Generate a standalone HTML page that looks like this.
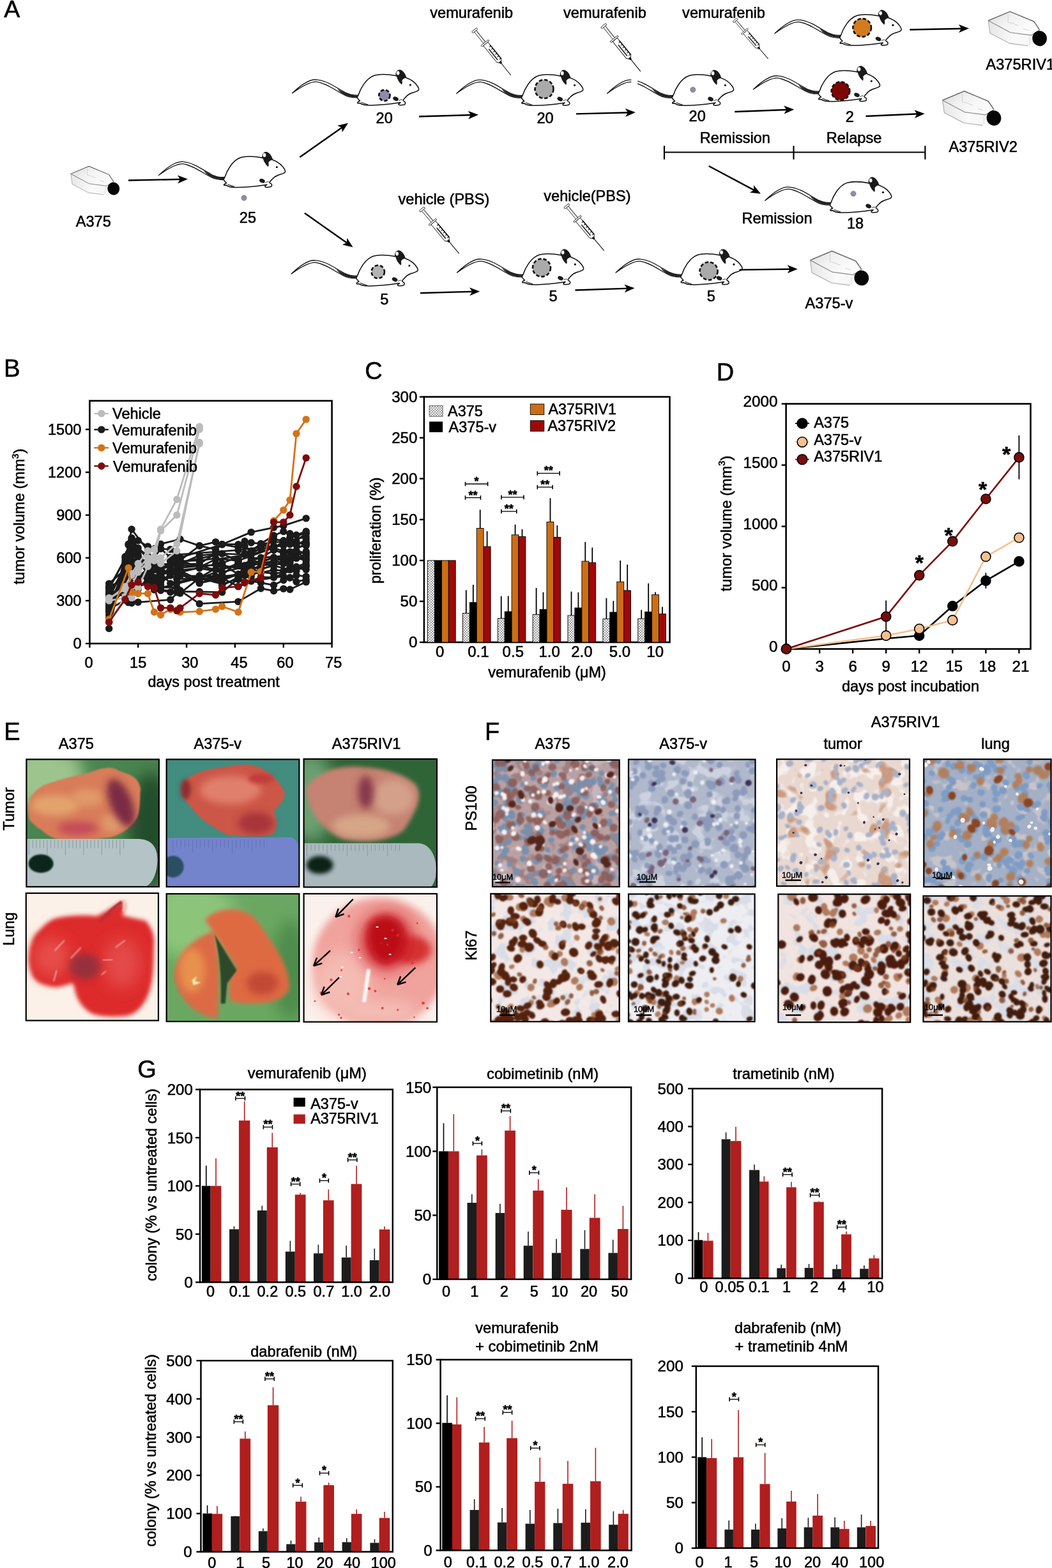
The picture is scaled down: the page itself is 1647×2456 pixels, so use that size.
<!DOCTYPE html>
<html><head><meta charset="utf-8"><title>Figure</title>
<style>html,body{margin:0;padding:0;background:#fff;}svg{display:block;}text{font-family:'Liberation Sans', Arial, sans-serif;stroke:#000;stroke-width:0.55px;}</style></head>
<body><svg width="1647" height="2456" viewBox="0 0 1647 2456" font-family="'Liberation Sans', Arial, sans-serif">
<rect width="1647" height="2456" fill="#fff"/>
<defs><linearGradient id="flasktop" x1="0" y1="0" x2="1" y2="0.6"><stop offset="0" stop-color="#d9d9d9"/><stop offset="0.45" stop-color="#f2f2f2"/><stop offset="1" stop-color="#fdfdfd"/></linearGradient><linearGradient id="flaskside" x1="0" y1="0" x2="1" y2="0"><stop offset="0" stop-color="#e6e6e6"/><stop offset="0.5" stop-color="#fafafa"/><stop offset="1" stop-color="#f4f4f4"/></linearGradient></defs>
<text x="6.3" y="26.6" font-size="37.5" text-anchor="start" fill="#000" >A</text>
<g transform="translate(177.8,295.5) scale(0.06378) translate(-1215,-720)"><path d="M165,355 L610,170 L1100,375 L1215,545 L1215,700 L980,870 L600,820 L200,610 Z" fill="url(#flaskside)"/><path d="M165,355 L620,600 L1040,655 L1215,545 L1100,375 L610,170 Z" fill="url(#flasktop)"/><path d="M165,355 L200,610 L600,820 L980,870" fill="none" stroke="#a8a8a8" stroke-width="14" stroke-linejoin="round"/><path d="M620,600 L1040,655 L1215,545 M165,355 L620,600" fill="none" stroke="#8a8a8a" stroke-width="16" stroke-linejoin="round"/><path d="M165,355 L610,170 L1100,375 L1215,545" fill="none" stroke="#6e6e6e" stroke-width="20" stroke-linejoin="round"/><path d="M570,230 L570,390 L640,400 L780,460 M880,520 L1000,560" fill="none" stroke="#bdbdbd" stroke-width="9"/><path d="M1010,690 L1010,860" fill="none" stroke="#d0d0d0" stroke-width="9"/><ellipse cx="1215" cy="720" rx="148" ry="156" fill="#060606" transform="rotate(-12 1215 720)"/></g>
<g transform="translate(1627.6,60.2) scale(0.07653) translate(-1215,-720)"><path d="M165,355 L610,170 L1100,375 L1215,545 L1215,700 L980,870 L600,820 L200,610 Z" fill="url(#flaskside)"/><path d="M165,355 L620,600 L1040,655 L1215,545 L1100,375 L610,170 Z" fill="url(#flasktop)"/><path d="M165,355 L200,610 L600,820 L980,870" fill="none" stroke="#a8a8a8" stroke-width="14" stroke-linejoin="round"/><path d="M620,600 L1040,655 L1215,545 M165,355 L620,600" fill="none" stroke="#8a8a8a" stroke-width="16" stroke-linejoin="round"/><path d="M165,355 L610,170 L1100,375 L1215,545" fill="none" stroke="#6e6e6e" stroke-width="20" stroke-linejoin="round"/><path d="M570,230 L570,390 L640,400 L780,460 M880,520 L1000,560" fill="none" stroke="#bdbdbd" stroke-width="9"/><path d="M1010,690 L1010,860" fill="none" stroke="#d0d0d0" stroke-width="9"/><ellipse cx="1215" cy="720" rx="148" ry="156" fill="#060606" transform="rotate(-12 1215 720)"/></g>
<g transform="translate(1556,184.9) scale(0.07653) translate(-1215,-720)"><path d="M165,355 L610,170 L1100,375 L1215,545 L1215,700 L980,870 L600,820 L200,610 Z" fill="url(#flaskside)"/><path d="M165,355 L620,600 L1040,655 L1215,545 L1100,375 L610,170 Z" fill="url(#flasktop)"/><path d="M165,355 L200,610 L600,820 L980,870" fill="none" stroke="#a8a8a8" stroke-width="14" stroke-linejoin="round"/><path d="M620,600 L1040,655 L1215,545 M165,355 L620,600" fill="none" stroke="#8a8a8a" stroke-width="16" stroke-linejoin="round"/><path d="M165,355 L610,170 L1100,375 L1215,545" fill="none" stroke="#6e6e6e" stroke-width="20" stroke-linejoin="round"/><path d="M570,230 L570,390 L640,400 L780,460 M880,520 L1000,560" fill="none" stroke="#bdbdbd" stroke-width="9"/><path d="M1010,690 L1010,860" fill="none" stroke="#d0d0d0" stroke-width="9"/><ellipse cx="1215" cy="720" rx="148" ry="156" fill="#060606" transform="rotate(-12 1215 720)"/></g>
<g transform="translate(1348.8,435.4) scale(0.07653) translate(-1215,-720)"><path d="M165,355 L610,170 L1100,375 L1215,545 L1215,700 L980,870 L600,820 L200,610 Z" fill="url(#flaskside)"/><path d="M165,355 L620,600 L1040,655 L1215,545 L1100,375 L610,170 Z" fill="url(#flasktop)"/><path d="M165,355 L200,610 L600,820 L980,870" fill="none" stroke="#a8a8a8" stroke-width="14" stroke-linejoin="round"/><path d="M620,600 L1040,655 L1215,545 M165,355 L620,600" fill="none" stroke="#8a8a8a" stroke-width="16" stroke-linejoin="round"/><path d="M165,355 L610,170 L1100,375 L1215,545" fill="none" stroke="#6e6e6e" stroke-width="20" stroke-linejoin="round"/><path d="M570,230 L570,390 L640,400 L780,460 M880,520 L1000,560" fill="none" stroke="#bdbdbd" stroke-width="9"/><path d="M1010,690 L1010,860" fill="none" stroke="#d0d0d0" stroke-width="9"/><ellipse cx="1215" cy="720" rx="148" ry="156" fill="#060606" transform="rotate(-12 1215 720)"/></g>
<g transform="translate(742.3,46.6) rotate(51.09) scale(1.000)" stroke="#111" fill="#fff"><rect x="0" y="-5" width="3" height="10" rx="1.5" stroke-width="0.8"/><rect x="3" y="-2" width="25" height="4" stroke-width="0.8"/><line x1="5" y1="-1" x2="26" y2="-1" stroke-width="0.6" stroke="#555"/><rect x="26" y="-7.5" width="2.5" height="15" rx="1.2" stroke-width="0.8"/><path d="M28.5,-4.5 L62,-4.5 L66,-1 L66,1 L62,4.5 L28.5,4.5 Z" stroke-width="0.9"/><line x1="34" y1="-4.5" x2="62" y2="-4.5" stroke-width="1.6"/><line x1="36" y1="-4.5" x2="36" y2="-1.5" stroke-width="1.1"/><line x1="41" y1="-4.5" x2="41" y2="-1.5" stroke-width="1.1"/><line x1="46" y1="-4.5" x2="46" y2="-1.5" stroke-width="1.1"/><line x1="51" y1="-4.5" x2="51" y2="-1.5" stroke-width="1.1"/><line x1="56" y1="-4.5" x2="56" y2="-1.5" stroke-width="1.1"/><line x1="61" y1="-4.5" x2="61" y2="-1.5" stroke-width="1.1"/><line x1="38" y1="1" x2="60" y2="1" stroke-width="1.6" stroke="#222"/><rect x="64" y="-1.6" width="4" height="3.2" fill="#111" stroke="none"/><line x1="68" y1="0" x2="91.4" y2="0" stroke-width="1.1"/></g>
<g transform="translate(944.4,39.6) rotate(51.06) scale(1.018)" stroke="#111" fill="#fff"><rect x="0" y="-5" width="3" height="10" rx="1.5" stroke-width="0.8"/><rect x="3" y="-2" width="25" height="4" stroke-width="0.8"/><line x1="5" y1="-1" x2="26" y2="-1" stroke-width="0.6" stroke="#555"/><rect x="26" y="-7.5" width="2.5" height="15" rx="1.2" stroke-width="0.8"/><path d="M28.5,-4.5 L62,-4.5 L66,-1 L66,1 L62,4.5 L28.5,4.5 Z" stroke-width="0.9"/><line x1="34" y1="-4.5" x2="62" y2="-4.5" stroke-width="1.6"/><line x1="36" y1="-4.5" x2="36" y2="-1.5" stroke-width="1.1"/><line x1="41" y1="-4.5" x2="41" y2="-1.5" stroke-width="1.1"/><line x1="46" y1="-4.5" x2="46" y2="-1.5" stroke-width="1.1"/><line x1="51" y1="-4.5" x2="51" y2="-1.5" stroke-width="1.1"/><line x1="56" y1="-4.5" x2="56" y2="-1.5" stroke-width="1.1"/><line x1="61" y1="-4.5" x2="61" y2="-1.5" stroke-width="1.1"/><line x1="38" y1="1" x2="60" y2="1" stroke-width="1.6" stroke="#222"/><rect x="64" y="-1.6" width="4" height="3.2" fill="#111" stroke="none"/><line x1="68" y1="0" x2="91.4" y2="0" stroke-width="1.1"/></g>
<g transform="translate(1150.3,31) rotate(49.44) scale(0.880)" stroke="#111" fill="#fff"><rect x="0" y="-5" width="3" height="10" rx="1.5" stroke-width="0.8"/><rect x="3" y="-2" width="25" height="4" stroke-width="0.8"/><line x1="5" y1="-1" x2="26" y2="-1" stroke-width="0.6" stroke="#555"/><rect x="26" y="-7.5" width="2.5" height="15" rx="1.2" stroke-width="0.8"/><path d="M28.5,-4.5 L62,-4.5 L66,-1 L66,1 L62,4.5 L28.5,4.5 Z" stroke-width="0.9"/><line x1="34" y1="-4.5" x2="62" y2="-4.5" stroke-width="1.6"/><line x1="36" y1="-4.5" x2="36" y2="-1.5" stroke-width="1.1"/><line x1="41" y1="-4.5" x2="41" y2="-1.5" stroke-width="1.1"/><line x1="46" y1="-4.5" x2="46" y2="-1.5" stroke-width="1.1"/><line x1="51" y1="-4.5" x2="51" y2="-1.5" stroke-width="1.1"/><line x1="56" y1="-4.5" x2="56" y2="-1.5" stroke-width="1.1"/><line x1="61" y1="-4.5" x2="61" y2="-1.5" stroke-width="1.1"/><line x1="38" y1="1" x2="60" y2="1" stroke-width="1.6" stroke="#222"/><rect x="64" y="-1.6" width="4" height="3.2" fill="#111" stroke="none"/><line x1="68" y1="0" x2="91.4" y2="0" stroke-width="1.1"/></g>
<g transform="translate(660,327) rotate(50.02) scale(1.000)" stroke="#111" fill="#fff"><rect x="0" y="-5" width="3" height="10" rx="1.5" stroke-width="0.8"/><rect x="3" y="-2" width="25" height="4" stroke-width="0.8"/><line x1="5" y1="-1" x2="26" y2="-1" stroke-width="0.6" stroke="#555"/><rect x="26" y="-7.5" width="2.5" height="15" rx="1.2" stroke-width="0.8"/><path d="M28.5,-4.5 L62,-4.5 L66,-1 L66,1 L62,4.5 L28.5,4.5 Z" stroke-width="0.9"/><line x1="34" y1="-4.5" x2="62" y2="-4.5" stroke-width="1.6"/><line x1="36" y1="-4.5" x2="36" y2="-1.5" stroke-width="1.1"/><line x1="41" y1="-4.5" x2="41" y2="-1.5" stroke-width="1.1"/><line x1="46" y1="-4.5" x2="46" y2="-1.5" stroke-width="1.1"/><line x1="51" y1="-4.5" x2="51" y2="-1.5" stroke-width="1.1"/><line x1="56" y1="-4.5" x2="56" y2="-1.5" stroke-width="1.1"/><line x1="61" y1="-4.5" x2="61" y2="-1.5" stroke-width="1.1"/><line x1="38" y1="1" x2="60" y2="1" stroke-width="1.6" stroke="#222"/><rect x="64" y="-1.6" width="4" height="3.2" fill="#111" stroke="none"/><line x1="68" y1="0" x2="91.4" y2="0" stroke-width="1.1"/></g>
<g transform="translate(886.4,321.9) rotate(50.01) scale(1.010)" stroke="#111" fill="#fff"><rect x="0" y="-5" width="3" height="10" rx="1.5" stroke-width="0.8"/><rect x="3" y="-2" width="25" height="4" stroke-width="0.8"/><line x1="5" y1="-1" x2="26" y2="-1" stroke-width="0.6" stroke="#555"/><rect x="26" y="-7.5" width="2.5" height="15" rx="1.2" stroke-width="0.8"/><path d="M28.5,-4.5 L62,-4.5 L66,-1 L66,1 L62,4.5 L28.5,4.5 Z" stroke-width="0.9"/><line x1="34" y1="-4.5" x2="62" y2="-4.5" stroke-width="1.6"/><line x1="36" y1="-4.5" x2="36" y2="-1.5" stroke-width="1.1"/><line x1="41" y1="-4.5" x2="41" y2="-1.5" stroke-width="1.1"/><line x1="46" y1="-4.5" x2="46" y2="-1.5" stroke-width="1.1"/><line x1="51" y1="-4.5" x2="51" y2="-1.5" stroke-width="1.1"/><line x1="56" y1="-4.5" x2="56" y2="-1.5" stroke-width="1.1"/><line x1="61" y1="-4.5" x2="61" y2="-1.5" stroke-width="1.1"/><line x1="38" y1="1" x2="60" y2="1" stroke-width="1.6" stroke="#222"/><rect x="64" y="-1.6" width="4" height="3.2" fill="#111" stroke="none"/><line x1="68" y1="0" x2="91.4" y2="0" stroke-width="1.1"/></g>
<g transform="translate(248.4,274.6) scale(0.14031) translate(-60,-318)" stroke-linejoin="round"><path d="M60,318 C150,232 250,160 330,167 C450,175 560,262 650,310 C700,335 740,342 795,340 L800,366 C742,372 690,362 640,337 C550,292 440,205 330,190 C250,186 150,252 60,318 Z" fill="#fff" stroke="#111" stroke-width="9"/><path d="M560,262 C600,290 640,310 700,330 C740,342 770,343 795,342 L798,362 C750,368 700,360 650,336 C610,318 585,300 560,262 Z" fill="#222"/><path d="M795,345 C820,270 880,150 980,118 C1060,95 1150,110 1222,124 C1212,85 1238,55 1266,62 C1300,72 1318,110 1330,145 C1372,160 1420,190 1445,222 C1462,245 1480,265 1470,283 C1455,300 1420,306 1395,315 C1370,325 1345,340 1330,358 C1312,378 1290,395 1302,405 C1322,412 1332,432 1312,446 L1272,452 C1252,452 1240,446 1250,436 L1268,422 C1150,440 1000,456 900,452 C860,450 830,440 815,428 L792,430 C780,422 800,410 816,404 C800,388 772,368 795,345 Z" fill="#fff" stroke="#111" stroke-width="11"/><path d="M1222,124 C1212,85 1238,55 1266,62 C1300,72 1318,110 1330,145 C1310,150 1295,160 1285,175 C1290,195 1288,215 1282,222 C1255,200 1235,170 1222,124 Z" fill="#1a1a1a"/><ellipse cx="1240" cy="92" rx="17" ry="22" fill="#fff"/><circle cx="1378" cy="226" r="11" fill="#000"/><ellipse cx="1215" cy="380" rx="32" ry="22" fill="#1a1a1a" transform="rotate(25 1215 380)"/><path d="M830,420 C860,430 880,440 905,445" fill="none" stroke="#111" stroke-width="8"/><path d="M1250,400 C1265,390 1280,388 1290,392" fill="none" stroke="#111" stroke-width="6"/></g>
<g transform="translate(457.5,146) scale(0.14031) translate(-60,-318)" stroke-linejoin="round"><path d="M60,318 C150,232 250,160 330,167 C450,175 560,262 650,310 C700,335 740,342 795,340 L800,366 C742,372 690,362 640,337 C550,292 440,205 330,190 C250,186 150,252 60,318 Z" fill="#fff" stroke="#111" stroke-width="9"/><path d="M560,262 C600,290 640,310 700,330 C740,342 770,343 795,342 L798,362 C750,368 700,360 650,336 C610,318 585,300 560,262 Z" fill="#222"/><path d="M795,345 C820,270 880,150 980,118 C1060,95 1150,110 1222,124 C1212,85 1238,55 1266,62 C1300,72 1318,110 1330,145 C1372,160 1420,190 1445,222 C1462,245 1480,265 1470,283 C1455,300 1420,306 1395,315 C1370,325 1345,340 1330,358 C1312,378 1290,395 1302,405 C1322,412 1332,432 1312,446 L1272,452 C1252,452 1240,446 1250,436 L1268,422 C1150,440 1000,456 900,452 C860,450 830,440 815,428 L792,430 C780,422 800,410 816,404 C800,388 772,368 795,345 Z" fill="#fff" stroke="#111" stroke-width="11"/><path d="M1222,124 C1212,85 1238,55 1266,62 C1300,72 1318,110 1330,145 C1310,150 1295,160 1285,175 C1290,195 1288,215 1282,222 C1255,200 1235,170 1222,124 Z" fill="#1a1a1a"/><ellipse cx="1240" cy="92" rx="17" ry="22" fill="#fff"/><circle cx="1378" cy="226" r="11" fill="#000"/><ellipse cx="1215" cy="380" rx="32" ry="22" fill="#1a1a1a" transform="rotate(25 1215 380)"/><path d="M830,420 C860,430 880,440 905,445" fill="none" stroke="#111" stroke-width="8"/><path d="M1250,400 C1265,390 1280,388 1290,392" fill="none" stroke="#111" stroke-width="6"/></g>
<g transform="translate(714.7,146.4) scale(0.14031) translate(-60,-318)" stroke-linejoin="round"><path d="M60,318 C150,232 250,160 330,167 C450,175 560,262 650,310 C700,335 740,342 795,340 L800,366 C742,372 690,362 640,337 C550,292 440,205 330,190 C250,186 150,252 60,318 Z" fill="#fff" stroke="#111" stroke-width="9"/><path d="M560,262 C600,290 640,310 700,330 C740,342 770,343 795,342 L798,362 C750,368 700,360 650,336 C610,318 585,300 560,262 Z" fill="#222"/><path d="M795,345 C820,270 880,150 980,118 C1060,95 1150,110 1222,124 C1212,85 1238,55 1266,62 C1300,72 1318,110 1330,145 C1372,160 1420,190 1445,222 C1462,245 1480,265 1470,283 C1455,300 1420,306 1395,315 C1370,325 1345,340 1330,358 C1312,378 1290,395 1302,405 C1322,412 1332,432 1312,446 L1272,452 C1252,452 1240,446 1250,436 L1268,422 C1150,440 1000,456 900,452 C860,450 830,440 815,428 L792,430 C780,422 800,410 816,404 C800,388 772,368 795,345 Z" fill="#fff" stroke="#111" stroke-width="11"/><path d="M1222,124 C1212,85 1238,55 1266,62 C1300,72 1318,110 1330,145 C1310,150 1295,160 1285,175 C1290,195 1288,215 1282,222 C1255,200 1235,170 1222,124 Z" fill="#1a1a1a"/><ellipse cx="1240" cy="92" rx="17" ry="22" fill="#fff"/><circle cx="1378" cy="226" r="11" fill="#000"/><ellipse cx="1215" cy="380" rx="32" ry="22" fill="#1a1a1a" transform="rotate(25 1215 380)"/><path d="M830,420 C860,430 880,440 905,445" fill="none" stroke="#111" stroke-width="8"/><path d="M1250,400 C1265,390 1280,388 1290,392" fill="none" stroke="#111" stroke-width="6"/></g>
<g transform="translate(950.5,146.4) scale(0.14031) translate(-60,-318)" stroke-linejoin="round"><path d="M60,318 C150,232 250,160 330,167 C450,175 560,262 650,310 C700,335 740,342 795,340 L800,366 C742,372 690,362 640,337 C550,292 440,205 330,190 C250,186 150,252 60,318 Z" fill="#fff" stroke="#111" stroke-width="9"/><path d="M560,262 C600,290 640,310 700,330 C740,342 770,343 795,342 L798,362 C750,368 700,360 650,336 C610,318 585,300 560,262 Z" fill="#222"/><rect x="330" y="140" width="70" height="80" fill="#fff"/><path d="M795,345 C820,270 880,150 980,118 C1060,95 1150,110 1222,124 C1212,85 1238,55 1266,62 C1300,72 1318,110 1330,145 C1372,160 1420,190 1445,222 C1462,245 1480,265 1470,283 C1455,300 1420,306 1395,315 C1370,325 1345,340 1330,358 C1312,378 1290,395 1302,405 C1322,412 1332,432 1312,446 L1272,452 C1252,452 1240,446 1250,436 L1268,422 C1150,440 1000,456 900,452 C860,450 830,440 815,428 L792,430 C780,422 800,410 816,404 C800,388 772,368 795,345 Z" fill="#fff" stroke="#111" stroke-width="11"/><path d="M1222,124 C1212,85 1238,55 1266,62 C1300,72 1318,110 1330,145 C1310,150 1295,160 1285,175 C1290,195 1288,215 1282,222 C1255,200 1235,170 1222,124 Z" fill="#1a1a1a"/><ellipse cx="1240" cy="92" rx="17" ry="22" fill="#fff"/><circle cx="1378" cy="226" r="11" fill="#000"/><ellipse cx="1215" cy="380" rx="32" ry="22" fill="#1a1a1a" transform="rotate(25 1215 380)"/><path d="M830,420 C860,430 880,440 905,445" fill="none" stroke="#111" stroke-width="8"/><path d="M1250,400 C1265,390 1280,388 1290,392" fill="none" stroke="#111" stroke-width="6"/></g>
<g transform="translate(1213,52.3) scale(0.14031) translate(-60,-318)" stroke-linejoin="round"><path d="M60,318 C150,232 250,160 330,167 C450,175 560,262 650,310 C700,335 740,342 795,340 L800,366 C742,372 690,362 640,337 C550,292 440,205 330,190 C250,186 150,252 60,318 Z" fill="#fff" stroke="#111" stroke-width="9"/><path d="M560,262 C600,290 640,310 700,330 C740,342 770,343 795,342 L798,362 C750,368 700,360 650,336 C610,318 585,300 560,262 Z" fill="#222"/><path d="M795,345 C820,270 880,150 980,118 C1060,95 1150,110 1222,124 C1212,85 1238,55 1266,62 C1300,72 1318,110 1330,145 C1372,160 1420,190 1445,222 C1462,245 1480,265 1470,283 C1455,300 1420,306 1395,315 C1370,325 1345,340 1330,358 C1312,378 1290,395 1302,405 C1322,412 1332,432 1312,446 L1272,452 C1252,452 1240,446 1250,436 L1268,422 C1150,440 1000,456 900,452 C860,450 830,440 815,428 L792,430 C780,422 800,410 816,404 C800,388 772,368 795,345 Z" fill="#fff" stroke="#111" stroke-width="11"/><path d="M1222,124 C1212,85 1238,55 1266,62 C1300,72 1318,110 1330,145 C1310,150 1295,160 1285,175 C1290,195 1288,215 1282,222 C1255,200 1235,170 1222,124 Z" fill="#1a1a1a"/><ellipse cx="1240" cy="92" rx="17" ry="22" fill="#fff"/><circle cx="1378" cy="226" r="11" fill="#000"/><ellipse cx="1215" cy="380" rx="32" ry="22" fill="#1a1a1a" transform="rotate(25 1215 380)"/><path d="M830,420 C860,430 880,440 905,445" fill="none" stroke="#111" stroke-width="8"/><path d="M1250,400 C1265,390 1280,388 1290,392" fill="none" stroke="#111" stroke-width="6"/></g>
<g transform="translate(1179.4,140) scale(0.14031) translate(-60,-318)" stroke-linejoin="round"><path d="M60,318 C150,232 250,160 330,167 C450,175 560,262 650,310 C700,335 740,342 795,340 L800,366 C742,372 690,362 640,337 C550,292 440,205 330,190 C250,186 150,252 60,318 Z" fill="#fff" stroke="#111" stroke-width="9"/><path d="M560,262 C600,290 640,310 700,330 C740,342 770,343 795,342 L798,362 C750,368 700,360 650,336 C610,318 585,300 560,262 Z" fill="#222"/><path d="M795,345 C820,270 880,150 980,118 C1060,95 1150,110 1222,124 C1212,85 1238,55 1266,62 C1300,72 1318,110 1330,145 C1372,160 1420,190 1445,222 C1462,245 1480,265 1470,283 C1455,300 1420,306 1395,315 C1370,325 1345,340 1330,358 C1312,378 1290,395 1302,405 C1322,412 1332,432 1312,446 L1272,452 C1252,452 1240,446 1250,436 L1268,422 C1150,440 1000,456 900,452 C860,450 830,440 815,428 L792,430 C780,422 800,410 816,404 C800,388 772,368 795,345 Z" fill="#fff" stroke="#111" stroke-width="11"/><path d="M1222,124 C1212,85 1238,55 1266,62 C1300,72 1318,110 1330,145 C1310,150 1295,160 1285,175 C1290,195 1288,215 1282,222 C1255,200 1235,170 1222,124 Z" fill="#1a1a1a"/><ellipse cx="1240" cy="92" rx="17" ry="22" fill="#fff"/><circle cx="1378" cy="226" r="11" fill="#000"/><ellipse cx="1215" cy="380" rx="32" ry="22" fill="#1a1a1a" transform="rotate(25 1215 380)"/><path d="M830,420 C860,430 880,440 905,445" fill="none" stroke="#111" stroke-width="8"/><path d="M1250,400 C1265,390 1280,388 1290,392" fill="none" stroke="#111" stroke-width="6"/></g>
<g transform="translate(456,429) scale(0.14031) translate(-60,-318)" stroke-linejoin="round"><path d="M60,318 C150,232 250,160 330,167 C450,175 560,262 650,310 C700,335 740,342 795,340 L800,366 C742,372 690,362 640,337 C550,292 440,205 330,190 C250,186 150,252 60,318 Z" fill="#fff" stroke="#111" stroke-width="9"/><path d="M560,262 C600,290 640,310 700,330 C740,342 770,343 795,342 L798,362 C750,368 700,360 650,336 C610,318 585,300 560,262 Z" fill="#222"/><path d="M795,345 C820,270 880,150 980,118 C1060,95 1150,110 1222,124 C1212,85 1238,55 1266,62 C1300,72 1318,110 1330,145 C1372,160 1420,190 1445,222 C1462,245 1480,265 1470,283 C1455,300 1420,306 1395,315 C1370,325 1345,340 1330,358 C1312,378 1290,395 1302,405 C1322,412 1332,432 1312,446 L1272,452 C1252,452 1240,446 1250,436 L1268,422 C1150,440 1000,456 900,452 C860,450 830,440 815,428 L792,430 C780,422 800,410 816,404 C800,388 772,368 795,345 Z" fill="#fff" stroke="#111" stroke-width="11"/><path d="M1222,124 C1212,85 1238,55 1266,62 C1300,72 1318,110 1330,145 C1310,150 1295,160 1285,175 C1290,195 1288,215 1282,222 C1255,200 1235,170 1222,124 Z" fill="#1a1a1a"/><ellipse cx="1240" cy="92" rx="17" ry="22" fill="#fff"/><circle cx="1378" cy="226" r="11" fill="#000"/><ellipse cx="1215" cy="380" rx="32" ry="22" fill="#1a1a1a" transform="rotate(25 1215 380)"/><path d="M830,420 C860,430 880,440 905,445" fill="none" stroke="#111" stroke-width="8"/><path d="M1250,400 C1265,390 1280,388 1290,392" fill="none" stroke="#111" stroke-width="6"/></g>
<g transform="translate(715.5,427) scale(0.14031) translate(-60,-318)" stroke-linejoin="round"><path d="M60,318 C150,232 250,160 330,167 C450,175 560,262 650,310 C700,335 740,342 795,340 L800,366 C742,372 690,362 640,337 C550,292 440,205 330,190 C250,186 150,252 60,318 Z" fill="#fff" stroke="#111" stroke-width="9"/><path d="M560,262 C600,290 640,310 700,330 C740,342 770,343 795,342 L798,362 C750,368 700,360 650,336 C610,318 585,300 560,262 Z" fill="#222"/><path d="M795,345 C820,270 880,150 980,118 C1060,95 1150,110 1222,124 C1212,85 1238,55 1266,62 C1300,72 1318,110 1330,145 C1372,160 1420,190 1445,222 C1462,245 1480,265 1470,283 C1455,300 1420,306 1395,315 C1370,325 1345,340 1330,358 C1312,378 1290,395 1302,405 C1322,412 1332,432 1312,446 L1272,452 C1252,452 1240,446 1250,436 L1268,422 C1150,440 1000,456 900,452 C860,450 830,440 815,428 L792,430 C780,422 800,410 816,404 C800,388 772,368 795,345 Z" fill="#fff" stroke="#111" stroke-width="11"/><path d="M1222,124 C1212,85 1238,55 1266,62 C1300,72 1318,110 1330,145 C1310,150 1295,160 1285,175 C1290,195 1288,215 1282,222 C1255,200 1235,170 1222,124 Z" fill="#1a1a1a"/><ellipse cx="1240" cy="92" rx="17" ry="22" fill="#fff"/><circle cx="1378" cy="226" r="11" fill="#000"/><ellipse cx="1215" cy="380" rx="32" ry="22" fill="#1a1a1a" transform="rotate(25 1215 380)"/><path d="M830,420 C860,430 880,440 905,445" fill="none" stroke="#111" stroke-width="8"/><path d="M1250,400 C1265,390 1280,388 1290,392" fill="none" stroke="#111" stroke-width="6"/></g>
<g transform="translate(964,427) scale(0.14031) translate(-60,-318)" stroke-linejoin="round"><path d="M60,318 C150,232 250,160 330,167 C450,175 560,262 650,310 C700,335 740,342 795,340 L800,366 C742,372 690,362 640,337 C550,292 440,205 330,190 C250,186 150,252 60,318 Z" fill="#fff" stroke="#111" stroke-width="9"/><path d="M560,262 C600,290 640,310 700,330 C740,342 770,343 795,342 L798,362 C750,368 700,360 650,336 C610,318 585,300 560,262 Z" fill="#222"/><path d="M795,345 C820,270 880,150 980,118 C1060,95 1150,110 1222,124 C1212,85 1238,55 1266,62 C1300,72 1318,110 1330,145 C1372,160 1420,190 1445,222 C1462,245 1480,265 1470,283 C1455,300 1420,306 1395,315 C1370,325 1345,340 1330,358 C1312,378 1290,395 1302,405 C1322,412 1332,432 1312,446 L1272,452 C1252,452 1240,446 1250,436 L1268,422 C1150,440 1000,456 900,452 C860,450 830,440 815,428 L792,430 C780,422 800,410 816,404 C800,388 772,368 795,345 Z" fill="#fff" stroke="#111" stroke-width="11"/><path d="M1222,124 C1212,85 1238,55 1266,62 C1300,72 1318,110 1330,145 C1310,150 1295,160 1285,175 C1290,195 1288,215 1282,222 C1255,200 1235,170 1222,124 Z" fill="#1a1a1a"/><ellipse cx="1240" cy="92" rx="17" ry="22" fill="#fff"/><circle cx="1378" cy="226" r="11" fill="#000"/><ellipse cx="1215" cy="380" rx="32" ry="22" fill="#1a1a1a" transform="rotate(25 1215 380)"/><path d="M830,420 C860,430 880,440 905,445" fill="none" stroke="#111" stroke-width="8"/><path d="M1250,400 C1265,390 1280,388 1290,392" fill="none" stroke="#111" stroke-width="6"/></g>
<g transform="translate(1197.6,314.2) scale(0.14031) translate(-60,-318)" stroke-linejoin="round"><path d="M60,318 C150,232 250,160 330,167 C450,175 560,262 650,310 C700,335 740,342 795,340 L800,366 C742,372 690,362 640,337 C550,292 440,205 330,190 C250,186 150,252 60,318 Z" fill="#fff" stroke="#111" stroke-width="9"/><path d="M560,262 C600,290 640,310 700,330 C740,342 770,343 795,342 L798,362 C750,368 700,360 650,336 C610,318 585,300 560,262 Z" fill="#222"/><path d="M795,345 C820,270 880,150 980,118 C1060,95 1150,110 1222,124 C1212,85 1238,55 1266,62 C1300,72 1318,110 1330,145 C1372,160 1420,190 1445,222 C1462,245 1480,265 1470,283 C1455,300 1420,306 1395,315 C1370,325 1345,340 1330,358 C1312,378 1290,395 1302,405 C1322,412 1332,432 1312,446 L1272,452 C1252,452 1240,446 1250,436 L1268,422 C1150,440 1000,456 900,452 C860,450 830,440 815,428 L792,430 C780,422 800,410 816,404 C800,388 772,368 795,345 Z" fill="#fff" stroke="#111" stroke-width="11"/><path d="M1222,124 C1212,85 1238,55 1266,62 C1300,72 1318,110 1330,145 C1310,150 1295,160 1285,175 C1290,195 1288,215 1282,222 C1255,200 1235,170 1222,124 Z" fill="#1a1a1a"/><ellipse cx="1240" cy="92" rx="17" ry="22" fill="#fff"/><circle cx="1378" cy="226" r="11" fill="#000"/><ellipse cx="1215" cy="380" rx="32" ry="22" fill="#1a1a1a" transform="rotate(25 1215 380)"/><path d="M830,420 C860,430 880,440 905,445" fill="none" stroke="#111" stroke-width="8"/><path d="M1250,400 C1265,390 1280,388 1290,392" fill="none" stroke="#111" stroke-width="6"/></g>
<circle cx="382" cy="310" r="4.2" fill="#8f8cab" stroke="#777" stroke-width="0.6"/>
<circle cx="601.9" cy="149.4" r="8.6" fill="#8d8bab" stroke="#111" stroke-width="2.6" stroke-dasharray="5.5 3"/>
<circle cx="852" cy="139.5" r="14.5" fill="#aaaaaa" stroke="#111" stroke-width="2.6" stroke-dasharray="5.5 3"/>
<circle cx="1084.8" cy="140.5" r="4.2" fill="#8f8cab" stroke="#777" stroke-width="0.6"/>
<circle cx="1349.7" cy="43.4" r="14.3" fill="#d27c1e" stroke="#111" stroke-width="2.6" stroke-dasharray="5.5 3"/>
<circle cx="1316" cy="142.5" r="14.3" fill="#7c0606" stroke="#111" stroke-width="2.6" stroke-dasharray="5.5 3"/>
<circle cx="591.8" cy="425.8" r="10.2" fill="#b3b3b3" stroke="#111" stroke-width="2.6" stroke-dasharray="5.5 3"/>
<circle cx="848" cy="419.4" r="14" fill="#aaaaaa" stroke="#111" stroke-width="2.6" stroke-dasharray="5.5 3"/>
<circle cx="1109.6" cy="424.5" r="14" fill="#aaaaaa" stroke="#111" stroke-width="2.6" stroke-dasharray="5.5 3"/>
<circle cx="1336" cy="303.4" r="4.2" fill="#8f8cab" stroke="#777" stroke-width="0.6"/>
<line x1="201" y1="282.5" x2="286" y2="280.8" stroke="#000" stroke-width="2.4" />
<polygon points="294,280.6 278.1,287.4 282,280.8 277.9,274.4" fill="#000"/>
<line x1="469.3" y1="246.2" x2="538.5" y2="197.4" stroke="#000" stroke-width="2.4" />
<polygon points="545,192.8 535.7,207.3 535.2,199.7 528.2,196.7" fill="#000"/>
<line x1="476.9" y1="333.8" x2="546.1" y2="382.6" stroke="#000" stroke-width="2.4" />
<polygon points="552.6,387.2 535.8,383.3 542.8,380.3 543.3,372.7" fill="#000"/>
<line x1="656" y1="182.5" x2="741" y2="180" stroke="#000" stroke-width="2.4" />
<polygon points="749,179.8 733.2,186.8 737,180.1 732.8,173.8" fill="#000"/>
<line x1="902" y1="178.4" x2="987" y2="176.2" stroke="#000" stroke-width="2.4" />
<polygon points="995,176 979.2,182.9 983,176.3 978.8,169.9" fill="#000"/>
<line x1="1150.3" y1="175" x2="1235.3" y2="171.8" stroke="#000" stroke-width="2.4" />
<polygon points="1243.3,171.5 1227.6,178.6 1231.3,172 1227.1,165.6" fill="#000"/>
<line x1="1355.5" y1="182" x2="1439.7" y2="178.3" stroke="#000" stroke-width="2.4" />
<polygon points="1447.7,178 1432,185.2 1435.7,178.5 1431.4,172.2" fill="#000"/>
<line x1="1424.4" y1="46.5" x2="1509" y2="44.7" stroke="#000" stroke-width="2.4" />
<polygon points="1517,44.5 1501.1,51.3 1505,44.8 1500.9,38.3" fill="#000"/>
<line x1="1109.6" y1="260" x2="1183.9" y2="299.6" stroke="#000" stroke-width="2.4" />
<polygon points="1191,303.4 1173.8,301.6 1180.4,297.8 1179.9,290.1" fill="#000"/>
<line x1="658" y1="459" x2="743.2" y2="456.6" stroke="#000" stroke-width="2.4" />
<polygon points="751.2,456.4 735.4,463.3 739.2,456.7 735,450.3" fill="#000"/>
<line x1="900.5" y1="454.5" x2="985.6" y2="451.6" stroke="#000" stroke-width="2.4" />
<polygon points="993.6,451.3 977.8,458.3 981.6,451.7 977.4,445.4" fill="#000"/>
<line x1="1157.5" y1="422.6" x2="1240.7" y2="421.5" stroke="#000" stroke-width="2.4" />
<polygon points="1248.7,421.4 1232.8,428.1 1236.7,421.6 1232.6,415.1" fill="#000"/>
<line x1="1040" y1="238.5" x2="1448.4" y2="238.5" stroke="#000" stroke-width="2.2" />
<line x1="1040" y1="228.4" x2="1040" y2="249.7" stroke="#000" stroke-width="2.2" />
<line x1="1242.5" y1="228.4" x2="1242.5" y2="249.7" stroke="#000" stroke-width="2.2" />
<line x1="1448.4" y1="228.4" x2="1448.4" y2="249.7" stroke="#000" stroke-width="2.2" />
<text x="146.3" y="355.2" font-size="23.6" text-anchor="middle" fill="#000" >A375</text>
<text x="387.9" y="349.3" font-size="23.6" text-anchor="middle" fill="#000" >25</text>
<text x="738.2" y="27.8" font-size="23.6" text-anchor="middle" fill="#000" >vemurafenib</text>
<text x="946.9" y="27.8" font-size="23.6" text-anchor="middle" fill="#000" >vemurafenib</text>
<text x="1133" y="27.8" font-size="23.6" text-anchor="middle" fill="#000" >vemurafenib</text>
<text x="601.7" y="193" font-size="23.6" text-anchor="middle" fill="#000" >20</text>
<text x="853.5" y="192.6" font-size="23.6" text-anchor="middle" fill="#000" >20</text>
<text x="1091.7" y="189.5" font-size="23.6" text-anchor="middle" fill="#000" >20</text>
<text x="1330.4" y="191" font-size="23.6" text-anchor="middle" fill="#000" >2</text>
<text x="1150.9" y="223.5" font-size="23.6" text-anchor="middle" fill="#000" >Remission</text>
<text x="1337.1" y="223.5" font-size="23.6" text-anchor="middle" fill="#000" >Relapse</text>
<text x="1543.5" y="109.3" font-size="23.6" text-anchor="start" fill="#000" >A375RIV1</text>
<text x="1539.2" y="237.9" font-size="23.6" text-anchor="middle" fill="#000" >A375RIV2</text>
<text x="695" y="320.3" font-size="23.6" text-anchor="middle" fill="#000" >vehicle (PBS)</text>
<text x="919.5" y="315.3" font-size="23.6" text-anchor="middle" fill="#000" >vehicle(PBS)</text>
<text x="1216.5" y="349.5" font-size="23.6" text-anchor="middle" fill="#000" >Remission</text>
<text x="1339" y="358.2" font-size="23.6" text-anchor="middle" fill="#000" >18</text>
<text x="601.8" y="476.6" font-size="23.6" text-anchor="middle" fill="#000" >5</text>
<text x="866" y="472.3" font-size="23.6" text-anchor="middle" fill="#000" >5</text>
<text x="1113.4" y="472.3" font-size="23.6" text-anchor="middle" fill="#000" >5</text>
<text x="1298" y="483" font-size="23.6" text-anchor="middle" fill="#000" >A375-v</text>
<text x="5.9" y="590" font-size="38.3" text-anchor="start" fill="#000" >B</text>
<polyline points="170.7,984.5 196,881.2 201.1,853.7 206.1,829 231.4,862.4 251.6,852.1 282,844.5 312.3,854.9 337.6,860.7 347.7,852.7 393.2,833.6 428.6,826.3 443.8,823.4 479.2,811.9" fill="none" stroke="#1b1b1b" stroke-width="2.8" stroke-linejoin="round"/>
<circle cx="170.7" cy="984.5" r="5.7" fill="#1b1b1b" />
<circle cx="196" cy="881.2" r="5.7" fill="#1b1b1b" />
<circle cx="201.1" cy="853.7" r="5.7" fill="#1b1b1b" />
<circle cx="206.1" cy="829" r="5.7" fill="#1b1b1b" />
<circle cx="231.4" cy="862.4" r="5.7" fill="#1b1b1b" />
<circle cx="251.6" cy="852.1" r="5.7" fill="#1b1b1b" />
<circle cx="282" cy="844.5" r="5.7" fill="#1b1b1b" />
<circle cx="312.3" cy="854.9" r="5.7" fill="#1b1b1b" />
<circle cx="337.6" cy="860.7" r="5.7" fill="#1b1b1b" />
<circle cx="347.7" cy="852.7" r="5.7" fill="#1b1b1b" />
<circle cx="393.2" cy="833.6" r="5.7" fill="#1b1b1b" />
<circle cx="428.6" cy="826.3" r="5.7" fill="#1b1b1b" />
<circle cx="443.8" cy="823.4" r="5.7" fill="#1b1b1b" />
<circle cx="479.2" cy="811.9" r="5.7" fill="#1b1b1b" />
<polyline points="170.7,974.5 196,877.9 201.1,852.3 206.1,842.6 216.2,846.7 231.4,855.9 241.5,859.5 266.8,860.4 282,877.9 312.3,854.8 337.6,848.9 347.7,852.5 373,852.7 383.1,847.7 393.2,850 408.4,851.7 428.6,838.7 443.8,832.5 453.9,835.7 464,838 479.2,832.2" fill="none" stroke="#1b1b1b" stroke-width="2.8" stroke-linejoin="round"/>
<circle cx="170.7" cy="974.5" r="5.7" fill="#1b1b1b" />
<circle cx="196" cy="877.9" r="5.7" fill="#1b1b1b" />
<circle cx="201.1" cy="852.3" r="5.7" fill="#1b1b1b" />
<circle cx="206.1" cy="842.6" r="5.7" fill="#1b1b1b" />
<circle cx="216.2" cy="846.7" r="5.7" fill="#1b1b1b" />
<circle cx="231.4" cy="855.9" r="5.7" fill="#1b1b1b" />
<circle cx="241.5" cy="859.5" r="5.7" fill="#1b1b1b" />
<circle cx="266.8" cy="860.4" r="5.7" fill="#1b1b1b" />
<circle cx="282" cy="877.9" r="5.7" fill="#1b1b1b" />
<circle cx="312.3" cy="854.8" r="5.7" fill="#1b1b1b" />
<circle cx="337.6" cy="848.9" r="5.7" fill="#1b1b1b" />
<circle cx="347.7" cy="852.5" r="5.7" fill="#1b1b1b" />
<circle cx="373" cy="852.7" r="5.7" fill="#1b1b1b" />
<circle cx="383.1" cy="847.7" r="5.7" fill="#1b1b1b" />
<circle cx="393.2" cy="850" r="5.7" fill="#1b1b1b" />
<circle cx="408.4" cy="851.7" r="5.7" fill="#1b1b1b" />
<circle cx="428.6" cy="838.7" r="5.7" fill="#1b1b1b" />
<circle cx="443.8" cy="832.5" r="5.7" fill="#1b1b1b" />
<circle cx="453.9" cy="835.7" r="5.7" fill="#1b1b1b" />
<circle cx="464" cy="838" r="5.7" fill="#1b1b1b" />
<circle cx="479.2" cy="832.2" r="5.7" fill="#1b1b1b" />
<polyline points="170.7,963.3 196,890.1 206.1,844.8 231.4,876 241.5,880.2 251.6,891.5 266.8,886.7 276.9,868.8 373,861.7 408.4,857.4 428.6,844.7 443.8,847 453.9,842.4 479.2,835" fill="none" stroke="#1b1b1b" stroke-width="2.8" stroke-linejoin="round"/>
<circle cx="170.7" cy="963.3" r="5.7" fill="#1b1b1b" />
<circle cx="196" cy="890.1" r="5.7" fill="#1b1b1b" />
<circle cx="206.1" cy="844.8" r="5.7" fill="#1b1b1b" />
<circle cx="231.4" cy="876" r="5.7" fill="#1b1b1b" />
<circle cx="241.5" cy="880.2" r="5.7" fill="#1b1b1b" />
<circle cx="251.6" cy="891.5" r="5.7" fill="#1b1b1b" />
<circle cx="266.8" cy="886.7" r="5.7" fill="#1b1b1b" />
<circle cx="276.9" cy="868.8" r="5.7" fill="#1b1b1b" />
<circle cx="373" cy="861.7" r="5.7" fill="#1b1b1b" />
<circle cx="408.4" cy="857.4" r="5.7" fill="#1b1b1b" />
<circle cx="428.6" cy="844.7" r="5.7" fill="#1b1b1b" />
<circle cx="443.8" cy="847" r="5.7" fill="#1b1b1b" />
<circle cx="453.9" cy="842.4" r="5.7" fill="#1b1b1b" />
<circle cx="479.2" cy="835" r="5.7" fill="#1b1b1b" />
<polyline points="170.7,956.6 196,899.3 206.1,881.7 251.6,883.6 312.3,883.2 337.6,866.9 383.1,868.7 408.4,854.5 428.6,856.6 464,851.4 479.2,849.3" fill="none" stroke="#1b1b1b" stroke-width="2.8" stroke-linejoin="round"/>
<circle cx="170.7" cy="956.6" r="5.7" fill="#1b1b1b" />
<circle cx="196" cy="899.3" r="5.7" fill="#1b1b1b" />
<circle cx="206.1" cy="881.7" r="5.7" fill="#1b1b1b" />
<circle cx="251.6" cy="883.6" r="5.7" fill="#1b1b1b" />
<circle cx="312.3" cy="883.2" r="5.7" fill="#1b1b1b" />
<circle cx="337.6" cy="866.9" r="5.7" fill="#1b1b1b" />
<circle cx="383.1" cy="868.7" r="5.7" fill="#1b1b1b" />
<circle cx="408.4" cy="854.5" r="5.7" fill="#1b1b1b" />
<circle cx="428.6" cy="856.6" r="5.7" fill="#1b1b1b" />
<circle cx="464" cy="851.4" r="5.7" fill="#1b1b1b" />
<circle cx="479.2" cy="849.3" r="5.7" fill="#1b1b1b" />
<polyline points="170.7,949.9 196,889.1 201.1,877.8 206.1,847.4 216.2,864 241.5,907 251.6,896.7 266.8,899.3 282,878.8 312.3,877.8 337.6,874.7 373,878.3 443.8,852.5 453.9,850.6 464,848.1 479.2,854.6" fill="none" stroke="#1b1b1b" stroke-width="2.8" stroke-linejoin="round"/>
<circle cx="170.7" cy="949.9" r="5.7" fill="#1b1b1b" />
<circle cx="196" cy="889.1" r="5.7" fill="#1b1b1b" />
<circle cx="201.1" cy="877.8" r="5.7" fill="#1b1b1b" />
<circle cx="206.1" cy="847.4" r="5.7" fill="#1b1b1b" />
<circle cx="216.2" cy="864" r="5.7" fill="#1b1b1b" />
<circle cx="241.5" cy="907" r="5.7" fill="#1b1b1b" />
<circle cx="251.6" cy="896.7" r="5.7" fill="#1b1b1b" />
<circle cx="266.8" cy="899.3" r="5.7" fill="#1b1b1b" />
<circle cx="282" cy="878.8" r="5.7" fill="#1b1b1b" />
<circle cx="312.3" cy="877.8" r="5.7" fill="#1b1b1b" />
<circle cx="337.6" cy="874.7" r="5.7" fill="#1b1b1b" />
<circle cx="373" cy="878.3" r="5.7" fill="#1b1b1b" />
<circle cx="443.8" cy="852.5" r="5.7" fill="#1b1b1b" />
<circle cx="453.9" cy="850.6" r="5.7" fill="#1b1b1b" />
<circle cx="464" cy="848.1" r="5.7" fill="#1b1b1b" />
<circle cx="479.2" cy="854.6" r="5.7" fill="#1b1b1b" />
<polyline points="170.7,945.4 201.1,886.5 206.1,885.4 216.2,881.6 241.5,887.2 251.6,888.2 266.8,901.2 276.9,895.6 282,877.7 312.3,888.5 337.6,876.1 393.2,868.3 428.6,858.3 443.8,863.4 453.9,864.2 479.2,851.7" fill="none" stroke="#1b1b1b" stroke-width="2.8" stroke-linejoin="round"/>
<circle cx="170.7" cy="945.4" r="5.7" fill="#1b1b1b" />
<circle cx="201.1" cy="886.5" r="5.7" fill="#1b1b1b" />
<circle cx="206.1" cy="885.4" r="5.7" fill="#1b1b1b" />
<circle cx="216.2" cy="881.6" r="5.7" fill="#1b1b1b" />
<circle cx="241.5" cy="887.2" r="5.7" fill="#1b1b1b" />
<circle cx="251.6" cy="888.2" r="5.7" fill="#1b1b1b" />
<circle cx="266.8" cy="901.2" r="5.7" fill="#1b1b1b" />
<circle cx="276.9" cy="895.6" r="5.7" fill="#1b1b1b" />
<circle cx="282" cy="877.7" r="5.7" fill="#1b1b1b" />
<circle cx="312.3" cy="888.5" r="5.7" fill="#1b1b1b" />
<circle cx="337.6" cy="876.1" r="5.7" fill="#1b1b1b" />
<circle cx="393.2" cy="868.3" r="5.7" fill="#1b1b1b" />
<circle cx="428.6" cy="858.3" r="5.7" fill="#1b1b1b" />
<circle cx="443.8" cy="863.4" r="5.7" fill="#1b1b1b" />
<circle cx="453.9" cy="864.2" r="5.7" fill="#1b1b1b" />
<circle cx="479.2" cy="851.7" r="5.7" fill="#1b1b1b" />
<polyline points="170.7,940.9 196,902.3 201.1,907.8 206.1,899.9 231.4,901.8 241.5,904.8 251.6,899.6 266.8,892.2 276.9,895.7 282,893.1 312.3,890 347.7,896.2 383.1,887.9 393.2,878.5 408.4,880.7 428.6,873.5 443.8,876.5 453.9,872.5 479.2,863.9" fill="none" stroke="#1b1b1b" stroke-width="2.8" stroke-linejoin="round"/>
<circle cx="170.7" cy="940.9" r="5.7" fill="#1b1b1b" />
<circle cx="196" cy="902.3" r="5.7" fill="#1b1b1b" />
<circle cx="201.1" cy="907.8" r="5.7" fill="#1b1b1b" />
<circle cx="206.1" cy="899.9" r="5.7" fill="#1b1b1b" />
<circle cx="231.4" cy="901.8" r="5.7" fill="#1b1b1b" />
<circle cx="241.5" cy="904.8" r="5.7" fill="#1b1b1b" />
<circle cx="251.6" cy="899.6" r="5.7" fill="#1b1b1b" />
<circle cx="266.8" cy="892.2" r="5.7" fill="#1b1b1b" />
<circle cx="276.9" cy="895.7" r="5.7" fill="#1b1b1b" />
<circle cx="282" cy="893.1" r="5.7" fill="#1b1b1b" />
<circle cx="312.3" cy="890" r="5.7" fill="#1b1b1b" />
<circle cx="347.7" cy="896.2" r="5.7" fill="#1b1b1b" />
<circle cx="383.1" cy="887.9" r="5.7" fill="#1b1b1b" />
<circle cx="393.2" cy="878.5" r="5.7" fill="#1b1b1b" />
<circle cx="408.4" cy="880.7" r="5.7" fill="#1b1b1b" />
<circle cx="428.6" cy="873.5" r="5.7" fill="#1b1b1b" />
<circle cx="443.8" cy="876.5" r="5.7" fill="#1b1b1b" />
<circle cx="453.9" cy="872.5" r="5.7" fill="#1b1b1b" />
<circle cx="479.2" cy="863.9" r="5.7" fill="#1b1b1b" />
<polyline points="170.7,936.4 196,915.1 201.1,909.5 206.1,901.7 216.2,902.9 231.4,891.5 241.5,891.5 251.6,905.6 266.8,886.1 276.9,907 312.3,906.1 373,882.5 383.1,892.8 393.2,884.1 428.6,873 453.9,875.7 464,865.8 479.2,873.9" fill="none" stroke="#1b1b1b" stroke-width="2.8" stroke-linejoin="round"/>
<circle cx="170.7" cy="936.4" r="5.7" fill="#1b1b1b" />
<circle cx="196" cy="915.1" r="5.7" fill="#1b1b1b" />
<circle cx="201.1" cy="909.5" r="5.7" fill="#1b1b1b" />
<circle cx="206.1" cy="901.7" r="5.7" fill="#1b1b1b" />
<circle cx="216.2" cy="902.9" r="5.7" fill="#1b1b1b" />
<circle cx="231.4" cy="891.5" r="5.7" fill="#1b1b1b" />
<circle cx="241.5" cy="891.5" r="5.7" fill="#1b1b1b" />
<circle cx="251.6" cy="905.6" r="5.7" fill="#1b1b1b" />
<circle cx="266.8" cy="886.1" r="5.7" fill="#1b1b1b" />
<circle cx="276.9" cy="907" r="5.7" fill="#1b1b1b" />
<circle cx="312.3" cy="906.1" r="5.7" fill="#1b1b1b" />
<circle cx="373" cy="882.5" r="5.7" fill="#1b1b1b" />
<circle cx="383.1" cy="892.8" r="5.7" fill="#1b1b1b" />
<circle cx="393.2" cy="884.1" r="5.7" fill="#1b1b1b" />
<circle cx="428.6" cy="873" r="5.7" fill="#1b1b1b" />
<circle cx="453.9" cy="875.7" r="5.7" fill="#1b1b1b" />
<circle cx="464" cy="865.8" r="5.7" fill="#1b1b1b" />
<circle cx="479.2" cy="873.9" r="5.7" fill="#1b1b1b" />
<polyline points="170.7,932 196,924.6 201.1,912.7 206.1,913.1 216.2,922.5 231.4,905.5 241.5,915.7 251.6,897.2 266.8,914 312.3,905 347.7,884.3 373,899.3 393.2,888 408.4,891.6 443.8,880.3 464,873.6 479.2,878.1" fill="none" stroke="#1b1b1b" stroke-width="2.8" stroke-linejoin="round"/>
<circle cx="170.7" cy="932" r="5.7" fill="#1b1b1b" />
<circle cx="196" cy="924.6" r="5.7" fill="#1b1b1b" />
<circle cx="201.1" cy="912.7" r="5.7" fill="#1b1b1b" />
<circle cx="206.1" cy="913.1" r="5.7" fill="#1b1b1b" />
<circle cx="216.2" cy="922.5" r="5.7" fill="#1b1b1b" />
<circle cx="231.4" cy="905.5" r="5.7" fill="#1b1b1b" />
<circle cx="241.5" cy="915.7" r="5.7" fill="#1b1b1b" />
<circle cx="251.6" cy="897.2" r="5.7" fill="#1b1b1b" />
<circle cx="266.8" cy="914" r="5.7" fill="#1b1b1b" />
<circle cx="312.3" cy="905" r="5.7" fill="#1b1b1b" />
<circle cx="347.7" cy="884.3" r="5.7" fill="#1b1b1b" />
<circle cx="373" cy="899.3" r="5.7" fill="#1b1b1b" />
<circle cx="393.2" cy="888" r="5.7" fill="#1b1b1b" />
<circle cx="408.4" cy="891.6" r="5.7" fill="#1b1b1b" />
<circle cx="443.8" cy="880.3" r="5.7" fill="#1b1b1b" />
<circle cx="464" cy="873.6" r="5.7" fill="#1b1b1b" />
<circle cx="479.2" cy="878.1" r="5.7" fill="#1b1b1b" />
<polyline points="170.7,927.5 196,925.1 201.1,922.7 206.1,927.2 231.4,910.6 282,902.1 312.3,902.2 337.6,904.9 347.7,909.1 393.2,891.4 428.6,879.7 453.9,881.7 464,874.4 479.2,876" fill="none" stroke="#1b1b1b" stroke-width="2.8" stroke-linejoin="round"/>
<circle cx="170.7" cy="927.5" r="5.7" fill="#1b1b1b" />
<circle cx="196" cy="925.1" r="5.7" fill="#1b1b1b" />
<circle cx="201.1" cy="922.7" r="5.7" fill="#1b1b1b" />
<circle cx="206.1" cy="927.2" r="5.7" fill="#1b1b1b" />
<circle cx="231.4" cy="910.6" r="5.7" fill="#1b1b1b" />
<circle cx="282" cy="902.1" r="5.7" fill="#1b1b1b" />
<circle cx="312.3" cy="902.2" r="5.7" fill="#1b1b1b" />
<circle cx="337.6" cy="904.9" r="5.7" fill="#1b1b1b" />
<circle cx="347.7" cy="909.1" r="5.7" fill="#1b1b1b" />
<circle cx="393.2" cy="891.4" r="5.7" fill="#1b1b1b" />
<circle cx="428.6" cy="879.7" r="5.7" fill="#1b1b1b" />
<circle cx="453.9" cy="881.7" r="5.7" fill="#1b1b1b" />
<circle cx="464" cy="874.4" r="5.7" fill="#1b1b1b" />
<circle cx="479.2" cy="876" r="5.7" fill="#1b1b1b" />
<polyline points="170.7,923 196,874 201.1,868.9 206.1,865.4 251.6,911.9 282,894.1 312.3,908.6 347.7,902.2 383.1,901.4 393.2,890.1 408.4,897.1 428.6,892.6 443.8,894 453.9,885.9 464,887.7 479.2,887.6" fill="none" stroke="#1b1b1b" stroke-width="2.8" stroke-linejoin="round"/>
<circle cx="170.7" cy="923" r="5.7" fill="#1b1b1b" />
<circle cx="196" cy="874" r="5.7" fill="#1b1b1b" />
<circle cx="201.1" cy="868.9" r="5.7" fill="#1b1b1b" />
<circle cx="206.1" cy="865.4" r="5.7" fill="#1b1b1b" />
<circle cx="251.6" cy="911.9" r="5.7" fill="#1b1b1b" />
<circle cx="282" cy="894.1" r="5.7" fill="#1b1b1b" />
<circle cx="312.3" cy="908.6" r="5.7" fill="#1b1b1b" />
<circle cx="347.7" cy="902.2" r="5.7" fill="#1b1b1b" />
<circle cx="383.1" cy="901.4" r="5.7" fill="#1b1b1b" />
<circle cx="393.2" cy="890.1" r="5.7" fill="#1b1b1b" />
<circle cx="408.4" cy="897.1" r="5.7" fill="#1b1b1b" />
<circle cx="428.6" cy="892.6" r="5.7" fill="#1b1b1b" />
<circle cx="443.8" cy="894" r="5.7" fill="#1b1b1b" />
<circle cx="453.9" cy="885.9" r="5.7" fill="#1b1b1b" />
<circle cx="464" cy="887.7" r="5.7" fill="#1b1b1b" />
<circle cx="479.2" cy="887.6" r="5.7" fill="#1b1b1b" />
<polyline points="170.7,918.6 196,907.6 206.1,896.5 216.2,899.5 231.4,909.3 241.5,912.8 251.6,924.7 266.8,927.5 276.9,912.9 312.3,901.7 337.6,902.7 347.7,917.3 373,904.3 383.1,898.6 393.2,899.8 408.4,895.9 428.6,898.5 464,894 479.2,885.4" fill="none" stroke="#1b1b1b" stroke-width="2.8" stroke-linejoin="round"/>
<circle cx="170.7" cy="918.6" r="5.7" fill="#1b1b1b" />
<circle cx="196" cy="907.6" r="5.7" fill="#1b1b1b" />
<circle cx="206.1" cy="896.5" r="5.7" fill="#1b1b1b" />
<circle cx="216.2" cy="899.5" r="5.7" fill="#1b1b1b" />
<circle cx="231.4" cy="909.3" r="5.7" fill="#1b1b1b" />
<circle cx="241.5" cy="912.8" r="5.7" fill="#1b1b1b" />
<circle cx="251.6" cy="924.7" r="5.7" fill="#1b1b1b" />
<circle cx="266.8" cy="927.5" r="5.7" fill="#1b1b1b" />
<circle cx="276.9" cy="912.9" r="5.7" fill="#1b1b1b" />
<circle cx="312.3" cy="901.7" r="5.7" fill="#1b1b1b" />
<circle cx="337.6" cy="902.7" r="5.7" fill="#1b1b1b" />
<circle cx="347.7" cy="917.3" r="5.7" fill="#1b1b1b" />
<circle cx="373" cy="904.3" r="5.7" fill="#1b1b1b" />
<circle cx="383.1" cy="898.6" r="5.7" fill="#1b1b1b" />
<circle cx="393.2" cy="899.8" r="5.7" fill="#1b1b1b" />
<circle cx="408.4" cy="895.9" r="5.7" fill="#1b1b1b" />
<circle cx="428.6" cy="898.5" r="5.7" fill="#1b1b1b" />
<circle cx="464" cy="894" r="5.7" fill="#1b1b1b" />
<circle cx="479.2" cy="885.4" r="5.7" fill="#1b1b1b" />
<polyline points="170.7,914.1 196,891.9 206.1,878.3 216.2,891 231.4,915 241.5,919.8 276.9,920.3 282,899.3 312.3,913.6 337.6,904.2 347.7,905.5 373,918.6 408.4,904 428.6,904.5 464,889.5 479.2,892.3" fill="none" stroke="#1b1b1b" stroke-width="2.8" stroke-linejoin="round"/>
<circle cx="170.7" cy="914.1" r="5.7" fill="#1b1b1b" />
<circle cx="196" cy="891.9" r="5.7" fill="#1b1b1b" />
<circle cx="206.1" cy="878.3" r="5.7" fill="#1b1b1b" />
<circle cx="216.2" cy="891" r="5.7" fill="#1b1b1b" />
<circle cx="231.4" cy="915" r="5.7" fill="#1b1b1b" />
<circle cx="241.5" cy="919.8" r="5.7" fill="#1b1b1b" />
<circle cx="276.9" cy="920.3" r="5.7" fill="#1b1b1b" />
<circle cx="282" cy="899.3" r="5.7" fill="#1b1b1b" />
<circle cx="312.3" cy="913.6" r="5.7" fill="#1b1b1b" />
<circle cx="337.6" cy="904.2" r="5.7" fill="#1b1b1b" />
<circle cx="347.7" cy="905.5" r="5.7" fill="#1b1b1b" />
<circle cx="373" cy="918.6" r="5.7" fill="#1b1b1b" />
<circle cx="408.4" cy="904" r="5.7" fill="#1b1b1b" />
<circle cx="428.6" cy="904.5" r="5.7" fill="#1b1b1b" />
<circle cx="464" cy="889.5" r="5.7" fill="#1b1b1b" />
<circle cx="479.2" cy="892.3" r="5.7" fill="#1b1b1b" />
<polyline points="170.7,952.1 196,922.2 201.1,913.4 206.1,892.9 231.4,909.2 241.5,923.7 276.9,927.8 282,929.2 312.3,905.3 347.7,914.6 373,907.5 393.2,910 443.8,902.5 453.9,905 464,901.1 479.2,902.9" fill="none" stroke="#1b1b1b" stroke-width="2.8" stroke-linejoin="round"/>
<circle cx="170.7" cy="952.1" r="5.7" fill="#1b1b1b" />
<circle cx="196" cy="922.2" r="5.7" fill="#1b1b1b" />
<circle cx="201.1" cy="913.4" r="5.7" fill="#1b1b1b" />
<circle cx="206.1" cy="892.9" r="5.7" fill="#1b1b1b" />
<circle cx="231.4" cy="909.2" r="5.7" fill="#1b1b1b" />
<circle cx="241.5" cy="923.7" r="5.7" fill="#1b1b1b" />
<circle cx="276.9" cy="927.8" r="5.7" fill="#1b1b1b" />
<circle cx="282" cy="929.2" r="5.7" fill="#1b1b1b" />
<circle cx="312.3" cy="905.3" r="5.7" fill="#1b1b1b" />
<circle cx="347.7" cy="914.6" r="5.7" fill="#1b1b1b" />
<circle cx="373" cy="907.5" r="5.7" fill="#1b1b1b" />
<circle cx="393.2" cy="910" r="5.7" fill="#1b1b1b" />
<circle cx="443.8" cy="902.5" r="5.7" fill="#1b1b1b" />
<circle cx="453.9" cy="905" r="5.7" fill="#1b1b1b" />
<circle cx="464" cy="901.1" r="5.7" fill="#1b1b1b" />
<circle cx="479.2" cy="902.9" r="5.7" fill="#1b1b1b" />
<polyline points="170.7,940.9 201.1,910.3 206.1,913.4 216.2,915.5 231.4,916.2 241.5,923.3 282,926.5 312.3,926.8 347.7,927.6 373,906.4 383.1,913 393.2,910.1 408.4,912.8 428.6,916.5 443.8,908.8 453.9,904.7 464,911.2 479.2,907.9" fill="none" stroke="#1b1b1b" stroke-width="2.8" stroke-linejoin="round"/>
<circle cx="170.7" cy="940.9" r="5.7" fill="#1b1b1b" />
<circle cx="201.1" cy="910.3" r="5.7" fill="#1b1b1b" />
<circle cx="206.1" cy="913.4" r="5.7" fill="#1b1b1b" />
<circle cx="216.2" cy="915.5" r="5.7" fill="#1b1b1b" />
<circle cx="231.4" cy="916.2" r="5.7" fill="#1b1b1b" />
<circle cx="241.5" cy="923.3" r="5.7" fill="#1b1b1b" />
<circle cx="282" cy="926.5" r="5.7" fill="#1b1b1b" />
<circle cx="312.3" cy="926.8" r="5.7" fill="#1b1b1b" />
<circle cx="347.7" cy="927.6" r="5.7" fill="#1b1b1b" />
<circle cx="373" cy="906.4" r="5.7" fill="#1b1b1b" />
<circle cx="383.1" cy="913" r="5.7" fill="#1b1b1b" />
<circle cx="393.2" cy="910.1" r="5.7" fill="#1b1b1b" />
<circle cx="408.4" cy="912.8" r="5.7" fill="#1b1b1b" />
<circle cx="428.6" cy="916.5" r="5.7" fill="#1b1b1b" />
<circle cx="443.8" cy="908.8" r="5.7" fill="#1b1b1b" />
<circle cx="453.9" cy="904.7" r="5.7" fill="#1b1b1b" />
<circle cx="464" cy="911.2" r="5.7" fill="#1b1b1b" />
<circle cx="479.2" cy="907.9" r="5.7" fill="#1b1b1b" />
<polyline points="170.7,929.7 196,933.4 201.1,943.6 206.1,944.5 216.2,943.3 266.8,939.3 282,924.8 312.3,945.6 373,942.4 408.4,921.7 428.6,925.5 443.8,922.1 453.9,923.3 479.2,911.6" fill="none" stroke="#1b1b1b" stroke-width="2.8" stroke-linejoin="round"/>
<circle cx="170.7" cy="929.7" r="5.7" fill="#1b1b1b" />
<circle cx="196" cy="933.4" r="5.7" fill="#1b1b1b" />
<circle cx="201.1" cy="943.6" r="5.7" fill="#1b1b1b" />
<circle cx="206.1" cy="944.5" r="5.7" fill="#1b1b1b" />
<circle cx="216.2" cy="943.3" r="5.7" fill="#1b1b1b" />
<circle cx="266.8" cy="939.3" r="5.7" fill="#1b1b1b" />
<circle cx="282" cy="924.8" r="5.7" fill="#1b1b1b" />
<circle cx="312.3" cy="945.6" r="5.7" fill="#1b1b1b" />
<circle cx="373" cy="942.4" r="5.7" fill="#1b1b1b" />
<circle cx="408.4" cy="921.7" r="5.7" fill="#1b1b1b" />
<circle cx="428.6" cy="925.5" r="5.7" fill="#1b1b1b" />
<circle cx="443.8" cy="922.1" r="5.7" fill="#1b1b1b" />
<circle cx="453.9" cy="923.3" r="5.7" fill="#1b1b1b" />
<circle cx="479.2" cy="911.6" r="5.7" fill="#1b1b1b" />
<polyline points="170.7,967.8 196,871.8 206.1,847 216.2,858.4 231.4,871.3 241.5,904.4 266.8,878.8 276.9,885.3 312.3,870.1 337.6,867.7 347.7,882.2 393.2,864.1 408.4,860.1 428.6,855 443.8,854.4 464,854 479.2,845.1" fill="none" stroke="#1b1b1b" stroke-width="2.8" stroke-linejoin="round"/>
<circle cx="170.7" cy="967.8" r="5.7" fill="#1b1b1b" />
<circle cx="196" cy="871.8" r="5.7" fill="#1b1b1b" />
<circle cx="206.1" cy="847" r="5.7" fill="#1b1b1b" />
<circle cx="216.2" cy="858.4" r="5.7" fill="#1b1b1b" />
<circle cx="231.4" cy="871.3" r="5.7" fill="#1b1b1b" />
<circle cx="241.5" cy="904.4" r="5.7" fill="#1b1b1b" />
<circle cx="266.8" cy="878.8" r="5.7" fill="#1b1b1b" />
<circle cx="276.9" cy="885.3" r="5.7" fill="#1b1b1b" />
<circle cx="312.3" cy="870.1" r="5.7" fill="#1b1b1b" />
<circle cx="337.6" cy="867.7" r="5.7" fill="#1b1b1b" />
<circle cx="347.7" cy="882.2" r="5.7" fill="#1b1b1b" />
<circle cx="393.2" cy="864.1" r="5.7" fill="#1b1b1b" />
<circle cx="408.4" cy="860.1" r="5.7" fill="#1b1b1b" />
<circle cx="428.6" cy="855" r="5.7" fill="#1b1b1b" />
<circle cx="443.8" cy="854.4" r="5.7" fill="#1b1b1b" />
<circle cx="464" cy="854" r="5.7" fill="#1b1b1b" />
<circle cx="479.2" cy="845.1" r="5.7" fill="#1b1b1b" />
<polyline points="170.7,934.2 201.1,877 206.1,879.3 216.2,878.3 231.4,899.1 241.5,912.4 251.6,901.2 266.8,894.3 276.9,897.5 337.6,883.5 347.7,900.6 373,879.8 383.1,885.6 393.2,874.6 443.8,871 453.9,871.9 464,862.6 479.2,866.6" fill="none" stroke="#1b1b1b" stroke-width="2.8" stroke-linejoin="round"/>
<circle cx="170.7" cy="934.2" r="5.7" fill="#1b1b1b" />
<circle cx="201.1" cy="877" r="5.7" fill="#1b1b1b" />
<circle cx="206.1" cy="879.3" r="5.7" fill="#1b1b1b" />
<circle cx="216.2" cy="878.3" r="5.7" fill="#1b1b1b" />
<circle cx="231.4" cy="899.1" r="5.7" fill="#1b1b1b" />
<circle cx="241.5" cy="912.4" r="5.7" fill="#1b1b1b" />
<circle cx="251.6" cy="901.2" r="5.7" fill="#1b1b1b" />
<circle cx="266.8" cy="894.3" r="5.7" fill="#1b1b1b" />
<circle cx="276.9" cy="897.5" r="5.7" fill="#1b1b1b" />
<circle cx="337.6" cy="883.5" r="5.7" fill="#1b1b1b" />
<circle cx="347.7" cy="900.6" r="5.7" fill="#1b1b1b" />
<circle cx="373" cy="879.8" r="5.7" fill="#1b1b1b" />
<circle cx="383.1" cy="885.6" r="5.7" fill="#1b1b1b" />
<circle cx="393.2" cy="874.6" r="5.7" fill="#1b1b1b" />
<circle cx="443.8" cy="871" r="5.7" fill="#1b1b1b" />
<circle cx="453.9" cy="871.9" r="5.7" fill="#1b1b1b" />
<circle cx="464" cy="862.6" r="5.7" fill="#1b1b1b" />
<circle cx="479.2" cy="866.6" r="5.7" fill="#1b1b1b" />
<polyline points="170.7,954.3 196,940 206.1,931.2 216.2,909.4 251.6,859.5 266.8,873.3 276.9,871.5 282,873.4 347.7,852.9 373,857.3 383.1,855.3 393.2,862.9 408.4,851.8 443.8,848.2 453.9,846.4 479.2,841" fill="none" stroke="#1b1b1b" stroke-width="2.8" stroke-linejoin="round"/>
<circle cx="170.7" cy="954.3" r="5.7" fill="#1b1b1b" />
<circle cx="196" cy="940" r="5.7" fill="#1b1b1b" />
<circle cx="206.1" cy="931.2" r="5.7" fill="#1b1b1b" />
<circle cx="216.2" cy="909.4" r="5.7" fill="#1b1b1b" />
<circle cx="251.6" cy="859.5" r="5.7" fill="#1b1b1b" />
<circle cx="266.8" cy="873.3" r="5.7" fill="#1b1b1b" />
<circle cx="276.9" cy="871.5" r="5.7" fill="#1b1b1b" />
<circle cx="282" cy="873.4" r="5.7" fill="#1b1b1b" />
<circle cx="347.7" cy="852.9" r="5.7" fill="#1b1b1b" />
<circle cx="373" cy="857.3" r="5.7" fill="#1b1b1b" />
<circle cx="383.1" cy="855.3" r="5.7" fill="#1b1b1b" />
<circle cx="393.2" cy="862.9" r="5.7" fill="#1b1b1b" />
<circle cx="408.4" cy="851.8" r="5.7" fill="#1b1b1b" />
<circle cx="443.8" cy="848.2" r="5.7" fill="#1b1b1b" />
<circle cx="453.9" cy="846.4" r="5.7" fill="#1b1b1b" />
<circle cx="479.2" cy="841" r="5.7" fill="#1b1b1b" />
<polyline points="170.7,920.8 201.1,866.6 206.1,845.7 216.2,869.5 241.5,912 251.6,916.2 266.8,895.6 282,896.1 312.3,913.3 373,900.5 383.1,886.7 393.2,893.2 408.4,885.7 443.8,883 479.2,868.3" fill="none" stroke="#1b1b1b" stroke-width="2.8" stroke-linejoin="round"/>
<circle cx="170.7" cy="920.8" r="5.7" fill="#1b1b1b" />
<circle cx="201.1" cy="866.6" r="5.7" fill="#1b1b1b" />
<circle cx="206.1" cy="845.7" r="5.7" fill="#1b1b1b" />
<circle cx="216.2" cy="869.5" r="5.7" fill="#1b1b1b" />
<circle cx="241.5" cy="912" r="5.7" fill="#1b1b1b" />
<circle cx="251.6" cy="916.2" r="5.7" fill="#1b1b1b" />
<circle cx="266.8" cy="895.6" r="5.7" fill="#1b1b1b" />
<circle cx="282" cy="896.1" r="5.7" fill="#1b1b1b" />
<circle cx="312.3" cy="913.3" r="5.7" fill="#1b1b1b" />
<circle cx="373" cy="900.5" r="5.7" fill="#1b1b1b" />
<circle cx="383.1" cy="886.7" r="5.7" fill="#1b1b1b" />
<circle cx="393.2" cy="893.2" r="5.7" fill="#1b1b1b" />
<circle cx="408.4" cy="885.7" r="5.7" fill="#1b1b1b" />
<circle cx="443.8" cy="883" r="5.7" fill="#1b1b1b" />
<circle cx="479.2" cy="868.3" r="5.7" fill="#1b1b1b" />
<polyline points="170.7,938.7 206.1,861.2 216.2,877 241.5,887.4 251.6,895.1 266.8,879.2 276.9,877.6 282,889.3 312.3,886.4 337.6,892.3 373,885.5 408.4,873.5 428.6,861.7 443.8,866.7 479.2,853.1" fill="none" stroke="#1b1b1b" stroke-width="2.8" stroke-linejoin="round"/>
<circle cx="170.7" cy="938.7" r="5.7" fill="#1b1b1b" />
<circle cx="206.1" cy="861.2" r="5.7" fill="#1b1b1b" />
<circle cx="216.2" cy="877" r="5.7" fill="#1b1b1b" />
<circle cx="241.5" cy="887.4" r="5.7" fill="#1b1b1b" />
<circle cx="251.6" cy="895.1" r="5.7" fill="#1b1b1b" />
<circle cx="266.8" cy="879.2" r="5.7" fill="#1b1b1b" />
<circle cx="276.9" cy="877.6" r="5.7" fill="#1b1b1b" />
<circle cx="282" cy="889.3" r="5.7" fill="#1b1b1b" />
<circle cx="312.3" cy="886.4" r="5.7" fill="#1b1b1b" />
<circle cx="337.6" cy="892.3" r="5.7" fill="#1b1b1b" />
<circle cx="373" cy="885.5" r="5.7" fill="#1b1b1b" />
<circle cx="408.4" cy="873.5" r="5.7" fill="#1b1b1b" />
<circle cx="428.6" cy="861.7" r="5.7" fill="#1b1b1b" />
<circle cx="443.8" cy="866.7" r="5.7" fill="#1b1b1b" />
<circle cx="479.2" cy="853.1" r="5.7" fill="#1b1b1b" />
<polyline points="170.7,947.6 196,902.4 201.1,891.4 206.1,884.3 231.4,910.8 241.5,916.6 251.6,920.9 312.3,905.1 337.6,907.6 347.7,903.7 383.1,897.7 393.2,903.3 408.4,891 428.6,886.2 453.9,892.4 479.2,881.7" fill="none" stroke="#1b1b1b" stroke-width="2.8" stroke-linejoin="round"/>
<circle cx="170.7" cy="947.6" r="5.7" fill="#1b1b1b" />
<circle cx="196" cy="902.4" r="5.7" fill="#1b1b1b" />
<circle cx="201.1" cy="891.4" r="5.7" fill="#1b1b1b" />
<circle cx="206.1" cy="884.3" r="5.7" fill="#1b1b1b" />
<circle cx="231.4" cy="910.8" r="5.7" fill="#1b1b1b" />
<circle cx="241.5" cy="916.6" r="5.7" fill="#1b1b1b" />
<circle cx="251.6" cy="920.9" r="5.7" fill="#1b1b1b" />
<circle cx="312.3" cy="905.1" r="5.7" fill="#1b1b1b" />
<circle cx="337.6" cy="907.6" r="5.7" fill="#1b1b1b" />
<circle cx="347.7" cy="903.7" r="5.7" fill="#1b1b1b" />
<circle cx="383.1" cy="897.7" r="5.7" fill="#1b1b1b" />
<circle cx="393.2" cy="903.3" r="5.7" fill="#1b1b1b" />
<circle cx="408.4" cy="891" r="5.7" fill="#1b1b1b" />
<circle cx="428.6" cy="886.2" r="5.7" fill="#1b1b1b" />
<circle cx="453.9" cy="892.4" r="5.7" fill="#1b1b1b" />
<circle cx="479.2" cy="881.7" r="5.7" fill="#1b1b1b" />
<polyline points="170.7,927.5 196,893.3 206.1,870.3 231.4,884 251.6,899.7 282,886 347.7,885.4 383.1,892.2 393.2,885.6 443.8,875.6 453.9,879.8 479.2,870.6" fill="none" stroke="#1b1b1b" stroke-width="2.8" stroke-linejoin="round"/>
<circle cx="170.7" cy="927.5" r="5.7" fill="#1b1b1b" />
<circle cx="196" cy="893.3" r="5.7" fill="#1b1b1b" />
<circle cx="206.1" cy="870.3" r="5.7" fill="#1b1b1b" />
<circle cx="231.4" cy="884" r="5.7" fill="#1b1b1b" />
<circle cx="251.6" cy="899.7" r="5.7" fill="#1b1b1b" />
<circle cx="282" cy="886" r="5.7" fill="#1b1b1b" />
<circle cx="347.7" cy="885.4" r="5.7" fill="#1b1b1b" />
<circle cx="383.1" cy="892.2" r="5.7" fill="#1b1b1b" />
<circle cx="393.2" cy="885.6" r="5.7" fill="#1b1b1b" />
<circle cx="443.8" cy="875.6" r="5.7" fill="#1b1b1b" />
<circle cx="453.9" cy="879.8" r="5.7" fill="#1b1b1b" />
<circle cx="479.2" cy="870.6" r="5.7" fill="#1b1b1b" />
<polyline points="170.7,958.8 196,891.9 201.1,877 206.1,853.9 216.2,870.8 241.5,892.5 266.8,884.4 276.9,883.4 282,881.3 347.7,867.2 373,878.4 383.1,866.7 393.2,867.4 408.4,858.8 428.6,859.6 443.8,846.7 453.9,852.5 479.2,836.2" fill="none" stroke="#1b1b1b" stroke-width="2.8" stroke-linejoin="round"/>
<circle cx="170.7" cy="958.8" r="5.7" fill="#1b1b1b" />
<circle cx="196" cy="891.9" r="5.7" fill="#1b1b1b" />
<circle cx="201.1" cy="877" r="5.7" fill="#1b1b1b" />
<circle cx="206.1" cy="853.9" r="5.7" fill="#1b1b1b" />
<circle cx="216.2" cy="870.8" r="5.7" fill="#1b1b1b" />
<circle cx="241.5" cy="892.5" r="5.7" fill="#1b1b1b" />
<circle cx="266.8" cy="884.4" r="5.7" fill="#1b1b1b" />
<circle cx="276.9" cy="883.4" r="5.7" fill="#1b1b1b" />
<circle cx="282" cy="881.3" r="5.7" fill="#1b1b1b" />
<circle cx="347.7" cy="867.2" r="5.7" fill="#1b1b1b" />
<circle cx="373" cy="878.4" r="5.7" fill="#1b1b1b" />
<circle cx="383.1" cy="866.7" r="5.7" fill="#1b1b1b" />
<circle cx="393.2" cy="867.4" r="5.7" fill="#1b1b1b" />
<circle cx="408.4" cy="858.8" r="5.7" fill="#1b1b1b" />
<circle cx="428.6" cy="859.6" r="5.7" fill="#1b1b1b" />
<circle cx="443.8" cy="846.7" r="5.7" fill="#1b1b1b" />
<circle cx="453.9" cy="852.5" r="5.7" fill="#1b1b1b" />
<circle cx="479.2" cy="836.2" r="5.7" fill="#1b1b1b" />
<polyline points="170.7,938.7 196,918.6 206.1,898.4 216.2,882.8 231.4,862.7 241.5,860.4 251.6,829.1 276.9,782.2 312.3,668.1" fill="none" stroke="#bcbcbc" stroke-width="2.8" stroke-linejoin="round"/>
<circle cx="170.7" cy="938.7" r="5.7" fill="#bcbcbc" />
<circle cx="196" cy="918.6" r="5.7" fill="#bcbcbc" />
<circle cx="206.1" cy="898.4" r="5.7" fill="#bcbcbc" />
<circle cx="216.2" cy="882.8" r="5.7" fill="#bcbcbc" />
<circle cx="231.4" cy="862.7" r="5.7" fill="#bcbcbc" />
<circle cx="241.5" cy="860.4" r="5.7" fill="#bcbcbc" />
<circle cx="251.6" cy="829.1" r="5.7" fill="#bcbcbc" />
<circle cx="276.9" cy="782.2" r="5.7" fill="#bcbcbc" />
<circle cx="312.3" cy="668.1" r="5.7" fill="#bcbcbc" />
<polyline points="170.7,936.4 196,923 206.1,918.6 216.2,896.2 231.4,880.5 241.5,873.8 251.6,831.4 276.9,806.8 312.3,672.6" fill="none" stroke="#bcbcbc" stroke-width="2.8" stroke-linejoin="round"/>
<circle cx="170.7" cy="936.4" r="5.7" fill="#bcbcbc" />
<circle cx="196" cy="923" r="5.7" fill="#bcbcbc" />
<circle cx="206.1" cy="918.6" r="5.7" fill="#bcbcbc" />
<circle cx="216.2" cy="896.2" r="5.7" fill="#bcbcbc" />
<circle cx="231.4" cy="880.5" r="5.7" fill="#bcbcbc" />
<circle cx="241.5" cy="873.8" r="5.7" fill="#bcbcbc" />
<circle cx="251.6" cy="831.4" r="5.7" fill="#bcbcbc" />
<circle cx="276.9" cy="806.8" r="5.7" fill="#bcbcbc" />
<circle cx="312.3" cy="672.6" r="5.7" fill="#bcbcbc" />
<polyline points="170.7,940.9 196,936.4 206.1,936.4 216.2,920.8 231.4,887.3 241.5,871.6 251.6,873.8 276.9,851.5 312.3,695" fill="none" stroke="#bcbcbc" stroke-width="2.8" stroke-linejoin="round"/>
<circle cx="170.7" cy="940.9" r="5.7" fill="#bcbcbc" />
<circle cx="196" cy="936.4" r="5.7" fill="#bcbcbc" />
<circle cx="206.1" cy="936.4" r="5.7" fill="#bcbcbc" />
<circle cx="216.2" cy="920.8" r="5.7" fill="#bcbcbc" />
<circle cx="231.4" cy="887.3" r="5.7" fill="#bcbcbc" />
<circle cx="241.5" cy="871.6" r="5.7" fill="#bcbcbc" />
<circle cx="251.6" cy="873.8" r="5.7" fill="#bcbcbc" />
<circle cx="276.9" cy="851.5" r="5.7" fill="#bcbcbc" />
<circle cx="312.3" cy="695" r="5.7" fill="#bcbcbc" />
<polyline points="170.7,974.5 196,934.2 206.1,900.7 216.2,891.7 231.4,873.8 241.5,878.3 251.6,882.8 276.9,862.7 312.3,692.7" fill="none" stroke="#bcbcbc" stroke-width="2.8" stroke-linejoin="round"/>
<circle cx="170.7" cy="974.5" r="5.7" fill="#bcbcbc" />
<circle cx="196" cy="934.2" r="5.7" fill="#bcbcbc" />
<circle cx="206.1" cy="900.7" r="5.7" fill="#bcbcbc" />
<circle cx="216.2" cy="891.7" r="5.7" fill="#bcbcbc" />
<circle cx="231.4" cy="873.8" r="5.7" fill="#bcbcbc" />
<circle cx="241.5" cy="878.3" r="5.7" fill="#bcbcbc" />
<circle cx="251.6" cy="882.8" r="5.7" fill="#bcbcbc" />
<circle cx="276.9" cy="862.7" r="5.7" fill="#bcbcbc" />
<circle cx="312.3" cy="692.7" r="5.7" fill="#bcbcbc" />
<polyline points="170.7,970 201.1,889.5 206.1,927.5 216.2,929.7 231.4,929.7 241.5,958.8 251.6,963.3 266.8,954.3 276.9,955.5 282,958.8 312.3,957.7 337.6,954.3 347.7,949.9 373,958.8 393.2,896.2 408.4,895.1 428.6,815.7 443.8,798.9 453.9,783.3 464,679.3 479.2,656.9" fill="none" stroke="#d2731a" stroke-width="2.8" stroke-linejoin="round"/>
<circle cx="170.7" cy="970" r="5.7" fill="#d2731a" />
<circle cx="201.1" cy="889.5" r="5.7" fill="#d2731a" />
<circle cx="206.1" cy="927.5" r="5.7" fill="#d2731a" />
<circle cx="216.2" cy="929.7" r="5.7" fill="#d2731a" />
<circle cx="231.4" cy="929.7" r="5.7" fill="#d2731a" />
<circle cx="241.5" cy="958.8" r="5.7" fill="#d2731a" />
<circle cx="251.6" cy="963.3" r="5.7" fill="#d2731a" />
<circle cx="266.8" cy="954.3" r="5.7" fill="#d2731a" />
<circle cx="276.9" cy="955.5" r="5.7" fill="#d2731a" />
<circle cx="282" cy="958.8" r="5.7" fill="#d2731a" />
<circle cx="312.3" cy="957.7" r="5.7" fill="#d2731a" />
<circle cx="337.6" cy="954.3" r="5.7" fill="#d2731a" />
<circle cx="347.7" cy="949.9" r="5.7" fill="#d2731a" />
<circle cx="373" cy="958.8" r="5.7" fill="#d2731a" />
<circle cx="393.2" cy="896.2" r="5.7" fill="#d2731a" />
<circle cx="408.4" cy="895.1" r="5.7" fill="#d2731a" />
<circle cx="428.6" cy="815.7" r="5.7" fill="#d2731a" />
<circle cx="443.8" cy="798.9" r="5.7" fill="#d2731a" />
<circle cx="453.9" cy="783.3" r="5.7" fill="#d2731a" />
<circle cx="464" cy="679.3" r="5.7" fill="#d2731a" />
<circle cx="479.2" cy="656.9" r="5.7" fill="#d2731a" />
<polyline points="170.7,974.5 196,938.7 206.1,916.3 216.2,911.9 231.4,918.6 241.5,920.8 251.6,952.1 266.8,952.1 276.9,956.6 282,952.1 312.3,929.7 337.6,932 347.7,920.8 373,918.6 383.1,911.9 408.4,905.1 428.6,817.9 443.8,817.9 453.9,806.8 464,762 479.2,717.3" fill="none" stroke="#7e0b0b" stroke-width="2.8" stroke-linejoin="round"/>
<circle cx="170.7" cy="974.5" r="5.7" fill="#7e0b0b" />
<circle cx="196" cy="938.7" r="5.7" fill="#7e0b0b" />
<circle cx="206.1" cy="916.3" r="5.7" fill="#7e0b0b" />
<circle cx="216.2" cy="911.9" r="5.7" fill="#7e0b0b" />
<circle cx="231.4" cy="918.6" r="5.7" fill="#7e0b0b" />
<circle cx="241.5" cy="920.8" r="5.7" fill="#7e0b0b" />
<circle cx="251.6" cy="952.1" r="5.7" fill="#7e0b0b" />
<circle cx="266.8" cy="952.1" r="5.7" fill="#7e0b0b" />
<circle cx="276.9" cy="956.6" r="5.7" fill="#7e0b0b" />
<circle cx="282" cy="952.1" r="5.7" fill="#7e0b0b" />
<circle cx="312.3" cy="929.7" r="5.7" fill="#7e0b0b" />
<circle cx="337.6" cy="932" r="5.7" fill="#7e0b0b" />
<circle cx="347.7" cy="920.8" r="5.7" fill="#7e0b0b" />
<circle cx="373" cy="918.6" r="5.7" fill="#7e0b0b" />
<circle cx="383.1" cy="911.9" r="5.7" fill="#7e0b0b" />
<circle cx="408.4" cy="905.1" r="5.7" fill="#7e0b0b" />
<circle cx="428.6" cy="817.9" r="5.7" fill="#7e0b0b" />
<circle cx="443.8" cy="817.9" r="5.7" fill="#7e0b0b" />
<circle cx="453.9" cy="806.8" r="5.7" fill="#7e0b0b" />
<circle cx="464" cy="762" r="5.7" fill="#7e0b0b" />
<circle cx="479.2" cy="717.3" r="5.7" fill="#7e0b0b" />
<rect x="140.4" y="627.8" width="379.2" height="380.2" fill="none" stroke="#000" stroke-width="2.6"/>
<line x1="133.9" y1="1008" x2="140.4" y2="1008" stroke="#000" stroke-width="2.4" />
<text x="127.5" y="1016.3" font-size="23.6" text-anchor="end" fill="#000" >0</text>
<line x1="133.9" y1="940.9" x2="140.4" y2="940.9" stroke="#000" stroke-width="2.4" />
<text x="127.5" y="949.2" font-size="23.6" text-anchor="end" fill="#000" >300</text>
<line x1="133.9" y1="873.8" x2="140.4" y2="873.8" stroke="#000" stroke-width="2.4" />
<text x="127.5" y="882.1" font-size="23.6" text-anchor="end" fill="#000" >600</text>
<line x1="133.9" y1="806.8" x2="140.4" y2="806.8" stroke="#000" stroke-width="2.4" />
<text x="127.5" y="815.1" font-size="23.6" text-anchor="end" fill="#000" >900</text>
<line x1="133.9" y1="739.7" x2="140.4" y2="739.7" stroke="#000" stroke-width="2.4" />
<text x="127.5" y="748" font-size="23.6" text-anchor="end" fill="#000" >1200</text>
<line x1="133.9" y1="672.6" x2="140.4" y2="672.6" stroke="#000" stroke-width="2.4" />
<text x="127.5" y="680.9" font-size="23.6" text-anchor="end" fill="#000" >1500</text>
<line x1="140.4" y1="1008" x2="140.4" y2="1014.5" stroke="#000" stroke-width="2.4" />
<text x="139.1" y="1045.6" font-size="23.6" text-anchor="middle" fill="#000" >0</text>
<line x1="216.2" y1="1008" x2="216.2" y2="1014.5" stroke="#000" stroke-width="2.4" />
<text x="216.2" y="1045.6" font-size="23.6" text-anchor="middle" fill="#000" >15</text>
<line x1="292.1" y1="1008" x2="292.1" y2="1014.5" stroke="#000" stroke-width="2.4" />
<text x="297.3" y="1045.6" font-size="23.6" text-anchor="middle" fill="#000" >30</text>
<line x1="367.9" y1="1008" x2="367.9" y2="1014.5" stroke="#000" stroke-width="2.4" />
<text x="374.4" y="1045.6" font-size="23.6" text-anchor="middle" fill="#000" >45</text>
<line x1="443.8" y1="1008" x2="443.8" y2="1014.5" stroke="#000" stroke-width="2.4" />
<text x="446.4" y="1045.6" font-size="23.6" text-anchor="middle" fill="#000" >60</text>
<line x1="519.6" y1="1008" x2="519.6" y2="1014.5" stroke="#000" stroke-width="2.4" />
<text x="522.2" y="1045.6" font-size="23.6" text-anchor="middle" fill="#000" >75</text>
<text x="334.6" y="1076.3" font-size="23.5" text-anchor="middle" fill="#000" >days post treatment</text>
<text x="0" y="0" font-size="23.6" text-anchor="middle" transform="translate(38,809) rotate(-90)" >tumor volume (mm<tspan font-size="14.5" dy="-9.5">3</tspan><tspan dy="9.5">)</tspan></text>
<line x1="147.3" y1="647.8" x2="169.8" y2="647.8" stroke="#bcbcbc" stroke-width="2.4" />
<circle cx="158.8" cy="647.8" r="5.7" fill="#bcbcbc" />
<text x="176" y="656.4" font-size="23.5" text-anchor="start" fill="#000" >Vehicle</text>
<line x1="147.3" y1="672.9" x2="169.8" y2="672.9" stroke="#1b1b1b" stroke-width="2.4" />
<circle cx="158.8" cy="672.9" r="5.7" fill="#1b1b1b" />
<text x="176" y="681.5" font-size="23.5" text-anchor="start" fill="#000" >Vemurafenib</text>
<line x1="147.3" y1="701.4" x2="169.8" y2="701.4" stroke="#d2731a" stroke-width="2.4" />
<circle cx="158.8" cy="701.4" r="5.7" fill="#d2731a" />
<text x="176" y="710" font-size="23.5" text-anchor="start" fill="#000" >Vemurafenib</text>
<line x1="147.3" y1="730" x2="169.8" y2="730" stroke="#7e0b0b" stroke-width="2.4" />
<circle cx="158.8" cy="730" r="5.7" fill="#7e0b0b" />
<text x="177" y="738.6" font-size="23.5" text-anchor="start" fill="#000" >Vemurafenib</text>
<text x="571.3" y="594.4" font-size="38" text-anchor="start" fill="#000" >C</text>
<rect x="663.9" y="621.6" width="384.6" height="384.4" fill="none" stroke="#000" stroke-width="2.6"/>
<defs><pattern id="dots" width="4" height="4" patternUnits="userSpaceOnUse"><rect width="4" height="4" fill="#fafafa"/><circle cx="1" cy="1" r="0.8" fill="#222"/><circle cx="3" cy="3" r="0.8" fill="#222"/></pattern></defs>
<line x1="675" y1="877.9" x2="675" y2="877.9" stroke="#000" stroke-width="1.8" />
<rect x="669.5" y="877.9" width="10.9" height="128.1" fill="url(#dots)" stroke="#000" stroke-width="0.9"/>
<line x1="685.9" y1="877.9" x2="685.9" y2="877.9" stroke="#000" stroke-width="1.8" />
<rect x="680.4" y="877.9" width="10.9" height="128.1" fill="#000" stroke="#000" stroke-width="0.9"/>
<line x1="696.8" y1="877.9" x2="696.8" y2="877.9" stroke="#000" stroke-width="1.8" />
<rect x="691.4" y="877.9" width="10.9" height="128.1" fill="#cc6e14" stroke="#000" stroke-width="0.9"/>
<line x1="707.8" y1="877.9" x2="707.8" y2="877.9" stroke="#000" stroke-width="1.8" />
<rect x="702.3" y="877.9" width="10.9" height="128.1" fill="#a00808" stroke="#000" stroke-width="0.9"/>
<line x1="729.8" y1="924.3" x2="729.8" y2="960.6" stroke="#000" stroke-width="1.8" />
<rect x="724.4" y="960.6" width="10.9" height="45.4" fill="url(#dots)" stroke="#000" stroke-width="0.9"/>
<line x1="740.8" y1="915.9" x2="740.8" y2="943.7" stroke="#000" stroke-width="1.8" />
<rect x="735.3" y="943.7" width="10.9" height="62.3" fill="#000" stroke="#000" stroke-width="0.9"/>
<line x1="751.7" y1="798.4" x2="751.7" y2="827.5" stroke="#000" stroke-width="1.8" />
<rect x="746.2" y="827.5" width="10.9" height="178.5" fill="#cc6e14" stroke="#000" stroke-width="0.9"/>
<line x1="762.6" y1="832.1" x2="762.6" y2="856.1" stroke="#000" stroke-width="1.8" />
<rect x="757.2" y="856.1" width="10.9" height="149.9" fill="#a00808" stroke="#000" stroke-width="0.9"/>
<line x1="784.7" y1="933.9" x2="784.7" y2="968.6" stroke="#000" stroke-width="1.8" />
<rect x="779.3" y="968.6" width="10.9" height="37.4" fill="url(#dots)" stroke="#000" stroke-width="0.9"/>
<line x1="795.7" y1="933.5" x2="795.7" y2="958" stroke="#000" stroke-width="1.8" />
<rect x="790.2" y="958" width="10.9" height="48" fill="#000" stroke="#000" stroke-width="0.9"/>
<line x1="806.6" y1="821.6" x2="806.6" y2="837.8" stroke="#000" stroke-width="1.8" />
<rect x="801.1" y="837.8" width="10.9" height="168.2" fill="#cc6e14" stroke="#000" stroke-width="0.9"/>
<line x1="817.5" y1="828.9" x2="817.5" y2="840.5" stroke="#000" stroke-width="1.8" />
<rect x="812" y="840.5" width="10.9" height="165.5" fill="#a00808" stroke="#000" stroke-width="0.9"/>
<line x1="839.6" y1="920.9" x2="839.6" y2="962.6" stroke="#000" stroke-width="1.8" />
<rect x="834.1" y="962.6" width="10.9" height="43.4" fill="url(#dots)" stroke="#000" stroke-width="0.9"/>
<line x1="850.5" y1="927.6" x2="850.5" y2="954.7" stroke="#000" stroke-width="1.8" />
<rect x="845.1" y="954.7" width="10.9" height="51.3" fill="#000" stroke="#000" stroke-width="0.9"/>
<line x1="861.5" y1="780.2" x2="861.5" y2="817.6" stroke="#000" stroke-width="1.8" />
<rect x="856" y="817.6" width="10.9" height="188.4" fill="#cc6e14" stroke="#000" stroke-width="0.9"/>
<line x1="872.4" y1="822.9" x2="872.4" y2="841.5" stroke="#000" stroke-width="1.8" />
<rect x="866.9" y="841.5" width="10.9" height="164.5" fill="#a00808" stroke="#000" stroke-width="0.9"/>
<line x1="894.5" y1="926.6" x2="894.5" y2="964" stroke="#000" stroke-width="1.8" />
<rect x="889" y="964" width="10.9" height="42" fill="url(#dots)" stroke="#000" stroke-width="0.9"/>
<line x1="905.4" y1="927.8" x2="905.4" y2="952.1" stroke="#000" stroke-width="1.8" />
<rect x="899.9" y="952.1" width="10.9" height="53.9" fill="#000" stroke="#000" stroke-width="0.9"/>
<line x1="916.3" y1="848.8" x2="916.3" y2="879.1" stroke="#000" stroke-width="1.8" />
<rect x="910.9" y="879.1" width="10.9" height="126.9" fill="#cc6e14" stroke="#000" stroke-width="0.9"/>
<line x1="927.3" y1="857.6" x2="927.3" y2="881.2" stroke="#000" stroke-width="1.8" />
<rect x="921.8" y="881.2" width="10.9" height="124.8" fill="#a00808" stroke="#000" stroke-width="0.9"/>
<line x1="949.4" y1="936.8" x2="949.4" y2="969.2" stroke="#000" stroke-width="1.8" />
<rect x="943.9" y="969.2" width="10.9" height="36.8" fill="url(#dots)" stroke="#000" stroke-width="0.9"/>
<line x1="960.3" y1="941.2" x2="960.3" y2="959" stroke="#000" stroke-width="1.8" />
<rect x="954.8" y="959" width="10.9" height="47" fill="#000" stroke="#000" stroke-width="0.9"/>
<line x1="971.2" y1="877.9" x2="971.2" y2="911.3" stroke="#000" stroke-width="1.8" />
<rect x="965.8" y="911.3" width="10.9" height="94.7" fill="#cc6e14" stroke="#000" stroke-width="0.9"/>
<line x1="982.2" y1="884.3" x2="982.2" y2="924.9" stroke="#000" stroke-width="1.8" />
<rect x="976.7" y="924.9" width="10.9" height="81.1" fill="#a00808" stroke="#000" stroke-width="0.9"/>
<line x1="1004.2" y1="955.4" x2="1004.2" y2="969" stroke="#000" stroke-width="1.8" />
<rect x="998.8" y="969" width="10.9" height="37" fill="url(#dots)" stroke="#000" stroke-width="0.9"/>
<line x1="1015.2" y1="913.7" x2="1015.2" y2="958.3" stroke="#000" stroke-width="1.8" />
<rect x="1009.7" y="958.3" width="10.9" height="47.7" fill="#000" stroke="#000" stroke-width="0.9"/>
<line x1="1026.1" y1="927.6" x2="1026.1" y2="931.6" stroke="#000" stroke-width="1.8" />
<rect x="1020.6" y="931.6" width="10.9" height="74.4" fill="#cc6e14" stroke="#000" stroke-width="0.9"/>
<line x1="1037" y1="950.4" x2="1037" y2="961.7" stroke="#000" stroke-width="1.8" />
<rect x="1031.6" y="961.7" width="10.9" height="44.3" fill="#a00808" stroke="#000" stroke-width="0.9"/>
<text x="688.8" y="1029" font-size="24" text-anchor="middle" fill="#000" >0</text>
<text x="748.9" y="1029" font-size="24" text-anchor="middle" fill="#000" >0.1</text>
<text x="803.3" y="1029" font-size="24" text-anchor="middle" fill="#000" >0.5</text>
<text x="860.2" y="1029" font-size="24" text-anchor="middle" fill="#000" >1.0</text>
<text x="910.9" y="1029" font-size="24" text-anchor="middle" fill="#000" >2.0</text>
<text x="970.5" y="1029" font-size="24" text-anchor="middle" fill="#000" >5.0</text>
<text x="1025.7" y="1029" font-size="24" text-anchor="middle" fill="#000" >10</text>
<line x1="656.9" y1="1006" x2="663.9" y2="1006" stroke="#000" stroke-width="2.4" />
<text x="653.5" y="1014.4" font-size="24.2" text-anchor="end" fill="#000" >0</text>
<line x1="656.9" y1="941.9" x2="663.9" y2="941.9" stroke="#000" stroke-width="2.4" />
<text x="653.5" y="950.3" font-size="24.2" text-anchor="end" fill="#000" >50</text>
<line x1="656.9" y1="877.9" x2="663.9" y2="877.9" stroke="#000" stroke-width="2.4" />
<text x="653.5" y="886.3" font-size="24.2" text-anchor="end" fill="#000" >100</text>
<line x1="656.9" y1="813.8" x2="663.9" y2="813.8" stroke="#000" stroke-width="2.4" />
<text x="653.5" y="822.2" font-size="24.2" text-anchor="end" fill="#000" >150</text>
<line x1="656.9" y1="749.7" x2="663.9" y2="749.7" stroke="#000" stroke-width="2.4" />
<text x="653.5" y="758.1" font-size="24.2" text-anchor="end" fill="#000" >200</text>
<line x1="656.9" y1="685.7" x2="663.9" y2="685.7" stroke="#000" stroke-width="2.4" />
<text x="653.5" y="694.1" font-size="24.2" text-anchor="end" fill="#000" >250</text>
<line x1="656.9" y1="621.6" x2="663.9" y2="621.6" stroke="#000" stroke-width="2.4" />
<text x="653.5" y="630" font-size="24.2" text-anchor="end" fill="#000" >300</text>
<text x="856.6" y="1060.8" font-size="23.5" text-anchor="middle" fill="#000" >vemurafenib (μM)</text>
<text x="0" y="0" font-size="23.6" text-anchor="middle" transform="translate(596,831) rotate(-90)" >proliferation (%)</text>
<line x1="728.5" y1="758" x2="763.6" y2="758" stroke="#000" stroke-width="1.3" />
<line x1="728.5" y1="754.7" x2="728.5" y2="761.3" stroke="#000" stroke-width="1.6" />
<line x1="763.6" y1="754.7" x2="763.6" y2="761.3" stroke="#000" stroke-width="1.6" />
<text x="746" y="760" font-size="18" text-anchor="middle" fill="#000" font-weight="bold">*</text>
<line x1="728.5" y1="779.5" x2="752.4" y2="779.5" stroke="#000" stroke-width="1.3" />
<line x1="728.5" y1="776.2" x2="728.5" y2="782.8" stroke="#000" stroke-width="1.6" />
<line x1="752.4" y1="776.2" x2="752.4" y2="782.8" stroke="#000" stroke-width="1.6" />
<text x="740.5" y="781.5" font-size="18" text-anchor="middle" fill="#000" font-weight="bold">**</text>
<line x1="784.9" y1="778.9" x2="820" y2="778.9" stroke="#000" stroke-width="1.3" />
<line x1="784.9" y1="775.6" x2="784.9" y2="782.2" stroke="#000" stroke-width="1.6" />
<line x1="820" y1="775.6" x2="820" y2="782.2" stroke="#000" stroke-width="1.6" />
<text x="802.5" y="780.9" font-size="18" text-anchor="middle" fill="#000" font-weight="bold">**</text>
<line x1="784.9" y1="801" x2="808.8" y2="801" stroke="#000" stroke-width="1.3" />
<line x1="784.9" y1="797.7" x2="784.9" y2="804.3" stroke="#000" stroke-width="1.6" />
<line x1="808.8" y1="797.7" x2="808.8" y2="804.3" stroke="#000" stroke-width="1.6" />
<text x="796.8" y="803" font-size="18" text-anchor="middle" fill="#000" font-weight="bold">**</text>
<line x1="841.3" y1="741.4" x2="876.1" y2="741.4" stroke="#000" stroke-width="1.3" />
<line x1="841.3" y1="738.1" x2="841.3" y2="744.7" stroke="#000" stroke-width="1.6" />
<line x1="876.1" y1="738.1" x2="876.1" y2="744.7" stroke="#000" stroke-width="1.6" />
<text x="858.7" y="743.4" font-size="18" text-anchor="middle" fill="#000" font-weight="bold">**</text>
<line x1="841.3" y1="763" x2="865.1" y2="763" stroke="#000" stroke-width="1.3" />
<line x1="841.3" y1="759.7" x2="841.3" y2="766.3" stroke="#000" stroke-width="1.6" />
<line x1="865.1" y1="759.7" x2="865.1" y2="766.3" stroke="#000" stroke-width="1.6" />
<text x="853.2" y="765" font-size="18" text-anchor="middle" fill="#000" font-weight="bold">**</text>
<rect x="672.1" y="635.6" width="21" height="16.6" fill="url(#dots)" stroke="#555" stroke-width="0.9"/>
<rect x="672.1" y="660.4" width="21" height="16.6" fill="#000" />
<rect x="830.3" y="632.9" width="21.5" height="16.6" fill="#cc6e14" stroke="#000" stroke-width="0.9"/>
<rect x="830.3" y="658.8" width="21.5" height="16.6" fill="#a00808" stroke="#000" stroke-width="0.9"/>
<text x="701" y="651.8" font-size="23.5" text-anchor="start" fill="#000" >A375</text>
<text x="702.6" y="676.5" font-size="23.5" text-anchor="start" fill="#000" >A375-v</text>
<text x="858.5" y="648.6" font-size="23.4" text-anchor="start" fill="#000" >A375RIV1</text>
<text x="857.5" y="674.6" font-size="23.4" text-anchor="start" fill="#000" >A375RIV2</text>
<text x="1121.7" y="595.8" font-size="38" text-anchor="start" fill="#000" >D</text>
<rect x="1230.6" y="632.5" width="382.9" height="384" fill="none" stroke="#000" stroke-width="2.6"/>
<line x1="1223.6" y1="1016.5" x2="1230.6" y2="1016.5" stroke="#000" stroke-width="2.4" />
<text x="1217.4" y="1021.1" font-size="24.2" text-anchor="end" fill="#000" >0</text>
<line x1="1223.6" y1="920.5" x2="1230.6" y2="920.5" stroke="#000" stroke-width="2.4" />
<text x="1217.4" y="925.1" font-size="24.2" text-anchor="end" fill="#000" >500</text>
<line x1="1223.6" y1="824.5" x2="1230.6" y2="824.5" stroke="#000" stroke-width="2.4" />
<text x="1217.4" y="829.1" font-size="24.2" text-anchor="end" fill="#000" >1000</text>
<line x1="1223.6" y1="728.5" x2="1230.6" y2="728.5" stroke="#000" stroke-width="2.4" />
<text x="1217.4" y="733.1" font-size="24.2" text-anchor="end" fill="#000" >1500</text>
<line x1="1223.6" y1="632.5" x2="1230.6" y2="632.5" stroke="#000" stroke-width="2.4" />
<text x="1217.4" y="637.1" font-size="24.2" text-anchor="end" fill="#000" >2000</text>
<line x1="1231" y1="1016.5" x2="1231" y2="1023.5" stroke="#000" stroke-width="2.4" />
<text x="1231" y="1051.6" font-size="24" text-anchor="middle" fill="#000" >0</text>
<line x1="1283.1" y1="1016.5" x2="1283.1" y2="1023.5" stroke="#000" stroke-width="2.4" />
<text x="1283.1" y="1051.6" font-size="24" text-anchor="middle" fill="#000" >3</text>
<line x1="1335.1" y1="1016.5" x2="1335.1" y2="1023.5" stroke="#000" stroke-width="2.4" />
<text x="1335.1" y="1051.6" font-size="24" text-anchor="middle" fill="#000" >6</text>
<line x1="1387.2" y1="1016.5" x2="1387.2" y2="1023.5" stroke="#000" stroke-width="2.4" />
<text x="1387.2" y="1051.6" font-size="24" text-anchor="middle" fill="#000" >9</text>
<line x1="1439.2" y1="1016.5" x2="1439.2" y2="1023.5" stroke="#000" stroke-width="2.4" />
<text x="1439.2" y="1051.6" font-size="24" text-anchor="middle" fill="#000" >12</text>
<line x1="1491.3" y1="1016.5" x2="1491.3" y2="1023.5" stroke="#000" stroke-width="2.4" />
<text x="1493.8" y="1051.6" font-size="24" text-anchor="middle" fill="#000" >15</text>
<line x1="1543.4" y1="1016.5" x2="1543.4" y2="1023.5" stroke="#000" stroke-width="2.4" />
<text x="1545.9" y="1051.6" font-size="24" text-anchor="middle" fill="#000" >18</text>
<line x1="1595.4" y1="1016.5" x2="1595.4" y2="1023.5" stroke="#000" stroke-width="2.4" />
<text x="1597.9" y="1051.6" font-size="24" text-anchor="middle" fill="#000" >21</text>
<text x="1425.5" y="1082.6" font-size="23.6" text-anchor="middle" fill="#000" >days post incubation</text>
<text x="0" y="0" font-size="23.6" text-anchor="middle" transform="translate(1144.5,820) rotate(-90)" >tumor volume (mm<tspan font-size="14.5" dy="-9.5">3</tspan><tspan dy="9.5">)</tspan></text>
<line x1="1543.4" y1="921.8" x2="1543.4" y2="897.3" stroke="#000" stroke-width="1.8" />
<line x1="1387.2" y1="991.2" x2="1387.2" y2="940.5" stroke="#000" stroke-width="1.8" />
<line x1="1595.4" y1="750.8" x2="1595.4" y2="682" stroke="#000" stroke-width="1.8" />
<polyline points="1231,1016.5 1387.2,1000.2 1439.2,995.6 1491.3,949.3 1543.4,909.6 1595.4,879.4" fill="none" stroke="#000" stroke-width="2.6"/>
<polyline points="1231,1016.5 1387.2,995.6 1439.2,985 1491.3,971.4 1543.4,871.9 1595.4,842.2" fill="none" stroke="#f5c08f" stroke-width="2.6"/>
<polyline points="1231,1016.5 1387.2,965.8 1439.2,901.1 1491.3,847.9 1543.4,781.5 1595.4,716.4" fill="none" stroke="#7a0c0c" stroke-width="2.6"/>
<circle cx="1231" cy="1016.5" r="7.5" fill="#000" stroke="#000" stroke-width="1.6"/>
<circle cx="1439.2" cy="995.6" r="7.5" fill="#000" stroke="#000" stroke-width="1.6"/>
<circle cx="1491.3" cy="949.3" r="7.5" fill="#000" stroke="#000" stroke-width="1.6"/>
<circle cx="1543.4" cy="909.6" r="7.5" fill="#000" stroke="#000" stroke-width="1.6"/>
<circle cx="1595.4" cy="879.4" r="7.5" fill="#000" stroke="#000" stroke-width="1.6"/>
<circle cx="1231" cy="1016.5" r="7.5" fill="#f5c08f" stroke="#000" stroke-width="1.6"/>
<circle cx="1387.2" cy="995.6" r="7.5" fill="#f5c08f" stroke="#000" stroke-width="1.6"/>
<circle cx="1439.2" cy="985" r="7.5" fill="#f5c08f" stroke="#000" stroke-width="1.6"/>
<circle cx="1491.3" cy="971.4" r="7.5" fill="#f5c08f" stroke="#000" stroke-width="1.6"/>
<circle cx="1543.4" cy="871.9" r="7.5" fill="#f5c08f" stroke="#000" stroke-width="1.6"/>
<circle cx="1595.4" cy="842.2" r="7.5" fill="#f5c08f" stroke="#000" stroke-width="1.6"/>
<circle cx="1231" cy="1016.5" r="7.5" fill="#7a0c0c" stroke="#000" stroke-width="1.6"/>
<circle cx="1387.2" cy="965.8" r="7.5" fill="#7a0c0c" stroke="#000" stroke-width="1.6"/>
<circle cx="1439.2" cy="901.1" r="7.5" fill="#7a0c0c" stroke="#000" stroke-width="1.6"/>
<circle cx="1491.3" cy="847.9" r="7.5" fill="#7a0c0c" stroke="#000" stroke-width="1.6"/>
<circle cx="1543.4" cy="781.5" r="7.5" fill="#7a0c0c" stroke="#000" stroke-width="1.6"/>
<circle cx="1595.4" cy="716.4" r="7.5" fill="#7a0c0c" stroke="#000" stroke-width="1.6"/>
<text x="1432.8" y="892.7" font-size="34" text-anchor="start" fill="#000" font-weight="bold">*</text>
<text x="1478.5" y="850" font-size="34" text-anchor="start" fill="#000" font-weight="bold">*</text>
<text x="1532" y="777.7" font-size="34" text-anchor="start" fill="#000" font-weight="bold">*</text>
<text x="1568.9" y="722.7" font-size="34" text-anchor="start" fill="#000" font-weight="bold">*</text>
<line x1="1245" y1="663.2" x2="1267" y2="663.2" stroke="#000" stroke-width="1.8" />
<circle cx="1256" cy="663.2" r="7.8" fill="#000" stroke="#000" stroke-width="1.6"/>
<text x="1274.2" y="670.3" font-size="23.5" text-anchor="start" fill="#000" >A375</text>
<line x1="1245" y1="692.3" x2="1267" y2="692.3" stroke="#f5c08f" stroke-width="1.8" />
<circle cx="1256" cy="692.3" r="7.8" fill="#f5c08f" stroke="#000" stroke-width="1.6"/>
<text x="1274.2" y="696.6" font-size="23.5" text-anchor="start" fill="#000" >A375-v</text>
<line x1="1245" y1="719.6" x2="1267" y2="719.6" stroke="#7a0c0c" stroke-width="1.8" />
<circle cx="1256" cy="719.6" r="7.8" fill="#7a0c0c" stroke="#000" stroke-width="1.6"/>
<text x="1274.2" y="723" font-size="23.5" text-anchor="start" fill="#000" >A375RIV1</text>
<text x="6.2" y="1158.9" font-size="38" text-anchor="start" fill="#000" >E</text>
<text x="119.4" y="1173.4" font-size="23.6" text-anchor="middle" fill="#000" >A375</text>
<text x="340.8" y="1173.4" font-size="23.6" text-anchor="middle" fill="#000" >A375-v</text>
<text x="573.5" y="1173.4" font-size="23.6" text-anchor="middle" fill="#000" >A375RIV1</text>
<text x="0" y="0" font-size="23.6" text-anchor="middle" transform="translate(21.5,1267) rotate(-90)">Tumor</text>
<text x="0" y="0" font-size="23.6" text-anchor="middle" transform="translate(21.5,1455) rotate(-90)">Lung</text>
<defs><filter id="bl3" x="-100%" y="-100%" width="300%" height="300%"><feGaussianBlur stdDeviation="3"/></filter><filter id="bl1" x="-100%" y="-100%" width="300%" height="300%"><feGaussianBlur stdDeviation="1"/></filter><filter id="bl6" x="-100%" y="-100%" width="300%" height="300%"><feGaussianBlur stdDeviation="6"/></filter><filter id="bl12" x="-100%" y="-100%" width="300%" height="300%"><feGaussianBlur stdDeviation="12"/></filter></defs>
<clipPath id="ce1"><rect x="41.4" y="1189.4" width="207.5" height="199.6"/></clipPath>
<g clip-path="url(#ce1)">
<rect x="41.4" y="1189.4" width="207.5" height="199.6" fill="#4a8450" />
<ellipse cx="61.4" cy="1214.4" rx="70" ry="50" fill="#9cc48c" filter="url(#bl12)"/>
<ellipse cx="236.4" cy="1299.4" rx="35" ry="90" fill="#244e2a" filter="url(#bl12)"/>
<path d="M48,1248.3 C56.4,1237.4 63.4,1231.4 73.4,1228.2 C91.4,1221.4 116.4,1215.4 133.7,1212.1 C146.4,1207.4 156.4,1203.4 167.2,1202.7 C176.4,1201.4 181.4,1204.4 187.3,1208.1 C199.4,1211.4 209.4,1215.4 214.1,1221.5 C219.4,1229.4 221.4,1235.4 219.4,1241.6 C219.4,1259.4 218.4,1271.4 214.1,1281.7 C207.4,1291.4 201.4,1297.4 194,1301.8 C186.4,1306.4 181.4,1309.4 173.9,1311.2 C146.4,1315.4 116.4,1316.4 93.6,1315.2 C81.4,1312.4 73.4,1307.4 66.8,1301.8 C56.4,1294.4 47.4,1287.4 45.4,1281.7 C43.4,1269.4 44.4,1257.4 48,1248.3 Z" fill="#d87c5a" filter="url(#bl1)"/>
<ellipse cx="86.4" cy="1261.4" rx="38" ry="16" fill="#e3a46c" filter="url(#bl6)"/>
<ellipse cx="136.4" cy="1249.4" rx="25" ry="14" fill="#e09a68" filter="url(#bl6)"/>
<ellipse cx="176.4" cy="1289.4" rx="18" ry="14" fill="#e09a6a" filter="url(#bl6)"/>
<ellipse cx="189.4" cy="1257.4" rx="17" ry="40" fill="#7c2c44" transform="rotate(-22 189.4 1257.4)" filter="url(#bl6)"/>
<ellipse cx="121.4" cy="1297.4" rx="32" ry="11" fill="#c44c58" filter="url(#bl6)"/>
<path d="M41.4,1313.9 L217.4,1313.9 C246.4,1315.4 248.4,1339.4 245.4,1359.4 C241.4,1381.4 231.4,1389.4 221.4,1390.4 L41.4,1390.4 Z" fill="#b3c3c6"/>
<ellipse cx="64.1" cy="1352.7" rx="19.5" ry="14.5" fill="#10281a" filter="url(#bl1)"/>
<line x1="45.4" y1="1315.4" x2="45.4" y2="1339.4" stroke="#8e9ea2" stroke-width="1.1"/>
<line x1="51.1" y1="1315.4" x2="51.1" y2="1328.4" stroke="#8e9ea2" stroke-width="1.1"/>
<line x1="56.8" y1="1315.4" x2="56.8" y2="1328.4" stroke="#8e9ea2" stroke-width="1.1"/>
<line x1="62.5" y1="1315.4" x2="62.5" y2="1328.4" stroke="#8e9ea2" stroke-width="1.1"/>
<line x1="68.2" y1="1315.4" x2="68.2" y2="1328.4" stroke="#8e9ea2" stroke-width="1.1"/>
<line x1="73.9" y1="1315.4" x2="73.9" y2="1339.4" stroke="#8e9ea2" stroke-width="1.1"/>
<line x1="79.6" y1="1315.4" x2="79.6" y2="1328.4" stroke="#8e9ea2" stroke-width="1.1"/>
<line x1="85.3" y1="1315.4" x2="85.3" y2="1328.4" stroke="#8e9ea2" stroke-width="1.1"/>
<line x1="91" y1="1315.4" x2="91" y2="1328.4" stroke="#8e9ea2" stroke-width="1.1"/>
<line x1="96.7" y1="1315.4" x2="96.7" y2="1328.4" stroke="#8e9ea2" stroke-width="1.1"/>
<line x1="102.4" y1="1315.4" x2="102.4" y2="1339.4" stroke="#8e9ea2" stroke-width="1.1"/>
<line x1="108.1" y1="1315.4" x2="108.1" y2="1328.4" stroke="#8e9ea2" stroke-width="1.1"/>
<line x1="113.8" y1="1315.4" x2="113.8" y2="1328.4" stroke="#8e9ea2" stroke-width="1.1"/>
<line x1="119.5" y1="1315.4" x2="119.5" y2="1328.4" stroke="#8e9ea2" stroke-width="1.1"/>
<line x1="125.2" y1="1315.4" x2="125.2" y2="1328.4" stroke="#8e9ea2" stroke-width="1.1"/>
<line x1="130.9" y1="1315.4" x2="130.9" y2="1339.4" stroke="#8e9ea2" stroke-width="1.1"/>
<line x1="136.6" y1="1315.4" x2="136.6" y2="1328.4" stroke="#8e9ea2" stroke-width="1.1"/>
<line x1="142.3" y1="1315.4" x2="142.3" y2="1328.4" stroke="#8e9ea2" stroke-width="1.1"/>
<line x1="148" y1="1315.4" x2="148" y2="1328.4" stroke="#8e9ea2" stroke-width="1.1"/>
<line x1="153.7" y1="1315.4" x2="153.7" y2="1328.4" stroke="#8e9ea2" stroke-width="1.1"/>
<line x1="159.4" y1="1315.4" x2="159.4" y2="1339.4" stroke="#8e9ea2" stroke-width="1.1"/>
<line x1="165.1" y1="1315.4" x2="165.1" y2="1328.4" stroke="#8e9ea2" stroke-width="1.1"/>
<line x1="170.8" y1="1315.4" x2="170.8" y2="1328.4" stroke="#8e9ea2" stroke-width="1.1"/>
<line x1="176.5" y1="1315.4" x2="176.5" y2="1328.4" stroke="#8e9ea2" stroke-width="1.1"/>
<line x1="182.2" y1="1315.4" x2="182.2" y2="1328.4" stroke="#8e9ea2" stroke-width="1.1"/>
<line x1="187.9" y1="1315.4" x2="187.9" y2="1339.4" stroke="#8e9ea2" stroke-width="1.1"/>
<line x1="193.6" y1="1315.4" x2="193.6" y2="1328.4" stroke="#8e9ea2" stroke-width="1.1"/>
</g>
<rect x="41.4" y="1189.4" width="207.5" height="199.6" fill="none" stroke="#000" stroke-width="2.2"/>
<clipPath id="ce2"><rect x="260.7" y="1189.4" width="207.7" height="199.6"/></clipPath>
<g clip-path="url(#ce2)">
<rect x="260.7" y="1189.4" width="207.7" height="199.6" fill="#428c80" />
<path d="M285.7,1229.4 C290.7,1214.4 320.7,1204.4 350.7,1201.4 C370.7,1197.4 390.7,1194.4 408.7,1203.4 C425.7,1211.4 442.7,1229.4 445.7,1241.4 C446.7,1251.4 435.7,1264.4 428.7,1269.4 C432.7,1281.4 435.7,1297.4 426.7,1306.4 C410.7,1310.4 380.7,1310.4 355.7,1307.4 C340.7,1299.4 322.7,1289.4 310.7,1277.4 C300.7,1267.4 290.7,1254.4 285.7,1244.4 Z" fill="#cc5646" filter="url(#bl1)"/>
<ellipse cx="360.7" cy="1237.4" rx="48" ry="22" fill="#e0806c" filter="url(#bl6)"/>
<ellipse cx="290.7" cy="1236.4" rx="8" ry="16" fill="#8c2e30" filter="url(#bl3)"/>
<ellipse cx="400.7" cy="1289.4" rx="28" ry="17" fill="#a8343a" filter="url(#bl6)"/>
<ellipse cx="408.7" cy="1219.4" rx="20" ry="8" fill="#c23a3a" filter="url(#bl3)"/>
<path d="M260.7,1312.4 L455.7,1311.4 C466.7,1313.4 469.7,1329.4 469.7,1349.4 L469.7,1390.4 L260.7,1390.4 Z" fill="#7384cc"/>
<ellipse cx="270.7" cy="1357.4" rx="17" ry="17" fill="#2a5060" filter="url(#bl1)"/>
<line x1="270.7" y1="1315.4" x2="270.7" y2="1335.4" stroke="#6070b8" stroke-width="1"/>
<line x1="276.9" y1="1315.4" x2="276.9" y2="1327.4" stroke="#6070b8" stroke-width="1"/>
<line x1="283.1" y1="1315.4" x2="283.1" y2="1327.4" stroke="#6070b8" stroke-width="1"/>
<line x1="289.3" y1="1315.4" x2="289.3" y2="1327.4" stroke="#6070b8" stroke-width="1"/>
<line x1="295.5" y1="1315.4" x2="295.5" y2="1327.4" stroke="#6070b8" stroke-width="1"/>
<line x1="301.7" y1="1315.4" x2="301.7" y2="1335.4" stroke="#6070b8" stroke-width="1"/>
<line x1="307.9" y1="1315.4" x2="307.9" y2="1327.4" stroke="#6070b8" stroke-width="1"/>
<line x1="314.1" y1="1315.4" x2="314.1" y2="1327.4" stroke="#6070b8" stroke-width="1"/>
<line x1="320.3" y1="1315.4" x2="320.3" y2="1327.4" stroke="#6070b8" stroke-width="1"/>
<line x1="326.5" y1="1315.4" x2="326.5" y2="1327.4" stroke="#6070b8" stroke-width="1"/>
<line x1="332.7" y1="1315.4" x2="332.7" y2="1335.4" stroke="#6070b8" stroke-width="1"/>
<line x1="338.9" y1="1315.4" x2="338.9" y2="1327.4" stroke="#6070b8" stroke-width="1"/>
<line x1="345.1" y1="1315.4" x2="345.1" y2="1327.4" stroke="#6070b8" stroke-width="1"/>
<line x1="351.3" y1="1315.4" x2="351.3" y2="1327.4" stroke="#6070b8" stroke-width="1"/>
<line x1="357.5" y1="1315.4" x2="357.5" y2="1327.4" stroke="#6070b8" stroke-width="1"/>
<line x1="363.7" y1="1315.4" x2="363.7" y2="1335.4" stroke="#6070b8" stroke-width="1"/>
<line x1="369.9" y1="1315.4" x2="369.9" y2="1327.4" stroke="#6070b8" stroke-width="1"/>
<line x1="376.1" y1="1315.4" x2="376.1" y2="1327.4" stroke="#6070b8" stroke-width="1"/>
<line x1="382.3" y1="1315.4" x2="382.3" y2="1327.4" stroke="#6070b8" stroke-width="1"/>
<line x1="388.5" y1="1315.4" x2="388.5" y2="1327.4" stroke="#6070b8" stroke-width="1"/>
<line x1="394.7" y1="1315.4" x2="394.7" y2="1335.4" stroke="#6070b8" stroke-width="1"/>
<line x1="400.9" y1="1315.4" x2="400.9" y2="1327.4" stroke="#6070b8" stroke-width="1"/>
<line x1="407.1" y1="1315.4" x2="407.1" y2="1327.4" stroke="#6070b8" stroke-width="1"/>
<line x1="413.3" y1="1315.4" x2="413.3" y2="1327.4" stroke="#6070b8" stroke-width="1"/>
</g>
<rect x="260.7" y="1189.4" width="207.7" height="199.6" fill="none" stroke="#000" stroke-width="2.2"/>
<clipPath id="ce3"><rect x="475.6" y="1188.8" width="208.4" height="200.7"/></clipPath>
<g clip-path="url(#ce3)">
<rect x="475.6" y="1188.8" width="208.4" height="200.7" fill="#2f6436" />
<ellipse cx="485.6" cy="1248.8" rx="40" ry="70" fill="#6aa070" filter="url(#bl12)"/>
<path d="M479.6,1233.8 C495.6,1208.8 530.6,1198.8 560.6,1200.8 C590.6,1202.8 625.6,1206.8 650.6,1228.8 C665.6,1248.8 645.6,1278.8 633.6,1298.8 C615.6,1316.8 575.6,1320.8 535.6,1313.8 C505.6,1298.8 480.6,1273.8 479.6,1233.8 Z" fill="#c68272" filter="url(#bl3)"/>
<ellipse cx="615.6" cy="1248.8" rx="32" ry="28" fill="#d4a08a" filter="url(#bl6)"/>
<ellipse cx="565.6" cy="1293.8" rx="45" ry="18" fill="#d6a688" filter="url(#bl6)"/>
<ellipse cx="572.6" cy="1240.8" rx="12" ry="26" fill="#86384a" filter="url(#bl6)"/>
<path d="M475.6,1320.8 L655.6,1320.8 C690.6,1323.8 687.6,1388.8 670.6,1390.8 L475.6,1390.8 Z" fill="#a9b9bd"/>
<ellipse cx="500.6" cy="1354.8" rx="21" ry="14" fill="#0e2418" filter="url(#bl3)"/>
<line x1="480.6" y1="1322.8" x2="480.6" y2="1340.8" stroke="#8a9a9e" stroke-width="1"/>
<line x1="486.9" y1="1322.8" x2="486.9" y2="1332.8" stroke="#8a9a9e" stroke-width="1"/>
<line x1="493.2" y1="1322.8" x2="493.2" y2="1332.8" stroke="#8a9a9e" stroke-width="1"/>
<line x1="499.5" y1="1322.8" x2="499.5" y2="1332.8" stroke="#8a9a9e" stroke-width="1"/>
<line x1="505.8" y1="1322.8" x2="505.8" y2="1332.8" stroke="#8a9a9e" stroke-width="1"/>
<line x1="512.1" y1="1322.8" x2="512.1" y2="1340.8" stroke="#8a9a9e" stroke-width="1"/>
<line x1="518.4" y1="1322.8" x2="518.4" y2="1332.8" stroke="#8a9a9e" stroke-width="1"/>
<line x1="524.7" y1="1322.8" x2="524.7" y2="1332.8" stroke="#8a9a9e" stroke-width="1"/>
<line x1="531" y1="1322.8" x2="531" y2="1332.8" stroke="#8a9a9e" stroke-width="1"/>
<line x1="537.3" y1="1322.8" x2="537.3" y2="1332.8" stroke="#8a9a9e" stroke-width="1"/>
<line x1="543.6" y1="1322.8" x2="543.6" y2="1340.8" stroke="#8a9a9e" stroke-width="1"/>
<line x1="549.9" y1="1322.8" x2="549.9" y2="1332.8" stroke="#8a9a9e" stroke-width="1"/>
<line x1="556.2" y1="1322.8" x2="556.2" y2="1332.8" stroke="#8a9a9e" stroke-width="1"/>
<line x1="562.5" y1="1322.8" x2="562.5" y2="1332.8" stroke="#8a9a9e" stroke-width="1"/>
<line x1="568.8" y1="1322.8" x2="568.8" y2="1332.8" stroke="#8a9a9e" stroke-width="1"/>
<line x1="575.1" y1="1322.8" x2="575.1" y2="1340.8" stroke="#8a9a9e" stroke-width="1"/>
<line x1="581.4" y1="1322.8" x2="581.4" y2="1332.8" stroke="#8a9a9e" stroke-width="1"/>
<line x1="587.7" y1="1322.8" x2="587.7" y2="1332.8" stroke="#8a9a9e" stroke-width="1"/>
<line x1="594" y1="1322.8" x2="594" y2="1332.8" stroke="#8a9a9e" stroke-width="1"/>
<line x1="600.3" y1="1322.8" x2="600.3" y2="1332.8" stroke="#8a9a9e" stroke-width="1"/>
<line x1="606.6" y1="1322.8" x2="606.6" y2="1340.8" stroke="#8a9a9e" stroke-width="1"/>
<line x1="612.9" y1="1322.8" x2="612.9" y2="1332.8" stroke="#8a9a9e" stroke-width="1"/>
<line x1="619.2" y1="1322.8" x2="619.2" y2="1332.8" stroke="#8a9a9e" stroke-width="1"/>
<line x1="625.5" y1="1322.8" x2="625.5" y2="1332.8" stroke="#8a9a9e" stroke-width="1"/>
</g>
<rect x="475.6" y="1188.8" width="208.4" height="200.7" fill="none" stroke="#000" stroke-width="2.2"/>
<clipPath id="ce4"><rect x="40.8" y="1399" width="207.2" height="199.5"/></clipPath>
<g clip-path="url(#ce4)">
<rect x="40.8" y="1399" width="207.2" height="199.5" fill="#fbf1e8" />
<path d="M45.8,1492 C48.8,1474 52.8,1464 60.8,1458 C70.8,1447 78.8,1441 87.8,1438 C110.8,1433 135.8,1433 150.8,1435 C165.8,1429 180.8,1417 193.8,1411 C196.8,1417 195.8,1427 190.8,1433 C200.8,1437 215.8,1439 227.8,1442 C238.8,1454 242.8,1467 240.8,1484 C240.8,1519 238.8,1544 230.8,1561 C222.8,1579 210.8,1589 198.8,1591 C175.8,1594 155.8,1592 144.8,1588 C130.8,1581 122.8,1569 118.8,1557 C116.8,1549 115.8,1544 113.8,1540 C102.8,1543 92.8,1547 84.8,1546 C70.8,1545 55.8,1539 50.8,1529 C45.8,1517 43.8,1504 45.8,1492 Z" fill="#dd2a2a" filter="url(#bl3)"/>
<ellipse cx="80.8" cy="1499" rx="28" ry="30" fill="#e6504c" filter="url(#bl12)"/>
<ellipse cx="190.8" cy="1509" rx="30" ry="40" fill="#e44848" filter="url(#bl12)"/>
<ellipse cx="132.8" cy="1514" rx="24" ry="20" fill="#8a3040" opacity="0.85" filter="url(#bl6)"/>
<path d="M156.8,1444 C165.8,1434 180.8,1419 190.8,1413" fill="none" stroke="#b8303a" stroke-width="5" filter="url(#bl1)"/>
<path d="M192.8,1411 l4,2 l-1,14 l-4,1 z" fill="#f0d0c0" filter="url(#bl1)"/>
<path d="M85.8,1489 L100.8,1473" stroke="#fff4f0" stroke-width="1.5" fill="none" opacity="0.75" filter="url(#bl1)"/>
<path d="M110.8,1501 L126.8,1484" stroke="#fff4f0" stroke-width="1.5" fill="none" opacity="0.75" filter="url(#bl1)"/>
<path d="M83.8,1537 L88.8,1520" stroke="#fff4f0" stroke-width="1.5" fill="none" opacity="0.75" filter="url(#bl1)"/>
<path d="M160.8,1504 L175.8,1503" stroke="#fff4f0" stroke-width="1.5" fill="none" opacity="0.75" filter="url(#bl1)"/>
<path d="M180.8,1484 L195.8,1473" stroke="#fff4f0" stroke-width="1.5" fill="none" opacity="0.75" filter="url(#bl1)"/>
<path d="M158.8,1527 L165.8,1521" stroke="#fff4f0" stroke-width="1.5" fill="none" opacity="0.75" filter="url(#bl1)"/>
</g>
<rect x="40.8" y="1399" width="207.2" height="199.5" fill="none" stroke="#000" stroke-width="2.2"/>
<clipPath id="ce5"><rect x="260.7" y="1400" width="207.7" height="200"/></clipPath>
<g clip-path="url(#ce5)">
<rect x="260.7" y="1400" width="207.7" height="200" fill="#6aa862" />
<ellipse cx="300.7" cy="1440" rx="70" ry="60" fill="#8cc47a" filter="url(#bl12)"/>
<ellipse cx="455.7" cy="1520" rx="30" ry="80" fill="#4e8c4c" filter="url(#bl12)"/>
<path d="M272.7,1530 C275.7,1495 300.7,1470 335.7,1458 C345.7,1500 342.7,1550 340.7,1595 C310.7,1592 280.7,1570 272.7,1530 Z" fill="#dc6a44" filter="url(#bl3)"/>
<path d="M320.7,1440 C340.7,1420 380.7,1418 400.7,1440 C420.7,1470 455.7,1510 452.7,1550 C440.7,1575 390.7,1575 360.7,1568 C355.7,1540 360.7,1520 370.7,1515 C355.7,1495 340.7,1470 320.7,1440 Z" fill="#de6a42" filter="url(#bl3)"/>
<ellipse cx="300.7" cy="1520" rx="20" ry="35" fill="#e8904e" filter="url(#bl6)"/>
<ellipse cx="410.7" cy="1540" rx="25" ry="18" fill="#c24a36" filter="url(#bl6)"/>
<path d="M335.7,1463 L370.7,1520 L355.7,1540 L352.7,1572 L345.7,1572 C346.7,1530 344.7,1500 335.7,1463 Z" fill="#2e4a2a" filter="url(#bl1)"/>
<path d="M300.7,1535 l8,-6 l-4,8 l10,2 l-12,4 z" fill="#f4f0c0" filter="url(#bl1)"/>
</g>
<rect x="260.7" y="1400" width="207.7" height="200" fill="none" stroke="#000" stroke-width="2.2"/>
<clipPath id="ce6"><rect x="475.6" y="1399.9" width="208.4" height="200.7"/></clipPath>
<g clip-path="url(#ce6)">
<rect x="475.6" y="1399.9" width="208.4" height="200.7" fill="#fbf1ec" />
<ellipse cx="593.6" cy="1507.9" rx="104" ry="102" fill="#f0a29c" filter="url(#bl6)"/>
<ellipse cx="535.6" cy="1539.9" rx="45" ry="50" fill="#f4bcb4" filter="url(#bl12)"/>
<ellipse cx="595.6" cy="1584.9" rx="60" ry="18" fill="#f4c0b8" filter="url(#bl12)"/>
<ellipse cx="643.6" cy="1487.9" rx="32" ry="22" fill="#d63434" filter="url(#bl6)"/>
<ellipse cx="605.6" cy="1473.9" rx="40" ry="44" fill="#cc1c26" filter="url(#bl12)"/>
<path d="M580.6,1444.9 C595.6,1429.9 625.6,1434.9 630.6,1459.9 C635.6,1484.9 615.6,1509.9 600.6,1507.9 C580.6,1499.9 570.6,1464.9 580.6,1444.9 Z" fill="#bc0818" filter="url(#bl6)"/>
<rect x="570.6" y="1517.9" width="6" height="52" fill="#fff8f8" transform="rotate(8 573.6 1543.9)" filter="url(#bl1)"/>
<ellipse cx="590.6" cy="1451.9" rx="2.2" ry="1.2" fill="#fff" opacity="0.85"/>
<ellipse cx="603.6" cy="1469.9" rx="2.2" ry="1.2" fill="#fff" opacity="0.85"/>
<ellipse cx="563.6" cy="1499.9" rx="2.2" ry="1.2" fill="#fff" opacity="0.85"/>
<ellipse cx="550.6" cy="1491.9" rx="2.2" ry="1.2" fill="#fff" opacity="0.85"/>
<ellipse cx="610.6" cy="1494.9" rx="2.2" ry="1.2" fill="#fff" opacity="0.85"/>
<ellipse cx="535.6" cy="1514.9" rx="2.2" ry="1.2" fill="#fff" opacity="0.85"/>
<ellipse cx="533.6" cy="1529.9" rx="2.2" ry="1.2" fill="#fff" opacity="0.85"/>
<circle cx="534.6" cy="1519.7" r="1.6" fill="#d83030" opacity="0.8"/>
<circle cx="602.3" cy="1533.1" r="1.3" fill="#d83030" opacity="0.8"/>
<circle cx="493" cy="1568.1" r="1.5" fill="#d83030" opacity="0.8"/>
<circle cx="534" cy="1594.2" r="1.8" fill="#d83030" opacity="0.8"/>
<circle cx="645.3" cy="1508.5" r="2" fill="#d83030" opacity="0.8"/>
<circle cx="518.5" cy="1534.7" r="2.2" fill="#d83030" opacity="0.8"/>
<circle cx="587.4" cy="1552.2" r="2" fill="#d83030" opacity="0.8"/>
<circle cx="502.4" cy="1555" r="1.9" fill="#d83030" opacity="0.8"/>
<circle cx="546.3" cy="1435" r="2.2" fill="#d83030" opacity="0.8"/>
<circle cx="578.1" cy="1548.5" r="2.3" fill="#d83030" opacity="0.8"/>
<circle cx="622.7" cy="1581.9" r="1.7" fill="#d83030" opacity="0.8"/>
<circle cx="638.8" cy="1503.3" r="2.3" fill="#d83030" opacity="0.8"/>
<circle cx="653.2" cy="1446" r="1.4" fill="#d83030" opacity="0.8"/>
<circle cx="530.7" cy="1589.2" r="1.7" fill="#d83030" opacity="0.8"/>
<circle cx="606.5" cy="1479.6" r="1.8" fill="#d83030" opacity="0.8"/>
<circle cx="562" cy="1487.8" r="1.9" fill="#d83030" opacity="0.8"/>
<circle cx="598.7" cy="1579.1" r="2" fill="#d83030" opacity="0.8"/>
<circle cx="662.5" cy="1571.2" r="2.4" fill="#d83030" opacity="0.8"/>
<circle cx="614.8" cy="1456.8" r="2.2" fill="#d83030" opacity="0.8"/>
<circle cx="669.1" cy="1579.2" r="1.9" fill="#d83030" opacity="0.8"/>
<circle cx="622.7" cy="1464.7" r="2.2" fill="#d83030" opacity="0.8"/>
<circle cx="596.7" cy="1476.9" r="1.3" fill="#d83030" opacity="0.8"/>
<circle cx="648.6" cy="1593.2" r="1.3" fill="#d83030" opacity="0.8"/>
<circle cx="638.7" cy="1497.6" r="1.4" fill="#d83030" opacity="0.8"/>
<circle cx="545" cy="1556.8" r="2.2" fill="#d83030" opacity="0.8"/>
</g>
<rect x="475.6" y="1399.9" width="208.4" height="200.7" fill="none" stroke="#000" stroke-width="2.2"/>
<line x1="552.8" y1="1408.3" x2="525.4" y2="1436.4" stroke="#000" stroke-width="2.4" />
<line x1="525.4" y1="1436.4" x2="538.6" y2="1431.6" stroke="#000" stroke-width="2.4" />
<line x1="525.4" y1="1436.4" x2="529.8" y2="1423.1" stroke="#000" stroke-width="2.4" />
<line x1="517" y1="1489" x2="491" y2="1512.9" stroke="#000" stroke-width="2.4" />
<line x1="491" y1="1512.9" x2="504.4" y2="1508.9" stroke="#000" stroke-width="2.4" />
<line x1="491" y1="1512.9" x2="496.2" y2="1499.9" stroke="#000" stroke-width="2.4" />
<line x1="531" y1="1531" x2="503" y2="1558.5" stroke="#000" stroke-width="2.4" />
<line x1="503" y1="1558.5" x2="516.3" y2="1554" stroke="#000" stroke-width="2.4" />
<line x1="503" y1="1558.5" x2="507.7" y2="1545.3" stroke="#000" stroke-width="2.4" />
<line x1="650.3" y1="1515.7" x2="622.2" y2="1542.3" stroke="#000" stroke-width="2.4" />
<line x1="622.2" y1="1542.3" x2="635.5" y2="1538.1" stroke="#000" stroke-width="2.4" />
<line x1="622.2" y1="1542.3" x2="627.2" y2="1529.2" stroke="#000" stroke-width="2.4" />
<text x="759" y="1158.9" font-size="38" text-anchor="start" fill="#000" >F</text>
<text x="865" y="1172.5" font-size="23.6" text-anchor="middle" fill="#000" >A375</text>
<text x="1069.6" y="1172.5" font-size="23.6" text-anchor="middle" fill="#000" >A375-v</text>
<text x="1417.5" y="1138.6" font-size="23.6" text-anchor="middle" fill="#000" >A375RIV1</text>
<text x="1319.6" y="1172.5" font-size="23.6" text-anchor="middle" fill="#000" >tumor</text>
<text x="1558.5" y="1172.5" font-size="23.6" text-anchor="middle" fill="#000" >lung</text>
<text x="0" y="0" font-size="23.6" text-anchor="middle" transform="translate(746,1266) rotate(-90)">PS100</text>
<text x="0" y="0" font-size="23.6" text-anchor="middle" transform="translate(746,1481) rotate(-90)">Ki67</text>
<clipPath id="cf1"><rect x="771" y="1190.4" width="198.7" height="198.5"/></clipPath>
<g clip-path="url(#cf1)">
<rect x="771" y="1190.4" width="198.7" height="198.5" fill="#b9a0a2" />
<filter id="nz1" x="771" y="1190.4" width="198.7" height="198.5" filterUnits="userSpaceOnUse" color-interpolation-filters="sRGB"><feTurbulence type="fractalNoise" baseFrequency="0.05" numOctaves="2" seed="31" result="n"/><feColorMatrix in="n" type="matrix" values="0 0 0 0 0 0 0 0 0 0 0 0 0 0 0 1 0 0 0 0" result="a"/><feComponentTransfer in="a" result="m"><feFuncA type="linear" slope="8" intercept="-4.160"/></feComponentTransfer><feFlood flood-color="#9a7a7c" flood-opacity="0.85"/><feComposite in2="m" operator="in"/></filter>
<rect x="771" y="1190.4" width="198.7" height="198.5" fill="#000" filter="url(#nz1)"/>
<filter id="nz2" x="771" y="1190.4" width="198.7" height="198.5" filterUnits="userSpaceOnUse" color-interpolation-filters="sRGB"><feTurbulence type="fractalNoise" baseFrequency="0.04" numOctaves="2" seed="41" result="n"/><feColorMatrix in="n" type="matrix" values="0 0 0 0 0 0 0 0 0 0 0 0 0 0 0 0 1 0 0 0" result="a"/><feComponentTransfer in="a" result="m"><feFuncA type="linear" slope="8" intercept="-4.800"/></feComponentTransfer><feFlood flood-color="#c8b8c0" flood-opacity="0.9"/><feComposite in2="m" operator="in"/></filter>
<rect x="771" y="1190.4" width="198.7" height="198.5" fill="#000" filter="url(#nz2)"/>
<filter id="bb1" x="-5%" y="-5%" width="110%" height="110%"><feGaussianBlur stdDeviation="0.9"/></filter>
<path d="M886.5,1220.5a6.1,6.0 84 1 0 1.3,12.2a6.1,6.0 84 1 0 -1.3,-12.2zM906.8,1226.9a4.6,3.7 125 1 0 -5.3,7.6a4.6,3.7 125 1 0 5.3,-7.6zM806.7,1385.7a4.3,3.3 16 1 0 8.3,2.4a4.3,3.3 16 1 0 -8.3,-2.4zM928.3,1257.4a5.1,4.1 115 1 0 -4.3,9.3a5.1,4.1 115 1 0 4.3,-9.3zM845.7,1227.7a5.1,4.0 20 1 0 9.5,3.5a5.1,4.0 20 1 0 -9.5,-3.5zM935.4,1321.6a5.5,5.3 71 1 0 3.6,10.5a5.5,5.3 71 1 0 -3.6,-10.5zM840.4,1273.6a5.0,4.5 1 1 0 10.0,0.2a5.0,4.5 1 1 0 -10.0,-0.2zM865.9,1293.0a4.9,3.5 127 1 0 -5.9,7.8a4.9,3.5 127 1 0 5.9,-7.8zM765.2,1300.5a4.5,3.2 33 1 0 7.6,4.8a4.5,3.2 33 1 0 -7.6,-4.8zM778.3,1212.5a5.6,5.1 65 1 0 4.7,10.1a5.6,5.1 65 1 0 -4.7,-10.1zM898.9,1280.2a5.2,5.0 56 1 0 5.8,8.6a5.2,5.0 56 1 0 -5.8,-8.6zM941.5,1327.7a5.6,3.9 15 1 0 10.7,2.9a5.6,3.9 15 1 0 -10.7,-2.9zM778.9,1254.8a6.1,5.9 151 1 0 -10.7,5.9a6.1,5.9 151 1 0 10.7,-5.9zM796.1,1328.6a5.7,5.4 143 1 0 -9.1,7.0a5.7,5.4 143 1 0 9.1,-7.0zM801.5,1221.4a5.8,5.3 161 1 0 -10.9,3.8a5.8,5.3 161 1 0 10.9,-3.8zM863.5,1368.5a4.5,4.4 159 1 0 -8.4,3.2a4.5,4.4 159 1 0 8.4,-3.2zM834.4,1195.6a5.3,4.8 63 1 0 4.8,9.4a5.3,4.8 63 1 0 -4.8,-9.4zM784.6,1242.8a5.8,4.3 169 1 0 -11.5,2.3a5.8,4.3 169 1 0 11.5,-2.3zM822.9,1227.3a4.4,4.4 162 1 0 -8.4,2.7a4.4,4.4 162 1 0 8.4,-2.7zM827.5,1205.9a5.5,5.3 2 1 0 11.0,0.4a5.5,5.3 2 1 0 -11.0,-0.4zM902.0,1360.4a5.1,4.5 145 1 0 -8.4,5.9a5.1,4.5 145 1 0 8.4,-5.9zM816.9,1237.3a5.5,4.8 96 1 0 -1.2,11.0a5.5,4.8 96 1 0 1.2,-11.0zM840.6,1378.3a4.8,4.3 161 1 0 -9.0,3.1a4.8,4.3 161 1 0 9.0,-3.1zM845.7,1195.5a4.6,3.3 27 1 0 8.3,4.2a4.6,3.3 27 1 0 -8.3,-4.2zM794.3,1252.8a4.9,4.1 120 1 0 -4.9,8.6a4.9,4.1 120 1 0 4.9,-8.6zM907.6,1323.4a4.9,4.4 99 1 0 -1.5,9.7a4.9,4.4 99 1 0 1.5,-9.7zM796.6,1295.5a4.8,4.4 132 1 0 -6.5,7.2a4.8,4.4 132 1 0 6.5,-7.2zM811.7,1275.6a5.1,4.0 7 1 0 10.1,1.3a5.1,4.0 7 1 0 -10.1,-1.3zM780.1,1386.5a5.7,4.7 120 1 0 -5.7,9.8a5.7,4.7 120 1 0 5.7,-9.8zM821.9,1327.0a6.1,5.7 84 1 0 1.3,12.1a6.1,5.7 84 1 0 -1.3,-12.1zM969.7,1372.5a4.3,3.6 81 1 0 1.3,8.5a4.3,3.6 81 1 0 -1.3,-8.5zM827.7,1311.8a4.5,4.1 154 1 0 -8.1,3.9a4.5,4.1 154 1 0 8.1,-3.9zM782.4,1325.4a4.7,4.2 124 1 0 -5.3,7.8a4.7,4.2 124 1 0 5.3,-7.8zM964.5,1349.0a4.9,4.5 26 1 0 8.7,4.3a4.9,4.5 26 1 0 -8.7,-4.3zM910.8,1269.6a4.7,3.6 39 1 0 7.4,6.0a4.7,3.6 39 1 0 -7.4,-6.0zM927.5,1204.0a4.7,3.5 28 1 0 8.2,4.4a4.7,3.5 28 1 0 -8.2,-4.4zM917.0,1302.2a5.5,5.4 81 1 0 1.8,10.9a5.5,5.4 81 1 0 -1.8,-10.9zM779.9,1224.2a5.2,4.8 165 1 0 -10.1,2.6a5.2,4.8 165 1 0 10.1,-2.6zM870.0,1228.6a5.4,5.3 60 1 0 5.4,9.3a5.4,5.3 60 1 0 -5.4,-9.3zM954.5,1370.9a5.4,4.5 23 1 0 9.8,4.2a5.4,4.5 23 1 0 -9.8,-4.2zM795.3,1194.7a5.4,5.0 179 1 0 -10.8,0.2a5.4,5.0 179 1 0 10.8,-0.2zM886.6,1390.7a5.0,3.7 11 1 0 9.8,1.9a5.0,3.7 11 1 0 -9.8,-1.9zM822.0,1291.8a6.2,4.9 42 1 0 9.1,8.3a6.2,4.9 42 1 0 -9.1,-8.3zM921.3,1264.2a5.3,4.0 154 1 0 -9.5,4.7a5.3,4.0 154 1 0 9.5,-4.7zM951.0,1341.7a6.1,4.9 6 1 0 12.1,1.2a6.1,4.9 6 1 0 -12.1,-1.2zM825.5,1369.4a5.1,3.9 27 1 0 9.1,4.7a5.1,3.9 27 1 0 -9.1,-4.7zM805.3,1272.9a6.1,5.8 136 1 0 -8.8,8.3a6.1,5.8 136 1 0 8.8,-8.3zM923.8,1220.1a5.8,4.4 95 1 0 -0.9,11.5a5.8,4.4 95 1 0 0.9,-11.5zM776.1,1366.8a4.5,3.9 119 1 0 -4.3,7.8a4.5,3.9 119 1 0 4.3,-7.8zM905.0,1326.3a4.9,4.6 169 1 0 -9.7,1.9a4.9,4.6 169 1 0 9.7,-1.9zM897.6,1383.6a5.9,4.2 121 1 0 -6.1,10.1a5.9,4.2 121 1 0 6.1,-10.1zM781.0,1322.3a4.9,4.7 8 1 0 9.8,1.4a4.9,4.7 8 1 0 -9.8,-1.4zM958.7,1193.7a4.3,3.0 23 1 0 8.0,3.3a4.3,3.0 23 1 0 -8.0,-3.3zM974.2,1353.9a6.0,4.6 124 1 0 -6.7,10.0a6.0,4.6 124 1 0 6.7,-10.0zM934.5,1332.9a4.7,4.7 131 1 0 -6.2,7.1a4.7,4.7 131 1 0 6.2,-7.1zM908.7,1240.2a5.0,4.6 93 1 0 -0.5,10.0a5.0,4.6 93 1 0 0.5,-10.0zM862.9,1375.6a5.0,4.8 8 1 0 10.0,1.5a5.0,4.8 8 1 0 -10.0,-1.5zM874.0,1330.3a4.2,3.8 51 1 0 5.3,6.6a4.2,3.8 51 1 0 -5.3,-6.6zM893.1,1312.0a4.5,4.4 44 1 0 6.5,6.2a4.5,4.4 44 1 0 -6.5,-6.2zM798.4,1274.9a4.3,3.2 137 1 0 -6.3,5.9a4.3,3.2 137 1 0 6.3,-5.9zM792.1,1294.9a6.0,5.0 147 1 0 -10.0,6.6a6.0,5.0 147 1 0 10.0,-6.6zM942.6,1218.6a4.4,4.1 156 1 0 -7.9,3.5a4.4,4.1 156 1 0 7.9,-3.5zM946.9,1330.1a5.2,5.2 133 1 0 -7.1,7.6a5.2,5.2 133 1 0 7.1,-7.6zM925.8,1370.5a4.3,4.0 105 1 0 -2.3,8.3a4.3,4.0 105 1 0 2.3,-8.3zM770.7,1233.6a5.6,4.8 101 1 0 -2.2,11.0a5.6,4.8 101 1 0 2.2,-11.0zM827.4,1297.6a6.0,5.9 99 1 0 -2.0,11.8a6.0,5.9 99 1 0 2.0,-11.8zM922.0,1202.1a4.5,3.9 149 1 0 -7.7,4.6a4.5,3.9 149 1 0 7.7,-4.6zM787.0,1214.6a5.2,4.1 25 1 0 9.4,4.4a5.2,4.1 25 1 0 -9.4,-4.4zM804.5,1270.8a5.8,4.3 145 1 0 -9.5,6.6a5.8,4.3 145 1 0 9.5,-6.6zM779.5,1233.5a5.5,3.9 58 1 0 5.9,9.4a5.5,3.9 58 1 0 -5.9,-9.4zM802.7,1229.4a6.0,4.5 130 1 0 -7.6,9.2a6.0,4.5 130 1 0 7.6,-9.2zM959.6,1233.3a5.9,4.7 139 1 0 -9.0,7.8a5.9,4.7 139 1 0 9.0,-7.8zM883.9,1253.7a6.0,5.4 57 1 0 6.4,10.1a6.0,5.4 57 1 0 -6.4,-10.1zM890.3,1246.8a4.8,4.7 176 1 0 -9.5,0.7a4.8,4.7 176 1 0 9.5,-0.7zM794.3,1373.8a5.6,4.0 19 1 0 10.6,3.8a5.6,4.0 19 1 0 -10.6,-3.8zM856.1,1363.8a5.9,4.6 80 1 0 2.0,11.7a5.9,4.6 80 1 0 -2.0,-11.7zM960.6,1226.0a4.4,3.6 123 1 0 -4.7,7.4a4.4,3.6 123 1 0 4.7,-7.4zM943.5,1365.8a4.2,3.2 23 1 0 7.8,3.3a4.2,3.2 23 1 0 -7.8,-3.3zM892.3,1264.5a6.0,5.3 111 1 0 -4.3,11.3a6.0,5.3 111 1 0 4.3,-11.3zM914.1,1225.5a6.0,5.7 148 1 0 -10.2,6.3a6.0,5.7 148 1 0 10.2,-6.3zM931.5,1218.7a4.3,3.5 129 1 0 -5.4,6.7a4.3,3.5 129 1 0 5.4,-6.7zM808.2,1359.9a5.9,5.4 87 1 0 0.6,11.8a5.9,5.4 87 1 0 -0.6,-11.8zM801.4,1350.4a4.5,3.9 137 1 0 -6.6,6.3a4.5,3.9 137 1 0 6.6,-6.3zM896.9,1229.3a6.0,4.7 76 1 0 3.0,11.5a6.0,4.7 76 1 0 -3.0,-11.5zM857.5,1327.0a4.3,3.8 88 1 0 0.3,8.5a4.3,3.8 88 1 0 -0.3,-8.5zM927.3,1261.0a5.3,5.3 10 1 0 10.5,1.9a5.3,5.3 10 1 0 -10.5,-1.9zM927.0,1280.1a4.8,3.8 39 1 0 7.4,6.1a4.8,3.8 39 1 0 -7.4,-6.1zM937.5,1223.5a6.1,5.2 51 1 0 7.7,9.6a6.1,5.2 51 1 0 -7.7,-9.6zM932.3,1301.5a6.0,4.4 125 1 0 -6.8,9.8a6.0,4.4 125 1 0 6.8,-9.8zM769.6,1220.4a5.0,4.0 51 1 0 6.3,7.8a5.0,4.0 51 1 0 -6.3,-7.8zM888.6,1337.4a5.0,4.3 141 1 0 -7.8,6.4a5.0,4.3 141 1 0 7.8,-6.4zM817.4,1390.2a4.2,3.4 149 1 0 -7.2,4.4a4.2,3.4 149 1 0 7.2,-4.4zM819.8,1253.0a4.5,4.5 158 1 0 -8.4,3.4a4.5,4.5 158 1 0 8.4,-3.4zM780.3,1294.8a4.5,3.2 40 1 0 6.9,5.8a4.5,3.2 40 1 0 -6.9,-5.8zM907.6,1294.3a4.8,4.2 15 1 0 9.2,2.4a4.8,4.2 15 1 0 -9.2,-2.4zM841.4,1202.1a5.8,4.8 129 1 0 -7.3,9.1a5.8,4.8 129 1 0 7.3,-9.1zM837.1,1266.9a5.4,4.2 98 1 0 -1.6,10.6a5.4,4.2 98 1 0 1.6,-10.6zM926.5,1197.1a4.6,3.2 88 1 0 0.3,9.2a4.6,3.2 88 1 0 -0.3,-9.2zM786.9,1290.4a4.5,3.9 51 1 0 5.7,7.0a4.5,3.9 51 1 0 -5.7,-7.0zM927.6,1352.7a6.1,5.1 160 1 0 -11.5,4.2a6.1,5.1 160 1 0 11.5,-4.2zM939.7,1252.8a6.2,6.1 28 1 0 10.8,5.8a6.2,6.1 28 1 0 -10.8,-5.8zM918.9,1324.2a5.4,5.0 50 1 0 7.0,8.3a5.4,5.0 50 1 0 -7.0,-8.3zM942.5,1332.1a4.6,4.5 132 1 0 -6.1,6.8a4.6,4.5 132 1 0 6.1,-6.8zM781.4,1189.6a4.5,4.1 130 1 0 -5.8,6.9a4.5,4.1 130 1 0 5.8,-6.9zM955.0,1367.6a4.6,3.5 15 1 0 8.9,2.4a4.6,3.5 15 1 0 -8.9,-2.4zM849.3,1269.2a5.0,4.7 110 1 0 -3.4,9.3a5.0,4.7 110 1 0 3.4,-9.3zM931.5,1359.0a5.7,4.9 74 1 0 3.2,11.0a5.7,4.9 74 1 0 -3.2,-11.0zM880.7,1276.7a5.5,5.3 122 1 0 -5.8,9.4a5.5,5.3 122 1 0 5.8,-9.4zM814.7,1301.3a5.1,3.8 19 1 0 9.7,3.3a5.1,3.8 19 1 0 -9.7,-3.3zM865.6,1379.2a5.6,4.0 165 1 0 -10.8,2.9a5.6,4.0 165 1 0 10.8,-2.9zM914.7,1307.4a4.2,3.3 60 1 0 4.2,7.3a4.2,3.3 60 1 0 -4.2,-7.3zM869.1,1206.8a5.5,4.8 115 1 0 -4.7,9.9a5.5,4.8 115 1 0 4.7,-9.9zM873.2,1299.7a4.4,4.2 156 1 0 -8.1,3.6a4.4,4.2 156 1 0 8.1,-3.6zM938.3,1344.1a4.7,3.7 9 1 0 9.2,1.5a4.7,3.7 9 1 0 -9.2,-1.5zM934.3,1360.4a6.1,5.3 144 1 0 -9.8,7.2a6.1,5.3 144 1 0 9.8,-7.2zM946.1,1210.9a4.3,4.2 175 1 0 -8.6,0.8a4.3,4.2 175 1 0 8.6,-0.8zM911.9,1310.4a5.0,4.8 51 1 0 6.2,7.8a5.0,4.8 51 1 0 -6.2,-7.8zM780.2,1348.5a4.3,4.0 117 1 0 -3.9,7.7a4.3,4.0 117 1 0 3.9,-7.7zM793.4,1273.5a4.7,4.5 140 1 0 -7.3,6.1a4.7,4.5 140 1 0 7.3,-6.1zM836.6,1213.6a4.9,4.1 109 1 0 -3.2,9.2a4.9,4.1 109 1 0 3.2,-9.2zM961.9,1248.3a4.5,4.0 77 1 0 2.1,8.7a4.5,4.0 77 1 0 -2.1,-8.7zM915.8,1320.1a5.3,5.0 35 1 0 8.6,6.1a5.3,5.0 35 1 0 -8.6,-6.1zM929.5,1219.0a5.2,4.5 98 1 0 -1.4,10.2a5.2,4.5 98 1 0 1.4,-10.2zM789.0,1276.6a4.8,3.7 76 1 0 2.3,9.2a4.8,3.7 76 1 0 -2.3,-9.2zM858.0,1228.1a5.6,5.5 171 1 0 -11.0,1.8a5.6,5.5 171 1 0 11.0,-1.8zM807.1,1230.2a5.0,4.4 125 1 0 -5.7,8.2a5.0,4.4 125 1 0 5.7,-8.2zM893.9,1284.6a6.2,6.1 145 1 0 -10.1,7.2a6.2,6.1 145 1 0 10.1,-7.2zM821.6,1341.4a4.3,4.2 126 1 0 -5.0,6.9a4.3,4.2 126 1 0 5.0,-6.9zM963.7,1272.6a5.6,4.4 167 1 0 -10.9,2.6a5.6,4.4 167 1 0 10.9,-2.6zM804.4,1183.5a4.8,4.3 97 1 0 -1.1,9.5a4.8,4.3 97 1 0 1.1,-9.5zM928.2,1326.4a5.8,5.7 12 1 0 11.3,2.4a5.8,5.7 12 1 0 -11.3,-2.4zM791.7,1242.5a4.5,3.9 130 1 0 -5.7,6.9a4.5,3.9 130 1 0 5.7,-6.9zM801.4,1285.4a4.7,3.3 48 1 0 6.3,6.9a4.7,3.3 48 1 0 -6.3,-6.9zM821.7,1322.3a6.1,4.4 88 1 0 0.4,12.3a6.1,4.4 88 1 0 -0.4,-12.3zM860.1,1312.6a4.5,4.4 50 1 0 5.8,6.8a4.5,4.4 50 1 0 -5.8,-6.8zM888.5,1265.7a5.3,5.1 111 1 0 -3.8,9.9a5.3,5.1 111 1 0 3.8,-9.9zM839.9,1379.2a4.6,4.5 121 1 0 -4.7,7.8a4.6,4.5 121 1 0 4.7,-7.8zM822.5,1386.6a5.9,5.1 146 1 0 -9.8,6.7a5.9,5.1 146 1 0 9.8,-6.7zM784.4,1238.5a5.2,5.1 67 1 0 4.1,9.5a5.2,5.1 67 1 0 -4.1,-9.5zM966.9,1303.9a5.6,5.3 24 1 0 10.3,4.6a5.6,5.3 24 1 0 -10.3,-4.6zM960.5,1306.3a4.4,3.3 144 1 0 -7.2,5.2a4.4,3.3 144 1 0 7.2,-5.2zM881.6,1372.2a5.9,5.1 75 1 0 3.0,11.5a5.9,5.1 75 1 0 -3.0,-11.5zM920.0,1386.6a4.8,4.1 21 1 0 9.0,3.5a4.8,4.1 21 1 0 -9.0,-3.5zM780.6,1197.0a4.9,4.4 155 1 0 -9.0,4.1a4.9,4.4 155 1 0 9.0,-4.1zM919.5,1381.5a4.7,4.5 58 1 0 5.0,8.0a4.7,4.5 58 1 0 -5.0,-8.0zM838.4,1297.5a6.2,5.2 11 1 0 12.2,2.3a6.2,5.2 11 1 0 -12.2,-2.3zM839.2,1299.2a5.6,4.2 51 1 0 7.0,8.7a5.6,4.2 51 1 0 -7.0,-8.7zM801.5,1287.3a5.0,4.0 92 1 0 -0.3,10.0a5.0,4.0 92 1 0 0.3,-10.0zM928.2,1312.3a5.7,4.7 167 1 0 -11.0,2.6a5.7,4.7 167 1 0 11.0,-2.6zM788.8,1197.6a4.4,3.7 58 1 0 4.6,7.5a4.4,3.7 58 1 0 -4.6,-7.5zM810.4,1182.6a5.8,4.1 114 1 0 -4.6,10.6a5.8,4.1 114 1 0 4.6,-10.6zM965.6,1233.2a5.4,5.2 79 1 0 2.1,10.6a5.4,5.2 79 1 0 -2.1,-10.6zM956.9,1188.2a5.3,5.0 89 1 0 0.2,10.7a5.3,5.0 89 1 0 -0.2,-10.7zM941.7,1384.2a5.9,5.0 124 1 0 -6.6,9.7a5.9,5.0 124 1 0 6.6,-9.7zM948.5,1311.1a4.3,3.3 110 1 0 -2.9,8.1a4.3,3.3 110 1 0 2.9,-8.1zM797.0,1219.0a6.1,5.2 178 1 0 -12.3,0.4a6.1,5.2 178 1 0 12.3,-0.4zM935.2,1347.0a5.0,3.9 12 1 0 9.9,2.1a5.0,3.9 12 1 0 -9.9,-2.1zM812.0,1283.7a5.4,4.0 82 1 0 1.5,10.7a5.4,4.0 82 1 0 -1.5,-10.7zM845.3,1363.5a4.8,4.6 116 1 0 -4.2,8.6a4.8,4.6 116 1 0 4.2,-8.6zM957.2,1240.6a4.7,4.0 47 1 0 6.5,6.9a4.7,4.0 47 1 0 -6.5,-6.9zM886.3,1382.3a5.3,4.0 10 1 0 10.4,1.7a5.3,4.0 10 1 0 -10.4,-1.7zM900.6,1276.1a4.2,3.4 144 1 0 -6.8,5.0a4.2,3.4 144 1 0 6.8,-5.0zM890.4,1255.0a6.1,6.1 5 1 0 12.2,1.0a6.1,6.1 5 1 0 -12.2,-1.0zM818.0,1309.6a4.9,3.7 145 1 0 -8.0,5.6a4.9,3.7 145 1 0 8.0,-5.6zM956.1,1282.5a6.1,5.3 113 1 0 -4.8,11.3a6.1,5.3 113 1 0 4.8,-11.3zM873.0,1344.7a6.0,5.1 86 1 0 0.8,12.0a6.0,5.1 86 1 0 -0.8,-12.0zM925.9,1358.0a5.5,4.1 23 1 0 10.1,4.3a5.5,4.1 23 1 0 -10.1,-4.3zM837.8,1193.9a4.9,4.0 22 1 0 9.1,3.7a4.9,4.0 22 1 0 -9.1,-3.7zM800.6,1313.5a6.0,4.6 130 1 0 -7.7,9.2a6.0,4.6 130 1 0 7.7,-9.2zM852.1,1182.5a6.1,4.4 87 1 0 0.7,12.1a6.1,4.4 87 1 0 -0.7,-12.1zM770.9,1240.0a4.9,4.0 94 1 0 -0.7,9.8a4.9,4.0 94 1 0 0.7,-9.8zM966.2,1307.9a5.1,4.8 82 1 0 1.4,10.1a5.1,4.8 82 1 0 -1.4,-10.1zM906.7,1275.6a5.7,4.1 31 1 0 9.8,5.9a5.7,4.1 31 1 0 -9.8,-5.9zM912.9,1334.7a4.9,3.5 110 1 0 -3.4,9.2a4.9,3.5 110 1 0 3.4,-9.2zM793.6,1263.2a5.8,5.5 148 1 0 -9.9,6.2a5.8,5.5 148 1 0 9.9,-6.2zM791.6,1334.5a4.3,4.2 134 1 0 -5.9,6.2a4.3,4.2 134 1 0 5.9,-6.2zM932.5,1362.4a5.8,5.4 168 1 0 -11.4,2.5a5.8,5.4 168 1 0 11.4,-2.5zM785.0,1199.6a5.6,4.1 145 1 0 -9.1,6.5a5.6,4.1 145 1 0 9.1,-6.5zM855.6,1338.6a4.4,3.8 129 1 0 -5.6,6.8a4.4,3.8 129 1 0 5.6,-6.8zM923.3,1220.8a4.7,4.5 142 1 0 -7.4,5.8a4.7,4.5 142 1 0 7.4,-5.8zM874.7,1185.2a5.6,5.2 117 1 0 -5.1,10.1a5.6,5.2 117 1 0 5.1,-10.1zM964.6,1312.6a5.8,4.5 52 1 0 7.2,9.2a5.8,4.5 52 1 0 -7.2,-9.2zM972.0,1389.0a4.4,3.9 123 1 0 -4.9,7.4a4.4,3.9 123 1 0 4.9,-7.4zM888.7,1264.5a4.9,4.8 25 1 0 8.9,4.2a4.9,4.8 25 1 0 -8.9,-4.2zM786.3,1336.6a4.2,3.4 101 1 0 -1.6,8.3a4.2,3.4 101 1 0 1.6,-8.3zM911.9,1236.5a5.5,4.9 148 1 0 -9.2,5.9a5.5,4.9 148 1 0 9.2,-5.9zM862.9,1374.0a5.1,5.0 72 1 0 3.2,9.7a5.1,5.0 72 1 0 -3.2,-9.7zM912.0,1245.6a5.5,5.0 11 1 0 10.7,2.1a5.5,5.0 11 1 0 -10.7,-2.1zM922.8,1199.7a5.8,4.3 43 1 0 8.4,7.9a5.8,4.3 43 1 0 -8.4,-7.9zM836.7,1237.8a5.4,4.4 148 1 0 -9.2,5.7a5.4,4.4 148 1 0 9.2,-5.7zM846.8,1342.4a4.8,4.2 106 1 0 -2.6,9.3a4.8,4.2 106 1 0 2.6,-9.3zM842.3,1344.0a5.5,4.7 119 1 0 -5.3,9.5a5.5,4.7 119 1 0 5.3,-9.5zM813.6,1246.8a6.0,5.4 84 1 0 1.3,11.8a6.0,5.4 84 1 0 -1.3,-11.8zM971.4,1375.9a5.6,4.1 70 1 0 3.8,10.6a5.6,4.1 70 1 0 -3.8,-10.6zM852.9,1300.2a4.8,4.0 159 1 0 -9.0,3.4a4.8,4.0 159 1 0 9.0,-3.4zM787.8,1199.7a5.3,3.7 65 1 0 4.4,9.6a5.3,3.7 65 1 0 -4.4,-9.6zM822.6,1343.8a4.6,3.9 156 1 0 -8.4,3.7a4.6,3.9 156 1 0 8.4,-3.7zM909.9,1264.3a4.6,4.5 138 1 0 -6.8,6.1a4.6,4.5 138 1 0 6.8,-6.1zM913.4,1236.9a4.7,4.5 150 1 0 -8.1,4.7a4.7,4.5 150 1 0 8.1,-4.7zM944.4,1247.4a5.6,5.3 161 1 0 -10.7,3.6a5.6,5.3 161 1 0 10.7,-3.6z" fill="#7890ae" filter="url(#bb1)"/>
<filter id="bb2" x="-5%" y="-5%" width="110%" height="110%"><feGaussianBlur stdDeviation="1.3"/></filter>
<path d="M911.8,1195.3a5.3,5.0 61 1 0 5.2,9.3a5.3,5.0 61 1 0 -5.2,-9.3zM777.3,1277.3a5.7,5.2 91 1 0 -0.1,11.5a5.7,5.2 91 1 0 0.1,-11.5zM872.3,1289.5a7.3,6.2 21 1 0 13.6,5.3a7.3,6.2 21 1 0 -13.6,-5.3zM915.3,1214.3a4.8,4.0 154 1 0 -8.6,4.2a4.8,4.0 154 1 0 8.6,-4.2zM874.4,1342.5a6.7,5.7 132 1 0 -8.9,10.0a6.7,5.7 132 1 0 8.9,-10.0zM844.1,1236.0a6.9,6.4 122 1 0 -7.2,11.7a6.9,6.4 122 1 0 7.2,-11.7zM924.5,1304.3a6.6,5.4 7 1 0 13.1,1.6a6.6,5.4 7 1 0 -13.1,-1.6zM952.1,1367.7a5.8,4.3 168 1 0 -11.3,2.4a5.8,4.3 168 1 0 11.3,-2.4zM788.2,1271.1a7.1,6.4 139 1 0 -10.6,9.3a7.1,6.4 139 1 0 10.6,-9.3zM881.7,1326.6a4.8,3.7 21 1 0 8.9,3.4a4.8,3.7 21 1 0 -8.9,-3.4zM870.0,1198.1a6.3,5.8 149 1 0 -10.8,6.5a6.3,5.8 149 1 0 10.8,-6.5zM777.6,1189.3a6.1,5.5 60 1 0 6.0,10.5a6.1,5.5 60 1 0 -6.0,-10.5zM965.1,1291.8a6.5,6.4 133 1 0 -8.9,9.6a6.5,6.4 133 1 0 8.9,-9.6zM954.0,1220.7a4.6,4.0 131 1 0 -6.0,6.9a4.6,4.0 131 1 0 6.0,-6.9zM813.1,1308.5a6.3,6.2 157 1 0 -11.6,4.9a6.3,6.2 157 1 0 11.6,-4.9zM823.3,1193.0a6.1,4.9 80 1 0 2.1,12.0a6.1,4.9 80 1 0 -2.1,-12.0zM874.5,1369.1a5.7,4.6 100 1 0 -1.9,11.3a5.7,4.6 100 1 0 1.9,-11.3zM806.5,1291.1a6.9,6.0 166 1 0 -13.4,3.4a6.9,6.0 166 1 0 13.4,-3.4zM839.2,1281.0a4.5,4.1 126 1 0 -5.3,7.3a4.5,4.1 126 1 0 5.3,-7.3zM960.1,1194.1a6.8,6.6 26 1 0 12.3,6.0a6.8,6.6 26 1 0 -12.3,-6.0zM786.9,1187.5a6.7,5.4 85 1 0 1.3,13.3a6.7,5.4 85 1 0 -1.3,-13.3zM804.8,1243.1a4.8,4.7 140 1 0 -7.3,6.2a4.8,4.7 140 1 0 7.3,-6.2zM842.0,1336.9a6.4,5.6 76 1 0 3.2,12.4a6.4,5.6 76 1 0 -3.2,-12.4zM957.4,1341.9a6.1,4.8 23 1 0 11.2,4.8a6.1,4.8 23 1 0 -11.2,-4.8zM825.7,1190.1a5.3,4.0 128 1 0 -6.6,8.3a5.3,4.0 128 1 0 6.6,-8.3zM845.5,1240.4a6.9,6.8 122 1 0 -7.3,11.6a6.9,6.8 122 1 0 7.3,-11.6zM841.8,1279.9a5.3,4.3 34 1 0 8.8,5.9a5.3,4.3 34 1 0 -8.8,-5.9zM966.4,1343.7a6.8,6.7 55 1 0 7.9,11.2a6.8,6.7 55 1 0 -7.9,-11.2zM833.3,1239.0a5.9,5.6 70 1 0 3.9,11.0a5.9,5.6 70 1 0 -3.9,-11.0zM926.8,1382.8a5.0,4.9 173 1 0 -10.0,1.2a5.0,4.9 173 1 0 10.0,-1.2zM849.8,1361.1a7.4,7.2 82 1 0 2.1,14.7a7.4,7.2 82 1 0 -2.1,-14.7zM829.0,1234.7a5.3,4.0 0 1 0 10.6,0.0a5.3,4.0 0 1 0 -10.6,-0.0zM835.5,1205.6a5.7,5.7 123 1 0 -6.3,9.6a5.7,5.7 123 1 0 6.3,-9.6zM965.3,1329.0a5.0,4.2 59 1 0 5.2,8.6a5.0,4.2 59 1 0 -5.2,-8.6zM870.8,1257.5a5.0,4.1 50 1 0 6.5,7.7a5.0,4.1 50 1 0 -6.5,-7.7zM891.7,1300.1a6.5,4.6 135 1 0 -9.2,9.2a6.5,4.6 135 1 0 9.2,-9.2zM944.1,1371.8a6.3,4.7 112 1 0 -4.8,11.6a6.3,4.7 112 1 0 4.8,-11.6zM911.8,1363.2a6.2,4.9 17 1 0 11.8,3.7a6.2,4.9 17 1 0 -11.8,-3.7zM849.4,1223.6a5.2,4.2 2 1 0 10.4,0.4a5.2,4.2 2 1 0 -10.4,-0.4zM836.7,1360.0a6.0,5.5 170 1 0 -11.8,2.1a6.0,5.5 170 1 0 11.8,-2.1zM905.8,1191.8a7.1,6.7 142 1 0 -11.1,8.7a7.1,6.7 142 1 0 11.1,-8.7zM914.8,1337.1a4.7,3.6 85 1 0 0.9,9.3a4.7,3.6 85 1 0 -0.9,-9.3zM867.7,1387.2a5.8,5.4 52 1 0 7.1,9.2a5.8,5.4 52 1 0 -7.1,-9.2zM844.3,1217.9a4.9,4.4 81 1 0 1.6,9.7a4.9,4.4 81 1 0 -1.6,-9.7zM812.0,1240.2a5.5,5.4 174 1 0 -10.9,1.1a5.5,5.4 174 1 0 10.9,-1.1zM852.9,1328.2a5.0,4.7 168 1 0 -9.8,2.1a5.0,4.7 168 1 0 9.8,-2.1zM817.1,1244.6a5.0,3.8 88 1 0 0.3,9.9a5.0,3.8 88 1 0 -0.3,-9.9zM861.5,1239.1a5.3,4.4 141 1 0 -8.3,6.7a5.3,4.4 141 1 0 8.3,-6.7zM895.5,1274.2a7.4,7.3 158 1 0 -13.7,5.6a7.4,7.3 158 1 0 13.7,-5.6zM918.7,1272.8a4.9,4.8 32 1 0 8.3,5.1a4.9,4.8 32 1 0 -8.3,-5.1zM786.7,1310.5a6.7,5.3 133 1 0 -9.2,9.9a6.7,5.3 133 1 0 9.2,-9.9zM874.6,1211.5a6.5,4.6 24 1 0 11.9,5.3a6.5,4.6 24 1 0 -11.9,-5.3zM840.0,1304.6a5.7,5.1 44 1 0 8.3,7.9a5.7,5.1 44 1 0 -8.3,-7.9zM824.1,1279.3a5.7,4.1 41 1 0 8.6,7.6a5.7,4.1 41 1 0 -8.6,-7.6zM871.7,1382.6a6.1,4.7 60 1 0 6.0,10.6a6.1,4.7 60 1 0 -6.0,-10.6zM952.1,1384.2a6.4,5.8 131 1 0 -8.4,9.7a6.4,5.8 131 1 0 8.4,-9.7zM819.8,1234.6a5.9,4.6 6 1 0 11.8,1.3a5.9,4.6 6 1 0 -11.8,-1.3zM959.5,1255.2a5.4,5.3 118 1 0 -5.0,9.5a5.4,5.3 118 1 0 5.0,-9.5zM947.4,1228.9a5.8,4.5 116 1 0 -5.1,10.4a5.8,4.5 116 1 0 5.1,-10.4zM781.9,1380.2a6.9,5.8 26 1 0 12.5,6.0a6.9,5.8 26 1 0 -12.5,-6.0zM921.9,1202.3a5.2,4.0 6 1 0 10.3,1.1a5.2,4.0 6 1 0 -10.3,-1.1zM856.6,1352.3a5.8,4.7 65 1 0 5.0,10.4a5.8,4.7 65 1 0 -5.0,-10.4zM872.8,1279.5a6.8,5.5 77 1 0 2.9,13.3a6.8,5.5 77 1 0 -2.9,-13.3zM878.6,1215.9a4.6,4.3 28 1 0 8.1,4.4a4.6,4.3 28 1 0 -8.1,-4.4zM861.7,1210.6a5.2,3.8 133 1 0 -7.1,7.7a5.2,3.8 133 1 0 7.1,-7.7zM852.5,1341.1a6.5,5.2 34 1 0 10.8,7.3a6.5,5.2 34 1 0 -10.8,-7.3zM912.8,1373.8a6.9,5.6 64 1 0 6.0,12.3a6.9,5.6 64 1 0 -6.0,-12.3zM913.2,1319.5a5.1,4.6 91 1 0 -0.1,10.3a5.1,4.6 91 1 0 0.1,-10.3zM791.9,1259.1a4.9,3.4 11 1 0 9.6,1.9a4.9,3.4 11 1 0 -9.6,-1.9zM876.1,1382.0a6.2,4.6 21 1 0 11.6,4.4a6.2,4.6 21 1 0 -11.6,-4.4zM953.4,1341.3a7.4,6.4 132 1 0 -9.8,10.9a7.4,6.4 132 1 0 9.8,-10.9zM854.6,1183.1a5.9,4.2 145 1 0 -9.7,6.7a5.9,4.2 145 1 0 9.7,-6.7zM799.5,1239.0a6.6,6.4 156 1 0 -12.0,5.3a6.6,6.4 156 1 0 12.0,-5.3zM836.5,1257.2a6.9,6.6 77 1 0 3.0,13.5a6.9,6.6 77 1 0 -3.0,-13.5zM934.2,1386.2a6.0,5.4 98 1 0 -1.7,11.8a6.0,5.4 98 1 0 1.7,-11.8zM847.1,1289.0a5.3,3.9 173 1 0 -10.5,1.4a5.3,3.9 173 1 0 10.5,-1.4zM808.5,1222.0a7.4,6.4 149 1 0 -12.6,7.7a7.4,6.4 149 1 0 12.6,-7.7zM918.7,1351.5a4.8,4.3 138 1 0 -7.2,6.4a4.8,4.3 138 1 0 7.2,-6.4zM924.9,1259.0a7.2,6.8 61 1 0 6.9,12.7a7.2,6.8 61 1 0 -6.9,-12.7zM916.2,1197.4a5.4,4.0 107 1 0 -3.2,10.2a5.4,4.0 107 1 0 3.2,-10.2zM871.6,1307.1a7.0,6.3 4 1 0 14.1,1.1a7.0,6.3 4 1 0 -14.1,-1.1zM963.1,1235.6a6.5,5.7 22 1 0 12.1,4.8a6.5,5.7 22 1 0 -12.1,-4.8zM806.2,1264.1a5.0,3.8 3 1 0 10.0,0.6a5.0,3.8 3 1 0 -10.0,-0.6zM837.3,1197.5a5.9,4.5 65 1 0 4.9,10.7a5.9,4.5 65 1 0 -4.9,-10.7zM880.0,1326.8a4.9,4.7 77 1 0 2.2,9.5a4.9,4.7 77 1 0 -2.2,-9.5zM793.0,1250.1a7.1,5.0 38 1 0 11.1,8.8a7.1,5.0 38 1 0 -11.1,-8.8zM881.1,1227.3a4.8,4.7 120 1 0 -4.7,8.3a4.8,4.7 120 1 0 4.7,-8.3zM946.3,1282.0a6.9,5.7 102 1 0 -2.9,13.6a6.9,5.7 102 1 0 2.9,-13.6zM926.7,1211.2a5.5,4.1 156 1 0 -10.0,4.4a5.5,4.1 156 1 0 10.0,-4.4zM906.3,1249.1a6.8,5.4 136 1 0 -9.8,9.4a6.8,5.4 136 1 0 9.8,-9.4zM919.8,1344.4a4.6,3.8 76 1 0 2.2,8.9a4.6,3.8 76 1 0 -2.2,-8.9zM855.1,1381.2a7.2,5.9 75 1 0 3.7,13.9a7.2,5.9 75 1 0 -3.7,-13.9zM822.5,1313.4a6.6,4.7 61 1 0 6.5,11.6a6.6,4.7 61 1 0 -6.5,-11.6zM764.2,1242.3a5.2,3.8 35 1 0 8.4,5.9a5.2,3.8 35 1 0 -8.4,-5.9zM955.4,1194.3a7.0,6.6 25 1 0 12.7,5.9a7.0,6.6 25 1 0 -12.7,-5.9zM956.0,1383.9a7.3,5.8 143 1 0 -11.6,8.9a7.3,5.8 143 1 0 11.6,-8.9zM861.2,1187.0a4.8,4.7 131 1 0 -6.3,7.3a4.8,4.7 131 1 0 6.3,-7.3zM879.0,1360.7a5.3,4.6 139 1 0 -8.1,6.9a5.3,4.6 139 1 0 8.1,-6.9zM776.7,1227.0a5.9,5.7 93 1 0 -0.6,11.7a5.9,5.7 93 1 0 0.6,-11.7zM955.1,1367.9a7.0,6.7 99 1 0 -2.1,13.9a7.0,6.7 99 1 0 2.1,-13.9zM934.3,1308.1a6.7,5.0 26 1 0 12.1,5.9a6.7,5.0 26 1 0 -12.1,-5.9zM921.4,1241.1a6.7,5.3 177 1 0 -13.4,0.7a6.7,5.3 177 1 0 13.4,-0.7zM814.6,1272.3a4.6,3.9 101 1 0 -1.8,9.1a4.6,3.9 101 1 0 1.8,-9.1zM951.1,1371.5a5.2,4.2 42 1 0 7.8,7.0a5.2,4.2 42 1 0 -7.8,-7.0zM781.6,1307.9a4.6,4.5 114 1 0 -3.8,8.4a4.6,4.5 114 1 0 3.8,-8.4zM910.3,1262.2a6.9,5.6 99 1 0 -2.2,13.6a6.9,5.6 99 1 0 2.2,-13.6zM953.8,1308.5a4.6,4.4 127 1 0 -5.5,7.3a4.6,4.4 127 1 0 5.5,-7.3zM859.9,1303.3a4.7,4.2 10 1 0 9.2,1.7a4.7,4.2 10 1 0 -9.2,-1.7zM813.6,1278.2a6.4,6.0 80 1 0 2.1,12.6a6.4,6.0 80 1 0 -2.1,-12.6zM878.9,1302.4a5.2,4.2 153 1 0 -9.2,4.7a5.2,4.2 153 1 0 9.2,-4.7z" fill="#8a5a56" filter="url(#bb2)" opacity="0.85"/>
<filter id="bb3" x="-5%" y="-5%" width="110%" height="110%"><feGaussianBlur stdDeviation="0.8"/></filter>
<path d="M845.3,1295.5a4.3,3.7 165 1 0 -8.2,2.3a4.3,3.7 165 1 0 8.2,-2.3zM866.3,1246.5a3.4,2.8 107 1 0 -1.9,6.5a3.4,2.8 107 1 0 1.9,-6.5zM954.9,1360.7a3.2,2.6 15 1 0 6.3,1.6a3.2,2.6 15 1 0 -6.3,-1.6zM786.2,1355.1a3.3,3.0 177 1 0 -6.7,0.3a3.3,3.0 177 1 0 6.7,-0.3zM886.5,1360.9a3.3,2.5 134 1 0 -4.6,4.7a3.3,2.5 134 1 0 4.6,-4.7zM850.2,1217.4a4.2,4.1 41 1 0 6.3,5.6a4.2,4.1 41 1 0 -6.3,-5.6zM915.3,1334.8a3.1,2.6 163 1 0 -6.0,1.9a3.1,2.6 163 1 0 6.0,-1.9zM780.3,1240.4a3.5,2.7 147 1 0 -5.8,3.8a3.5,2.7 147 1 0 5.8,-3.8zM967.8,1267.3a3.3,3.3 115 1 0 -2.8,6.1a3.3,3.3 115 1 0 2.8,-6.1zM900.9,1273.7a3.7,3.1 137 1 0 -5.4,5.1a3.7,3.1 137 1 0 5.4,-5.1zM790.4,1369.3a3.6,3.6 89 1 0 0.1,7.3a3.6,3.6 89 1 0 -0.1,-7.3zM922.6,1263.6a4.5,3.4 46 1 0 6.3,6.6a4.5,3.4 46 1 0 -6.3,-6.6zM964.3,1215.7a2.5,2.4 153 1 0 -4.5,2.3a2.5,2.4 153 1 0 4.5,-2.3zM915.1,1236.6a2.8,2.5 164 1 0 -5.3,1.6a2.8,2.5 164 1 0 5.3,-1.6zM791.3,1274.5a2.3,2.3 13 1 0 4.4,1.1a2.3,2.3 13 1 0 -4.4,-1.1zM942.3,1324.3a2.7,2.2 141 1 0 -4.1,3.4a2.7,2.2 141 1 0 4.1,-3.4zM853.1,1192.1a4.1,3.3 15 1 0 7.9,2.2a4.1,3.3 15 1 0 -7.9,-2.2zM772.8,1295.6a3.7,2.9 144 1 0 -5.9,4.3a3.7,2.9 144 1 0 5.9,-4.3zM905.8,1313.2a3.0,3.0 156 1 0 -5.5,2.4a3.0,3.0 156 1 0 5.5,-2.4zM867.0,1242.5a4.1,3.7 32 1 0 6.9,4.2a4.1,3.7 32 1 0 -6.9,-4.2zM936.7,1204.1a3.6,3.0 158 1 0 -6.7,2.7a3.6,3.0 158 1 0 6.7,-2.7zM909.7,1359.5a4.1,3.4 105 1 0 -2.1,7.9a4.1,3.4 105 1 0 2.1,-7.9zM800.3,1295.7a2.8,2.5 21 1 0 5.1,2.0a2.8,2.5 21 1 0 -5.1,-2.0zM782.9,1362.3a2.9,2.1 14 1 0 5.6,1.4a2.9,2.1 14 1 0 -5.6,-1.4zM921.7,1379.2a3.1,2.8 163 1 0 -6.0,1.8a3.1,2.8 163 1 0 6.0,-1.8zM786.3,1300.6a4.3,4.1 43 1 0 6.3,5.9a4.3,4.1 43 1 0 -6.3,-5.9zM855.0,1239.3a3.7,2.9 167 1 0 -7.1,1.7a3.7,2.9 167 1 0 7.1,-1.7zM921.5,1188.9a3.6,3.2 127 1 0 -4.3,5.8a3.6,3.2 127 1 0 4.3,-5.8zM856.7,1365.1a3.2,2.6 3 1 0 6.4,0.4a3.2,2.6 3 1 0 -6.4,-0.4zM772.7,1289.7a3.7,3.2 160 1 0 -6.9,2.5a3.7,3.2 160 1 0 6.9,-2.5zM788.6,1262.4a3.1,3.0 100 1 0 -1.1,6.1a3.1,3.0 100 1 0 1.1,-6.1zM788.6,1327.2a2.7,2.0 176 1 0 -5.5,0.3a2.7,2.0 176 1 0 5.5,-0.3zM817.9,1207.8a4.2,3.4 86 1 0 0.5,8.4a4.2,3.4 86 1 0 -0.5,-8.4zM932.9,1337.7a4.4,4.4 157 1 0 -8.2,3.5a4.4,4.4 157 1 0 8.2,-3.5zM813.5,1328.0a2.4,1.8 68 1 0 1.8,4.4a2.4,1.8 68 1 0 -1.8,-4.4zM922.4,1189.3a2.6,2.5 7 1 0 5.3,0.7a2.6,2.5 7 1 0 -5.3,-0.7zM915.0,1216.1a4.3,3.7 144 1 0 -7.0,5.1a4.3,3.7 144 1 0 7.0,-5.1zM807.2,1302.5a4.4,3.5 135 1 0 -6.2,6.2a4.4,3.5 135 1 0 6.2,-6.2zM947.4,1211.9a4.5,4.0 35 1 0 7.4,5.2a4.5,4.0 35 1 0 -7.4,-5.2zM941.4,1253.3a4.6,3.9 53 1 0 5.6,7.3a4.6,3.9 53 1 0 -5.6,-7.3zM833.9,1272.8a3.8,3.8 65 1 0 3.3,7.0a3.8,3.8 65 1 0 -3.3,-7.0zM817.7,1248.0a4.2,3.2 78 1 0 1.7,8.2a4.2,3.2 78 1 0 -1.7,-8.2zM774.8,1326.5a3.8,3.4 29 1 0 6.6,3.7a3.8,3.4 29 1 0 -6.6,-3.7zM857.1,1219.0a4.5,4.0 150 1 0 -7.8,4.4a4.5,4.0 150 1 0 7.8,-4.4zM949.0,1189.6a4.1,3.3 8 1 0 8.2,1.2a4.1,3.3 8 1 0 -8.2,-1.2zM922.4,1379.1a2.5,2.4 161 1 0 -4.6,1.6a2.5,2.4 161 1 0 4.6,-1.6zM787.4,1247.5a3.5,3.1 42 1 0 5.2,4.6a3.5,3.1 42 1 0 -5.2,-4.6zM832.3,1183.7a3.9,3.1 56 1 0 4.4,6.5a3.9,3.1 56 1 0 -4.4,-6.5zM927.4,1264.3a2.4,1.8 70 1 0 1.7,4.6a2.4,1.8 70 1 0 -1.7,-4.6zM848.9,1318.9a3.3,2.3 64 1 0 2.9,5.9a3.3,2.3 64 1 0 -2.9,-5.9zM925.8,1363.7a3.4,3.3 9 1 0 6.8,1.0a3.4,3.3 9 1 0 -6.8,-1.0zM807.6,1327.8a4.1,3.2 20 1 0 7.7,2.8a4.1,3.2 20 1 0 -7.7,-2.8zM819.5,1190.1a2.9,2.5 37 1 0 4.6,3.5a2.9,2.5 37 1 0 -4.6,-3.5zM850.3,1285.7a3.6,2.6 42 1 0 5.4,4.8a3.6,2.6 42 1 0 -5.4,-4.8zM906.1,1321.0a3.7,2.8 31 1 0 6.3,3.8a3.7,2.8 31 1 0 -6.3,-3.8zM784.7,1241.3a4.5,3.2 48 1 0 6.0,6.8a4.5,3.2 48 1 0 -6.0,-6.8zM916.7,1261.7a2.7,2.1 67 1 0 2.1,5.1a2.7,2.1 67 1 0 -2.1,-5.1zM932.0,1316.8a4.4,4.2 159 1 0 -8.3,3.1a4.4,4.2 159 1 0 8.3,-3.1zM763.6,1354.0a4.4,3.4 17 1 0 8.4,2.6a4.4,3.4 17 1 0 -8.4,-2.6zM852.4,1224.0a2.4,2.4 163 1 0 -4.6,1.4a2.4,2.4 163 1 0 4.6,-1.4zM790.7,1242.7a3.6,2.8 95 1 0 -0.7,7.2a3.6,2.8 95 1 0 0.7,-7.2zM905.5,1203.6a2.3,1.8 164 1 0 -4.4,1.3a2.3,1.8 164 1 0 4.4,-1.3zM774.3,1378.9a4.1,3.6 1 1 0 8.2,0.1a4.1,3.6 1 1 0 -8.2,-0.1zM844.3,1237.9a3.2,2.3 114 1 0 -2.5,5.8a3.2,2.3 114 1 0 2.5,-5.8zM833.8,1242.4a3.0,2.9 79 1 0 1.1,6.0a3.0,2.9 79 1 0 -1.1,-6.0zM919.1,1233.0a2.3,2.1 120 1 0 -2.2,3.9a2.3,2.1 120 1 0 2.2,-3.9zM873.3,1376.5a3.1,2.7 142 1 0 -4.9,3.9a3.1,2.7 142 1 0 4.9,-3.9zM883.8,1349.8a3.0,2.8 82 1 0 0.8,6.0a3.0,2.8 82 1 0 -0.8,-6.0zM940.8,1292.8a2.7,2.6 166 1 0 -5.2,1.3a2.7,2.6 166 1 0 5.2,-1.3zM911.5,1236.5a2.9,2.1 99 1 0 -0.9,5.6a2.9,2.1 99 1 0 0.9,-5.6zM851.3,1193.1a3.5,2.8 110 1 0 -2.3,6.6a3.5,2.8 110 1 0 2.3,-6.6zM897.0,1320.9a3.5,2.9 161 1 0 -6.7,2.3a3.5,2.9 161 1 0 6.7,-2.3zM842.5,1274.4a4.3,3.1 46 1 0 6.0,6.2a4.3,3.1 46 1 0 -6.0,-6.2zM897.1,1220.8a4.4,4.2 127 1 0 -5.3,7.1a4.4,4.2 127 1 0 5.3,-7.1zM914.2,1302.0a2.4,2.2 67 1 0 1.8,4.4a2.4,2.2 67 1 0 -1.8,-4.4zM820.9,1226.5a2.9,2.7 3 1 0 5.8,0.3a2.9,2.7 3 1 0 -5.8,-0.3zM886.1,1246.1a3.2,2.9 172 1 0 -6.4,0.9a3.2,2.9 172 1 0 6.4,-0.9zM874.6,1224.9a3.0,2.8 131 1 0 -3.8,4.5a3.0,2.8 131 1 0 3.8,-4.5zM892.0,1204.8a2.2,1.9 58 1 0 2.4,3.8a2.2,1.9 58 1 0 -2.4,-3.8zM827.9,1349.2a3.8,3.5 71 1 0 2.5,7.2a3.8,3.5 71 1 0 -2.5,-7.2zM941.7,1247.9a4.1,3.0 177 1 0 -8.2,0.4a4.1,3.0 177 1 0 8.2,-0.4zM830.2,1347.9a4.4,3.5 117 1 0 -4.1,7.9a4.4,3.5 117 1 0 4.1,-7.9zM881.6,1247.3a4.0,3.4 167 1 0 -7.8,1.9a4.0,3.4 167 1 0 7.8,-1.9zM911.2,1310.0a3.7,3.3 21 1 0 6.9,2.6a3.7,3.3 21 1 0 -6.9,-2.6zM918.8,1365.4a2.9,2.5 89 1 0 0.1,5.7a2.9,2.5 89 1 0 -0.1,-5.7zM808.6,1374.1a4.4,4.0 60 1 0 4.3,7.6a4.4,4.0 60 1 0 -4.3,-7.6zM952.1,1239.1a3.2,2.9 21 1 0 5.9,2.3a3.2,2.9 21 1 0 -5.9,-2.3zM934.6,1340.5a3.6,3.5 155 1 0 -6.5,3.0a3.6,3.5 155 1 0 6.5,-3.0zM829.3,1252.2a3.1,3.0 76 1 0 1.5,6.0a3.1,3.0 76 1 0 -1.5,-6.0zM914.1,1197.1a3.6,2.5 56 1 0 4.0,5.9a3.6,2.5 56 1 0 -4.0,-5.9zM917.0,1366.4a3.4,3.1 45 1 0 4.8,4.9a3.4,3.1 45 1 0 -4.8,-4.9zM899.0,1221.9a2.3,2.3 153 1 0 -4.1,2.1a2.3,2.3 153 1 0 4.1,-2.1zM856.7,1254.1a4.6,3.7 32 1 0 7.7,4.9a4.6,3.7 32 1 0 -7.7,-4.9zM869.5,1226.6a2.8,2.5 133 1 0 -3.9,4.1a2.8,2.5 133 1 0 3.9,-4.1zM789.7,1267.1a3.9,3.9 19 1 0 7.4,2.6a3.9,3.9 19 1 0 -7.4,-2.6z" fill="#f8f2f2" filter="url(#bb3)"/>
<filter id="bb4" x="-5%" y="-5%" width="110%" height="110%"><feGaussianBlur stdDeviation="1.3"/></filter>
<path d="M960.8,1210.8a6.0,4.5 156 1 0 -11.0,5.0a6.0,4.5 156 1 0 11.0,-5.0zM799.3,1185.1a5.7,4.8 130 1 0 -7.4,8.7a5.7,4.8 130 1 0 7.4,-8.7zM803.1,1199.7a5.5,3.8 135 1 0 -7.8,7.8a5.5,3.8 135 1 0 7.8,-7.8zM870.4,1288.6a6.0,4.7 159 1 0 -11.2,4.3a6.0,4.7 159 1 0 11.2,-4.3zM953.2,1346.3a6.6,5.9 163 1 0 -12.6,3.9a6.6,5.9 163 1 0 12.6,-3.9zM813.3,1238.0a7.2,4.6 71 1 0 4.7,13.7a7.2,4.6 71 1 0 -4.7,-13.7zM852.4,1313.8a8.0,7.1 158 1 0 -14.7,6.0a8.0,7.1 158 1 0 14.7,-6.0zM956.5,1352.4a6.1,4.2 160 1 0 -11.5,4.2a6.1,4.2 160 1 0 11.5,-4.2zM796.0,1258.5a5.9,5.3 11 1 0 11.7,2.2a5.9,5.3 11 1 0 -11.7,-2.2zM901.4,1331.8a6.8,5.9 13 1 0 13.3,3.0a6.8,5.9 13 1 0 -13.3,-3.0zM898.2,1265.4a5.8,4.6 173 1 0 -11.5,1.4a5.8,4.6 173 1 0 11.5,-1.4zM928.9,1289.1a5.6,3.8 55 1 0 6.5,9.2a5.6,3.8 55 1 0 -6.5,-9.2zM895.8,1293.5a6.8,4.2 58 1 0 7.3,11.5a6.8,4.2 58 1 0 -7.3,-11.5zM909.6,1280.5a5.5,4.2 144 1 0 -9.0,6.5a5.5,4.2 144 1 0 9.0,-6.5zM942.4,1268.0a6.3,4.5 149 1 0 -10.9,6.5a6.3,4.5 149 1 0 10.9,-6.5zM861.7,1247.5a6.0,4.3 86 1 0 0.8,12.0a6.0,4.3 86 1 0 -0.8,-12.0zM839.7,1312.6a7.7,6.3 152 1 0 -13.7,7.2a7.7,6.3 152 1 0 13.7,-7.2zM877.3,1258.5a6.9,5.8 102 1 0 -3.0,13.4a6.9,5.8 102 1 0 3.0,-13.4zM847.2,1322.5a6.6,4.6 131 1 0 -8.6,10.1a6.6,4.6 131 1 0 8.6,-10.1zM899.4,1345.2a5.8,3.8 66 1 0 4.8,10.7a5.8,3.8 66 1 0 -4.8,-10.7z" fill="#55251c" filter="url(#bb4)"/>
</g>
<rect x="771" y="1190.4" width="198.7" height="198.5" fill="none" stroke="#000" stroke-width="2.2"/>
<clipPath id="cf2"><rect x="984" y="1189.5" width="198.5" height="199.4"/></clipPath>
<g clip-path="url(#cf2)">
<rect x="984" y="1189.5" width="198.5" height="199.4" fill="#b0b8cb" />
<filter id="nz3" x="984" y="1189.5" width="198.5" height="199.4" filterUnits="userSpaceOnUse" color-interpolation-filters="sRGB"><feTurbulence type="fractalNoise" baseFrequency="0.045" numOctaves="2" seed="32" result="n"/><feColorMatrix in="n" type="matrix" values="0 0 0 0 0 0 0 0 0 0 0 0 0 0 0 1 0 0 0 0" result="a"/><feComponentTransfer in="a" result="m"><feFuncA type="linear" slope="8" intercept="-4.240"/></feComponentTransfer><feFlood flood-color="#cdd2df" flood-opacity="1"/><feComposite in2="m" operator="in"/></filter>
<rect x="984" y="1189.5" width="198.5" height="199.4" fill="#000" filter="url(#nz3)"/>
<filter id="bb5" x="-5%" y="-5%" width="110%" height="110%"><feGaussianBlur stdDeviation="1.0"/></filter>
<path d="M1012.2,1308.7a4.8,4.4 109 1 0 -3.2,9.1a4.8,4.4 109 1 0 3.2,-9.1zM1059.9,1308.0a5.6,4.0 95 1 0 -1.1,11.2a5.6,4.0 95 1 0 1.1,-11.2zM1105.6,1287.5a6.3,5.8 68 1 0 4.7,11.6a6.3,5.8 68 1 0 -4.7,-11.6zM1028.9,1206.3a6.1,5.6 110 1 0 -4.1,11.5a6.1,5.6 110 1 0 4.1,-11.5zM1066.8,1287.2a4.9,4.2 26 1 0 8.9,4.4a4.9,4.2 26 1 0 -8.9,-4.4zM1102.7,1314.5a5.8,4.5 17 1 0 11.2,3.3a5.8,4.5 17 1 0 -11.2,-3.3zM1047.6,1322.7a5.5,5.1 78 1 0 2.4,10.8a5.5,5.1 78 1 0 -2.4,-10.8zM1063.6,1369.1a4.8,3.7 106 1 0 -2.7,9.3a4.8,3.7 106 1 0 2.7,-9.3zM1113.2,1270.4a5.6,4.7 120 1 0 -5.7,9.7a5.6,4.7 120 1 0 5.7,-9.7zM1169.2,1355.7a5.8,4.9 171 1 0 -11.4,1.9a5.8,4.9 171 1 0 11.4,-1.9zM1070.2,1309.4a6.2,5.6 70 1 0 4.2,11.7a6.2,5.6 70 1 0 -4.2,-11.7zM1134.1,1303.7a6.3,5.6 96 1 0 -1.3,12.6a6.3,5.6 96 1 0 1.3,-12.6zM1186.3,1294.0a5.3,5.2 170 1 0 -10.4,1.9a5.3,5.2 170 1 0 10.4,-1.9zM1013.3,1194.7a6.2,6.0 69 1 0 4.4,11.6a6.2,6.0 69 1 0 -4.4,-11.6zM1031.6,1321.2a6.4,4.9 81 1 0 2.1,12.6a6.4,4.9 81 1 0 -2.1,-12.6zM1116.5,1226.0a5.3,4.0 86 1 0 0.7,10.6a5.3,4.0 86 1 0 -0.7,-10.6zM1022.6,1200.3a5.3,3.9 21 1 0 9.8,3.9a5.3,3.9 21 1 0 -9.8,-3.9zM1009.7,1267.2a5.1,4.7 75 1 0 2.7,9.9a5.1,4.7 75 1 0 -2.7,-9.9zM1026.1,1221.5a5.1,4.7 36 1 0 8.2,6.0a5.1,4.7 36 1 0 -8.2,-6.0zM1081.5,1349.9a6.2,5.2 152 1 0 -10.8,5.8a6.2,5.2 152 1 0 10.8,-5.8zM1116.4,1229.7a4.7,3.5 142 1 0 -7.4,5.7a4.7,3.5 142 1 0 7.4,-5.7zM1059.8,1352.8a6.4,6.3 84 1 0 1.2,12.8a6.4,6.3 84 1 0 -1.2,-12.8zM984.5,1238.8a4.9,4.4 126 1 0 -5.9,8.0a4.9,4.4 126 1 0 5.9,-8.0zM1169.8,1325.3a6.4,5.7 85 1 0 1.0,12.8a6.4,5.7 85 1 0 -1.0,-12.8zM1158.3,1239.9a6.1,5.6 156 1 0 -11.1,4.9a6.1,5.6 156 1 0 11.1,-4.9zM991.5,1218.3a6.4,4.8 81 1 0 2.0,12.6a6.4,4.8 81 1 0 -2.0,-12.6zM1101.3,1280.0a6.3,6.2 61 1 0 6.0,11.0a6.3,6.2 61 1 0 -6.0,-11.0zM1002.8,1372.9a5.4,4.2 25 1 0 9.8,4.6a5.4,4.2 25 1 0 -9.8,-4.6zM986.8,1305.2a5.1,4.4 166 1 0 -9.8,2.4a5.1,4.4 166 1 0 9.8,-2.4zM1083.3,1380.0a4.6,4.3 136 1 0 -6.6,6.5a4.6,4.3 136 1 0 6.6,-6.5zM1179.7,1186.7a5.5,4.8 108 1 0 -3.4,10.5a5.5,4.8 108 1 0 3.4,-10.5zM1081.0,1237.0a6.3,6.1 126 1 0 -7.5,10.2a6.3,6.1 126 1 0 7.5,-10.2zM1173.7,1298.8a4.7,4.2 19 1 0 8.8,3.0a4.7,4.2 19 1 0 -8.8,-3.0zM1130.3,1319.0a4.9,3.7 12 1 0 9.6,2.1a4.9,3.7 12 1 0 -9.6,-2.1zM1012.0,1386.3a5.0,4.8 24 1 0 9.0,4.1a5.0,4.8 24 1 0 -9.0,-4.1zM1046.1,1279.9a5.2,5.2 43 1 0 7.6,7.1a5.2,5.2 43 1 0 -7.6,-7.1zM1077.6,1223.9a4.7,4.3 61 1 0 4.6,8.3a4.7,4.3 61 1 0 -4.6,-8.3zM1083.2,1325.3a4.7,3.4 124 1 0 -5.2,7.8a4.7,3.4 124 1 0 5.2,-7.8zM1189.9,1186.6a5.4,5.4 150 1 0 -9.4,5.4a5.4,5.4 150 1 0 9.4,-5.4zM1183.7,1288.8a6.4,4.6 85 1 0 1.1,12.8a6.4,4.6 85 1 0 -1.1,-12.8zM1153.1,1261.5a5.4,4.5 68 1 0 4.0,10.0a5.4,4.5 68 1 0 -4.0,-10.0zM1151.9,1384.4a5.0,4.0 145 1 0 -8.1,5.7a5.0,4.0 145 1 0 8.1,-5.7zM1138.8,1351.6a5.9,5.7 152 1 0 -10.4,5.5a5.9,5.7 152 1 0 10.4,-5.5zM1115.1,1242.3a4.7,4.5 154 1 0 -8.4,4.0a4.7,4.5 154 1 0 8.4,-4.0zM1159.3,1236.8a6.0,5.9 37 1 0 9.5,7.2a6.0,5.9 37 1 0 -9.5,-7.2zM989.0,1219.0a4.9,4.5 148 1 0 -8.4,5.3a4.9,4.5 148 1 0 8.4,-5.3zM1147.9,1322.1a6.5,6.4 79 1 0 2.4,12.7a6.5,6.4 79 1 0 -2.4,-12.7zM1166.0,1332.1a5.0,4.4 31 1 0 8.6,5.1a5.0,4.4 31 1 0 -8.6,-5.1zM1061.7,1349.7a4.5,3.9 78 1 0 1.8,8.9a4.5,3.9 78 1 0 -1.8,-8.9zM1033.1,1197.2a5.5,4.4 18 1 0 10.6,3.3a5.5,4.4 18 1 0 -10.6,-3.3zM1058.4,1325.2a4.7,4.4 15 1 0 9.0,2.4a4.7,4.4 15 1 0 -9.0,-2.4zM1081.4,1257.0a6.2,6.0 133 1 0 -8.4,9.1a6.2,6.0 133 1 0 8.4,-9.1zM1043.3,1247.2a6.1,5.2 114 1 0 -5.1,11.2a6.1,5.2 114 1 0 5.1,-11.2zM1126.8,1220.7a5.3,5.2 60 1 0 5.3,9.1a5.3,5.2 60 1 0 -5.3,-9.1zM1152.3,1214.1a4.5,3.9 51 1 0 5.7,7.0a4.5,3.9 51 1 0 -5.7,-7.0zM1101.3,1341.0a4.6,3.9 67 1 0 3.5,8.4a4.6,3.9 67 1 0 -3.5,-8.4zM1164.2,1355.0a6.3,5.8 62 1 0 5.8,11.1a6.3,5.8 62 1 0 -5.8,-11.1zM1110.2,1293.7a5.2,4.1 117 1 0 -4.7,9.3a5.2,4.1 117 1 0 4.7,-9.3zM1162.9,1230.9a5.2,3.9 66 1 0 4.3,9.5a5.2,3.9 66 1 0 -4.3,-9.5zM1065.0,1201.6a5.8,4.7 145 1 0 -9.5,6.6a5.8,4.7 145 1 0 9.5,-6.6zM1027.6,1331.8a6.5,4.8 67 1 0 5.1,11.9a6.5,4.8 67 1 0 -5.1,-11.9zM1185.0,1266.5a5.2,3.8 149 1 0 -8.9,5.3a5.2,3.8 149 1 0 8.9,-5.3zM1052.9,1367.8a5.6,4.2 179 1 0 -11.2,0.3a5.6,4.2 179 1 0 11.2,-0.3zM1171.6,1339.9a5.7,5.3 171 1 0 -11.3,1.9a5.7,5.3 171 1 0 11.3,-1.9zM1026.7,1235.3a6.0,5.0 177 1 0 -12.0,0.6a6.0,5.0 177 1 0 12.0,-0.6zM1153.7,1289.1a4.8,4.3 108 1 0 -3.0,9.2a4.8,4.3 108 1 0 3.0,-9.2zM1101.4,1341.8a5.5,5.3 107 1 0 -3.2,10.4a5.5,5.3 107 1 0 3.2,-10.4zM1017.9,1354.6a4.8,4.7 167 1 0 -9.4,2.2a4.8,4.7 167 1 0 9.4,-2.2zM1018.1,1221.8a5.9,4.9 67 1 0 4.5,10.9a5.9,4.9 67 1 0 -4.5,-10.9zM1139.5,1253.3a4.8,4.1 158 1 0 -8.8,3.6a4.8,4.1 158 1 0 8.8,-3.6zM1184.2,1207.0a6.0,4.8 175 1 0 -11.9,1.1a6.0,4.8 175 1 0 11.9,-1.1zM1056.2,1204.1a5.2,4.4 32 1 0 8.8,5.4a5.2,4.4 32 1 0 -8.8,-5.4zM1138.8,1247.8a6.0,4.6 88 1 0 0.3,12.0a6.0,4.6 88 1 0 -0.3,-12.0zM1114.6,1223.6a5.1,4.8 71 1 0 3.3,9.6a5.1,4.8 71 1 0 -3.3,-9.6zM1053.2,1307.9a5.9,5.6 102 1 0 -2.4,11.5a5.9,5.6 102 1 0 2.4,-11.5zM1160.0,1365.5a6.4,6.2 125 1 0 -7.3,10.4a6.4,6.2 125 1 0 7.3,-10.4zM1122.5,1261.6a4.7,4.6 75 1 0 2.5,9.1a4.7,4.6 75 1 0 -2.5,-9.1zM1044.2,1297.2a6.0,5.7 21 1 0 11.3,4.2a6.0,5.7 21 1 0 -11.3,-4.2zM1143.3,1374.4a6.5,6.3 103 1 0 -2.9,12.6a6.5,6.3 103 1 0 2.9,-12.6zM1161.2,1302.3a6.2,6.2 67 1 0 4.7,11.5a6.2,6.2 67 1 0 -4.7,-11.5zM1004.8,1334.8a6.4,6.2 83 1 0 1.5,12.7a6.4,6.2 83 1 0 -1.5,-12.7zM1067.0,1209.0a6.2,4.8 22 1 0 11.5,4.6a6.2,4.8 22 1 0 -11.5,-4.6zM995.8,1377.4a5.3,5.0 13 1 0 10.4,2.3a5.3,5.0 13 1 0 -10.4,-2.3zM1079.0,1334.2a6.0,4.6 87 1 0 0.7,12.1a6.0,4.6 87 1 0 -0.7,-12.1zM1152.3,1373.4a4.7,4.1 160 1 0 -8.8,3.2a4.7,4.1 160 1 0 8.8,-3.2zM1102.9,1348.1a5.1,4.3 3 1 0 10.2,0.4a5.1,4.3 3 1 0 -10.2,-0.4zM1141.0,1299.3a4.9,4.8 38 1 0 7.7,6.0a4.9,4.8 38 1 0 -7.7,-6.0zM982.7,1333.8a4.7,4.2 25 1 0 8.5,3.9a4.7,4.2 25 1 0 -8.5,-3.9zM988.2,1333.7a5.7,5.1 128 1 0 -7.0,9.1a5.7,5.1 128 1 0 7.0,-9.1zM1133.0,1219.8a5.3,4.7 156 1 0 -9.8,4.4a5.3,4.7 156 1 0 9.8,-4.4zM1109.0,1282.3a6.1,5.9 45 1 0 8.7,8.7a6.1,5.9 45 1 0 -8.7,-8.7zM1019.4,1180.6a6.2,4.8 104 1 0 -3.0,12.1a6.2,4.8 104 1 0 3.0,-12.1zM1083.1,1318.7a6.4,5.7 31 1 0 10.9,6.6a6.4,5.7 31 1 0 -10.9,-6.6zM1071.4,1219.2a5.3,4.9 117 1 0 -4.8,9.4a5.3,4.9 117 1 0 4.8,-9.4zM1113.6,1359.3a6.5,5.0 126 1 0 -7.7,10.5a6.5,5.0 126 1 0 7.7,-10.5zM1116.7,1185.6a6.5,5.3 121 1 0 -6.7,11.1a6.5,5.3 121 1 0 6.7,-11.1zM1022.7,1272.7a4.7,4.7 8 1 0 9.4,1.2a4.7,4.7 8 1 0 -9.4,-1.2zM1000.5,1335.2a5.7,4.5 169 1 0 -11.1,2.1a5.7,4.5 169 1 0 11.1,-2.1zM1129.8,1276.3a5.9,5.8 157 1 0 -10.9,4.6a5.9,5.8 157 1 0 10.9,-4.6zM1060.1,1346.0a4.9,4.0 179 1 0 -9.9,0.2a4.9,4.0 179 1 0 9.9,-0.2zM1135.2,1264.2a5.6,4.6 127 1 0 -6.8,8.9a5.6,4.6 127 1 0 6.8,-8.9zM1092.3,1276.5a5.3,5.1 146 1 0 -8.8,6.0a5.3,5.1 146 1 0 8.8,-6.0zM1032.0,1262.0a6.3,5.8 108 1 0 -3.9,12.0a6.3,5.8 108 1 0 3.9,-12.0zM1108.9,1221.8a5.6,5.2 79 1 0 2.1,11.1a5.6,5.2 79 1 0 -2.1,-11.1zM1069.3,1271.9a5.7,4.4 148 1 0 -9.7,6.1a5.7,4.4 148 1 0 9.7,-6.1zM989.5,1342.0a5.5,4.3 45 1 0 7.8,7.9a5.5,4.3 45 1 0 -7.8,-7.9zM1029.4,1217.4a6.5,5.1 15 1 0 12.5,3.4a6.5,5.1 15 1 0 -12.5,-3.4zM1117.2,1383.0a5.1,3.9 105 1 0 -2.7,9.8a5.1,3.9 105 1 0 2.7,-9.8zM1045.2,1275.6a5.6,5.6 68 1 0 4.3,10.5a5.6,5.6 68 1 0 -4.3,-10.5zM1053.8,1326.8a5.6,5.4 78 1 0 2.3,11.0a5.6,5.4 78 1 0 -2.3,-11.0zM1106.3,1288.5a5.7,4.8 29 1 0 10.0,5.6a5.7,4.8 29 1 0 -10.0,-5.6zM1005.5,1261.3a6.5,5.5 90 1 0 0.0,13.0a6.5,5.5 90 1 0 -0.0,-13.0zM1070.0,1341.9a5.2,4.3 60 1 0 5.1,9.1a5.2,4.3 60 1 0 -5.1,-9.1zM1095.4,1279.9a5.7,5.6 62 1 0 5.4,10.0a5.7,5.6 62 1 0 -5.4,-10.0zM1114.0,1388.0a6.0,5.7 146 1 0 -9.9,6.7a6.0,5.7 146 1 0 9.9,-6.7zM1015.8,1314.8a5.2,4.2 23 1 0 9.6,4.1a5.2,4.2 23 1 0 -9.6,-4.1zM1147.4,1375.3a6.2,5.2 165 1 0 -12.0,3.2a6.2,5.2 165 1 0 12.0,-3.2zM1139.9,1313.0a6.1,5.7 2 1 0 12.2,0.4a6.1,5.7 2 1 0 -12.2,-0.4zM1111.7,1316.4a5.2,4.9 133 1 0 -7.1,7.7a5.2,4.9 133 1 0 7.1,-7.7zM994.6,1264.3a4.5,3.7 20 1 0 8.5,3.1a4.5,3.7 20 1 0 -8.5,-3.1zM986.3,1246.8a5.9,4.5 175 1 0 -11.8,1.1a5.9,4.5 175 1 0 11.8,-1.1zM1018.6,1352.5a5.0,4.9 91 1 0 -0.2,10.1a5.0,4.9 91 1 0 0.2,-10.1zM1148.6,1277.5a5.1,4.9 4 1 0 10.1,0.6a5.1,4.9 4 1 0 -10.1,-0.6zM1002.4,1210.5a5.6,5.2 44 1 0 8.1,7.8a5.6,5.2 44 1 0 -8.1,-7.8zM1095.9,1360.4a4.5,4.2 25 1 0 8.2,3.8a4.5,4.2 25 1 0 -8.2,-3.8zM987.7,1283.0a5.3,4.3 115 1 0 -4.4,9.6a5.3,4.3 115 1 0 4.4,-9.6zM982.7,1306.1a4.8,4.7 85 1 0 0.8,9.6a4.8,4.7 85 1 0 -0.8,-9.6zM1028.0,1290.6a5.3,3.8 137 1 0 -7.8,7.3a5.3,3.8 137 1 0 7.8,-7.3zM1074.8,1359.4a6.0,5.7 171 1 0 -11.9,1.8a6.0,5.7 171 1 0 11.9,-1.8zM1045.0,1298.6a5.6,5.0 134 1 0 -7.9,8.1a5.6,5.0 134 1 0 7.9,-8.1zM1132.5,1318.0a5.7,4.9 26 1 0 10.3,4.9a5.7,4.9 26 1 0 -10.3,-4.9zM1031.8,1206.6a5.7,5.0 40 1 0 8.7,7.4a5.7,5.0 40 1 0 -8.7,-7.4zM1058.3,1360.3a4.8,4.1 92 1 0 -0.4,9.6a4.8,4.1 92 1 0 0.4,-9.6zM1077.3,1238.2a6.4,5.6 90 1 0 -0.1,12.8a6.4,5.6 90 1 0 0.1,-12.8zM998.9,1188.8a5.4,4.2 123 1 0 -5.9,9.1a5.4,4.2 123 1 0 5.9,-9.1zM1128.8,1193.4a5.3,4.2 117 1 0 -4.8,9.4a5.3,4.2 117 1 0 4.8,-9.4zM1100.0,1360.6a4.6,3.9 131 1 0 -6.0,6.9a4.6,3.9 131 1 0 6.0,-6.9zM1008.8,1193.1a5.4,4.2 8 1 0 10.7,1.5a5.4,4.2 8 1 0 -10.7,-1.5zM1159.3,1334.9a5.8,5.6 132 1 0 -7.9,8.6a5.8,5.6 132 1 0 7.9,-8.6zM1077.0,1341.6a6.4,6.3 157 1 0 -11.7,4.9a6.4,6.3 157 1 0 11.7,-4.9zM1141.6,1380.1a6.4,5.7 76 1 0 3.2,12.4a6.4,5.7 76 1 0 -3.2,-12.4zM1118.7,1385.7a4.7,3.9 25 1 0 8.5,3.9a4.7,3.9 25 1 0 -8.5,-3.9zM1003.0,1299.4a4.9,3.6 104 1 0 -2.4,9.4a4.9,3.6 104 1 0 2.4,-9.4zM1095.1,1283.8a4.6,3.4 97 1 0 -1.1,9.0a4.6,3.4 97 1 0 1.1,-9.0zM997.0,1204.7a5.2,5.1 138 1 0 -7.7,7.0a5.2,5.1 138 1 0 7.7,-7.0zM1165.7,1343.6a4.7,4.3 121 1 0 -4.8,8.1a4.7,4.3 121 1 0 4.8,-8.1zM1169.5,1193.3a4.8,3.6 76 1 0 2.3,9.4a4.8,3.6 76 1 0 -2.3,-9.4zM1056.1,1240.9a6.0,5.9 169 1 0 -11.9,2.3a6.0,5.9 169 1 0 11.9,-2.3zM999.9,1216.3a5.4,5.0 137 1 0 -7.9,7.3a5.4,5.0 137 1 0 7.9,-7.3zM1156.3,1206.7a5.6,4.0 124 1 0 -6.3,9.3a5.6,4.0 124 1 0 6.3,-9.3zM1156.2,1248.9a5.3,3.8 158 1 0 -9.8,4.0a5.3,3.8 158 1 0 9.8,-4.0zM1055.6,1243.3a5.3,3.9 178 1 0 -10.5,0.4a5.3,3.9 178 1 0 10.5,-0.4zM1178.5,1297.2a5.3,4.5 168 1 0 -10.4,2.1a5.3,4.5 168 1 0 10.4,-2.1zM987.0,1225.3a5.9,4.6 90 1 0 0.1,11.7a5.9,4.6 90 1 0 -0.1,-11.7zM1001.8,1268.4a6.4,5.8 107 1 0 -3.8,12.2a6.4,5.8 107 1 0 3.8,-12.2zM1153.4,1216.5a5.9,5.9 67 1 0 4.6,10.9a5.9,5.9 67 1 0 -4.6,-10.9zM979.1,1306.6a6.3,4.6 49 1 0 8.2,9.6a6.3,4.6 49 1 0 -8.2,-9.6zM1122.8,1289.3a6.5,5.6 66 1 0 5.4,11.8a6.5,5.6 66 1 0 -5.4,-11.8zM1052.7,1281.4a6.1,5.6 79 1 0 2.3,11.9a6.1,5.6 79 1 0 -2.3,-11.9zM1055.9,1308.5a4.9,4.1 62 1 0 4.5,8.6a4.9,4.1 62 1 0 -4.5,-8.6z" fill="#8d9bbb" filter="url(#bb5)"/>
<filter id="bb6" x="-5%" y="-5%" width="110%" height="110%"><feGaussianBlur stdDeviation="0.8"/></filter>
<path d="M984.4,1324.5a2.2,1.7 108 1 0 -1.4,4.1a2.2,1.7 108 1 0 1.4,-4.1zM1162.0,1316.2a3.9,2.8 145 1 0 -6.4,4.5a3.9,2.8 145 1 0 6.4,-4.5zM1128.9,1331.1a3.9,2.8 15 1 0 7.6,2.0a3.9,2.8 15 1 0 -7.6,-2.0zM1178.9,1368.9a2.2,1.9 157 1 0 -4.1,1.7a2.2,1.9 157 1 0 4.1,-1.7zM1100.2,1190.7a2.4,2.3 28 1 0 4.3,2.3a2.4,2.3 28 1 0 -4.3,-2.3zM1036.6,1354.8a2.4,2.1 31 1 0 4.1,2.4a2.4,2.1 31 1 0 -4.1,-2.4zM1012.3,1297.1a3.6,2.9 44 1 0 5.1,5.0a3.6,2.9 44 1 0 -5.1,-5.0zM1126.3,1333.3a2.0,1.8 94 1 0 -0.3,4.0a2.0,1.8 94 1 0 0.3,-4.0zM1183.5,1307.1a3.2,2.3 86 1 0 0.4,6.4a3.2,2.3 86 1 0 -0.4,-6.4zM993.4,1220.6a3.0,2.9 174 1 0 -6.0,0.6a3.0,2.9 174 1 0 6.0,-0.6zM1151.9,1286.1a2.9,2.6 64 1 0 2.5,5.2a2.9,2.6 64 1 0 -2.5,-5.2zM986.3,1337.0a3.9,3.8 115 1 0 -3.3,7.0a3.9,3.8 115 1 0 3.3,-7.0zM1145.3,1224.2a2.5,2.4 93 1 0 -0.2,4.9a2.5,2.4 93 1 0 0.2,-4.9zM1023.8,1319.0a3.4,3.3 22 1 0 6.4,2.6a3.4,3.3 22 1 0 -6.4,-2.6zM1038.7,1290.6a3.7,3.7 18 1 0 7.0,2.3a3.7,3.7 18 1 0 -7.0,-2.3zM1045.8,1268.5a3.9,3.5 55 1 0 4.4,6.4a3.9,3.5 55 1 0 -4.4,-6.4zM1100.3,1222.0a3.7,3.1 101 1 0 -1.5,7.3a3.7,3.1 101 1 0 1.5,-7.3zM1142.6,1291.8a2.1,1.7 2 1 0 4.3,0.1a2.1,1.7 2 1 0 -4.3,-0.1zM1065.3,1388.2a3.5,3.5 26 1 0 6.3,3.1a3.5,3.5 26 1 0 -6.3,-3.1zM1118.4,1346.9a2.9,2.7 18 1 0 5.5,1.8a2.9,2.7 18 1 0 -5.5,-1.8zM1168.7,1383.6a2.4,1.7 156 1 0 -4.4,1.9a2.4,1.7 156 1 0 4.4,-1.9zM1098.4,1387.5a3.1,2.4 48 1 0 4.1,4.6a3.1,2.4 48 1 0 -4.1,-4.6zM1118.2,1252.5a4.0,3.7 104 1 0 -1.9,7.7a4.0,3.7 104 1 0 1.9,-7.7zM1159.3,1348.7a2.8,2.4 77 1 0 1.2,5.4a2.8,2.4 77 1 0 -1.2,-5.4zM991.4,1208.3a2.5,1.8 157 1 0 -4.6,2.0a2.5,1.8 157 1 0 4.6,-2.0zM1083.7,1234.9a2.2,2.0 76 1 0 1.1,4.2a2.2,2.0 76 1 0 -1.1,-4.2zM1160.1,1314.3a2.2,2.2 159 1 0 -4.1,1.6a2.2,2.2 159 1 0 4.1,-1.6zM1052.0,1348.4a3.3,2.4 43 1 0 4.8,4.4a3.3,2.4 43 1 0 -4.8,-4.4zM1043.1,1302.3a3.0,2.6 5 1 0 6.0,0.6a3.0,2.6 5 1 0 -6.0,-0.6zM1052.6,1212.0a2.8,2.8 18 1 0 5.3,1.7a2.8,2.8 18 1 0 -5.3,-1.7zM985.0,1268.3a2.8,2.0 155 1 0 -5.0,2.4a2.8,2.0 155 1 0 5.0,-2.4zM1146.1,1353.5a3.3,2.8 101 1 0 -1.3,6.4a3.3,2.8 101 1 0 1.3,-6.4zM1014.7,1187.3a3.9,3.8 50 1 0 5.0,6.0a3.9,3.8 50 1 0 -5.0,-6.0zM1092.5,1209.5a3.6,3.5 176 1 0 -7.3,0.5a3.6,3.5 176 1 0 7.3,-0.5zM1001.4,1387.3a2.2,2.0 174 1 0 -4.4,0.5a2.2,2.0 174 1 0 4.4,-0.5zM1020.4,1307.0a3.6,3.4 148 1 0 -6.1,3.8a3.6,3.4 148 1 0 6.1,-3.8zM1120.1,1288.7a3.1,2.9 135 1 0 -4.3,4.4a3.1,2.9 135 1 0 4.3,-4.4zM1116.8,1363.5a2.5,2.0 72 1 0 1.6,4.8a2.5,2.0 72 1 0 -1.6,-4.8zM1032.5,1332.2a2.0,2.0 28 1 0 3.6,1.9a2.0,2.0 28 1 0 -3.6,-1.9zM1117.5,1339.7a2.6,1.8 177 1 0 -5.1,0.2a2.6,1.8 177 1 0 5.1,-0.2zM1169.5,1286.9a2.5,2.1 110 1 0 -1.7,4.6a2.5,2.1 110 1 0 1.7,-4.6zM1003.6,1309.9a3.4,2.6 63 1 0 3.1,6.1a3.4,2.6 63 1 0 -3.1,-6.1zM1057.8,1241.8a2.9,2.1 60 1 0 2.9,5.0a2.9,2.1 60 1 0 -2.9,-5.0zM1158.1,1322.1a2.9,2.1 61 1 0 2.8,5.1a2.9,2.1 61 1 0 -2.8,-5.1zM1127.8,1280.8a3.5,3.2 90 1 0 0.0,7.0a3.5,3.2 90 1 0 -0.0,-7.0zM1125.1,1287.7a2.7,2.7 132 1 0 -3.6,4.0a2.7,2.7 132 1 0 3.6,-4.0zM1061.5,1186.2a2.9,2.3 158 1 0 -5.4,2.2a2.9,2.3 158 1 0 5.4,-2.2zM1177.0,1332.3a2.1,1.9 36 1 0 3.4,2.4a2.1,1.9 36 1 0 -3.4,-2.4zM1097.8,1354.9a2.1,2.1 150 1 0 -3.7,2.1a2.1,2.1 150 1 0 3.7,-2.1zM1069.8,1295.2a2.7,2.6 174 1 0 -5.3,0.6a2.7,2.6 174 1 0 5.3,-0.6z" fill="#eef0f4" filter="url(#bb6)"/>
<filter id="bb7" x="-5%" y="-5%" width="110%" height="110%"><feGaussianBlur stdDeviation="1.0"/></filter>
<path d="M1079.5,1347.5a3.3,2.5 167 1 0 -6.4,1.5a3.3,2.5 167 1 0 6.4,-1.5zM1020.4,1335.8a5.2,3.7 152 1 0 -9.2,4.9a5.2,3.7 152 1 0 9.2,-4.9zM1100.4,1287.4a5.1,4.2 156 1 0 -9.4,4.1a5.1,4.2 156 1 0 9.4,-4.1zM1095.8,1342.4a4.3,3.5 61 1 0 4.1,7.5a4.3,3.5 61 1 0 -4.1,-7.5zM1020.6,1361.1a4.8,4.7 115 1 0 -4.0,8.7a4.8,4.7 115 1 0 4.0,-8.7zM1133.3,1302.7a4.5,4.3 22 1 0 8.3,3.4a4.5,4.3 22 1 0 -8.3,-3.4zM1104.6,1187.2a3.4,3.4 4 1 0 6.7,0.5a3.4,3.4 4 1 0 -6.7,-0.5zM1142.3,1389.3a5.1,5.1 27 1 0 9.0,4.7a5.1,5.1 27 1 0 -9.0,-4.7zM1124.1,1312.1a4.5,3.3 11 1 0 8.9,1.8a4.5,3.3 11 1 0 -8.9,-1.8zM1148.3,1216.5a5.1,3.8 116 1 0 -4.4,9.1a5.1,3.8 116 1 0 4.4,-9.1zM996.6,1386.3a5.0,3.9 175 1 0 -10.1,1.0a5.0,3.9 175 1 0 10.1,-1.0zM1015.5,1280.7a4.8,3.5 124 1 0 -5.4,7.9a4.8,3.5 124 1 0 5.4,-7.9zM1029.4,1350.0a5.9,5.8 20 1 0 11.1,4.1a5.9,5.8 20 1 0 -11.1,-4.1zM1082.7,1326.7a3.1,2.2 140 1 0 -4.7,4.0a3.1,2.2 140 1 0 4.7,-4.0zM1121.8,1221.7a5.2,4.9 52 1 0 6.5,8.2a5.2,4.9 52 1 0 -6.5,-8.2zM1097.4,1343.8a3.2,2.9 174 1 0 -6.3,0.7a3.2,2.9 174 1 0 6.3,-0.7zM1180.9,1386.2a5.4,5.3 69 1 0 3.8,10.2a5.4,5.3 69 1 0 -3.8,-10.2zM1042.1,1344.0a3.7,2.9 110 1 0 -2.5,7.0a3.7,2.9 110 1 0 2.5,-7.0zM1066.0,1376.6a3.4,2.8 160 1 0 -6.4,2.4a3.4,2.8 160 1 0 6.4,-2.4zM1038.4,1333.5a4.6,4.5 27 1 0 8.1,4.1a4.6,4.5 27 1 0 -8.1,-4.1zM1087.8,1248.0a5.1,5.1 124 1 0 -5.7,8.5a5.1,5.1 124 1 0 5.7,-8.5zM1175.3,1359.9a4.4,3.4 9 1 0 8.7,1.4a4.4,3.4 9 1 0 -8.7,-1.4zM1058.2,1250.6a4.8,4.8 94 1 0 -0.7,9.6a4.8,4.8 94 1 0 0.7,-9.6zM1022.7,1355.8a4.1,3.7 121 1 0 -4.2,7.0a4.1,3.7 121 1 0 4.2,-7.0zM1113.0,1202.7a3.3,3.0 85 1 0 0.6,6.6a3.3,3.0 85 1 0 -0.6,-6.6z" fill="#7a6478" filter="url(#bb7)"/>
<filter id="bb8" x="-5%" y="-5%" width="110%" height="110%"><feGaussianBlur stdDeviation="0.8"/></filter>
<path d="M1116.9,1369.2a3.7,3.0 131 1 0 -4.8,5.5a3.7,3.0 131 1 0 4.8,-5.5zM1015.2,1289.5a3.2,2.9 49 1 0 4.2,4.8a3.2,2.9 49 1 0 -4.2,-4.8zM1023.4,1280.6a4.6,4.1 74 1 0 2.5,8.8a4.6,4.1 74 1 0 -2.5,-8.8zM998.9,1274.7a3.0,2.5 19 1 0 5.7,1.9a3.0,2.5 19 1 0 -5.7,-1.9zM1120.5,1362.7a3.7,3.7 108 1 0 -2.3,7.1a3.7,3.7 108 1 0 2.3,-7.1zM1076.8,1298.6a4.6,4.2 163 1 0 -8.8,2.6a4.6,4.2 163 1 0 8.8,-2.6zM1169.7,1222.0a4.8,4.7 65 1 0 4.0,8.7a4.8,4.7 65 1 0 -4.0,-8.7zM1119.3,1277.9a3.7,3.1 175 1 0 -7.4,0.6a3.7,3.1 175 1 0 7.4,-0.6zM1048.0,1194.2a4.6,3.6 3 1 0 9.2,0.5a4.6,3.6 3 1 0 -9.2,-0.5zM1027.9,1226.5a4.1,3.0 160 1 0 -7.8,2.8a4.1,3.0 160 1 0 7.8,-2.8z" fill="#3a3258" filter="url(#bb8)"/>
</g>
<rect x="984" y="1189.5" width="198.5" height="199.4" fill="none" stroke="#000" stroke-width="2.2"/>
<clipPath id="cf3"><rect x="1216.1" y="1189.2" width="207.9" height="198.7"/></clipPath>
<g clip-path="url(#cf3)">
<rect x="1216.1" y="1189.2" width="207.9" height="198.7" fill="#e9d8d0" />
<filter id="nz4" x="1216.1" y="1189.2" width="207.9" height="198.7" filterUnits="userSpaceOnUse" color-interpolation-filters="sRGB"><feTurbulence type="fractalNoise" baseFrequency="0.05" numOctaves="2" seed="33" result="n"/><feColorMatrix in="n" type="matrix" values="0 0 0 0 0 0 0 0 0 0 0 0 0 0 0 1 0 0 0 0" result="a"/><feComponentTransfer in="a" result="m"><feFuncA type="linear" slope="8" intercept="-4.160"/></feComponentTransfer><feFlood flood-color="#f6efec" flood-opacity="1"/><feComposite in2="m" operator="in"/></filter>
<rect x="1216.1" y="1189.2" width="207.9" height="198.7" fill="#000" filter="url(#nz4)"/>
<filter id="nz5" x="1216.1" y="1189.2" width="207.9" height="198.7" filterUnits="userSpaceOnUse" color-interpolation-filters="sRGB"><feTurbulence type="fractalNoise" baseFrequency="0.035" numOctaves="2" seed="34" result="n"/><feColorMatrix in="n" type="matrix" values="0 0 0 0 0 0 0 0 0 0 0 0 0 0 0 0 1 0 0 0" result="a"/><feComponentTransfer in="a" result="m"><feFuncA type="linear" slope="10" intercept="-6.000"/></feComponentTransfer><feFlood flood-color="#c79478" flood-opacity="0.9"/><feComposite in2="m" operator="in"/></filter>
<rect x="1216.1" y="1189.2" width="207.9" height="198.7" fill="#000" filter="url(#nz5)"/>
<filter id="bb9" x="-5%" y="-5%" width="110%" height="110%"><feGaussianBlur stdDeviation="0.8"/></filter>
<path d="M1419.2,1276.1a5.4,4.5 39 1 0 8.5,6.8a5.4,4.5 39 1 0 -8.5,-6.8zM1232.9,1308.3a4.2,3.0 160 1 0 -8.0,2.9a4.2,3.0 160 1 0 8.0,-2.9zM1404.0,1207.6a4.2,2.8 149 1 0 -7.1,4.3a4.2,2.8 149 1 0 7.1,-4.3zM1217.7,1227.5a4.2,2.7 94 1 0 -0.6,8.4a4.2,2.7 94 1 0 0.6,-8.4zM1250.3,1264.6a5.5,4.5 75 1 0 2.9,10.5a5.5,4.5 75 1 0 -2.9,-10.5zM1379.6,1298.4a5.7,3.8 66 1 0 4.5,10.4a5.7,3.8 66 1 0 -4.5,-10.4zM1333.7,1377.0a5.2,3.9 45 1 0 7.4,7.4a5.2,3.9 45 1 0 -7.4,-7.4zM1278.5,1227.9a6.0,5.2 161 1 0 -11.3,3.9a6.0,5.2 161 1 0 11.3,-3.9zM1322.1,1329.6a4.6,3.4 26 1 0 8.2,4.1a4.6,3.4 26 1 0 -8.2,-4.1zM1298.8,1236.2a4.2,3.7 17 1 0 8.0,2.5a4.2,3.7 17 1 0 -8.0,-2.5zM1391.8,1329.7a4.2,3.1 179 1 0 -8.4,0.1a4.2,3.1 179 1 0 8.4,-0.1zM1421.8,1297.2a5.5,4.5 53 1 0 6.7,8.8a5.5,4.5 53 1 0 -6.7,-8.8zM1330.0,1303.9a4.8,4.0 80 1 0 1.7,9.4a4.8,4.0 80 1 0 -1.7,-9.4zM1376.1,1194.2a4.9,3.0 116 1 0 -4.4,8.8a4.9,3.0 116 1 0 4.4,-8.8zM1396.6,1294.2a5.1,4.0 41 1 0 7.7,6.8a5.1,4.0 41 1 0 -7.7,-6.8zM1295.1,1299.5a5.3,3.8 86 1 0 0.8,10.6a5.3,3.8 86 1 0 -0.8,-10.6zM1286.5,1295.3a5.4,3.7 123 1 0 -5.9,8.9a5.4,3.7 123 1 0 5.9,-8.9zM1401.2,1294.6a6.0,4.1 166 1 0 -11.5,3.0a6.0,4.1 166 1 0 11.5,-3.0zM1253.4,1255.0a5.6,3.4 111 1 0 -4.0,10.5a5.6,3.4 111 1 0 4.0,-10.5zM1397.5,1375.7a5.4,3.8 60 1 0 5.4,9.3a5.4,3.8 60 1 0 -5.4,-9.3zM1349.9,1195.3a4.1,3.5 113 1 0 -3.1,7.5a4.1,3.5 113 1 0 3.1,-7.5zM1244.4,1270.2a4.6,3.9 52 1 0 5.7,7.2a4.6,3.9 52 1 0 -5.7,-7.2zM1368.8,1334.3a4.6,3.1 94 1 0 -0.6,9.3a4.6,3.1 94 1 0 0.6,-9.3zM1297.2,1303.5a4.7,3.9 76 1 0 2.3,9.0a4.7,3.9 76 1 0 -2.3,-9.0zM1242.3,1339.6a5.8,4.7 98 1 0 -1.7,11.5a5.8,4.7 98 1 0 1.7,-11.5zM1396.3,1378.0a4.0,3.0 3 1 0 8.0,0.5a4.0,3.0 3 1 0 -8.0,-0.5zM1288.6,1233.1a4.9,4.0 155 1 0 -8.9,4.2a4.9,4.0 155 1 0 8.9,-4.2zM1269.4,1181.7a6.0,5.0 99 1 0 -1.9,11.8a6.0,5.0 99 1 0 1.9,-11.8zM1241.7,1193.5a5.9,4.5 155 1 0 -10.6,5.0a5.9,4.5 155 1 0 10.6,-5.0zM1377.3,1336.5a5.6,3.8 44 1 0 8.0,7.8a5.6,3.8 44 1 0 -8.0,-7.8zM1307.1,1338.5a5.6,4.6 104 1 0 -2.8,10.8a5.6,4.6 104 1 0 2.8,-10.8zM1315.3,1220.0a5.3,4.2 93 1 0 -0.5,10.7a5.3,4.2 93 1 0 0.5,-10.7zM1365.4,1383.0a5.9,3.7 52 1 0 7.3,9.2a5.9,3.7 52 1 0 -7.3,-9.2zM1343.9,1323.2a4.6,4.0 83 1 0 1.1,9.1a4.6,4.0 83 1 0 -1.1,-9.1zM1380.9,1193.2a4.6,2.8 142 1 0 -7.2,5.6a4.6,2.8 142 1 0 7.2,-5.6zM1322.5,1377.5a5.2,3.6 64 1 0 4.5,9.4a5.2,3.6 64 1 0 -4.5,-9.4zM1290.7,1222.6a4.2,3.4 56 1 0 4.7,7.0a4.2,3.4 56 1 0 -4.7,-7.0zM1307.6,1327.9a4.5,3.3 58 1 0 4.8,7.7a4.5,3.3 58 1 0 -4.8,-7.7zM1278.1,1321.5a4.2,3.0 20 1 0 7.9,2.8a4.2,3.0 20 1 0 -7.9,-2.8zM1359.6,1241.6a5.9,4.4 119 1 0 -5.8,10.4a5.9,4.4 119 1 0 5.8,-10.4zM1319.8,1354.1a5.4,4.3 6 1 0 10.7,1.1a5.4,4.3 6 1 0 -10.7,-1.1zM1244.7,1336.0a4.8,4.3 114 1 0 -4.0,8.8a4.8,4.3 114 1 0 4.0,-8.8zM1395.7,1338.1a5.9,4.7 169 1 0 -11.6,2.3a5.9,4.7 169 1 0 11.6,-2.3zM1308.0,1239.1a4.2,2.9 161 1 0 -8.0,2.8a4.2,2.9 161 1 0 8.0,-2.8zM1354.8,1190.2a4.1,3.0 98 1 0 -1.1,8.0a4.1,3.0 98 1 0 1.1,-8.0zM1293.0,1185.8a4.5,3.9 131 1 0 -5.9,6.9a4.5,3.9 131 1 0 5.9,-6.9zM1385.7,1236.6a5.3,3.5 54 1 0 6.2,8.7a5.3,3.5 54 1 0 -6.2,-8.7zM1422.8,1227.5a4.6,3.1 156 1 0 -8.4,3.7a4.6,3.1 156 1 0 8.4,-3.7zM1366.0,1305.8a5.7,4.2 165 1 0 -11.0,3.0a5.7,4.2 165 1 0 11.0,-3.0zM1379.1,1242.7a4.5,3.4 80 1 0 1.5,8.8a4.5,3.4 80 1 0 -1.5,-8.8zM1378.9,1316.0a5.5,4.3 48 1 0 7.4,8.1a5.5,4.3 48 1 0 -7.4,-8.1zM1368.8,1384.6a5.3,4.3 42 1 0 7.8,7.1a5.3,4.3 42 1 0 -7.8,-7.1zM1237.1,1272.6a5.2,4.2 85 1 0 0.8,10.3a5.2,4.2 85 1 0 -0.8,-10.3zM1327.3,1200.0a4.1,2.6 57 1 0 4.4,6.9a4.1,2.6 57 1 0 -4.4,-6.9zM1268.6,1212.3a4.7,3.3 148 1 0 -8.0,4.9a4.7,3.3 148 1 0 8.0,-4.9zM1410.0,1386.9a5.5,3.3 43 1 0 8.0,7.4a5.5,3.3 43 1 0 -8.0,-7.4zM1423.6,1325.1a5.7,3.8 43 1 0 8.3,7.8a5.7,3.8 43 1 0 -8.3,-7.8zM1229.0,1291.7a4.7,3.5 25 1 0 8.6,4.0a4.7,3.5 25 1 0 -8.6,-4.0zM1219.0,1259.3a5.9,4.7 103 1 0 -2.6,11.4a5.9,4.7 103 1 0 2.6,-11.4zM1224.3,1270.3a4.7,3.7 73 1 0 2.8,9.0a4.7,3.7 73 1 0 -2.8,-9.0zM1380.3,1239.6a5.5,3.3 26 1 0 9.8,4.8a5.5,3.3 26 1 0 -9.8,-4.8zM1388.7,1361.0a4.6,3.0 173 1 0 -9.1,1.1a4.6,3.0 173 1 0 9.1,-1.1zM1336.4,1198.9a6.0,4.6 54 1 0 7.0,9.7a6.0,4.6 54 1 0 -7.0,-9.7zM1319.4,1256.8a5.2,3.7 68 1 0 3.9,9.5a5.2,3.7 68 1 0 -3.9,-9.5zM1375.7,1247.3a5.7,4.7 170 1 0 -11.1,2.0a5.7,4.7 170 1 0 11.1,-2.0zM1250.6,1361.7a5.4,3.6 164 1 0 -10.4,3.0a5.4,3.6 164 1 0 10.4,-3.0zM1324.2,1219.4a4.4,4.0 144 1 0 -7.2,5.1a4.4,4.0 144 1 0 7.2,-5.1zM1264.2,1365.9a4.1,3.3 114 1 0 -3.3,7.5a4.1,3.3 114 1 0 3.3,-7.5zM1399.2,1367.5a5.5,4.7 83 1 0 1.2,10.9a5.5,4.7 83 1 0 -1.2,-10.9zM1412.0,1268.8a5.5,4.5 73 1 0 3.2,10.4a5.5,4.5 73 1 0 -3.2,-10.4zM1388.9,1329.4a4.3,3.4 87 1 0 0.4,8.6a4.3,3.4 87 1 0 -0.4,-8.6zM1344.4,1187.2a5.4,3.9 133 1 0 -7.3,7.9a5.4,3.9 133 1 0 7.3,-7.9zM1268.0,1186.3a4.9,3.9 140 1 0 -7.6,6.3a4.9,3.9 140 1 0 7.6,-6.3zM1327.6,1363.1a4.3,2.8 73 1 0 2.6,8.3a4.3,2.8 73 1 0 -2.6,-8.3zM1352.2,1339.8a4.1,3.2 63 1 0 3.8,7.4a4.1,3.2 63 1 0 -3.8,-7.4zM1324.1,1201.7a4.3,3.4 61 1 0 4.1,7.6a4.3,3.4 61 1 0 -4.1,-7.6zM1423.2,1285.3a4.7,3.1 95 1 0 -0.8,9.4a4.7,3.1 95 1 0 0.8,-9.4zM1326.9,1234.3a5.9,4.5 139 1 0 -9.0,7.8a5.9,4.5 139 1 0 9.0,-7.8zM1361.1,1353.2a4.2,3.7 108 1 0 -2.5,8.0a4.2,3.7 108 1 0 2.5,-8.0zM1243.7,1306.9a4.1,3.0 18 1 0 7.8,2.5a4.1,3.0 18 1 0 -7.8,-2.5zM1228.1,1277.1a5.7,4.7 168 1 0 -11.1,2.3a5.7,4.7 168 1 0 11.1,-2.3zM1375.5,1310.8a5.2,4.6 23 1 0 9.6,4.1a5.2,4.6 23 1 0 -9.6,-4.1zM1326.5,1294.4a4.0,3.5 122 1 0 -4.3,6.8a4.0,3.5 122 1 0 4.3,-6.8zM1286.2,1344.6a5.0,4.1 99 1 0 -1.5,9.8a5.0,4.1 99 1 0 1.5,-9.8zM1394.7,1286.8a4.2,3.5 42 1 0 6.3,5.5a4.2,3.5 42 1 0 -6.3,-5.5zM1340.4,1375.4a5.4,3.4 151 1 0 -9.5,5.3a5.4,3.4 151 1 0 9.5,-5.3zM1421.2,1276.7a4.5,3.3 96 1 0 -0.9,9.0a4.5,3.3 96 1 0 0.9,-9.0zM1226.5,1357.4a5.3,3.8 147 1 0 -8.8,5.8a5.3,3.8 147 1 0 8.8,-5.8zM1244.1,1367.1a5.7,4.2 20 1 0 10.7,4.0a5.7,4.2 20 1 0 -10.7,-4.0zM1309.2,1202.0a5.1,3.3 94 1 0 -0.6,10.2a5.1,3.3 94 1 0 0.6,-10.2zM1305.3,1250.1a5.2,3.9 159 1 0 -9.6,3.7a5.2,3.9 159 1 0 9.6,-3.7zM1309.2,1298.5a5.5,3.5 97 1 0 -1.3,10.8a5.5,3.5 97 1 0 1.3,-10.8zM1256.0,1287.0a5.0,4.4 173 1 0 -10.0,1.2a5.0,4.4 173 1 0 10.0,-1.2zM1279.3,1357.1a4.7,3.2 107 1 0 -2.8,9.1a4.7,3.2 107 1 0 2.8,-9.1zM1283.2,1380.5a5.8,3.5 177 1 0 -11.6,0.6a5.8,3.5 177 1 0 11.6,-0.6zM1399.3,1211.1a5.3,4.1 29 1 0 9.3,5.1a5.3,4.1 29 1 0 -9.3,-5.1zM1368.2,1184.6a4.7,3.5 144 1 0 -7.6,5.5a4.7,3.5 144 1 0 7.6,-5.5zM1298.4,1239.9a4.9,3.8 72 1 0 3.1,9.4a4.9,3.8 72 1 0 -3.1,-9.4zM1229.5,1355.9a4.4,2.9 39 1 0 6.8,5.6a4.4,2.9 39 1 0 -6.8,-5.6zM1416.4,1197.7a5.2,4.0 41 1 0 7.9,6.9a5.2,4.0 41 1 0 -7.9,-6.9zM1383.3,1218.4a4.2,2.6 119 1 0 -4.1,7.4a4.2,2.6 119 1 0 4.1,-7.4zM1228.7,1311.8a5.3,3.4 174 1 0 -10.6,1.1a5.3,3.4 174 1 0 10.6,-1.1zM1245.9,1249.2a5.6,3.8 140 1 0 -8.6,7.2a5.6,3.8 140 1 0 8.6,-7.2zM1362.0,1337.2a4.8,3.2 85 1 0 0.9,9.5a4.8,3.2 85 1 0 -0.9,-9.5zM1342.6,1189.3a4.2,2.9 9 1 0 8.3,1.3a4.2,2.9 9 1 0 -8.3,-1.3zM1373.8,1381.3a5.0,3.5 77 1 0 2.3,9.8a5.0,3.5 77 1 0 -2.3,-9.8zM1406.1,1333.3a5.1,4.0 164 1 0 -9.9,2.7a5.1,4.0 164 1 0 9.9,-2.7zM1340.6,1226.3a5.8,3.5 25 1 0 10.5,4.9a5.8,3.5 25 1 0 -10.5,-4.9zM1250.4,1260.6a5.2,4.4 46 1 0 7.2,7.4a5.2,4.4 46 1 0 -7.2,-7.4zM1402.4,1385.3a5.7,4.8 102 1 0 -2.4,11.2a5.7,4.8 102 1 0 2.4,-11.2zM1307.8,1213.4a4.8,3.2 65 1 0 4.0,8.6a4.8,3.2 65 1 0 -4.0,-8.6zM1222.7,1382.5a4.8,3.0 23 1 0 8.9,3.7a4.8,3.0 23 1 0 -8.9,-3.7zM1311.0,1196.5a5.3,3.7 115 1 0 -4.6,9.7a5.3,3.7 115 1 0 4.6,-9.7zM1291.1,1263.9a5.8,4.2 164 1 0 -11.1,3.1a5.8,4.2 164 1 0 11.1,-3.1zM1355.0,1335.3a5.5,4.2 56 1 0 6.0,9.1a5.5,4.2 56 1 0 -6.0,-9.1zM1363.1,1190.6a4.5,3.8 152 1 0 -7.9,4.2a4.5,3.8 152 1 0 7.9,-4.2zM1221.5,1345.7a4.9,3.3 165 1 0 -9.5,2.5a4.9,3.3 165 1 0 9.5,-2.5zM1340.0,1231.8a5.8,3.6 127 1 0 -7.0,9.3a5.8,3.6 127 1 0 7.0,-9.3zM1365.2,1334.6a4.9,3.4 40 1 0 7.6,6.3a4.9,3.4 40 1 0 -7.6,-6.3zM1378.8,1285.6a4.1,3.3 131 1 0 -5.3,6.1a4.1,3.3 131 1 0 5.3,-6.1z" fill="#a9b1c8" filter="url(#bb9)"/>
<filter id="bb10" x="-5%" y="-5%" width="110%" height="110%"><feGaussianBlur stdDeviation="0.3"/></filter>
<path d="M1384.4,1282.3a2.0,1.8 143 1 0 -3.2,2.5a2.0,1.8 143 1 0 3.2,-2.5zM1268.0,1230.2a2.2,1.7 4 1 0 4.4,0.3a2.2,1.7 4 1 0 -4.4,-0.3zM1356.8,1346.8a2.2,2.2 14 1 0 4.4,1.0a2.2,2.2 14 1 0 -4.4,-1.0zM1414.7,1243.5a1.4,1.1 16 1 0 2.6,0.8a1.4,1.1 16 1 0 -2.6,-0.8zM1214.7,1214.5a1.9,1.3 137 1 0 -2.7,2.6a1.9,1.3 137 1 0 2.7,-2.6zM1211.2,1230.6a1.4,1.0 0 1 0 2.8,0.0a1.4,1.0 0 1 0 -2.8,-0.0zM1323.2,1198.7a1.3,0.9 150 1 0 -2.3,1.3a1.3,0.9 150 1 0 2.3,-1.3zM1245.6,1268.2a2.1,1.6 65 1 0 1.8,3.9a2.1,1.6 65 1 0 -1.8,-3.9zM1393.3,1315.5a1.4,1.2 150 1 0 -2.4,1.3a1.4,1.2 150 1 0 2.4,-1.3zM1328.0,1240.2a1.5,1.4 71 1 0 1.0,2.7a1.5,1.4 71 1 0 -1.0,-2.7zM1255.4,1240.4a1.9,1.8 119 1 0 -1.8,3.4a1.9,1.8 119 1 0 1.8,-3.4zM1342.8,1256.4a1.5,1.3 64 1 0 1.3,2.7a1.5,1.3 64 1 0 -1.3,-2.7zM1274.4,1337.9a2.3,2.2 22 1 0 4.3,1.7a2.3,2.2 22 1 0 -4.3,-1.7zM1376.8,1295.4a1.3,1.2 98 1 0 -0.4,2.5a1.3,1.2 98 1 0 0.4,-2.5zM1317.9,1198.2a1.9,1.6 149 1 0 -3.2,1.9a1.9,1.6 149 1 0 3.2,-1.9zM1405.9,1212.4a2.3,1.9 3 1 0 4.6,0.2a2.3,1.9 3 1 0 -4.6,-0.2zM1376.0,1351.3a2.2,1.6 133 1 0 -2.9,3.2a2.2,1.6 133 1 0 2.9,-3.2zM1411.3,1381.7a1.6,1.6 20 1 0 3.1,1.1a1.6,1.6 20 1 0 -3.1,-1.1zM1402.2,1304.9a2.0,1.9 47 1 0 2.7,2.9a2.0,1.9 47 1 0 -2.7,-2.9zM1259.3,1198.3a2.1,1.5 4 1 0 4.1,0.3a2.1,1.5 4 1 0 -4.1,-0.3zM1353.2,1285.7a2.4,1.8 96 1 0 -0.5,4.8a2.4,1.8 96 1 0 0.5,-4.8zM1251.7,1350.4a2.3,2.3 21 1 0 4.4,1.7a2.3,2.3 21 1 0 -4.4,-1.7zM1370.9,1297.8a1.3,1.1 131 1 0 -1.7,2.0a1.3,1.1 131 1 0 1.7,-2.0zM1366.9,1278.5a1.3,1.1 58 1 0 1.4,2.2a1.3,1.1 58 1 0 -1.4,-2.2zM1285.7,1381.8a1.9,1.7 0 1 0 3.9,0.0a1.9,1.7 0 1 0 -3.9,-0.0zM1285.2,1343.7a1.4,1.0 52 1 0 1.7,2.2a1.4,1.0 52 1 0 -1.7,-2.2zM1243.4,1303.3a1.6,1.5 141 1 0 -2.5,2.0a1.6,1.5 141 1 0 2.5,-2.0zM1295.7,1374.1a2.2,2.2 173 1 0 -4.5,0.6a2.2,2.2 173 1 0 4.5,-0.6zM1404.1,1378.1a1.8,1.7 49 1 0 2.3,2.6a1.8,1.7 49 1 0 -2.3,-2.6zM1352.3,1188.4a2.4,2.2 9 1 0 4.7,0.8a2.4,2.2 9 1 0 -4.7,-0.8z" fill="#323450" filter="url(#bb10)"/>
</g>
<rect x="1216.1" y="1189.2" width="207.9" height="198.7" fill="none" stroke="#000" stroke-width="2.2"/>
<clipPath id="cf4"><rect x="1446.3" y="1189.2" width="199.2" height="199.8"/></clipPath>
<g clip-path="url(#cf4)">
<rect x="1446.3" y="1189.2" width="199.2" height="199.8" fill="#a4b0c6" />
<filter id="nz6" x="1446.3" y="1189.2" width="199.2" height="199.8" filterUnits="userSpaceOnUse" color-interpolation-filters="sRGB"><feTurbulence type="fractalNoise" baseFrequency="0.05" numOctaves="2" seed="35" result="n"/><feColorMatrix in="n" type="matrix" values="0 0 0 0 0 0 0 0 0 0 0 0 0 0 0 1 0 0 0 0" result="a"/><feComponentTransfer in="a" result="m"><feFuncA type="linear" slope="8" intercept="-4.400"/></feComponentTransfer><feFlood flood-color="#c7c3c8" flood-opacity="1"/><feComposite in2="m" operator="in"/></filter>
<rect x="1446.3" y="1189.2" width="199.2" height="199.8" fill="#000" filter="url(#nz6)"/>
<filter id="bb11" x="-5%" y="-5%" width="110%" height="110%"><feGaussianBlur stdDeviation="1.0"/></filter>
<path d="M1638.2,1361.2a6.0,4.6 60 1 0 6.1,10.3a6.0,4.6 60 1 0 -6.1,-10.3zM1594.5,1351.4a4.5,3.4 161 1 0 -8.6,2.9a4.5,3.4 161 1 0 8.6,-2.9zM1471.5,1319.2a5.2,4.6 155 1 0 -9.4,4.3a5.2,4.6 155 1 0 9.4,-4.3zM1564.8,1261.7a5.1,4.6 113 1 0 -4.0,9.5a5.1,4.6 113 1 0 4.0,-9.5zM1522.5,1279.1a5.6,4.3 32 1 0 9.4,6.0a5.6,4.3 32 1 0 -9.4,-6.0zM1565.0,1203.1a5.7,5.4 149 1 0 -9.8,5.9a5.7,5.4 149 1 0 9.8,-5.9zM1500.9,1271.2a6.3,5.1 178 1 0 -12.7,0.3a6.3,5.1 178 1 0 12.7,-0.3zM1487.5,1357.3a4.6,4.1 145 1 0 -7.5,5.3a4.6,4.1 145 1 0 7.5,-5.3zM1550.4,1313.3a6.3,6.3 32 1 0 10.7,6.8a6.3,6.3 32 1 0 -10.7,-6.8zM1546.0,1190.9a5.3,3.9 29 1 0 9.2,5.1a5.3,3.9 29 1 0 -9.2,-5.1zM1575.8,1200.1a4.8,3.4 146 1 0 -8.0,5.3a4.8,3.4 146 1 0 8.0,-5.3zM1495.1,1195.0a5.7,5.3 113 1 0 -4.6,10.5a5.7,5.3 113 1 0 4.6,-10.5zM1561.0,1293.5a5.9,4.7 152 1 0 -10.5,5.6a5.9,4.7 152 1 0 10.5,-5.6zM1586.4,1357.3a6.3,6.0 93 1 0 -0.8,12.5a6.3,6.0 93 1 0 0.8,-12.5zM1556.0,1336.2a5.7,4.0 165 1 0 -10.9,2.9a5.7,4.0 165 1 0 10.9,-2.9zM1484.9,1280.6a5.4,3.9 104 1 0 -2.6,10.5a5.4,3.9 104 1 0 2.6,-10.5zM1565.8,1348.6a5.7,4.5 102 1 0 -2.3,11.2a5.7,4.5 102 1 0 2.3,-11.2zM1644.5,1312.4a6.2,4.4 124 1 0 -6.9,10.2a6.2,4.4 124 1 0 6.9,-10.2zM1481.1,1217.7a5.2,3.9 15 1 0 10.0,2.7a5.2,3.9 15 1 0 -10.0,-2.7zM1481.2,1231.8a5.0,4.7 15 1 0 9.7,2.6a5.0,4.7 15 1 0 -9.7,-2.6zM1484.3,1191.1a5.5,4.2 96 1 0 -1.1,11.0a5.5,4.2 96 1 0 1.1,-11.0zM1496.7,1224.1a5.5,4.0 159 1 0 -10.2,3.9a5.5,4.0 159 1 0 10.2,-3.9zM1558.8,1261.7a5.6,5.5 89 1 0 0.2,11.2a5.6,5.5 89 1 0 -0.2,-11.2zM1525.8,1225.3a5.3,4.9 110 1 0 -3.7,9.9a5.3,4.9 110 1 0 3.7,-9.9zM1503.1,1368.8a4.8,3.8 140 1 0 -7.3,6.2a4.8,3.8 140 1 0 7.3,-6.2zM1630.9,1276.2a4.5,3.9 77 1 0 2.1,8.8a4.5,3.9 77 1 0 -2.1,-8.8zM1443.1,1254.4a6.3,4.5 32 1 0 10.6,6.6a6.3,4.5 32 1 0 -10.6,-6.6zM1479.6,1346.6a5.1,4.6 122 1 0 -5.3,8.7a5.1,4.6 122 1 0 5.3,-8.7zM1444.6,1271.5a4.7,4.5 88 1 0 0.3,9.5a4.7,4.5 88 1 0 -0.3,-9.5zM1512.8,1352.2a6.1,4.4 17 1 0 11.7,3.6a6.1,4.4 17 1 0 -11.7,-3.6zM1514.6,1249.8a5.4,4.5 175 1 0 -10.7,0.9a5.4,4.5 175 1 0 10.7,-0.9zM1582.6,1379.4a5.7,4.4 102 1 0 -2.4,11.2a5.7,4.4 102 1 0 2.4,-11.2zM1472.7,1302.7a4.8,4.7 55 1 0 5.5,7.8a4.8,4.7 55 1 0 -5.5,-7.8zM1631.8,1228.4a4.9,3.8 148 1 0 -8.4,5.2a4.9,3.8 148 1 0 8.4,-5.2zM1609.7,1336.2a5.6,4.2 43 1 0 8.3,7.7a5.6,4.2 43 1 0 -8.3,-7.7zM1444.3,1378.5a4.8,4.4 0 1 0 9.5,0.0a4.8,4.4 0 1 0 -9.5,-0.0zM1505.9,1309.0a4.9,3.5 161 1 0 -9.2,3.1a4.9,3.5 161 1 0 9.2,-3.1zM1502.6,1180.7a5.9,5.9 98 1 0 -1.7,11.7a5.9,5.9 98 1 0 1.7,-11.7zM1448.1,1266.4a5.7,4.4 75 1 0 2.9,11.1a5.7,4.4 75 1 0 -2.9,-11.1zM1596.3,1315.7a6.2,6.1 93 1 0 -0.7,12.3a6.2,6.1 93 1 0 0.7,-12.3zM1651.0,1208.4a5.5,5.0 167 1 0 -10.8,2.5a5.5,5.0 167 1 0 10.8,-2.5zM1533.6,1274.8a6.3,5.3 10 1 0 12.4,2.3a6.3,5.3 10 1 0 -12.4,-2.3zM1530.1,1240.5a5.8,5.5 8 1 0 11.5,1.7a5.8,5.5 8 1 0 -11.5,-1.7zM1505.8,1366.4a6.1,5.7 70 1 0 4.2,11.5a6.1,5.7 70 1 0 -4.2,-11.5zM1642.7,1355.9a6.1,5.3 115 1 0 -5.3,11.1a6.1,5.3 115 1 0 5.3,-11.1zM1469.8,1188.0a4.5,3.2 92 1 0 -0.3,9.1a4.5,3.2 92 1 0 0.3,-9.1zM1644.1,1303.7a6.1,5.6 170 1 0 -12.0,2.1a6.1,5.6 170 1 0 12.0,-2.1zM1503.3,1283.3a6.3,5.1 126 1 0 -7.4,10.3a6.3,5.1 126 1 0 7.4,-10.3zM1522.9,1216.6a4.9,4.0 5 1 0 9.8,0.9a4.9,4.0 5 1 0 -9.8,-0.9zM1620.0,1258.9a5.0,4.7 1 1 0 10.0,0.2a5.0,4.7 1 1 0 -10.0,-0.2zM1604.9,1278.5a4.7,3.8 178 1 0 -9.4,0.4a4.7,3.8 178 1 0 9.4,-0.4zM1446.6,1241.4a4.9,4.3 36 1 0 7.9,5.7a4.9,4.3 36 1 0 -7.9,-5.7zM1613.3,1256.7a6.4,4.7 41 1 0 9.6,8.5a6.4,4.7 41 1 0 -9.6,-8.5zM1448.6,1189.6a4.9,4.3 99 1 0 -1.5,9.6a4.9,4.3 99 1 0 1.5,-9.6zM1589.7,1229.0a5.7,5.7 58 1 0 6.1,9.6a5.7,5.7 58 1 0 -6.1,-9.6zM1490.9,1217.4a6.4,5.7 89 1 0 0.2,12.9a6.4,5.7 89 1 0 -0.2,-12.9zM1541.5,1198.2a5.0,4.5 45 1 0 7.0,7.0a5.0,4.5 45 1 0 -7.0,-7.0zM1552.3,1369.8a4.9,4.1 137 1 0 -7.1,6.6a4.9,4.1 137 1 0 7.1,-6.6zM1591.7,1352.8a6.3,5.5 41 1 0 9.6,8.2a6.3,5.5 41 1 0 -9.6,-8.2zM1543.9,1375.0a4.9,3.9 36 1 0 8.0,5.7a4.9,3.9 36 1 0 -8.0,-5.7zM1627.5,1201.8a4.8,4.2 131 1 0 -6.3,7.2a4.8,4.2 131 1 0 6.3,-7.2zM1524.0,1339.4a5.9,4.8 13 1 0 11.5,2.7a5.9,4.8 13 1 0 -11.5,-2.7zM1579.2,1312.8a6.4,5.8 11 1 0 12.6,2.5a6.4,5.8 11 1 0 -12.6,-2.5zM1478.4,1245.2a6.0,4.7 42 1 0 8.8,8.0a6.0,4.7 42 1 0 -8.8,-8.0zM1485.8,1239.0a5.5,5.0 153 1 0 -9.8,5.1a5.5,5.0 153 1 0 9.8,-5.1zM1457.1,1297.5a6.4,5.3 22 1 0 11.9,4.9a6.4,5.3 22 1 0 -11.9,-4.9zM1575.1,1352.8a4.6,3.3 55 1 0 5.2,7.5a4.6,3.3 55 1 0 -5.2,-7.5zM1522.5,1208.5a4.7,3.9 172 1 0 -9.2,1.3a4.7,3.9 172 1 0 9.2,-1.3zM1553.8,1240.0a6.4,5.0 25 1 0 11.6,5.5a6.4,5.0 25 1 0 -11.6,-5.5zM1474.3,1189.7a6.3,5.4 177 1 0 -12.6,0.8a6.3,5.4 177 1 0 12.6,-0.8zM1549.7,1197.4a5.2,4.2 28 1 0 9.2,5.0a5.2,4.2 28 1 0 -9.2,-5.0zM1454.4,1324.3a6.2,6.1 43 1 0 9.2,8.5a6.2,6.1 43 1 0 -9.2,-8.5zM1563.8,1237.8a6.2,6.0 2 1 0 12.4,0.4a6.2,6.0 2 1 0 -12.4,-0.4zM1475.4,1364.5a6.5,6.2 12 1 0 12.7,2.6a6.5,6.2 12 1 0 -12.7,-2.6zM1570.9,1341.5a5.6,4.9 139 1 0 -8.6,7.3a5.6,4.9 139 1 0 8.6,-7.3zM1451.8,1297.7a6.4,5.6 65 1 0 5.5,11.7a6.4,5.6 65 1 0 -5.5,-11.7zM1476.2,1369.6a5.8,5.8 174 1 0 -11.6,1.3a5.8,5.8 174 1 0 11.6,-1.3zM1584.0,1356.8a6.1,5.7 75 1 0 3.2,11.8a6.1,5.7 75 1 0 -3.2,-11.8zM1584.1,1343.2a5.0,4.7 108 1 0 -3.2,9.5a5.0,4.7 108 1 0 3.2,-9.5zM1514.7,1274.5a6.3,4.6 8 1 0 12.6,1.8a6.3,4.6 8 1 0 -12.6,-1.8zM1542.9,1201.8a6.2,6.1 64 1 0 5.4,11.2a6.2,6.1 64 1 0 -5.4,-11.2zM1520.9,1320.4a6.3,5.6 161 1 0 -11.9,4.1a6.3,5.6 161 1 0 11.9,-4.1zM1511.0,1276.8a5.9,5.4 69 1 0 4.2,11.0a5.9,5.4 69 1 0 -4.2,-11.0zM1511.4,1357.0a5.8,5.0 45 1 0 8.2,8.3a5.8,5.0 45 1 0 -8.2,-8.3zM1514.1,1199.7a5.0,3.6 40 1 0 7.6,6.5a5.0,3.6 40 1 0 -7.6,-6.5zM1568.6,1295.8a6.2,5.4 61 1 0 5.9,10.9a6.2,5.4 61 1 0 -5.9,-10.9zM1513.7,1353.3a4.5,3.4 80 1 0 1.5,8.9a4.5,3.4 80 1 0 -1.5,-8.9zM1476.9,1265.9a4.8,4.3 156 1 0 -8.8,3.9a4.8,4.3 156 1 0 8.8,-3.9zM1519.4,1343.8a4.5,3.3 26 1 0 8.1,4.0a4.5,3.3 26 1 0 -8.1,-4.0zM1605.8,1237.0a5.6,5.4 102 1 0 -2.3,11.1a5.6,5.4 102 1 0 2.3,-11.1zM1527.2,1293.3a5.8,5.1 98 1 0 -1.6,11.5a5.8,5.1 98 1 0 1.6,-11.5zM1475.1,1383.2a6.0,5.7 142 1 0 -9.4,7.3a6.0,5.7 142 1 0 9.4,-7.3zM1492.7,1274.2a5.7,4.3 147 1 0 -9.6,6.2a5.7,4.3 147 1 0 9.6,-6.2zM1540.8,1300.9a6.3,5.0 61 1 0 6.1,11.1a6.3,5.0 61 1 0 -6.1,-11.1zM1570.6,1205.9a5.0,3.8 175 1 0 -10.0,0.9a5.0,3.8 175 1 0 10.0,-0.9zM1572.4,1345.7a5.8,4.6 66 1 0 4.6,10.6a5.8,4.6 66 1 0 -4.6,-10.6zM1644.6,1311.1a5.7,4.7 163 1 0 -10.9,3.4a5.7,4.7 163 1 0 10.9,-3.4zM1495.4,1367.2a5.9,5.4 179 1 0 -11.8,0.3a5.9,5.4 179 1 0 11.8,-0.3zM1548.4,1293.5a5.3,4.8 153 1 0 -9.5,4.8a5.3,4.8 153 1 0 9.5,-4.8zM1603.6,1227.8a6.1,4.3 116 1 0 -5.4,11.0a6.1,4.3 116 1 0 5.4,-11.0zM1482.2,1247.3a5.6,4.2 130 1 0 -7.2,8.7a5.6,4.2 130 1 0 7.2,-8.7zM1583.5,1342.8a5.5,5.2 134 1 0 -7.6,7.9a5.5,5.2 134 1 0 7.6,-7.9zM1552.3,1317.9a5.0,4.4 51 1 0 6.3,7.8a5.0,4.4 51 1 0 -6.3,-7.8zM1465.9,1307.7a6.4,5.3 30 1 0 11.0,6.3a6.4,5.3 30 1 0 -11.0,-6.3zM1570.3,1222.1a5.8,5.3 38 1 0 9.2,7.1a5.8,5.3 38 1 0 -9.2,-7.1zM1509.7,1276.6a5.8,5.3 172 1 0 -11.5,1.7a5.8,5.3 172 1 0 11.5,-1.7zM1571.7,1378.2a4.9,3.8 175 1 0 -9.8,0.9a4.9,3.8 175 1 0 9.8,-0.9zM1603.9,1262.4a4.6,3.6 73 1 0 2.6,8.9a4.6,3.6 73 1 0 -2.6,-8.9zM1443.7,1305.2a6.3,5.1 62 1 0 5.9,11.2a6.3,5.1 62 1 0 -5.9,-11.2zM1494.9,1267.4a5.7,4.5 9 1 0 11.3,1.7a5.7,4.5 9 1 0 -11.3,-1.7zM1454.4,1371.4a5.8,4.3 75 1 0 3.1,11.2a5.8,4.3 75 1 0 -3.1,-11.2zM1595.6,1258.9a5.8,5.8 65 1 0 4.9,10.5a5.8,5.8 65 1 0 -4.9,-10.5zM1536.8,1210.3a5.9,5.0 97 1 0 -1.4,11.7a5.9,5.0 97 1 0 1.4,-11.7zM1510.6,1310.8a5.7,5.6 138 1 0 -8.5,7.6a5.7,5.6 138 1 0 8.5,-7.6zM1454.7,1208.4a5.3,4.0 32 1 0 8.9,5.7a5.3,4.0 32 1 0 -8.9,-5.7zM1478.8,1355.4a4.7,4.4 85 1 0 0.9,9.4a4.7,4.4 85 1 0 -0.9,-9.4zM1599.7,1279.7a5.0,4.1 164 1 0 -9.5,2.8a5.0,4.1 164 1 0 9.5,-2.8zM1597.2,1318.1a5.3,4.9 27 1 0 9.5,4.8a5.3,4.9 27 1 0 -9.5,-4.8zM1533.8,1257.3a5.3,5.0 29 1 0 9.3,5.2a5.3,5.0 29 1 0 -9.3,-5.2zM1499.7,1297.3a5.1,4.9 80 1 0 1.8,10.0a5.1,4.9 80 1 0 -1.8,-10.0zM1438.1,1242.8a5.1,4.2 0 1 0 10.1,0.0a5.1,4.2 0 1 0 -10.1,-0.0zM1634.3,1267.3a5.9,5.0 83 1 0 1.5,11.7a5.9,5.0 83 1 0 -1.5,-11.7zM1502.2,1368.7a4.8,4.1 50 1 0 6.2,7.3a4.8,4.1 50 1 0 -6.2,-7.3zM1510.2,1200.8a6.4,5.1 126 1 0 -7.6,10.3a6.4,5.1 126 1 0 7.6,-10.3zM1601.1,1372.8a5.4,4.6 149 1 0 -9.2,5.6a5.4,4.6 149 1 0 9.2,-5.6zM1553.3,1229.4a5.2,5.1 56 1 0 5.8,8.7a5.2,5.1 56 1 0 -5.8,-8.7zM1571.9,1341.8a6.1,5.4 140 1 0 -9.3,7.9a6.1,5.4 140 1 0 9.3,-7.9zM1649.0,1282.6a5.2,4.2 134 1 0 -7.2,7.5a5.2,4.2 134 1 0 7.2,-7.5zM1485.9,1358.0a5.0,3.8 131 1 0 -6.6,7.6a5.0,3.8 131 1 0 6.6,-7.6zM1508.1,1337.6a4.9,3.8 84 1 0 1.0,9.8a4.9,3.8 84 1 0 -1.0,-9.8zM1584.3,1295.9a6.4,6.3 23 1 0 11.8,5.0a6.4,6.3 23 1 0 -11.8,-5.0zM1617.1,1387.9a5.1,4.2 100 1 0 -1.8,10.0a5.1,4.2 100 1 0 1.8,-10.0zM1643.3,1233.8a5.1,4.9 52 1 0 6.2,8.1a5.1,4.9 52 1 0 -6.2,-8.1zM1631.7,1275.0a6.5,5.1 64 1 0 5.7,11.6a6.5,5.1 64 1 0 -5.7,-11.6zM1601.0,1346.3a5.9,4.6 95 1 0 -1.1,11.8a5.9,4.6 95 1 0 1.1,-11.8zM1597.7,1333.8a6.4,6.0 121 1 0 -6.5,11.1a6.4,6.0 121 1 0 6.5,-11.1zM1592.4,1316.8a6.2,5.1 119 1 0 -6.0,10.8a6.2,5.1 119 1 0 6.0,-10.8zM1551.9,1193.3a5.3,4.2 63 1 0 4.8,9.5a5.3,4.2 63 1 0 -4.8,-9.5zM1443.0,1357.5a5.1,4.4 34 1 0 8.5,5.8a5.1,4.4 34 1 0 -8.5,-5.8zM1543.9,1337.3a5.8,5.4 118 1 0 -5.5,10.2a5.8,5.4 118 1 0 5.5,-10.2zM1647.7,1306.2a4.8,3.5 170 1 0 -9.4,1.6a4.8,3.5 170 1 0 9.4,-1.6zM1559.9,1309.9a5.9,5.5 62 1 0 5.5,10.5a5.9,5.5 62 1 0 -5.5,-10.5zM1489.4,1293.1a5.2,4.5 70 1 0 3.5,9.8a5.2,4.5 70 1 0 -3.5,-9.8zM1646.1,1375.4a5.9,5.7 107 1 0 -3.5,11.2a5.9,5.7 107 1 0 3.5,-11.2zM1513.3,1251.7a5.2,4.5 11 1 0 10.2,1.9a5.2,4.5 11 1 0 -10.2,-1.9zM1460.8,1385.8a4.8,3.7 123 1 0 -5.2,8.2a4.8,3.7 123 1 0 5.2,-8.2zM1540.6,1334.6a4.5,3.2 65 1 0 3.8,8.3a4.5,3.2 65 1 0 -3.8,-8.3zM1609.2,1227.3a5.4,5.1 132 1 0 -7.3,8.0a5.4,5.1 132 1 0 7.3,-8.0zM1540.7,1204.4a4.8,3.6 75 1 0 2.6,9.3a4.8,3.6 75 1 0 -2.6,-9.3zM1643.2,1224.4a5.9,5.5 74 1 0 3.2,11.3a5.9,5.5 74 1 0 -3.2,-11.3zM1603.9,1208.7a6.5,4.7 64 1 0 5.6,11.6a6.5,4.7 64 1 0 -5.6,-11.6zM1449.9,1231.2a4.6,4.0 52 1 0 5.6,7.3a4.6,4.0 52 1 0 -5.6,-7.3zM1642.2,1292.5a4.7,4.6 7 1 0 9.3,1.1a4.7,4.6 7 1 0 -9.3,-1.1zM1553.2,1251.2a5.0,4.3 17 1 0 9.6,2.9a5.0,4.3 17 1 0 -9.6,-2.9zM1538.2,1299.3a5.8,5.3 9 1 0 11.4,1.9a5.8,5.3 9 1 0 -11.4,-1.9zM1606.7,1263.1a5.4,3.9 65 1 0 4.6,9.8a5.4,3.9 65 1 0 -4.6,-9.8zM1503.0,1344.1a5.7,5.5 49 1 0 7.5,8.7a5.7,5.5 49 1 0 -7.5,-8.7zM1484.3,1274.8a4.6,3.4 71 1 0 3.0,8.7a4.6,3.4 71 1 0 -3.0,-8.7zM1642.4,1352.1a4.9,3.5 25 1 0 9.0,4.2a4.9,3.5 25 1 0 -9.0,-4.2zM1466.7,1378.7a5.1,4.0 160 1 0 -9.6,3.5a5.1,4.0 160 1 0 9.6,-3.5zM1545.8,1303.4a4.6,3.3 43 1 0 6.7,6.3a4.6,3.3 43 1 0 -6.7,-6.3zM1505.4,1274.1a5.7,5.0 64 1 0 5.1,10.3a5.7,5.0 64 1 0 -5.1,-10.3zM1448.5,1219.8a6.5,5.1 144 1 0 -10.4,7.7a6.5,5.1 144 1 0 10.4,-7.7zM1514.2,1303.9a4.7,4.4 66 1 0 3.9,8.6a4.7,4.4 66 1 0 -3.9,-8.6zM1612.8,1363.8a5.0,4.6 178 1 0 -10.0,0.4a5.0,4.6 178 1 0 10.0,-0.4zM1530.1,1195.6a5.6,4.4 43 1 0 8.1,7.7a5.6,4.4 43 1 0 -8.1,-7.7zM1645.6,1202.5a5.0,4.1 42 1 0 7.4,6.6a5.0,4.1 42 1 0 -7.4,-6.6zM1484.3,1243.0a5.5,5.0 174 1 0 -11.0,1.1a5.5,5.0 174 1 0 11.0,-1.1zM1534.5,1196.4a6.2,5.6 173 1 0 -12.4,1.5a6.2,5.6 173 1 0 12.4,-1.5zM1614.2,1187.4a5.8,4.7 110 1 0 -4.0,10.9a5.8,4.7 110 1 0 4.0,-10.9z" fill="#7f9cc4" filter="url(#bb11)"/>
<filter id="bb12" x="-5%" y="-5%" width="110%" height="110%"><feGaussianBlur stdDeviation="1.4"/></filter>
<path d="M1465.0,1190.3a7.0,5.9 165 1 0 -13.6,3.6a7.0,5.9 165 1 0 13.6,-3.6zM1494.7,1299.5a7.2,6.0 113 1 0 -5.6,13.3a7.2,6.0 113 1 0 5.6,-13.3zM1576.1,1290.8a6.4,4.7 10 1 0 12.6,2.2a6.4,4.7 10 1 0 -12.6,-2.2zM1553.1,1274.3a6.6,6.1 61 1 0 6.4,11.6a6.6,6.1 61 1 0 -6.4,-11.6zM1501.6,1276.9a8.7,7.2 27 1 0 15.6,7.8a8.7,7.2 27 1 0 -15.6,-7.8zM1588.9,1369.1a7.8,6.9 148 1 0 -13.2,8.4a7.8,6.9 148 1 0 13.2,-8.4zM1560.2,1338.4a5.4,4.7 44 1 0 7.7,7.5a5.4,4.7 44 1 0 -7.7,-7.5zM1515.1,1264.4a7.0,5.1 65 1 0 5.9,12.8a7.0,5.1 65 1 0 -5.9,-12.8zM1467.1,1309.5a5.7,4.2 160 1 0 -10.7,3.9a5.7,4.2 160 1 0 10.7,-3.9zM1540.0,1219.8a6.4,6.2 141 1 0 -10.0,8.0a6.4,6.2 141 1 0 10.0,-8.0zM1595.0,1217.4a6.2,4.8 84 1 0 1.4,12.2a6.2,4.8 84 1 0 -1.4,-12.2zM1569.2,1292.8a8.2,6.5 57 1 0 9.0,13.8a8.2,6.5 57 1 0 -9.0,-13.8zM1627.5,1319.0a7.4,5.8 79 1 0 2.8,14.6a7.4,5.8 79 1 0 -2.8,-14.6zM1500.6,1361.4a5.6,4.8 90 1 0 -0.1,11.2a5.6,4.8 90 1 0 0.1,-11.2zM1570.2,1182.9a7.6,7.4 135 1 0 -10.8,10.9a7.6,7.4 135 1 0 10.8,-10.9zM1455.7,1315.5a6.3,5.6 86 1 0 0.9,12.5a6.3,5.6 86 1 0 -0.9,-12.5zM1643.1,1212.0a8.7,7.4 174 1 0 -17.4,1.9a8.7,7.4 174 1 0 17.4,-1.9zM1577.4,1384.6a5.5,4.3 39 1 0 8.6,6.9a5.5,4.3 39 1 0 -8.6,-6.9zM1553.1,1316.9a5.5,4.9 115 1 0 -4.7,9.9a5.5,4.9 115 1 0 4.7,-9.9zM1588.5,1214.6a6.0,5.2 14 1 0 11.7,2.9a6.0,5.2 14 1 0 -11.7,-2.9zM1482.2,1203.9a8.4,8.3 125 1 0 -9.5,13.8a8.4,8.3 125 1 0 9.5,-13.8zM1612.1,1346.3a6.2,5.8 91 1 0 -0.1,12.4a6.2,5.8 91 1 0 0.1,-12.4zM1616.3,1311.4a5.3,4.9 153 1 0 -9.5,4.8a5.3,4.9 153 1 0 9.5,-4.8zM1616.8,1204.6a7.8,6.6 17 1 0 14.9,4.6a7.8,6.6 17 1 0 -14.9,-4.6zM1606.8,1317.1a6.4,5.7 92 1 0 -0.5,12.9a6.4,5.7 92 1 0 0.5,-12.9zM1467.1,1285.7a8.3,7.2 90 1 0 0.1,16.6a8.3,7.2 90 1 0 -0.1,-16.6zM1449.5,1237.9a6.0,5.2 41 1 0 9.0,7.9a6.0,5.2 41 1 0 -9.0,-7.9zM1562.1,1202.3a6.5,5.4 48 1 0 8.7,9.7a6.5,5.4 48 1 0 -8.7,-9.7zM1639.1,1344.1a5.0,3.5 92 1 0 -0.3,10.0a5.0,3.5 92 1 0 0.3,-10.0zM1565.7,1332.7a6.7,6.5 18 1 0 12.7,4.1a6.7,6.5 18 1 0 -12.7,-4.1zM1450.8,1269.7a5.8,5.7 137 1 0 -8.5,8.0a5.8,5.7 137 1 0 8.5,-8.0zM1616.6,1185.4a5.0,3.8 19 1 0 9.5,3.4a5.0,3.8 19 1 0 -9.5,-3.4zM1515.0,1198.6a7.5,6.6 35 1 0 12.4,8.5a7.5,6.6 35 1 0 -12.4,-8.5zM1509.6,1195.0a8.3,6.4 153 1 0 -14.9,7.4a8.3,6.4 153 1 0 14.9,-7.4zM1576.8,1282.6a8.1,6.1 139 1 0 -12.2,10.5a8.1,6.1 139 1 0 12.2,-10.5zM1553.0,1280.8a8.4,7.9 93 1 0 -0.9,16.7a8.4,7.9 93 1 0 0.9,-16.7zM1529.9,1368.2a6.0,4.4 76 1 0 2.9,11.6a6.0,4.4 76 1 0 -2.9,-11.6zM1507.6,1304.4a7.6,7.2 32 1 0 12.8,8.1a7.6,7.2 32 1 0 -12.8,-8.1zM1526.8,1334.4a5.4,5.2 54 1 0 6.4,8.8a5.4,5.2 54 1 0 -6.4,-8.8zM1607.7,1243.9a8.9,7.3 137 1 0 -13.0,12.3a8.9,7.3 137 1 0 13.0,-12.3zM1627.6,1199.2a7.4,5.8 103 1 0 -3.3,14.4a7.4,5.8 103 1 0 3.3,-14.4zM1606.8,1202.4a5.2,4.4 32 1 0 8.7,5.5a5.2,4.4 32 1 0 -8.7,-5.5zM1592.6,1223.8a5.9,4.3 120 1 0 -5.9,10.1a5.9,4.3 120 1 0 5.9,-10.1zM1652.0,1348.5a6.8,6.0 172 1 0 -13.4,1.8a6.8,6.0 172 1 0 13.4,-1.8zM1567.3,1342.8a6.9,5.2 155 1 0 -12.6,5.8a6.9,5.2 155 1 0 12.6,-5.8z" fill="#b27a52" filter="url(#bb12)" opacity="0.9"/>
<filter id="bb13" x="-5%" y="-5%" width="110%" height="110%"><feGaussianBlur stdDeviation="1.2"/></filter>
<path d="M1555.3,1384.4a6.6,5.5 64 1 0 5.8,12.0a6.6,5.5 64 1 0 -5.8,-12.0zM1522.4,1283.8a7.7,6.4 44 1 0 11.0,10.8a7.7,6.4 44 1 0 -11.0,-10.8zM1647.5,1198.3a6.4,6.2 158 1 0 -11.9,4.8a6.4,6.2 158 1 0 11.9,-4.8zM1454.4,1231.2a6.4,5.1 80 1 0 2.1,12.6a6.4,5.1 80 1 0 -2.1,-12.6zM1568.9,1215.4a7.9,5.6 139 1 0 -12.0,10.3a7.9,5.6 139 1 0 12.0,-10.3zM1503.0,1366.4a5.7,4.5 75 1 0 2.9,11.0a5.7,4.5 75 1 0 -2.9,-11.0zM1644.1,1383.4a6.1,5.0 100 1 0 -2.0,11.9a6.1,5.0 100 1 0 2.0,-11.9zM1510.9,1337.5a5.2,3.8 98 1 0 -1.4,10.4a5.2,3.8 98 1 0 1.4,-10.4zM1475.1,1385.9a6.6,6.2 102 1 0 -2.7,12.9a6.6,6.2 102 1 0 2.7,-12.9zM1616.7,1255.3a7.4,6.3 163 1 0 -14.0,4.4a7.4,6.3 163 1 0 14.0,-4.4zM1450.7,1354.3a5.7,5.2 180 1 0 -11.4,0.0a5.7,5.2 180 1 0 11.4,-0.0zM1516.8,1292.1a7.1,5.9 54 1 0 8.3,11.6a7.1,5.9 54 1 0 -8.3,-11.6zM1457.0,1360.0a5.2,4.6 123 1 0 -5.6,8.7a5.2,4.6 123 1 0 5.6,-8.7zM1599.7,1375.2a6.1,5.7 86 1 0 0.9,12.1a6.1,5.7 86 1 0 -0.9,-12.1zM1562.9,1380.0a5.5,5.4 140 1 0 -8.5,7.2a5.5,5.4 140 1 0 8.5,-7.2zM1551.0,1325.1a7.7,6.5 111 1 0 -5.4,14.3a7.7,6.5 111 1 0 5.4,-14.3zM1580.0,1299.5a5.9,4.4 42 1 0 8.8,7.9a5.9,4.4 42 1 0 -8.8,-7.9zM1491.2,1239.7a6.6,5.9 96 1 0 -1.4,13.2a6.6,5.9 96 1 0 1.4,-13.2z" fill="#8c4420" filter="url(#bb13)"/>
<filter id="bb14" x="-5%" y="-5%" width="110%" height="110%"><feGaussianBlur stdDeviation="0.6"/></filter>
<path d="M1591.8,1241.5a2.4,2.4 74 1 0 1.4,4.7a2.4,2.4 74 1 0 -1.4,-4.7zM1447.0,1194.6a3.8,3.3 59 1 0 3.9,6.5a3.8,3.3 59 1 0 -3.9,-6.5zM1553.0,1358.4a3.9,3.4 153 1 0 -6.9,3.5a3.9,3.4 153 1 0 6.9,-3.5zM1540.3,1286.9a2.2,1.9 98 1 0 -0.6,4.3a2.2,1.9 98 1 0 0.6,-4.3zM1550.1,1186.5a2.0,1.6 112 1 0 -1.5,3.8a2.0,1.6 112 1 0 1.5,-3.8zM1466.3,1358.9a3.1,2.3 92 1 0 -0.2,6.1a3.1,2.3 92 1 0 0.2,-6.1zM1452.1,1191.4a3.0,2.4 51 1 0 3.8,4.6a3.0,2.4 51 1 0 -3.8,-4.6zM1644.2,1304.4a2.1,1.8 121 1 0 -2.1,3.6a2.1,1.8 121 1 0 2.1,-3.6zM1548.2,1391.0a3.6,3.5 7 1 0 7.1,0.9a3.6,3.5 7 1 0 -7.1,-0.9zM1572.1,1231.1a2.3,1.8 15 1 0 4.4,1.2a2.3,1.8 15 1 0 -4.4,-1.2zM1613.7,1292.6a3.1,2.6 141 1 0 -4.8,3.9a3.1,2.6 141 1 0 4.8,-3.9zM1622.5,1295.1a2.5,2.5 118 1 0 -2.3,4.4a2.5,2.5 118 1 0 2.3,-4.4zM1579.3,1316.2a2.7,2.6 5 1 0 5.4,0.5a2.7,2.6 5 1 0 -5.4,-0.5zM1500.6,1388.0a3.9,3.1 19 1 0 7.4,2.6a3.9,3.1 19 1 0 -7.4,-2.6zM1489.8,1371.9a3.4,2.4 44 1 0 4.9,4.8a3.4,2.4 44 1 0 -4.9,-4.8zM1617.2,1288.3a2.3,1.7 176 1 0 -4.5,0.3a2.3,1.7 176 1 0 4.5,-0.3zM1556.3,1316.7a2.5,2.1 78 1 0 1.1,4.9a2.5,2.1 78 1 0 -1.1,-4.9zM1625.7,1265.8a2.2,2.0 138 1 0 -3.3,3.0a2.2,2.0 138 1 0 3.3,-3.0zM1596.6,1377.9a3.9,3.6 59 1 0 4.1,6.8a3.9,3.6 59 1 0 -4.1,-6.8zM1564.8,1308.6a3.2,2.9 137 1 0 -4.7,4.3a3.2,2.9 137 1 0 4.7,-4.3zM1555.4,1295.7a3.9,3.2 114 1 0 -3.2,7.2a3.9,3.2 114 1 0 3.2,-7.2zM1533.4,1202.8a3.8,3.0 25 1 0 7.0,3.2a3.8,3.0 25 1 0 -7.0,-3.2zM1496.4,1307.9a3.1,2.4 108 1 0 -1.9,5.8a3.1,2.4 108 1 0 1.9,-5.8zM1507.3,1281.1a3.7,3.5 92 1 0 -0.2,7.4a3.7,3.5 92 1 0 0.2,-7.4zM1545.4,1354.3a3.1,2.2 6 1 0 6.2,0.7a3.1,2.2 6 1 0 -6.2,-0.7z" fill="#f4f2f2" filter="url(#bb14)"/>
</g>
<rect x="1446.3" y="1189.2" width="199.2" height="199.8" fill="none" stroke="#000" stroke-width="2.2"/>
<clipPath id="cf5"><rect x="768.3" y="1399.9" width="201.4" height="200.3"/></clipPath>
<g clip-path="url(#cf5)">
<rect x="768.3" y="1399.9" width="201.4" height="200.3" fill="#f3e8e6" />
<filter id="nz7" x="768.3" y="1399.9" width="201.4" height="200.3" filterUnits="userSpaceOnUse" color-interpolation-filters="sRGB"><feTurbulence type="fractalNoise" baseFrequency="0.05" numOctaves="2" seed="41" result="n"/><feColorMatrix in="n" type="matrix" values="0 0 0 0 0 0 0 0 0 0 0 0 0 0 0 1 0 0 0 0" result="a"/><feComponentTransfer in="a" result="m"><feFuncA type="linear" slope="8" intercept="-4.240"/></feComponentTransfer><feFlood flood-color="#d9dde8" flood-opacity="1"/><feComposite in2="m" operator="in"/></filter>
<rect x="768.3" y="1399.9" width="201.4" height="200.3" fill="#000" filter="url(#nz7)"/>
<filter id="bb15" x="-5%" y="-5%" width="110%" height="110%"><feGaussianBlur stdDeviation="0.9"/></filter>
<path d="M953.3,1464.0a6.9,5.5 138 1 0 -10.3,9.2a6.9,5.5 138 1 0 10.3,-9.2zM837.4,1424.4a6.3,4.7 119 1 0 -6.1,11.1a6.3,4.7 119 1 0 6.1,-11.1zM842.8,1429.2a5.4,4.5 159 1 0 -10.0,3.9a5.4,4.5 159 1 0 10.0,-3.9zM962.0,1440.0a6.0,5.9 147 1 0 -10.0,6.5a6.0,5.9 147 1 0 10.0,-6.5zM979.6,1523.6a6.5,6.1 158 1 0 -12.2,4.8a6.5,6.1 158 1 0 12.2,-4.8zM968.8,1593.8a5.4,4.6 91 1 0 -0.2,10.8a5.4,4.6 91 1 0 0.2,-10.8zM927.3,1586.2a4.7,3.8 52 1 0 5.7,7.4a4.7,3.8 52 1 0 -5.7,-7.4zM824.4,1420.1a5.6,5.3 156 1 0 -10.3,4.5a5.6,5.3 156 1 0 10.3,-4.5zM971.3,1515.2a4.8,3.5 156 1 0 -8.9,3.9a4.8,3.5 156 1 0 8.9,-3.9zM834.1,1541.4a5.9,5.6 118 1 0 -5.6,10.4a5.9,5.6 118 1 0 5.6,-10.4zM774.9,1523.4a7.0,5.4 44 1 0 10.1,9.6a7.0,5.4 44 1 0 -10.1,-9.6zM957.3,1475.7a6.5,6.3 89 1 0 0.3,12.9a6.5,6.3 89 1 0 -0.3,-12.9zM803.9,1574.5a5.0,3.6 159 1 0 -9.3,3.6a5.0,3.6 159 1 0 9.3,-3.6zM808.7,1417.1a6.2,6.2 38 1 0 9.8,7.6a6.2,6.2 38 1 0 -9.8,-7.6zM879.8,1490.8a4.8,4.3 137 1 0 -7.0,6.5a4.8,4.3 137 1 0 7.0,-6.5zM890.0,1401.5a6.6,6.3 135 1 0 -9.4,9.3a6.6,6.3 135 1 0 9.4,-9.3zM900.8,1464.5a4.8,4.3 61 1 0 4.7,8.5a4.8,4.3 61 1 0 -4.7,-8.5zM937.3,1441.3a4.6,3.6 140 1 0 -7.0,5.9a4.6,3.6 140 1 0 7.0,-5.9zM934.3,1581.4a6.2,5.4 63 1 0 5.6,11.0a6.2,5.4 63 1 0 -5.6,-11.0zM960.6,1531.5a6.6,5.5 85 1 0 1.2,13.1a6.6,5.5 85 1 0 -1.2,-13.1zM863.1,1488.4a6.5,5.2 81 1 0 2.0,12.9a6.5,5.2 81 1 0 -2.0,-12.9zM805.3,1512.6a4.4,3.4 158 1 0 -8.2,3.3a4.4,3.4 158 1 0 8.2,-3.3zM911.1,1542.3a5.5,5.1 134 1 0 -7.7,8.0a5.5,5.1 134 1 0 7.7,-8.0zM860.9,1405.5a6.9,6.7 111 1 0 -4.8,12.9a6.9,6.7 111 1 0 4.8,-12.9zM863.7,1569.8a4.6,4.2 126 1 0 -5.3,7.4a4.6,4.2 126 1 0 5.3,-7.4zM896.4,1532.1a5.5,5.4 51 1 0 6.9,8.4a5.5,5.4 51 1 0 -6.9,-8.4zM867.6,1415.2a6.1,5.5 176 1 0 -12.2,0.8a6.1,5.5 176 1 0 12.2,-0.8zM815.2,1436.1a5.2,5.1 38 1 0 8.3,6.4a5.2,5.1 38 1 0 -8.3,-6.4zM860.2,1599.3a5.6,4.6 58 1 0 5.9,9.4a5.6,4.6 58 1 0 -5.9,-9.4zM834.4,1566.8a4.5,4.2 130 1 0 -5.8,6.9a4.5,4.2 130 1 0 5.8,-6.9zM819.6,1480.5a5.9,4.7 106 1 0 -3.3,11.4a5.9,4.7 106 1 0 3.3,-11.4zM767.8,1599.7a5.6,4.5 23 1 0 10.3,4.4a5.6,4.5 23 1 0 -10.3,-4.4zM968.8,1484.3a5.2,3.9 98 1 0 -1.5,10.3a5.2,3.9 98 1 0 1.5,-10.3zM978.0,1592.5a6.2,5.4 138 1 0 -9.2,8.4a6.2,5.4 138 1 0 9.2,-8.4zM790.4,1404.4a6.8,4.8 8 1 0 13.4,1.8a6.8,4.8 8 1 0 -13.4,-1.8zM866.2,1403.9a6.9,5.2 137 1 0 -10.1,9.4a6.9,5.2 137 1 0 10.1,-9.4zM941.5,1485.9a4.9,3.9 96 1 0 -1.0,9.7a4.9,3.9 96 1 0 1.0,-9.7zM881.3,1500.7a6.7,5.6 68 1 0 4.9,12.5a6.7,5.6 68 1 0 -4.9,-12.5zM861.2,1565.7a6.3,6.0 64 1 0 5.6,11.4a6.3,6.0 64 1 0 -5.6,-11.4zM910.7,1413.1a5.6,4.5 30 1 0 9.6,5.6a5.6,4.5 30 1 0 -9.6,-5.6z" fill="#b07a5c" filter="url(#bb15)"/>
<filter id="bb16" x="-5%" y="-5%" width="110%" height="110%"><feGaussianBlur stdDeviation="0.8"/></filter>
<path d="M937.5,1464.9a5.7,5.0 156 1 0 -10.4,4.6a5.7,5.0 156 1 0 10.4,-4.6zM804.5,1471.4a5.9,5.1 111 1 0 -4.1,10.9a5.9,5.1 111 1 0 4.1,-10.9zM956.7,1532.4a7.3,4.9 106 1 0 -4.0,14.0a7.3,4.9 106 1 0 4.0,-14.0zM865.7,1410.5a6.6,4.5 15 1 0 12.9,3.4a6.6,4.5 15 1 0 -12.9,-3.4zM885.8,1596.7a7.8,6.1 19 1 0 14.8,5.0a7.8,6.1 19 1 0 -14.8,-5.0zM928.2,1595.4a7.2,5.8 30 1 0 12.5,7.2a7.2,5.8 30 1 0 -12.5,-7.2zM930.7,1438.6a6.1,4.0 35 1 0 10.0,6.9a6.1,4.0 35 1 0 -10.0,-6.9zM972.2,1588.2a7.5,5.3 180 1 0 -15.0,0.0a7.5,5.3 180 1 0 15.0,-0.0zM885.9,1518.5a5.4,4.3 113 1 0 -4.3,10.0a5.4,4.3 113 1 0 4.3,-10.0zM762.2,1537.5a7.4,5.9 1 1 0 14.9,0.4a7.4,5.9 1 1 0 -14.9,-0.4zM962.7,1498.3a7.0,5.5 138 1 0 -10.5,9.3a7.0,5.5 138 1 0 10.5,-9.3zM791.5,1442.5a7.2,6.6 12 1 0 14.1,3.0a7.2,6.6 12 1 0 -14.1,-3.0zM967.6,1455.5a7.1,6.5 37 1 0 11.3,8.5a7.1,6.5 37 1 0 -11.3,-8.5zM806.3,1466.7a5.9,4.6 91 1 0 -0.1,11.8a5.9,4.6 91 1 0 0.1,-11.8zM919.5,1521.9a6.4,4.5 24 1 0 11.6,5.2a6.4,4.5 24 1 0 -11.6,-5.2zM793.2,1589.9a7.4,6.3 48 1 0 10.0,11.0a7.4,6.3 48 1 0 -10.0,-11.0zM887.3,1522.0a7.5,6.3 102 1 0 -3.1,14.6a7.5,6.3 102 1 0 3.1,-14.6zM821.9,1529.3a5.9,5.1 126 1 0 -7.0,9.6a5.9,5.1 126 1 0 7.0,-9.6zM936.2,1596.9a6.8,4.6 119 1 0 -6.6,12.0a6.8,4.6 119 1 0 6.6,-12.0zM930.5,1479.3a7.1,5.4 34 1 0 11.8,7.9a7.1,5.4 34 1 0 -11.8,-7.9zM925.2,1475.2a6.8,5.3 122 1 0 -7.2,11.6a6.8,5.3 122 1 0 7.2,-11.6zM818.8,1439.5a7.3,5.4 34 1 0 12.2,8.2a7.3,5.4 34 1 0 -12.2,-8.2zM825.5,1469.0a6.5,5.3 179 1 0 -13.1,0.2a6.5,5.3 179 1 0 13.1,-0.2zM777.7,1448.0a6.3,5.6 29 1 0 11.0,6.2a6.3,5.6 29 1 0 -11.0,-6.2zM873.7,1601.5a7.6,6.5 20 1 0 14.3,5.2a7.6,6.5 20 1 0 -14.3,-5.2zM788.7,1593.2a5.6,4.5 106 1 0 -3.1,10.7a5.6,4.5 106 1 0 3.1,-10.7zM793.9,1482.8a6.5,4.9 24 1 0 11.9,5.2a6.5,4.9 24 1 0 -11.9,-5.2zM972.1,1396.4a7.2,5.2 104 1 0 -3.5,13.9a7.2,5.2 104 1 0 3.5,-13.9zM832.0,1572.4a6.9,5.0 155 1 0 -12.6,5.9a6.9,5.0 155 1 0 12.6,-5.9zM808.7,1587.5a6.4,5.4 72 1 0 4.0,12.1a6.4,5.4 72 1 0 -4.0,-12.1zM923.1,1428.8a6.6,5.9 31 1 0 11.4,6.8a6.6,5.9 31 1 0 -11.4,-6.8zM966.6,1476.1a6.2,4.2 25 1 0 11.3,5.3a6.2,4.2 25 1 0 -11.3,-5.3zM920.2,1413.1a6.4,4.5 56 1 0 7.2,10.6a6.4,4.5 56 1 0 -7.2,-10.6zM793.3,1521.8a6.9,5.3 112 1 0 -5.2,12.7a6.9,5.3 112 1 0 5.2,-12.7zM789.4,1549.0a6.4,5.8 177 1 0 -12.8,0.6a6.4,5.8 177 1 0 12.8,-0.6zM898.1,1592.2a5.4,4.3 61 1 0 5.2,9.5a5.4,4.3 61 1 0 -5.2,-9.5zM870.3,1492.1a6.2,5.5 101 1 0 -2.5,12.2a6.2,5.5 101 1 0 2.5,-12.2zM904.4,1517.8a5.7,4.6 30 1 0 9.8,5.8a5.7,4.6 30 1 0 -9.8,-5.8zM892.7,1585.1a7.4,6.0 176 1 0 -14.8,1.0a7.4,6.0 176 1 0 14.8,-1.0zM835.3,1469.9a7.2,4.8 29 1 0 12.6,7.0a7.2,4.8 29 1 0 -12.6,-7.0zM817.7,1590.2a6.9,5.7 55 1 0 7.9,11.3a6.9,5.7 55 1 0 -7.9,-11.3zM904.5,1585.1a5.7,4.1 74 1 0 3.1,11.1a5.7,4.1 74 1 0 -3.1,-11.1zM830.3,1455.5a7.6,6.3 60 1 0 7.6,13.2a7.6,6.3 60 1 0 -7.6,-13.2zM776.6,1508.2a7.0,4.6 139 1 0 -10.6,9.2a7.0,4.6 139 1 0 10.6,-9.2zM849.6,1558.8a6.6,6.0 23 1 0 12.1,5.2a6.6,6.0 23 1 0 -12.1,-5.2zM943.9,1500.4a5.8,4.5 19 1 0 11.0,3.7a5.8,4.5 19 1 0 -11.0,-3.7zM794.7,1403.5a6.8,5.1 154 1 0 -12.3,5.9a6.8,5.1 154 1 0 12.3,-5.9zM807.7,1441.8a6.7,4.5 96 1 0 -1.5,13.3a6.7,4.5 96 1 0 1.5,-13.3zM822.9,1586.9a7.0,5.1 147 1 0 -11.7,7.6a7.0,5.1 147 1 0 11.7,-7.6zM920.6,1526.7a7.3,5.5 20 1 0 13.6,5.1a7.3,5.5 20 1 0 -13.6,-5.1zM800.7,1556.5a6.7,5.0 179 1 0 -13.3,0.3a6.7,5.0 179 1 0 13.3,-0.3zM878.7,1442.7a6.1,5.0 57 1 0 6.6,10.3a6.1,5.0 57 1 0 -6.6,-10.3zM967.8,1551.2a5.4,3.6 79 1 0 2.0,10.7a5.4,3.6 79 1 0 -2.0,-10.7zM825.3,1478.3a7.6,5.3 177 1 0 -15.2,0.7a7.6,5.3 177 1 0 15.2,-0.7zM943.8,1585.8a6.5,5.1 152 1 0 -11.4,6.2a6.5,5.1 152 1 0 11.4,-6.2zM867.6,1400.5a7.7,5.0 109 1 0 -5.1,14.6a7.7,5.0 109 1 0 5.1,-14.6zM941.1,1469.8a6.6,4.4 78 1 0 2.9,12.9a6.6,4.4 78 1 0 -2.9,-12.9zM954.5,1474.6a7.5,6.5 109 1 0 -4.8,14.2a7.5,6.5 109 1 0 4.8,-14.2zM898.4,1444.7a7.2,4.8 68 1 0 5.4,13.3a7.2,4.8 68 1 0 -5.4,-13.3zM825.8,1439.1a5.6,3.8 88 1 0 0.3,11.1a5.6,3.8 88 1 0 -0.3,-11.1zM844.4,1504.6a6.2,5.5 79 1 0 2.3,12.2a6.2,5.5 79 1 0 -2.3,-12.2zM784.8,1592.5a7.0,5.9 130 1 0 -9.1,10.7a7.0,5.9 130 1 0 9.1,-10.7zM896.5,1412.9a5.5,4.9 13 1 0 10.7,2.4a5.5,4.9 13 1 0 -10.7,-2.4zM807.9,1578.7a6.9,4.7 7 1 0 13.7,1.7a6.9,4.7 7 1 0 -13.7,-1.7zM868.2,1533.2a7.4,6.0 104 1 0 -3.5,14.4a7.4,6.0 104 1 0 3.5,-14.4zM828.2,1406.8a7.2,5.5 64 1 0 6.4,13.0a7.2,5.5 64 1 0 -6.4,-13.0zM893.2,1403.5a6.5,5.3 98 1 0 -1.8,12.8a6.5,5.3 98 1 0 1.8,-12.8zM786.8,1582.9a7.7,5.3 74 1 0 4.3,14.8a7.7,5.3 74 1 0 -4.3,-14.8zM892.7,1486.6a7.6,6.9 43 1 0 11.0,10.5a7.6,6.9 43 1 0 -11.0,-10.5zM830.1,1583.6a6.1,5.0 151 1 0 -10.8,5.9a6.1,5.0 151 1 0 10.8,-5.9zM787.6,1508.4a7.2,5.0 109 1 0 -4.6,13.7a7.2,5.0 109 1 0 4.6,-13.7zM760.0,1560.1a6.9,5.0 50 1 0 9.0,10.5a6.9,5.0 50 1 0 -9.0,-10.5zM815.4,1496.0a7.1,6.0 131 1 0 -9.3,10.7a7.1,6.0 131 1 0 9.3,-10.7zM797.0,1529.9a7.2,5.0 101 1 0 -2.8,14.2a7.2,5.0 101 1 0 2.8,-14.2zM829.0,1585.4a6.0,4.3 53 1 0 7.2,9.4a6.0,4.3 53 1 0 -7.2,-9.4zM800.2,1419.4a6.6,5.2 94 1 0 -1.0,13.3a6.6,5.2 94 1 0 1.0,-13.3zM942.7,1499.6a6.1,4.3 49 1 0 7.9,9.1a6.1,4.3 49 1 0 -7.9,-9.1zM791.5,1442.0a5.7,4.3 146 1 0 -9.4,6.2a5.7,4.3 146 1 0 9.4,-6.2zM902.3,1397.1a7.8,5.3 162 1 0 -14.8,4.7a7.8,5.3 162 1 0 14.8,-4.7zM842.5,1477.1a6.8,5.0 10 1 0 13.4,2.5a6.8,5.0 10 1 0 -13.4,-2.5zM775.9,1446.6a7.5,6.7 5 1 0 14.9,1.3a7.5,6.7 5 1 0 -14.9,-1.3zM852.9,1547.0a7.4,6.6 47 1 0 10.0,10.8a7.4,6.6 47 1 0 -10.0,-10.8zM847.4,1414.6a5.6,4.4 87 1 0 0.5,11.2a5.6,4.4 87 1 0 -0.5,-11.2zM852.2,1594.9a7.7,6.8 82 1 0 2.1,15.2a7.7,6.8 82 1 0 -2.1,-15.2zM834.3,1478.9a7.6,6.9 140 1 0 -11.6,9.8a7.6,6.9 140 1 0 11.6,-9.8zM880.0,1473.7a7.0,5.3 90 1 0 -0.1,14.0a7.0,5.3 90 1 0 0.1,-14.0zM795.9,1525.7a5.7,4.0 108 1 0 -3.5,10.9a5.7,4.0 108 1 0 3.5,-10.9zM873.8,1528.9a7.7,5.8 22 1 0 14.3,5.6a7.7,5.8 22 1 0 -14.3,-5.6zM909.9,1594.1a7.2,5.6 121 1 0 -7.5,12.3a7.2,5.6 121 1 0 7.5,-12.3zM933.3,1490.8a5.5,3.7 142 1 0 -8.7,6.8a5.5,3.7 142 1 0 8.7,-6.8zM934.6,1495.3a6.9,4.9 62 1 0 6.5,12.2a6.9,4.9 62 1 0 -6.5,-12.2zM852.3,1573.3a6.6,4.7 157 1 0 -12.1,5.2a6.6,4.7 157 1 0 12.1,-5.2zM784.9,1580.6a7.5,6.8 41 1 0 11.3,9.8a7.5,6.8 41 1 0 -11.3,-9.8zM799.0,1434.9a7.5,5.2 2 1 0 15.0,0.5a7.5,5.2 2 1 0 -15.0,-0.5zM875.0,1563.5a5.7,4.7 129 1 0 -7.2,8.8a5.7,4.7 129 1 0 7.2,-8.8zM780.8,1517.1a7.0,5.8 53 1 0 8.4,11.1a7.0,5.8 53 1 0 -8.4,-11.1zM944.2,1540.8a7.0,5.2 171 1 0 -13.9,2.3a7.0,5.2 171 1 0 13.9,-2.3zM798.8,1542.6a6.8,5.8 35 1 0 11.1,7.9a6.8,5.8 35 1 0 -11.1,-7.9zM774.7,1494.4a6.1,4.9 128 1 0 -7.4,9.7a6.1,4.9 128 1 0 7.4,-9.7zM930.4,1595.6a6.4,4.2 169 1 0 -12.5,2.5a6.4,4.2 169 1 0 12.5,-2.5zM939.2,1441.0a7.5,6.6 139 1 0 -11.3,9.9a7.5,6.6 139 1 0 11.3,-9.9zM853.0,1537.6a7.2,5.0 53 1 0 8.6,11.6a7.2,5.0 53 1 0 -8.6,-11.6zM846.2,1421.5a7.1,5.7 105 1 0 -3.6,13.7a7.1,5.7 105 1 0 3.6,-13.7zM806.0,1583.8a5.7,3.8 69 1 0 4.0,10.6a5.7,3.8 69 1 0 -4.0,-10.6zM840.8,1402.9a6.1,4.8 84 1 0 1.2,12.1a6.1,4.8 84 1 0 -1.2,-12.1zM813.1,1416.4a7.1,6.5 23 1 0 13.1,5.6a7.1,6.5 23 1 0 -13.1,-5.6zM950.1,1464.2a6.8,4.5 127 1 0 -8.2,10.8a6.8,4.5 127 1 0 8.2,-10.8zM904.5,1450.7a6.2,4.8 7 1 0 12.3,1.5a6.2,4.8 7 1 0 -12.3,-1.5zM959.4,1407.3a6.8,4.9 45 1 0 9.6,9.6a6.8,4.9 45 1 0 -9.6,-9.6zM941.8,1559.5a6.6,4.5 68 1 0 5.0,12.3a6.6,4.5 68 1 0 -5.0,-12.3zM839.6,1568.7a5.8,5.1 25 1 0 10.6,4.9a5.8,5.1 25 1 0 -10.6,-4.9zM841.3,1413.1a5.4,4.7 140 1 0 -8.3,7.0a5.4,4.7 140 1 0 8.3,-7.0zM927.5,1458.0a6.1,4.1 1 1 0 12.3,0.3a6.1,4.1 1 1 0 -12.3,-0.3zM938.3,1589.5a6.7,5.3 47 1 0 9.1,9.9a6.7,5.3 47 1 0 -9.1,-9.9zM792.7,1595.6a7.5,6.3 144 1 0 -12.1,8.7a7.5,6.3 144 1 0 12.1,-8.7zM777.8,1394.6a7.2,5.7 78 1 0 3.0,14.1a7.2,5.7 78 1 0 -3.0,-14.1zM880.3,1533.4a6.0,4.8 145 1 0 -9.8,7.0a6.0,4.8 145 1 0 9.8,-7.0zM768.8,1513.3a6.4,5.2 82 1 0 1.8,12.7a6.4,5.2 82 1 0 -1.8,-12.7zM798.1,1533.0a5.8,4.5 11 1 0 11.4,2.1a5.8,4.5 11 1 0 -11.4,-2.1zM955.6,1473.6a7.5,6.3 30 1 0 13.0,7.5a7.5,6.3 30 1 0 -13.0,-7.5z" fill="#55220f" filter="url(#bb16)"/>
<filter id="bb17" x="-5%" y="-5%" width="110%" height="110%"><feGaussianBlur stdDeviation="0.8"/></filter>
<path d="M965.0,1520.7a3.6,3.4 84 1 0 0.8,7.2a3.6,3.4 84 1 0 -0.8,-7.2zM936.7,1487.0a4.4,3.6 76 1 0 2.1,8.6a4.4,3.6 76 1 0 -2.1,-8.6zM926.6,1550.9a4.5,3.4 89 1 0 0.1,9.0a4.5,3.4 89 1 0 -0.1,-9.0zM936.3,1489.3a3.3,3.1 1 1 0 6.7,0.2a3.3,3.1 1 1 0 -6.7,-0.2zM809.9,1524.7a4.0,2.9 26 1 0 7.1,3.5a4.0,2.9 26 1 0 -7.1,-3.5zM811.6,1399.0a5.3,4.1 36 1 0 8.6,6.3a5.3,4.1 36 1 0 -8.6,-6.3zM893.9,1447.7a3.8,3.8 131 1 0 -5.1,5.8a3.8,3.8 131 1 0 5.1,-5.8zM870.9,1443.3a3.9,3.1 94 1 0 -0.5,7.7a3.9,3.1 94 1 0 0.5,-7.7zM886.0,1473.8a4.7,3.5 149 1 0 -8.1,4.8a4.7,3.5 149 1 0 8.1,-4.8zM785.6,1442.0a4.3,3.0 165 1 0 -8.4,2.3a4.3,3.0 165 1 0 8.4,-2.3zM928.9,1552.4a4.6,4.2 9 1 0 9.1,1.4a4.6,4.2 9 1 0 -9.1,-1.4zM838.7,1532.9a4.3,3.1 108 1 0 -2.7,8.2a4.3,3.1 108 1 0 2.7,-8.2zM884.8,1446.5a5.0,4.1 166 1 0 -9.7,2.4a5.0,4.1 166 1 0 9.7,-2.4zM786.8,1461.7a5.1,4.0 122 1 0 -5.3,8.7a5.1,4.0 122 1 0 5.3,-8.7zM877.3,1561.6a3.9,3.9 14 1 0 7.6,1.9a3.9,3.9 14 1 0 -7.6,-1.9zM967.3,1402.8a4.3,3.8 54 1 0 5.1,7.0a4.3,3.8 54 1 0 -5.1,-7.0zM774.0,1458.4a3.9,3.6 102 1 0 -1.6,7.6a3.9,3.6 102 1 0 1.6,-7.6zM832.2,1410.8a5.1,3.5 102 1 0 -2.1,9.9a5.1,3.5 102 1 0 2.1,-9.9zM826.3,1406.1a5.0,3.9 63 1 0 4.4,8.9a5.0,3.9 63 1 0 -4.4,-8.9zM925.3,1595.4a4.2,3.0 40 1 0 6.5,5.4a4.2,3.0 40 1 0 -6.5,-5.4zM939.3,1418.8a4.5,3.4 55 1 0 5.2,7.4a4.5,3.4 55 1 0 -5.2,-7.4zM878.7,1453.4a4.7,3.3 175 1 0 -9.3,0.8a4.7,3.3 175 1 0 9.3,-0.8zM911.6,1415.4a5.2,4.7 98 1 0 -1.5,10.4a5.2,4.7 98 1 0 1.5,-10.4zM800.1,1438.0a3.9,3.6 120 1 0 -3.9,6.8a3.9,3.6 120 1 0 3.9,-6.8zM775.5,1430.3a4.0,3.1 146 1 0 -6.7,4.5a4.0,3.1 146 1 0 6.7,-4.5zM957.9,1504.5a3.4,2.6 89 1 0 0.1,6.7a3.4,2.6 89 1 0 -0.1,-6.7zM919.2,1505.7a5.0,4.6 39 1 0 7.8,6.4a5.0,4.6 39 1 0 -7.8,-6.4zM894.7,1555.9a4.1,3.5 97 1 0 -0.9,8.2a4.1,3.5 97 1 0 0.9,-8.2zM841.8,1419.3a5.2,5.0 48 1 0 7.0,7.7a5.2,5.0 48 1 0 -7.0,-7.7zM795.0,1581.6a3.6,2.8 104 1 0 -1.7,6.9a3.6,2.8 104 1 0 1.7,-6.9zM806.4,1437.6a4.8,3.6 109 1 0 -3.1,9.1a4.8,3.6 109 1 0 3.1,-9.1zM809.4,1601.6a5.4,4.8 163 1 0 -10.3,3.2a5.4,4.8 163 1 0 10.3,-3.2zM940.0,1434.0a3.8,3.0 83 1 0 0.9,7.5a3.8,3.0 83 1 0 -0.9,-7.5zM833.1,1560.4a3.5,2.9 38 1 0 5.5,4.4a3.5,2.9 38 1 0 -5.5,-4.4zM923.2,1421.0a5.1,5.0 75 1 0 2.6,9.8a5.1,5.0 75 1 0 -2.6,-9.8zM852.9,1480.1a4.1,3.9 69 1 0 2.9,7.6a4.1,3.9 69 1 0 -2.9,-7.6zM940.4,1517.8a3.3,2.6 31 1 0 5.7,3.5a3.3,2.6 31 1 0 -5.7,-3.5zM891.7,1565.2a5.2,3.7 127 1 0 -6.2,8.4a5.2,3.7 127 1 0 6.2,-8.4zM898.7,1411.0a5.0,3.7 65 1 0 4.2,9.1a5.0,3.7 65 1 0 -4.2,-9.1zM942.3,1406.4a3.4,3.1 150 1 0 -5.9,3.4a3.4,3.1 150 1 0 5.9,-3.4zM778.3,1573.2a4.4,3.3 67 1 0 3.4,8.0a4.4,3.3 67 1 0 -3.4,-8.0zM909.2,1518.3a3.3,3.2 54 1 0 4.0,5.4a3.3,3.2 54 1 0 -4.0,-5.4z" fill="#7a3c1c" filter="url(#bb17)" opacity="0.8"/>
</g>
<rect x="768.3" y="1399.9" width="201.4" height="200.3" fill="none" stroke="#000" stroke-width="2.2"/>
<clipPath id="cf6"><rect x="984" y="1400.4" width="197.6" height="199.8"/></clipPath>
<g clip-path="url(#cf6)">
<rect x="984" y="1400.4" width="197.6" height="199.8" fill="#ededf2" />
<filter id="nz8" x="984" y="1400.4" width="197.6" height="199.8" filterUnits="userSpaceOnUse" color-interpolation-filters="sRGB"><feTurbulence type="fractalNoise" baseFrequency="0.05" numOctaves="2" seed="42" result="n"/><feColorMatrix in="n" type="matrix" values="0 0 0 0 0 0 0 0 0 0 0 0 0 0 0 1 0 0 0 0" result="a"/><feComponentTransfer in="a" result="m"><feFuncA type="linear" slope="8" intercept="-4.240"/></feComponentTransfer><feFlood flood-color="#d9dde8" flood-opacity="1"/><feComposite in2="m" operator="in"/></filter>
<rect x="984" y="1400.4" width="197.6" height="199.8" fill="#000" filter="url(#nz8)"/>
<filter id="bb18" x="-5%" y="-5%" width="110%" height="110%"><feGaussianBlur stdDeviation="0.9"/></filter>
<path d="M1120.6,1582.7a5.6,5.3 10 1 0 11.1,2.0a5.6,5.3 10 1 0 -11.1,-2.0zM1144.9,1557.9a5.7,4.6 81 1 0 1.8,11.3a5.7,4.6 81 1 0 -1.8,-11.3zM1033.2,1496.0a4.1,3.5 13 1 0 8.0,1.9a4.1,3.5 13 1 0 -8.0,-1.9zM1054.8,1562.5a4.5,3.2 133 1 0 -6.1,6.6a4.5,3.2 133 1 0 6.1,-6.6zM1002.1,1429.9a4.5,3.9 110 1 0 -3.0,8.5a4.5,3.9 110 1 0 3.0,-8.5zM1079.4,1482.0a3.8,2.9 44 1 0 5.5,5.3a3.8,2.9 44 1 0 -5.5,-5.3zM1042.6,1580.2a3.8,3.0 24 1 0 7.0,3.1a3.8,3.0 24 1 0 -7.0,-3.1zM1061.5,1528.0a4.7,3.8 120 1 0 -4.7,8.1a4.7,3.8 120 1 0 4.7,-8.1zM1159.7,1528.3a4.8,4.5 97 1 0 -1.1,9.6a4.8,4.5 97 1 0 1.1,-9.6zM996.9,1412.1a5.1,4.4 131 1 0 -6.7,7.7a5.1,4.4 131 1 0 6.7,-7.7zM1087.9,1565.6a5.4,5.0 21 1 0 10.1,3.8a5.4,5.0 21 1 0 -10.1,-3.8zM1029.7,1453.7a4.9,3.6 132 1 0 -6.7,7.3a4.9,3.6 132 1 0 6.7,-7.3zM1042.7,1572.1a3.7,3.0 83 1 0 0.9,7.4a3.7,3.0 83 1 0 -0.9,-7.4zM1072.4,1507.8a4.1,2.9 178 1 0 -8.3,0.3a4.1,2.9 178 1 0 8.3,-0.3zM1075.9,1453.6a4.9,3.4 28 1 0 8.6,4.6a4.9,3.4 28 1 0 -8.6,-4.6zM1138.6,1399.0a4.8,4.2 110 1 0 -3.3,9.0a4.8,4.2 110 1 0 3.3,-9.0zM1062.4,1404.1a4.0,3.6 43 1 0 5.8,5.4a4.0,3.6 43 1 0 -5.8,-5.4zM1104.0,1578.3a3.6,3.5 52 1 0 4.5,5.8a3.6,3.5 52 1 0 -4.5,-5.8zM1042.4,1557.1a5.4,4.3 174 1 0 -10.7,1.1a5.4,4.3 174 1 0 10.7,-1.1zM1087.9,1454.6a3.7,3.3 80 1 0 1.3,7.3a3.7,3.3 80 1 0 -1.3,-7.3zM984.9,1516.2a4.9,4.2 81 1 0 1.6,9.6a4.9,4.2 81 1 0 -1.6,-9.6zM1026.5,1440.9a4.0,3.8 176 1 0 -8.0,0.6a4.0,3.8 176 1 0 8.0,-0.6zM1110.8,1556.4a4.3,3.9 163 1 0 -8.2,2.4a4.3,3.9 163 1 0 8.2,-2.4zM994.6,1601.4a3.7,3.1 164 1 0 -7.2,2.0a3.7,3.1 164 1 0 7.2,-2.0zM1047.0,1427.5a4.9,4.6 40 1 0 7.5,6.3a4.9,4.6 40 1 0 -7.5,-6.3zM1078.5,1434.5a5.6,5.5 25 1 0 10.1,4.6a5.6,5.5 25 1 0 -10.1,-4.6zM1011.3,1565.4a5.4,4.8 6 1 0 10.8,1.2a5.4,4.8 6 1 0 -10.8,-1.2zM999.3,1546.7a4.4,3.9 10 1 0 8.7,1.5a4.4,3.9 10 1 0 -8.7,-1.5zM996.4,1496.7a4.3,3.5 18 1 0 8.2,2.6a4.3,3.5 18 1 0 -8.2,-2.6zM1001.7,1553.7a4.6,3.9 165 1 0 -8.9,2.4a4.6,3.9 165 1 0 8.9,-2.4zM1074.2,1429.0a4.6,4.0 63 1 0 4.3,8.2a4.6,4.0 63 1 0 -4.3,-8.2zM1088.2,1402.1a5.5,5.1 151 1 0 -9.7,5.3a5.5,5.1 151 1 0 9.7,-5.3zM1137.5,1441.9a4.9,3.5 176 1 0 -9.7,0.7a4.9,3.5 176 1 0 9.7,-0.7zM1049.6,1487.7a4.3,3.3 73 1 0 2.6,8.2a4.3,3.3 73 1 0 -2.6,-8.2zM1119.2,1574.1a3.8,3.4 169 1 0 -7.5,1.5a3.8,3.4 169 1 0 7.5,-1.5zM1025.0,1392.8a4.8,3.6 124 1 0 -5.4,8.0a4.8,3.6 124 1 0 5.4,-8.0zM1103.6,1566.9a3.7,2.8 42 1 0 5.4,4.9a3.7,2.8 42 1 0 -5.4,-4.9zM1053.0,1529.1a5.7,4.3 157 1 0 -10.6,4.4a5.7,4.3 157 1 0 10.6,-4.4zM1032.9,1584.7a4.8,3.7 129 1 0 -6.0,7.4a4.8,3.7 129 1 0 6.0,-7.4zM1008.7,1462.0a4.6,3.5 14 1 0 9.0,2.3a4.6,3.5 14 1 0 -9.0,-2.3zM1086.2,1564.1a5.3,3.8 79 1 0 1.9,10.4a5.3,3.8 79 1 0 -1.9,-10.4zM1047.1,1444.5a5.4,4.4 178 1 0 -10.9,0.4a5.4,4.4 178 1 0 10.9,-0.4zM1026.6,1566.5a4.5,4.5 143 1 0 -7.1,5.4a4.5,4.5 143 1 0 7.1,-5.4zM1101.7,1480.4a3.7,3.6 75 1 0 1.9,7.2a3.7,3.6 75 1 0 -1.9,-7.2zM1088.9,1424.6a5.5,5.0 118 1 0 -5.3,9.7a5.5,5.0 118 1 0 5.3,-9.7z" fill="#b07a5c" filter="url(#bb18)"/>
<filter id="bb19" x="-5%" y="-5%" width="110%" height="110%"><feGaussianBlur stdDeviation="0.8"/></filter>
<path d="M1100.9,1396.6a4.6,3.7 151 1 0 -8.0,4.5a4.6,3.7 151 1 0 8.0,-4.5zM1023.5,1408.6a4.9,4.1 161 1 0 -9.3,3.1a4.9,4.1 161 1 0 9.3,-3.1zM997.9,1556.6a5.5,4.2 147 1 0 -9.2,6.0a5.5,4.2 147 1 0 9.2,-6.0zM1088.0,1505.2a4.5,3.3 74 1 0 2.5,8.6a4.5,3.3 74 1 0 -2.5,-8.6zM997.8,1539.7a5.4,4.8 153 1 0 -9.6,4.9a5.4,4.8 153 1 0 9.6,-4.9zM1066.7,1495.4a4.5,3.6 9 1 0 8.8,1.3a4.5,3.6 9 1 0 -8.8,-1.3zM1126.2,1419.1a5.9,4.1 135 1 0 -8.3,8.4a5.9,4.1 135 1 0 8.3,-8.4zM987.3,1495.1a4.9,3.6 152 1 0 -8.6,4.7a4.9,3.6 152 1 0 8.6,-4.7zM1025.1,1434.1a5.2,4.0 95 1 0 -0.9,10.4a5.2,4.0 95 1 0 0.9,-10.4zM1098.1,1563.4a4.7,3.5 144 1 0 -7.6,5.5a4.7,3.5 144 1 0 7.6,-5.5zM1077.1,1469.3a4.6,3.3 168 1 0 -8.9,1.9a4.6,3.3 168 1 0 8.9,-1.9zM1075.8,1532.5a4.6,4.2 14 1 0 8.9,2.3a4.6,4.2 14 1 0 -8.9,-2.3zM1081.2,1434.3a6.4,5.2 129 1 0 -8.1,9.9a6.4,5.2 129 1 0 8.1,-9.9zM976.1,1585.5a5.6,4.2 38 1 0 8.8,6.8a5.6,4.2 38 1 0 -8.8,-6.8zM1032.3,1549.0a5.9,5.4 102 1 0 -2.4,11.6a5.9,5.4 102 1 0 2.4,-11.6zM1039.5,1505.2a4.5,3.0 97 1 0 -1.1,8.9a4.5,3.0 97 1 0 1.1,-8.9zM1105.4,1499.4a5.6,4.7 159 1 0 -10.5,4.1a5.6,4.7 159 1 0 10.5,-4.1zM1027.4,1446.7a6.4,4.9 121 1 0 -6.5,11.0a6.4,4.9 121 1 0 6.5,-11.0zM1025.4,1558.5a4.8,3.6 169 1 0 -9.4,1.9a4.8,3.6 169 1 0 9.4,-1.9zM1026.2,1560.3a6.0,4.6 174 1 0 -11.8,1.3a6.0,4.6 174 1 0 11.8,-1.3zM1147.9,1524.9a6.2,5.7 95 1 0 -1.1,12.5a6.2,5.7 95 1 0 1.1,-12.5zM995.3,1469.2a6.2,5.6 93 1 0 -0.6,12.3a6.2,5.6 93 1 0 0.6,-12.3zM1065.1,1530.0a5.7,4.7 70 1 0 3.9,10.8a5.7,4.7 70 1 0 -3.9,-10.8zM1139.7,1457.2a4.7,3.8 7 1 0 9.3,1.1a4.7,3.8 7 1 0 -9.3,-1.1zM1115.7,1427.4a5.1,4.5 163 1 0 -9.7,2.9a5.1,4.5 163 1 0 9.7,-2.9zM1011.8,1490.4a5.3,4.1 96 1 0 -1.1,10.5a5.3,4.1 96 1 0 1.1,-10.5zM985.9,1555.2a5.9,4.1 71 1 0 4.0,11.2a5.9,4.1 71 1 0 -4.0,-11.2zM986.5,1552.5a4.8,4.1 111 1 0 -3.5,9.1a4.8,4.1 111 1 0 3.5,-9.1zM1026.5,1450.5a4.7,4.2 108 1 0 -2.9,9.0a4.7,4.2 108 1 0 2.9,-9.0zM1044.7,1577.5a6.1,5.4 108 1 0 -3.8,11.6a6.1,5.4 108 1 0 3.8,-11.6zM1045.3,1551.9a5.3,4.5 121 1 0 -5.4,9.1a5.3,4.5 121 1 0 5.4,-9.1zM1077.9,1578.4a5.9,4.8 76 1 0 2.9,11.5a5.9,4.8 76 1 0 -2.9,-11.5zM1001.0,1432.8a4.4,4.0 128 1 0 -5.5,6.9a4.4,4.0 128 1 0 5.5,-6.9zM1012.0,1531.5a5.6,4.1 33 1 0 9.5,6.1a5.6,4.1 33 1 0 -9.5,-6.1zM1028.5,1525.8a4.7,3.5 95 1 0 -0.8,9.4a4.7,3.5 95 1 0 0.8,-9.4zM1114.8,1501.1a6.2,5.5 27 1 0 11.0,5.6a6.2,5.5 27 1 0 -11.0,-5.6zM1046.0,1537.1a6.3,5.0 134 1 0 -8.8,9.1a6.3,5.0 134 1 0 8.8,-9.1zM1010.6,1429.3a5.6,3.9 133 1 0 -7.7,8.1a5.6,3.9 133 1 0 7.7,-8.1zM1146.9,1408.5a5.2,4.7 116 1 0 -4.6,9.3a5.2,4.7 116 1 0 4.6,-9.3zM1130.4,1412.4a5.5,4.8 115 1 0 -4.6,9.9a5.5,4.8 115 1 0 4.6,-9.9zM1005.7,1555.2a4.9,4.4 97 1 0 -1.2,9.7a4.9,4.4 97 1 0 1.2,-9.7zM1077.4,1471.3a5.4,4.0 19 1 0 10.2,3.4a5.4,4.0 19 1 0 -10.2,-3.4zM1007.4,1526.0a5.0,3.7 158 1 0 -9.3,3.8a5.0,3.7 158 1 0 9.3,-3.8zM1005.0,1586.3a5.9,4.0 93 1 0 -0.6,11.7a5.9,4.0 93 1 0 0.6,-11.7zM1092.0,1483.0a5.3,4.5 120 1 0 -5.2,9.2a5.3,4.5 120 1 0 5.2,-9.2zM1106.3,1465.3a5.5,3.8 82 1 0 1.5,10.8a5.5,3.8 82 1 0 -1.5,-10.8zM1048.5,1445.4a5.2,4.1 65 1 0 4.4,9.4a5.2,4.1 65 1 0 -4.4,-9.4zM1014.6,1392.8a4.8,3.2 110 1 0 -3.4,9.1a4.8,3.2 110 1 0 3.4,-9.1zM1054.3,1458.2a6.1,4.6 23 1 0 11.3,4.7a6.1,4.6 23 1 0 -11.3,-4.7zM1159.8,1555.9a5.1,4.3 28 1 0 9.1,4.7a5.1,4.3 28 1 0 -9.1,-4.7zM1071.6,1591.4a4.5,4.1 152 1 0 -8.0,4.3a4.5,4.1 152 1 0 8.0,-4.3zM1039.6,1431.8a5.3,4.2 10 1 0 10.4,1.8a5.3,4.2 10 1 0 -10.4,-1.8zM1045.5,1399.1a5.0,4.0 69 1 0 3.7,9.4a5.0,4.0 69 1 0 -3.7,-9.4zM1030.2,1567.9a6.2,5.6 21 1 0 11.5,4.5a6.2,5.6 21 1 0 -11.5,-4.5zM1020.1,1546.6a5.2,3.7 47 1 0 7.0,7.6a5.2,3.7 47 1 0 -7.0,-7.6zM1033.0,1468.9a5.9,3.8 177 1 0 -11.8,0.6a5.9,3.8 177 1 0 11.8,-0.6zM1048.5,1526.6a5.8,4.6 165 1 0 -11.2,3.0a5.8,4.6 165 1 0 11.2,-3.0zM1056.8,1395.8a5.1,3.6 103 1 0 -2.3,9.9a5.1,3.6 103 1 0 2.3,-9.9zM1047.1,1509.3a4.7,3.9 71 1 0 3.1,9.0a4.7,3.9 71 1 0 -3.1,-9.0zM1146.0,1407.8a5.7,4.9 3 1 0 11.4,0.7a5.7,4.9 3 1 0 -11.4,-0.7zM1012.4,1413.5a5.2,3.9 16 1 0 9.9,2.8a5.2,3.9 16 1 0 -9.9,-2.8zM1072.5,1458.4a4.8,3.9 114 1 0 -3.8,8.7a4.8,3.9 114 1 0 3.8,-8.7zM1110.1,1487.7a6.0,5.4 34 1 0 9.9,6.7a6.0,5.4 34 1 0 -9.9,-6.7zM1070.6,1476.3a5.8,4.8 163 1 0 -11.0,3.4a5.8,4.8 163 1 0 11.0,-3.4zM1157.1,1536.3a4.9,3.8 102 1 0 -2.0,9.7a4.9,3.8 102 1 0 2.0,-9.7zM1047.6,1423.5a4.6,4.1 37 1 0 7.3,5.6a4.6,4.1 37 1 0 -7.3,-5.6zM1066.5,1499.2a5.1,3.4 25 1 0 9.3,4.3a5.1,3.4 25 1 0 -9.3,-4.3zM980.9,1446.4a5.7,4.8 71 1 0 3.8,10.8a5.7,4.8 71 1 0 -3.8,-10.8zM982.7,1484.6a6.1,4.2 25 1 0 11.0,5.2a6.1,4.2 25 1 0 -11.0,-5.2zM1041.6,1527.4a5.4,4.2 0 1 0 10.8,0.1a5.4,4.2 0 1 0 -10.8,-0.1zM1176.4,1541.4a5.5,4.8 30 1 0 9.5,5.4a5.5,4.8 30 1 0 -9.5,-5.4zM1060.2,1417.1a4.7,4.3 24 1 0 8.7,3.8a4.7,4.3 24 1 0 -8.7,-3.8zM1119.6,1595.3a6.2,5.3 81 1 0 1.9,12.3a6.2,5.3 81 1 0 -1.9,-12.3zM1032.3,1593.7a4.6,4.1 47 1 0 6.2,6.7a4.6,4.1 47 1 0 -6.2,-6.7zM1025.1,1466.2a6.4,4.5 110 1 0 -4.3,12.0a6.4,4.5 110 1 0 4.3,-12.0zM1015.8,1577.8a6.0,5.0 163 1 0 -11.5,3.4a6.0,5.0 163 1 0 11.5,-3.4zM1009.4,1503.3a4.6,3.6 35 1 0 7.6,5.3a4.6,3.6 35 1 0 -7.6,-5.3zM1010.0,1556.8a6.1,5.1 25 1 0 11.0,5.1a6.1,5.1 25 1 0 -11.0,-5.1zM1022.8,1530.7a5.9,4.9 155 1 0 -10.6,5.0a5.9,4.9 155 1 0 10.6,-5.0zM1085.7,1543.1a5.9,5.0 172 1 0 -11.7,1.7a5.9,5.0 172 1 0 11.7,-1.7zM1078.7,1404.9a5.7,4.1 62 1 0 5.2,10.1a5.7,4.1 62 1 0 -5.2,-10.1zM1130.3,1400.3a5.2,4.8 148 1 0 -8.8,5.5a5.2,4.8 148 1 0 8.8,-5.5zM1178.4,1594.5a5.0,3.7 164 1 0 -9.7,2.8a5.0,3.7 164 1 0 9.7,-2.8zM1086.5,1478.3a5.2,4.3 93 1 0 -0.6,10.5a5.2,4.3 93 1 0 0.6,-10.5zM1040.9,1568.9a5.4,4.9 30 1 0 9.3,5.4a5.4,4.9 30 1 0 -9.3,-5.4zM1000.0,1430.4a5.5,4.9 160 1 0 -10.3,3.8a5.5,4.9 160 1 0 10.3,-3.8zM1169.2,1480.5a4.6,4.1 33 1 0 7.8,5.0a4.6,4.1 33 1 0 -7.8,-5.0zM989.1,1411.3a5.7,4.6 125 1 0 -6.5,9.2a5.7,4.6 125 1 0 6.5,-9.2zM1011.9,1595.8a4.9,4.0 32 1 0 8.4,5.3a4.9,4.0 32 1 0 -8.4,-5.3zM1047.5,1533.1a5.8,5.1 162 1 0 -11.1,3.7a5.8,5.1 162 1 0 11.1,-3.7zM1072.5,1541.4a6.3,4.1 24 1 0 11.4,5.1a6.3,4.1 24 1 0 -11.4,-5.1zM979.2,1471.5a4.8,3.4 27 1 0 8.6,4.3a4.8,3.4 27 1 0 -8.6,-4.3zM996.7,1597.7a5.1,3.4 27 1 0 9.0,4.7a5.1,3.4 27 1 0 -9.0,-4.7zM1005.0,1451.7a6.1,5.4 125 1 0 -7.0,9.9a6.1,5.4 125 1 0 7.0,-9.9zM1062.2,1536.3a6.3,5.2 138 1 0 -9.3,8.5a6.3,5.2 138 1 0 9.3,-8.5zM1075.9,1595.5a6.3,4.1 176 1 0 -12.7,0.8a6.3,4.1 176 1 0 12.7,-0.8zM1049.5,1498.8a4.6,3.5 98 1 0 -1.3,9.1a4.6,3.5 98 1 0 1.3,-9.1zM1099.9,1480.5a4.5,3.7 14 1 0 8.8,2.2a4.5,3.7 14 1 0 -8.8,-2.2zM1114.2,1514.9a4.5,3.5 89 1 0 0.2,9.0a4.5,3.5 89 1 0 -0.2,-9.0zM1116.0,1493.7a5.3,4.1 27 1 0 9.4,4.8a5.3,4.1 27 1 0 -9.4,-4.8zM1060.0,1581.1a5.3,4.3 91 1 0 -0.2,10.6a5.3,4.3 91 1 0 0.2,-10.6zM1042.5,1572.2a5.5,3.9 63 1 0 5.1,9.7a5.5,3.9 63 1 0 -5.1,-9.7zM1084.2,1458.2a4.8,3.4 75 1 0 2.5,9.4a4.8,3.4 75 1 0 -2.5,-9.4zM1006.7,1497.8a4.8,3.9 124 1 0 -5.4,8.0a4.8,3.9 124 1 0 5.4,-8.0zM1129.6,1480.9a5.1,3.9 24 1 0 9.3,4.2a5.1,3.9 24 1 0 -9.3,-4.2zM1044.5,1559.2a5.4,4.9 61 1 0 5.2,9.4a5.4,4.9 61 1 0 -5.2,-9.4zM980.4,1599.5a6.0,4.6 15 1 0 11.6,3.0a6.0,4.6 15 1 0 -11.6,-3.0zM1089.2,1522.9a5.5,3.8 160 1 0 -10.3,3.8a5.5,3.8 160 1 0 10.3,-3.8zM1059.1,1508.6a5.9,4.5 92 1 0 -0.4,11.8a5.9,4.5 92 1 0 0.4,-11.8zM1093.8,1410.3a6.1,4.4 166 1 0 -11.9,2.9a6.1,4.4 166 1 0 11.9,-2.9zM1073.3,1569.4a6.3,4.4 160 1 0 -11.8,4.4a6.3,4.4 160 1 0 11.8,-4.4zM1034.8,1600.2a4.8,3.5 8 1 0 9.4,1.4a4.8,3.5 8 1 0 -9.4,-1.4zM1069.4,1402.2a5.0,3.6 168 1 0 -9.8,2.1a5.0,3.6 168 1 0 9.8,-2.1zM1024.9,1418.6a6.1,4.0 178 1 0 -12.2,0.4a6.1,4.0 178 1 0 12.2,-0.4zM1027.4,1503.8a4.4,3.4 29 1 0 7.8,4.3a4.4,3.4 29 1 0 -7.8,-4.3zM1036.2,1589.0a5.9,4.0 34 1 0 9.9,6.6a5.9,4.0 34 1 0 -9.9,-6.6zM1026.7,1401.0a4.6,3.2 67 1 0 3.6,8.3a4.6,3.2 67 1 0 -3.6,-8.3zM1014.0,1453.7a4.8,4.0 150 1 0 -8.3,4.8a4.8,4.0 150 1 0 8.3,-4.8zM1064.4,1561.1a5.8,4.7 179 1 0 -11.6,0.2a5.8,4.7 179 1 0 11.6,-0.2zM1151.9,1450.7a6.1,4.9 54 1 0 7.1,9.9a6.1,4.9 54 1 0 -7.1,-9.9z" fill="#3d1a08" filter="url(#bb19)"/>
<filter id="bb20" x="-5%" y="-5%" width="110%" height="110%"><feGaussianBlur stdDeviation="0.8"/></filter>
<path d="M1021.8,1492.0a4.4,3.2 33 1 0 7.5,4.8a4.4,3.2 33 1 0 -7.5,-4.8zM1013.1,1519.7a4.5,4.0 41 1 0 6.8,5.9a4.5,4.0 41 1 0 -6.8,-5.9zM1034.5,1495.8a3.9,2.9 111 1 0 -2.8,7.3a3.9,2.9 111 1 0 2.8,-7.3zM1092.2,1452.6a4.4,3.2 120 1 0 -4.4,7.6a4.4,3.2 120 1 0 4.4,-7.6zM1160.5,1511.4a3.6,3.4 12 1 0 7.0,1.4a3.6,3.4 12 1 0 -7.0,-1.4zM1008.6,1473.6a3.9,3.5 90 1 0 -0.0,7.8a3.9,3.5 90 1 0 0.0,-7.8zM1068.1,1562.8a3.1,2.9 20 1 0 5.9,2.1a3.1,2.9 20 1 0 -5.9,-2.1zM1017.0,1485.0a3.2,3.1 55 1 0 3.7,5.2a3.2,3.1 55 1 0 -3.7,-5.2zM1042.1,1584.7a2.8,2.8 124 1 0 -3.2,4.6a2.8,2.8 124 1 0 3.2,-4.6zM1080.9,1462.8a3.7,2.9 99 1 0 -1.1,7.2a3.7,2.9 99 1 0 1.1,-7.2zM994.5,1570.9a3.0,2.2 160 1 0 -5.6,2.1a3.0,2.2 160 1 0 5.6,-2.1zM1116.1,1532.4a2.8,2.4 14 1 0 5.5,1.4a2.8,2.4 14 1 0 -5.5,-1.4zM1060.0,1476.5a2.8,2.2 64 1 0 2.5,5.1a2.8,2.2 64 1 0 -2.5,-5.1zM1046.8,1516.2a3.9,2.8 57 1 0 4.3,6.5a3.9,2.8 57 1 0 -4.3,-6.5zM1044.2,1526.5a3.1,2.6 166 1 0 -6.1,1.5a3.1,2.6 166 1 0 6.1,-1.5zM1064.8,1435.8a3.0,2.4 28 1 0 5.3,2.8a3.0,2.4 28 1 0 -5.3,-2.8zM983.3,1502.5a4.4,4.2 65 1 0 3.8,8.0a4.4,4.2 65 1 0 -3.8,-8.0zM1018.7,1564.4a3.9,3.0 105 1 0 -2.0,7.6a3.9,3.0 105 1 0 2.0,-7.6zM1018.6,1561.6a3.5,3.2 178 1 0 -6.9,0.2a3.5,3.2 178 1 0 6.9,-0.2zM988.4,1442.6a3.0,3.0 147 1 0 -5.1,3.2a3.0,3.0 147 1 0 5.1,-3.2zM1003.8,1487.8a4.2,3.1 163 1 0 -8.1,2.5a4.2,3.1 163 1 0 8.1,-2.5zM981.1,1482.7a4.4,3.5 45 1 0 6.2,6.3a4.4,3.5 45 1 0 -6.2,-6.3zM1084.4,1584.5a3.4,2.4 40 1 0 5.2,4.3a3.4,2.4 40 1 0 -5.2,-4.3zM1060.6,1572.1a3.9,3.8 5 1 0 7.9,0.6a3.9,3.8 5 1 0 -7.9,-0.6zM1175.8,1501.6a4.3,3.4 159 1 0 -8.1,3.1a4.3,3.4 159 1 0 8.1,-3.1zM993.8,1396.3a4.0,2.8 164 1 0 -7.7,2.2a4.0,2.8 164 1 0 7.7,-2.2zM1037.1,1403.0a3.0,2.4 140 1 0 -4.6,3.9a3.0,2.4 140 1 0 4.6,-3.9zM1086.9,1580.2a3.1,2.3 81 1 0 1.0,6.0a3.1,2.3 81 1 0 -1.0,-6.0zM1102.7,1423.8a3.9,3.5 122 1 0 -4.1,6.6a3.9,3.5 122 1 0 4.1,-6.6zM1000.6,1546.0a3.0,2.5 85 1 0 0.5,6.0a3.0,2.5 85 1 0 -0.5,-6.0zM1010.1,1427.4a2.9,2.1 56 1 0 3.3,4.9a2.9,2.1 56 1 0 -3.3,-4.9zM1072.1,1463.1a3.6,2.7 99 1 0 -1.1,7.1a3.6,2.7 99 1 0 1.1,-7.1zM1036.9,1456.3a4.1,2.9 143 1 0 -6.5,4.9a4.1,2.9 143 1 0 6.5,-4.9zM999.3,1542.6a4.5,3.4 35 1 0 7.3,5.1a4.5,3.4 35 1 0 -7.3,-5.1zM1069.5,1455.5a4.2,3.2 115 1 0 -3.6,7.7a4.2,3.2 115 1 0 3.6,-7.7zM1067.9,1418.4a4.2,3.8 47 1 0 5.7,6.2a4.2,3.8 47 1 0 -5.7,-6.2zM1174.0,1496.0a3.6,2.7 126 1 0 -4.2,5.8a3.6,2.7 126 1 0 4.2,-5.8zM1042.4,1533.1a2.7,2.2 20 1 0 5.1,1.9a2.7,2.2 20 1 0 -5.1,-1.9zM1030.8,1573.0a3.7,3.1 73 1 0 2.1,7.2a3.7,3.1 73 1 0 -2.1,-7.2zM1061.8,1488.6a3.9,3.3 82 1 0 1.0,7.6a3.9,3.3 82 1 0 -1.0,-7.6zM1069.6,1429.9a2.7,2.1 25 1 0 4.9,2.3a2.7,2.1 25 1 0 -4.9,-2.3zM1072.9,1483.3a4.3,3.7 147 1 0 -7.2,4.8a4.3,3.7 147 1 0 7.2,-4.8z" fill="#7a3c1c" filter="url(#bb20)" opacity="0.8"/>
</g>
<rect x="984" y="1400.4" width="197.6" height="199.8" fill="none" stroke="#000" stroke-width="2.2"/>
<clipPath id="cf7"><rect x="1218.4" y="1400.6" width="206.8" height="200.6"/></clipPath>
<g clip-path="url(#cf7)">
<rect x="1218.4" y="1400.6" width="206.8" height="200.6" fill="#f1e3df" />
<filter id="nz9" x="1218.4" y="1400.6" width="206.8" height="200.6" filterUnits="userSpaceOnUse" color-interpolation-filters="sRGB"><feTurbulence type="fractalNoise" baseFrequency="0.05" numOctaves="2" seed="43" result="n"/><feColorMatrix in="n" type="matrix" values="0 0 0 0 0 0 0 0 0 0 0 0 0 0 0 1 0 0 0 0" result="a"/><feComponentTransfer in="a" result="m"><feFuncA type="linear" slope="8" intercept="-4.240"/></feComponentTransfer><feFlood flood-color="#d9dde8" flood-opacity="1"/><feComposite in2="m" operator="in"/></filter>
<rect x="1218.4" y="1400.6" width="206.8" height="200.6" fill="#000" filter="url(#nz9)"/>
<filter id="bb21" x="-5%" y="-5%" width="110%" height="110%"><feGaussianBlur stdDeviation="0.9"/></filter>
<path d="M1359.1,1493.9a4.7,4.7 136 1 0 -6.8,6.6a4.7,4.7 136 1 0 6.8,-6.6zM1413.9,1453.9a4.9,4.3 166 1 0 -9.5,2.4a4.9,4.3 166 1 0 9.5,-2.4zM1372.1,1421.2a4.6,3.4 89 1 0 0.2,9.1a4.6,3.4 89 1 0 -0.2,-9.1zM1243.2,1449.3a5.6,5.4 42 1 0 8.3,7.6a5.6,5.4 42 1 0 -8.3,-7.6zM1350.7,1477.6a5.2,4.9 152 1 0 -9.2,5.0a5.2,4.9 152 1 0 9.2,-5.0zM1372.8,1576.9a5.2,4.0 102 1 0 -2.2,10.2a5.2,4.0 102 1 0 2.2,-10.2zM1385.7,1593.8a6.4,6.0 89 1 0 0.1,12.8a6.4,6.0 89 1 0 -0.1,-12.8zM1387.7,1574.1a5.4,4.4 110 1 0 -3.7,10.1a5.4,4.4 110 1 0 3.7,-10.1zM1342.4,1498.6a6.6,6.0 169 1 0 -12.9,2.6a6.6,6.0 169 1 0 12.9,-2.6zM1423.4,1393.3a6.6,5.7 111 1 0 -4.8,12.3a6.6,5.7 111 1 0 4.8,-12.3zM1365.3,1578.0a7.1,6.8 165 1 0 -13.8,3.7a7.1,6.8 165 1 0 13.8,-3.7zM1411.3,1586.8a5.6,4.6 138 1 0 -8.3,7.5a5.6,4.6 138 1 0 8.3,-7.5zM1420.0,1535.8a4.6,3.4 12 1 0 8.9,1.9a4.6,3.4 12 1 0 -8.9,-1.9zM1241.9,1394.2a5.3,5.2 28 1 0 9.3,4.9a5.3,5.2 28 1 0 -9.3,-4.9zM1319.2,1507.3a5.5,4.3 18 1 0 10.5,3.5a5.5,4.3 18 1 0 -10.5,-3.5zM1248.4,1523.3a6.5,4.7 110 1 0 -4.4,12.3a6.5,4.7 110 1 0 4.4,-12.3zM1265.0,1534.4a4.4,3.7 24 1 0 8.0,3.6a4.4,3.7 24 1 0 -8.0,-3.6zM1387.3,1537.7a5.6,4.0 64 1 0 4.8,10.0a5.6,4.0 64 1 0 -4.8,-10.0zM1345.3,1483.8a6.1,5.8 64 1 0 5.4,11.0a6.1,5.8 64 1 0 -5.4,-11.0zM1407.2,1432.5a5.0,4.1 111 1 0 -3.6,9.4a5.0,4.1 111 1 0 3.6,-9.4zM1421.8,1592.8a5.1,4.7 82 1 0 1.4,10.1a5.1,4.7 82 1 0 -1.4,-10.1zM1311.4,1422.5a4.7,3.4 135 1 0 -6.6,6.7a4.7,3.4 135 1 0 6.6,-6.7zM1316.1,1454.4a5.2,4.4 102 1 0 -2.2,10.1a5.2,4.4 102 1 0 2.2,-10.1zM1364.6,1499.3a5.3,4.0 55 1 0 6.2,8.6a5.3,4.0 55 1 0 -6.2,-8.6zM1232.4,1402.9a7.3,7.3 8 1 0 14.6,2.0a7.3,7.3 8 1 0 -14.6,-2.0zM1289.2,1414.4a6.2,4.8 80 1 0 2.1,12.2a6.2,4.8 80 1 0 -2.1,-12.2zM1248.8,1499.8a5.3,4.4 50 1 0 6.9,8.1a5.3,4.4 50 1 0 -6.9,-8.1zM1323.9,1553.7a6.9,5.2 128 1 0 -8.5,10.9a6.9,5.2 128 1 0 8.5,-10.9zM1394.5,1590.3a5.3,4.8 113 1 0 -4.2,9.7a5.3,4.8 113 1 0 4.2,-9.7zM1304.3,1520.7a4.3,3.3 165 1 0 -8.4,2.2a4.3,3.3 165 1 0 8.4,-2.2zM1397.0,1481.1a7.1,5.6 19 1 0 13.4,4.6a7.1,5.6 19 1 0 -13.4,-4.6zM1278.9,1544.5a6.1,4.4 149 1 0 -10.4,6.3a6.1,4.4 149 1 0 10.4,-6.3zM1415.3,1579.7a7.3,7.0 41 1 0 11.0,9.4a7.3,7.0 41 1 0 -11.0,-9.4zM1307.7,1423.9a6.7,4.9 119 1 0 -6.4,11.7a6.7,4.9 119 1 0 6.4,-11.7zM1380.7,1402.6a6.7,6.3 52 1 0 8.3,10.5a6.7,6.3 52 1 0 -8.3,-10.5zM1401.4,1525.2a6.6,4.9 61 1 0 6.4,11.4a6.6,4.9 61 1 0 -6.4,-11.4zM1292.5,1517.1a6.1,4.7 106 1 0 -3.3,11.7a6.1,4.7 106 1 0 3.3,-11.7zM1314.9,1521.1a6.6,5.0 148 1 0 -11.1,7.0a6.6,5.0 148 1 0 11.1,-7.0zM1319.6,1532.5a4.7,4.7 130 1 0 -6.0,7.3a4.7,4.7 130 1 0 6.0,-7.3zM1428.1,1534.0a5.5,5.2 150 1 0 -9.6,5.5a5.5,5.2 150 1 0 9.6,-5.5zM1376.9,1437.7a5.5,3.9 35 1 0 9.0,6.3a5.5,3.9 35 1 0 -9.0,-6.3zM1290.3,1423.6a6.0,5.5 59 1 0 6.2,10.3a6.0,5.5 59 1 0 -6.2,-10.3zM1392.8,1397.8a4.9,4.6 40 1 0 7.5,6.3a4.9,4.6 40 1 0 -7.5,-6.3zM1379.4,1459.0a5.8,4.4 164 1 0 -11.2,3.2a5.8,4.4 164 1 0 11.2,-3.2zM1434.4,1584.5a6.1,4.8 151 1 0 -10.6,6.0a6.1,4.8 151 1 0 10.6,-6.0z" fill="#b07a5c" filter="url(#bb21)"/>
<filter id="bb22" x="-5%" y="-5%" width="110%" height="110%"><feGaussianBlur stdDeviation="0.8"/></filter>
<path d="M1294.9,1506.0a8.0,6.2 74 1 0 4.4,15.4a8.0,6.2 74 1 0 -4.4,-15.4zM1419.3,1421.7a6.3,4.1 166 1 0 -12.2,3.0a6.3,4.1 166 1 0 12.2,-3.0zM1314.1,1570.5a6.7,5.8 1 1 0 13.3,0.2a6.7,5.8 1 1 0 -13.3,-0.2zM1380.2,1589.6a5.8,4.5 91 1 0 -0.2,11.6a5.8,4.5 91 1 0 0.2,-11.6zM1319.0,1565.3a5.9,5.4 101 1 0 -2.2,11.7a5.9,5.4 101 1 0 2.2,-11.7zM1351.9,1507.5a5.7,3.9 26 1 0 10.3,5.0a5.7,3.9 26 1 0 -10.3,-5.0zM1314.2,1404.7a5.8,5.1 123 1 0 -6.4,9.7a5.8,5.1 123 1 0 6.4,-9.7zM1421.3,1471.8a5.9,5.1 25 1 0 10.7,5.1a5.9,5.1 25 1 0 -10.7,-5.1zM1257.2,1495.6a6.5,4.3 104 1 0 -3.3,12.6a6.5,4.3 104 1 0 3.3,-12.6zM1309.1,1440.1a6.9,5.7 140 1 0 -10.6,8.9a6.9,5.7 140 1 0 10.6,-8.9zM1301.4,1472.0a7.4,5.4 52 1 0 9.2,11.7a7.4,5.4 52 1 0 -9.2,-11.7zM1394.4,1426.8a6.6,5.3 53 1 0 8.1,10.6a6.6,5.3 53 1 0 -8.1,-10.6zM1380.2,1429.9a8.2,5.7 7 1 0 16.2,2.0a8.2,5.7 7 1 0 -16.2,-2.0zM1385.1,1547.4a5.7,3.8 93 1 0 -0.6,11.3a5.7,3.8 93 1 0 0.6,-11.3zM1238.5,1556.8a7.2,6.1 44 1 0 10.3,9.9a7.2,6.1 44 1 0 -10.3,-9.9zM1391.4,1499.1a6.8,5.6 44 1 0 9.9,9.4a6.8,5.6 44 1 0 -9.9,-9.4zM1390.8,1573.6a5.9,5.1 41 1 0 9.0,7.7a5.9,5.1 41 1 0 -9.0,-7.7zM1335.4,1543.5a5.7,4.3 18 1 0 10.8,3.5a5.7,4.3 18 1 0 -10.8,-3.5zM1418.2,1558.0a6.1,4.5 158 1 0 -11.2,4.6a6.1,4.5 158 1 0 11.2,-4.6zM1401.6,1576.8a6.3,5.3 144 1 0 -10.2,7.4a6.3,5.3 144 1 0 10.2,-7.4zM1327.5,1579.7a7.3,6.6 134 1 0 -10.2,10.5a7.3,6.6 134 1 0 10.2,-10.5zM1416.1,1520.9a7.5,5.7 21 1 0 13.9,5.3a7.5,5.7 21 1 0 -13.9,-5.3zM1322.2,1470.6a7.8,6.7 122 1 0 -8.3,13.3a7.8,6.7 122 1 0 8.3,-13.3zM1282.7,1583.2a6.3,4.2 68 1 0 4.8,11.6a6.3,4.2 68 1 0 -4.8,-11.6zM1268.2,1462.9a7.9,6.1 45 1 0 11.1,11.3a7.9,6.1 45 1 0 -11.1,-11.3zM1287.3,1567.4a7.4,5.6 105 1 0 -3.8,14.4a7.4,5.6 105 1 0 3.8,-14.4zM1390.4,1404.3a5.9,4.8 120 1 0 -5.9,10.1a5.9,4.8 120 1 0 5.9,-10.1zM1410.4,1502.1a8.0,5.3 86 1 0 1.0,15.9a8.0,5.3 86 1 0 -1.0,-15.9zM1321.4,1545.1a7.8,5.9 14 1 0 15.1,3.7a7.8,5.9 14 1 0 -15.1,-3.7zM1216.0,1479.2a7.4,6.6 1 1 0 14.8,0.3a7.4,6.6 1 1 0 -14.8,-0.3zM1354.0,1601.3a6.0,4.6 173 1 0 -12.0,1.4a6.0,4.6 173 1 0 12.0,-1.4zM1434.4,1554.0a7.9,5.3 132 1 0 -10.6,11.6a7.9,5.3 132 1 0 10.6,-11.6zM1318.4,1413.7a7.4,5.6 179 1 0 -14.7,0.4a7.4,5.6 179 1 0 14.7,-0.4zM1325.5,1462.5a5.9,4.7 84 1 0 1.2,11.8a5.9,4.7 84 1 0 -1.2,-11.8zM1286.6,1521.4a7.5,6.4 42 1 0 11.1,10.0a7.5,6.4 42 1 0 -11.1,-10.0zM1422.9,1481.5a6.3,4.6 132 1 0 -8.5,9.4a6.3,4.6 132 1 0 8.5,-9.4zM1366.7,1520.8a8.2,7.5 137 1 0 -12.1,11.1a8.2,7.5 137 1 0 12.1,-11.1zM1360.2,1472.3a7.0,5.8 179 1 0 -13.9,0.2a7.0,5.8 179 1 0 13.9,-0.2zM1350.3,1530.3a7.6,6.9 50 1 0 9.9,11.6a7.6,6.9 50 1 0 -9.9,-11.6zM1426.7,1489.7a5.9,4.9 129 1 0 -7.4,9.2a5.9,4.9 129 1 0 7.4,-9.2zM1417.8,1403.8a8.0,6.3 26 1 0 14.4,7.2a8.0,6.3 26 1 0 -14.4,-7.2zM1376.9,1410.2a8.0,7.3 60 1 0 8.1,13.9a8.0,7.3 60 1 0 -8.1,-13.9zM1413.7,1572.1a6.3,5.5 130 1 0 -8.1,9.6a6.3,5.5 130 1 0 8.1,-9.6zM1279.5,1419.6a6.4,5.5 70 1 0 4.4,12.1a6.4,5.5 70 1 0 -4.4,-12.1zM1372.2,1592.4a5.6,3.8 99 1 0 -1.7,11.0a5.6,3.8 99 1 0 1.7,-11.0zM1410.6,1403.1a6.4,4.4 166 1 0 -12.3,3.0a6.4,4.4 166 1 0 12.3,-3.0zM1272.6,1526.7a7.7,5.7 101 1 0 -3.0,15.1a7.7,5.7 101 1 0 3.0,-15.1zM1376.7,1506.5a7.4,5.7 58 1 0 7.7,12.6a7.4,5.7 58 1 0 -7.7,-12.6zM1378.4,1512.8a7.6,6.6 82 1 0 2.2,15.1a7.6,6.6 82 1 0 -2.2,-15.1zM1305.4,1576.7a7.3,6.3 86 1 0 1.1,14.6a7.3,6.3 86 1 0 -1.1,-14.6zM1370.1,1568.6a5.6,4.5 70 1 0 3.9,10.6a5.6,4.5 70 1 0 -3.9,-10.6zM1286.6,1487.8a7.9,6.5 80 1 0 2.7,15.6a7.9,6.5 80 1 0 -2.7,-15.6zM1317.1,1569.3a5.5,4.3 79 1 0 2.0,10.9a5.5,4.3 79 1 0 -2.0,-10.9zM1349.3,1458.9a6.2,5.2 4 1 0 12.4,0.9a6.2,5.2 4 1 0 -12.4,-0.9zM1391.7,1503.1a6.6,5.6 79 1 0 2.5,13.0a6.6,5.6 79 1 0 -2.5,-13.0zM1361.6,1404.3a8.1,6.2 144 1 0 -13.1,9.5a8.1,6.2 144 1 0 13.1,-9.5zM1358.7,1511.2a6.3,5.0 89 1 0 0.2,12.5a6.3,5.0 89 1 0 -0.2,-12.5zM1375.5,1595.4a5.6,4.1 134 1 0 -7.7,8.1a5.6,4.1 134 1 0 7.7,-8.1zM1287.0,1588.2a7.5,6.7 142 1 0 -11.8,9.3a7.5,6.7 142 1 0 11.8,-9.3zM1313.5,1520.9a7.9,5.6 121 1 0 -8.0,13.6a7.9,5.6 121 1 0 8.0,-13.6zM1391.8,1578.5a6.4,5.5 101 1 0 -2.5,12.6a6.4,5.5 101 1 0 2.5,-12.6zM1382.8,1478.4a7.6,6.5 82 1 0 2.2,15.0a7.6,6.5 82 1 0 -2.2,-15.0zM1338.0,1505.3a7.3,6.1 113 1 0 -5.7,13.4a7.3,6.1 113 1 0 5.7,-13.4zM1297.6,1497.9a8.0,5.8 86 1 0 1.1,15.9a8.0,5.8 86 1 0 -1.1,-15.9zM1309.1,1393.9a7.8,5.5 74 1 0 4.3,15.0a7.8,5.5 74 1 0 -4.3,-15.0zM1397.4,1419.6a5.5,4.0 127 1 0 -6.7,8.7a5.5,4.0 127 1 0 6.7,-8.7zM1299.8,1438.8a7.9,5.5 116 1 0 -6.9,14.1a7.9,5.5 116 1 0 6.9,-14.1zM1360.7,1534.2a5.6,4.3 104 1 0 -2.7,10.8a5.6,4.3 104 1 0 2.7,-10.8zM1256.2,1467.6a5.6,4.2 141 1 0 -8.7,7.1a5.6,4.2 141 1 0 8.7,-7.1zM1212.1,1534.6a5.9,4.0 39 1 0 9.2,7.3a5.9,4.0 39 1 0 -9.2,-7.3zM1273.4,1568.4a6.5,4.6 90 1 0 -0.0,13.1a6.5,4.6 90 1 0 0.0,-13.1zM1405.1,1488.4a5.4,4.9 69 1 0 3.9,10.1a5.4,4.9 69 1 0 -3.9,-10.1zM1260.4,1574.4a5.9,4.5 138 1 0 -8.8,7.9a5.9,4.5 138 1 0 8.8,-7.9zM1383.7,1437.8a5.6,4.9 135 1 0 -8.0,7.9a5.6,4.9 135 1 0 8.0,-7.9zM1345.3,1501.6a6.6,5.5 57 1 0 7.2,11.2a6.6,5.5 57 1 0 -7.2,-11.2zM1228.1,1569.1a8.1,5.8 28 1 0 14.3,7.5a8.1,5.8 28 1 0 -14.3,-7.5zM1258.5,1526.5a6.8,6.2 142 1 0 -10.8,8.3a6.8,6.2 142 1 0 10.8,-8.3zM1400.2,1498.7a7.5,6.8 151 1 0 -13.1,7.4a7.5,6.8 151 1 0 13.1,-7.4zM1306.6,1531.8a5.7,3.8 2 1 0 11.4,0.3a5.7,3.8 2 1 0 -11.4,-0.3zM1432.9,1410.5a6.6,5.2 147 1 0 -11.0,7.2a6.6,5.2 147 1 0 11.0,-7.2zM1421.8,1497.5a8.0,6.2 127 1 0 -9.7,12.8a8.0,6.2 127 1 0 9.7,-12.8zM1286.0,1487.1a7.4,5.2 134 1 0 -10.2,10.6a7.4,5.2 134 1 0 10.2,-10.6zM1340.3,1467.3a6.6,5.4 94 1 0 -0.9,13.2a6.6,5.4 94 1 0 0.9,-13.2zM1380.9,1582.6a7.3,6.2 154 1 0 -13.1,6.3a7.3,6.2 154 1 0 13.1,-6.3zM1385.5,1574.7a7.3,6.6 159 1 0 -13.6,5.3a7.3,6.6 159 1 0 13.6,-5.3zM1404.7,1476.0a8.0,5.5 126 1 0 -9.4,12.8a8.0,5.5 126 1 0 9.4,-12.8zM1402.8,1410.4a7.8,6.9 27 1 0 13.9,7.1a7.8,6.9 27 1 0 -13.9,-7.1zM1407.9,1509.6a7.6,6.4 170 1 0 -15.1,2.6a7.6,6.4 170 1 0 15.1,-2.6zM1321.0,1543.7a6.5,4.6 107 1 0 -3.9,12.4a6.5,4.6 107 1 0 3.9,-12.4zM1340.6,1538.3a5.7,3.9 148 1 0 -9.7,6.0a5.7,3.9 148 1 0 9.7,-6.0zM1419.6,1459.6a7.9,5.2 49 1 0 10.4,11.8a7.9,5.2 49 1 0 -10.4,-11.8zM1345.3,1474.7a6.0,4.1 55 1 0 7.0,9.8a6.0,4.1 55 1 0 -7.0,-9.8zM1344.1,1559.8a6.0,4.2 115 1 0 -5.0,10.9a6.0,4.2 115 1 0 5.0,-10.9zM1301.9,1521.1a5.9,4.5 25 1 0 10.7,5.0a5.9,4.5 25 1 0 -10.7,-5.0zM1332.8,1553.8a5.7,4.1 149 1 0 -9.8,5.8a5.7,4.1 149 1 0 9.8,-5.8zM1265.2,1405.4a7.7,6.5 0 1 0 15.3,0.1a7.7,6.5 0 1 0 -15.3,-0.1zM1433.2,1440.8a6.7,5.6 159 1 0 -12.4,4.9a6.7,5.6 159 1 0 12.4,-4.9zM1291.8,1499.1a6.6,5.5 109 1 0 -4.3,12.4a6.6,5.5 109 1 0 4.3,-12.4zM1352.1,1601.9a5.8,3.9 11 1 0 11.4,2.2a5.8,3.9 11 1 0 -11.4,-2.2zM1390.9,1439.4a5.7,4.2 111 1 0 -4.1,10.6a5.7,4.2 111 1 0 4.1,-10.6zM1316.2,1495.7a5.8,4.1 144 1 0 -9.4,6.7a5.8,4.1 144 1 0 9.4,-6.7zM1313.7,1522.0a6.8,5.1 46 1 0 9.5,9.8a6.8,5.1 46 1 0 -9.5,-9.8zM1284.5,1504.9a6.7,6.0 108 1 0 -4.0,12.7a6.7,6.0 108 1 0 4.0,-12.7zM1336.1,1514.3a7.2,6.3 15 1 0 13.9,3.8a7.2,6.3 15 1 0 -13.9,-3.8zM1366.6,1468.4a8.0,5.7 128 1 0 -9.9,12.5a8.0,5.7 128 1 0 9.9,-12.5zM1324.2,1400.8a7.1,6.3 106 1 0 -4.0,13.7a7.1,6.3 106 1 0 4.0,-13.7zM1318.4,1424.7a6.5,5.8 87 1 0 0.8,13.1a6.5,5.8 87 1 0 -0.8,-13.1zM1231.6,1545.6a6.7,6.1 113 1 0 -5.3,12.4a6.7,6.1 113 1 0 5.3,-12.4zM1316.3,1477.4a6.0,4.0 11 1 0 11.8,2.2a6.0,4.0 11 1 0 -11.8,-2.2zM1430.1,1517.1a6.8,4.9 99 1 0 -2.0,13.4a6.8,4.9 99 1 0 2.0,-13.4zM1346.5,1555.1a8.2,5.5 31 1 0 14.0,8.4a8.2,5.5 31 1 0 -14.0,-8.4zM1294.9,1544.9a7.9,6.6 88 1 0 0.5,15.7a7.9,6.6 88 1 0 -0.5,-15.7zM1305.6,1470.7a8.0,5.4 40 1 0 12.3,10.3a8.0,5.4 40 1 0 -12.3,-10.3zM1272.9,1497.3a5.5,4.6 141 1 0 -8.6,6.9a5.5,4.6 141 1 0 8.6,-6.9zM1244.1,1407.0a6.0,4.1 64 1 0 5.2,10.9a6.0,4.1 64 1 0 -5.2,-10.9z" fill="#4c1c0c" filter="url(#bb22)"/>
<filter id="bb23" x="-5%" y="-5%" width="110%" height="110%"><feGaussianBlur stdDeviation="0.8"/></filter>
<path d="M1358.0,1463.6a4.8,3.8 54 1 0 5.7,7.8a4.8,3.8 54 1 0 -5.7,-7.8zM1421.4,1520.6a3.7,3.2 9 1 0 7.3,1.1a3.7,3.2 9 1 0 -7.3,-1.1zM1427.7,1535.2a3.6,3.3 164 1 0 -6.9,1.9a3.6,3.3 164 1 0 6.9,-1.9zM1318.3,1522.3a4.2,3.4 69 1 0 3.1,7.9a4.2,3.4 69 1 0 -3.1,-7.9zM1369.5,1486.6a5.4,4.4 21 1 0 10.1,3.9a5.4,4.4 21 1 0 -10.1,-3.9zM1365.9,1516.9a4.1,3.3 3 1 0 8.2,0.5a4.1,3.3 3 1 0 -8.2,-0.5zM1387.5,1525.5a4.6,4.1 95 1 0 -0.7,9.1a4.6,4.1 95 1 0 0.7,-9.1zM1257.1,1405.2a5.5,4.4 92 1 0 -0.4,11.0a5.5,4.4 92 1 0 0.4,-11.0zM1399.6,1485.8a3.7,2.8 96 1 0 -0.8,7.4a3.7,2.8 96 1 0 0.8,-7.4zM1395.0,1462.5a4.5,3.7 5 1 0 8.9,0.9a4.5,3.7 5 1 0 -8.9,-0.9zM1419.8,1497.4a4.9,4.3 148 1 0 -8.3,5.2a4.9,4.3 148 1 0 8.3,-5.2zM1355.7,1504.4a3.6,3.2 75 1 0 1.9,7.0a3.6,3.2 75 1 0 -1.9,-7.0zM1426.8,1507.1a3.4,2.4 113 1 0 -2.7,6.3a3.4,2.4 113 1 0 2.7,-6.3zM1278.5,1491.2a3.5,3.0 18 1 0 6.7,2.1a3.5,3.0 18 1 0 -6.7,-2.1zM1333.7,1554.1a5.4,4.6 174 1 0 -10.8,1.2a5.4,4.6 174 1 0 10.8,-1.2zM1380.3,1538.1a3.6,2.6 11 1 0 7.0,1.4a3.6,2.6 11 1 0 -7.0,-1.4zM1288.6,1474.9a3.5,3.0 154 1 0 -6.2,3.1a3.5,3.0 154 1 0 6.2,-3.1zM1274.0,1457.8a4.7,4.0 142 1 0 -7.5,5.8a4.7,4.0 142 1 0 7.5,-5.8zM1380.5,1538.7a4.6,4.3 100 1 0 -1.7,9.0a4.6,4.3 100 1 0 1.7,-9.0zM1293.3,1474.6a5.7,5.6 136 1 0 -8.2,7.8a5.7,5.6 136 1 0 8.2,-7.8zM1335.3,1428.6a3.5,2.6 51 1 0 4.4,5.5a3.5,2.6 51 1 0 -4.4,-5.5zM1408.0,1524.7a4.0,3.5 69 1 0 2.9,7.4a4.0,3.5 69 1 0 -2.9,-7.4zM1336.3,1515.1a5.4,4.6 12 1 0 10.5,2.2a5.4,4.6 12 1 0 -10.5,-2.2zM1244.8,1593.9a4.4,3.6 99 1 0 -1.4,8.6a4.4,3.6 99 1 0 1.4,-8.6zM1357.8,1484.8a4.1,3.9 41 1 0 6.1,5.4a4.1,3.9 41 1 0 -6.1,-5.4zM1386.4,1550.6a3.5,3.2 51 1 0 4.4,5.4a3.5,3.2 51 1 0 -4.4,-5.4zM1282.1,1456.5a3.4,2.9 98 1 0 -1.0,6.8a3.4,2.9 98 1 0 1.0,-6.8zM1294.5,1456.5a5.0,3.8 153 1 0 -9.0,4.5a5.0,3.8 153 1 0 9.0,-4.5zM1375.0,1482.1a3.4,3.1 78 1 0 1.4,6.7a3.4,3.1 78 1 0 -1.4,-6.7zM1392.1,1452.7a3.4,2.7 29 1 0 5.9,3.3a3.4,2.7 29 1 0 -5.9,-3.3zM1386.4,1478.2a4.5,4.5 10 1 0 8.8,1.6a4.5,4.5 10 1 0 -8.8,-1.6zM1372.5,1490.0a5.1,3.9 105 1 0 -2.7,9.8a5.1,3.9 105 1 0 2.7,-9.8zM1381.7,1482.3a3.4,2.7 100 1 0 -1.2,6.7a3.4,2.7 100 1 0 1.2,-6.7zM1344.6,1459.3a4.5,3.2 74 1 0 2.5,8.7a4.5,3.2 74 1 0 -2.5,-8.7zM1327.1,1567.0a3.7,3.0 59 1 0 3.8,6.3a3.7,3.0 59 1 0 -3.8,-6.3zM1353.7,1507.3a3.8,3.5 97 1 0 -0.9,7.5a3.8,3.5 97 1 0 0.9,-7.5zM1404.1,1555.2a3.6,2.5 11 1 0 7.1,1.4a3.6,2.5 11 1 0 -7.1,-1.4zM1300.8,1443.9a5.2,4.5 62 1 0 4.8,9.1a5.2,4.5 62 1 0 -4.8,-9.1zM1341.1,1418.1a3.9,3.8 169 1 0 -7.7,1.5a3.9,3.8 169 1 0 7.7,-1.5zM1338.1,1469.5a3.8,3.5 51 1 0 4.8,5.8a3.8,3.5 51 1 0 -4.8,-5.8z" fill="#7a3c1c" filter="url(#bb23)" opacity="0.8"/>
</g>
<rect x="1218.4" y="1400.6" width="206.8" height="200.6" fill="none" stroke="#000" stroke-width="2.2"/>
<clipPath id="cf8"><rect x="1445.5" y="1403.4" width="200" height="197"/></clipPath>
<g clip-path="url(#cf8)">
<rect x="1445.5" y="1403.4" width="200" height="197" fill="#ebe0dc" />
<filter id="nz10" x="1445.5" y="1403.4" width="200" height="197" filterUnits="userSpaceOnUse" color-interpolation-filters="sRGB"><feTurbulence type="fractalNoise" baseFrequency="0.05" numOctaves="2" seed="44" result="n"/><feColorMatrix in="n" type="matrix" values="0 0 0 0 0 0 0 0 0 0 0 0 0 0 0 1 0 0 0 0" result="a"/><feComponentTransfer in="a" result="m"><feFuncA type="linear" slope="8" intercept="-4.240"/></feComponentTransfer><feFlood flood-color="#d9dde8" flood-opacity="1"/><feComposite in2="m" operator="in"/></filter>
<rect x="1445.5" y="1403.4" width="200" height="197" fill="#000" filter="url(#nz10)"/>
<filter id="bb24" x="-5%" y="-5%" width="110%" height="110%"><feGaussianBlur stdDeviation="0.9"/></filter>
<path d="M1464.8,1562.0a6.0,4.9 50 1 0 7.8,9.2a6.0,4.9 50 1 0 -7.8,-9.2zM1486.2,1414.1a4.4,3.3 154 1 0 -7.8,3.9a4.4,3.3 154 1 0 7.8,-3.9zM1475.3,1436.4a6.1,6.0 18 1 0 11.6,3.9a6.1,6.0 18 1 0 -11.6,-3.9zM1511.4,1598.1a4.8,4.3 124 1 0 -5.4,7.9a4.8,4.3 124 1 0 5.4,-7.9zM1575.2,1405.2a5.6,5.3 81 1 0 1.8,11.1a5.6,5.3 81 1 0 -1.8,-11.1zM1508.3,1543.8a6.3,6.2 36 1 0 10.1,7.4a6.3,6.2 36 1 0 -10.1,-7.4zM1599.1,1493.6a6.3,6.2 87 1 0 0.6,12.5a6.3,6.2 87 1 0 -0.6,-12.5zM1633.1,1580.1a4.1,3.4 170 1 0 -8.1,1.4a4.1,3.4 170 1 0 8.1,-1.4zM1494.5,1486.0a5.4,4.3 141 1 0 -8.4,6.7a5.4,4.3 141 1 0 8.4,-6.7zM1483.6,1518.8a5.2,3.7 142 1 0 -8.2,6.3a5.2,3.7 142 1 0 8.2,-6.3zM1602.0,1572.1a4.3,3.7 27 1 0 7.7,3.9a4.3,3.7 27 1 0 -7.7,-3.9zM1589.9,1521.1a6.0,4.5 45 1 0 8.5,8.6a6.0,4.5 45 1 0 -8.5,-8.6zM1460.1,1585.4a5.4,4.0 133 1 0 -7.4,7.9a5.4,4.0 133 1 0 7.4,-7.9zM1534.0,1476.0a5.8,5.3 87 1 0 0.5,11.5a5.8,5.3 87 1 0 -0.5,-11.5zM1498.2,1476.4a4.8,3.6 31 1 0 8.2,4.9a4.8,3.6 31 1 0 -8.2,-4.9zM1552.7,1598.0a5.3,4.3 5 1 0 10.5,1.0a5.3,4.3 5 1 0 -10.5,-1.0zM1637.1,1462.8a4.6,4.2 159 1 0 -8.5,3.3a4.6,4.2 159 1 0 8.5,-3.3zM1464.7,1409.5a4.4,4.4 93 1 0 -0.4,8.7a4.4,4.4 93 1 0 0.4,-8.7zM1457.8,1531.7a5.1,3.7 12 1 0 9.9,2.1a5.1,3.7 12 1 0 -9.9,-2.1zM1517.1,1593.3a4.9,4.9 68 1 0 3.7,9.0a4.9,4.9 68 1 0 -3.7,-9.0zM1514.2,1419.3a5.3,4.0 171 1 0 -10.5,1.7a5.3,4.0 171 1 0 10.5,-1.7zM1573.8,1399.0a5.4,4.5 119 1 0 -5.2,9.4a5.4,4.5 119 1 0 5.2,-9.4zM1562.4,1421.1a5.0,4.5 15 1 0 9.7,2.6a5.0,4.5 15 1 0 -9.7,-2.6zM1622.5,1541.3a4.3,3.1 73 1 0 2.6,8.2a4.3,3.1 73 1 0 -2.6,-8.2zM1572.9,1524.2a4.1,3.6 99 1 0 -1.3,8.2a4.1,3.6 99 1 0 1.3,-8.2zM1472.3,1500.7a5.4,5.0 20 1 0 10.1,3.7a5.4,5.0 20 1 0 -10.1,-3.7zM1462.7,1542.1a6.3,5.4 160 1 0 -11.8,4.2a6.3,5.4 160 1 0 11.8,-4.2zM1525.4,1429.9a5.5,4.3 155 1 0 -9.9,4.7a5.5,4.3 155 1 0 9.9,-4.7zM1592.3,1409.0a4.6,4.3 10 1 0 9.1,1.6a4.6,4.3 10 1 0 -9.1,-1.6zM1491.4,1402.6a5.5,5.5 128 1 0 -6.8,8.8a5.5,5.5 128 1 0 6.8,-8.8zM1632.0,1436.8a5.8,5.8 148 1 0 -9.9,6.2a5.8,5.8 148 1 0 9.9,-6.2zM1485.9,1454.4a6.2,5.6 74 1 0 3.4,11.8a6.2,5.6 74 1 0 -3.4,-11.8zM1490.6,1405.1a5.7,5.1 26 1 0 10.4,5.0a5.7,5.1 26 1 0 -10.4,-5.0zM1463.0,1599.3a6.1,4.3 30 1 0 10.5,6.1a6.1,4.3 30 1 0 -10.5,-6.1zM1622.1,1485.7a6.0,5.0 68 1 0 4.4,11.1a6.0,5.0 68 1 0 -4.4,-11.1zM1634.8,1460.9a6.2,5.7 23 1 0 11.3,4.9a6.2,5.7 23 1 0 -11.3,-4.9zM1634.9,1590.7a4.1,3.6 88 1 0 0.3,8.3a4.1,3.6 88 1 0 -0.3,-8.3zM1499.0,1546.9a6.1,5.9 146 1 0 -10.1,6.9a6.1,5.9 146 1 0 10.1,-6.9zM1531.9,1527.9a6.0,4.7 136 1 0 -8.5,8.3a6.0,4.7 136 1 0 8.5,-8.3zM1531.0,1580.3a4.7,4.1 81 1 0 1.4,9.3a4.7,4.1 81 1 0 -1.4,-9.3z" fill="#b07a5c" filter="url(#bb24)"/>
<filter id="bb25" x="-5%" y="-5%" width="110%" height="110%"><feGaussianBlur stdDeviation="0.8"/></filter>
<path d="M1478.1,1498.3a6.4,5.3 169 1 0 -12.6,2.5a6.4,5.3 169 1 0 12.6,-2.5zM1600.5,1424.1a5.9,4.5 3 1 0 11.8,0.6a5.9,4.5 3 1 0 -11.8,-0.6zM1640.5,1525.9a5.5,4.5 119 1 0 -5.3,9.6a5.5,4.5 119 1 0 5.3,-9.6zM1603.0,1575.6a6.1,4.8 103 1 0 -2.6,11.8a6.1,4.8 103 1 0 2.6,-11.8zM1482.5,1403.8a6.4,5.4 15 1 0 12.4,3.4a6.4,5.4 15 1 0 -12.4,-3.4zM1513.5,1442.2a5.0,4.2 72 1 0 3.1,9.6a5.0,4.2 72 1 0 -3.1,-9.6zM1508.8,1544.1a6.6,4.8 101 1 0 -2.6,12.9a6.6,4.8 101 1 0 2.6,-12.9zM1491.9,1449.6a5.4,3.9 33 1 0 9.0,5.9a5.4,3.9 33 1 0 -9.0,-5.9zM1447.5,1578.1a5.9,4.3 90 1 0 0.0,11.8a5.9,4.3 90 1 0 -0.0,-11.8zM1628.4,1419.4a6.7,4.9 4 1 0 13.4,0.9a6.7,4.9 4 1 0 -13.4,-0.9zM1637.9,1453.1a6.8,4.6 24 1 0 12.5,5.5a6.8,4.6 24 1 0 -12.5,-5.5zM1589.5,1432.2a6.5,5.0 172 1 0 -12.9,1.8a6.5,5.0 172 1 0 12.9,-1.8zM1530.4,1528.8a5.5,4.1 98 1 0 -1.5,10.9a5.5,4.1 98 1 0 1.5,-10.9zM1497.2,1516.3a5.5,4.4 27 1 0 9.8,5.1a5.5,4.4 27 1 0 -9.8,-5.1zM1512.9,1467.8a5.8,5.4 176 1 0 -11.7,0.7a5.8,5.4 176 1 0 11.7,-0.7zM1540.7,1531.5a6.6,5.8 110 1 0 -4.6,12.3a6.6,5.8 110 1 0 4.6,-12.3zM1472.6,1530.0a5.7,3.9 28 1 0 10.0,5.4a5.7,3.9 28 1 0 -10.0,-5.4zM1590.0,1446.0a5.4,4.1 56 1 0 6.0,9.0a5.4,4.1 56 1 0 -6.0,-9.0zM1546.9,1444.1a5.2,4.3 14 1 0 10.1,2.5a5.2,4.3 14 1 0 -10.1,-2.5zM1626.8,1592.7a5.1,4.1 152 1 0 -9.0,4.7a5.1,4.1 152 1 0 9.0,-4.7zM1478.1,1594.9a5.6,3.7 9 1 0 11.0,1.8a5.6,3.7 9 1 0 -11.0,-1.8zM1508.3,1455.4a6.2,5.0 145 1 0 -10.3,7.1a6.2,5.0 145 1 0 10.3,-7.1zM1564.8,1464.9a4.9,4.4 56 1 0 5.5,8.2a4.9,4.4 56 1 0 -5.5,-8.2zM1630.4,1408.8a5.3,4.8 139 1 0 -8.1,7.0a5.3,4.8 139 1 0 8.1,-7.0zM1464.9,1539.6a6.6,5.6 132 1 0 -8.9,9.8a6.6,5.6 132 1 0 8.9,-9.8zM1486.3,1491.5a6.6,5.4 5 1 0 13.1,1.0a6.6,5.4 5 1 0 -13.1,-1.0zM1476.4,1460.5a5.1,3.8 26 1 0 9.2,4.4a5.1,3.8 26 1 0 -9.2,-4.4zM1624.6,1449.8a7.0,6.1 56 1 0 7.8,11.5a7.0,6.1 56 1 0 -7.8,-11.5zM1487.9,1576.5a5.6,4.7 132 1 0 -7.5,8.3a5.6,4.7 132 1 0 7.5,-8.3zM1544.0,1539.1a6.2,5.0 31 1 0 10.7,6.4a6.2,5.0 31 1 0 -10.7,-6.4zM1609.8,1545.6a5.0,3.8 38 1 0 7.8,6.2a5.0,3.8 38 1 0 -7.8,-6.2zM1551.2,1462.6a5.4,3.7 135 1 0 -7.6,7.6a5.4,3.7 135 1 0 7.6,-7.6zM1522.0,1400.1a6.0,5.5 74 1 0 3.3,11.6a6.0,5.5 74 1 0 -3.3,-11.6zM1629.5,1528.8a6.4,4.6 18 1 0 12.2,3.9a6.4,4.6 18 1 0 -12.2,-3.9zM1589.2,1445.0a6.2,4.0 166 1 0 -11.9,3.1a6.2,4.0 166 1 0 11.9,-3.1zM1534.3,1591.3a6.6,5.8 170 1 0 -13.0,2.4a6.6,5.8 170 1 0 13.0,-2.4zM1460.4,1547.2a5.3,4.8 162 1 0 -10.0,3.2a5.3,4.8 162 1 0 10.0,-3.2zM1532.7,1520.4a5.3,3.9 63 1 0 4.8,9.5a5.3,3.9 63 1 0 -4.8,-9.5zM1499.3,1541.2a6.9,5.8 1 1 0 13.7,0.3a6.9,5.8 1 1 0 -13.7,-0.3zM1593.0,1475.3a5.5,3.9 34 1 0 9.1,6.1a5.5,3.9 34 1 0 -9.1,-6.1zM1645.8,1493.9a6.5,4.3 147 1 0 -11.0,7.0a6.5,4.3 147 1 0 11.0,-7.0zM1577.9,1578.0a6.2,5.5 57 1 0 6.8,10.5a6.2,5.5 57 1 0 -6.8,-10.5zM1615.3,1599.2a5.5,4.3 136 1 0 -7.9,7.7a5.5,4.3 136 1 0 7.9,-7.7zM1633.9,1550.6a5.1,3.3 81 1 0 1.6,10.1a5.1,3.3 81 1 0 -1.6,-10.1zM1527.8,1548.0a6.0,4.8 57 1 0 6.5,10.0a6.0,4.8 57 1 0 -6.5,-10.0zM1461.6,1470.1a5.9,4.7 141 1 0 -9.1,7.4a5.9,4.7 141 1 0 9.1,-7.4zM1566.2,1552.5a5.8,4.7 60 1 0 5.7,10.0a5.8,4.7 60 1 0 -5.7,-10.0zM1581.7,1556.3a5.3,4.2 75 1 0 2.7,10.3a5.3,4.2 75 1 0 -2.7,-10.3zM1590.5,1438.2a6.1,4.3 160 1 0 -11.6,4.1a6.1,4.3 160 1 0 11.6,-4.1zM1477.9,1475.6a6.1,5.2 163 1 0 -11.6,3.7a6.1,5.2 163 1 0 11.6,-3.7zM1464.2,1428.5a6.0,5.2 179 1 0 -11.9,0.2a6.0,5.2 179 1 0 11.9,-0.2zM1640.0,1506.2a6.9,5.8 157 1 0 -12.7,5.4a6.9,5.8 157 1 0 12.7,-5.4zM1595.8,1567.8a5.9,4.7 41 1 0 8.9,7.8a5.9,4.7 41 1 0 -8.9,-7.8zM1653.0,1601.5a4.8,4.2 170 1 0 -9.5,1.6a4.8,4.2 170 1 0 9.5,-1.6zM1590.6,1590.6a6.8,5.6 1 1 0 13.5,0.3a6.8,5.6 1 1 0 -13.5,-0.3zM1622.1,1412.7a6.1,4.0 172 1 0 -12.1,1.6a6.1,4.0 172 1 0 12.1,-1.6zM1535.1,1573.6a6.7,4.7 135 1 0 -9.4,9.4a6.7,4.7 135 1 0 9.4,-9.4zM1635.9,1544.6a6.0,3.9 46 1 0 8.4,8.6a6.0,3.9 46 1 0 -8.4,-8.6zM1616.0,1538.0a5.6,3.7 99 1 0 -1.7,11.1a5.6,3.7 99 1 0 1.7,-11.1zM1513.1,1464.1a5.2,4.6 32 1 0 8.7,5.5a5.2,4.6 32 1 0 -8.7,-5.5zM1504.5,1560.3a6.5,5.3 92 1 0 -0.5,13.0a6.5,5.3 92 1 0 0.5,-13.0zM1591.7,1564.8a4.8,4.2 162 1 0 -9.2,3.1a4.8,4.2 162 1 0 9.2,-3.1zM1525.1,1560.4a6.2,5.7 170 1 0 -12.2,2.1a6.2,5.7 170 1 0 12.2,-2.1zM1612.1,1516.5a5.9,5.1 116 1 0 -5.1,10.6a5.9,5.1 116 1 0 5.1,-10.6zM1623.5,1452.4a6.8,4.5 131 1 0 -8.9,10.3a6.8,4.5 131 1 0 8.9,-10.3zM1472.6,1513.4a6.4,4.6 7 1 0 12.8,1.6a6.4,4.6 7 1 0 -12.8,-1.6zM1591.7,1444.5a5.0,3.3 107 1 0 -2.8,9.5a5.0,3.3 107 1 0 2.8,-9.5zM1567.3,1595.7a5.6,5.0 83 1 0 1.4,11.2a5.6,5.0 83 1 0 -1.4,-11.2zM1480.6,1507.5a5.6,3.8 171 1 0 -11.1,1.8a5.6,3.8 171 1 0 11.1,-1.8zM1523.7,1448.4a7.0,6.0 158 1 0 -12.9,5.1a7.0,6.0 158 1 0 12.9,-5.1zM1482.9,1522.5a5.8,4.8 134 1 0 -8.2,8.3a5.8,4.8 134 1 0 8.2,-8.3zM1515.3,1594.4a4.9,3.7 166 1 0 -9.5,2.4a4.9,3.7 166 1 0 9.5,-2.4zM1556.1,1498.1a5.9,4.7 3 1 0 11.7,0.6a5.9,4.7 3 1 0 -11.7,-0.6zM1587.5,1478.7a5.4,4.1 24 1 0 9.9,4.4a5.4,4.1 24 1 0 -9.9,-4.4zM1636.7,1532.2a5.4,3.5 112 1 0 -4.0,9.9a5.4,3.5 112 1 0 4.0,-9.9zM1607.4,1420.1a6.1,5.4 36 1 0 9.9,7.1a6.1,5.4 36 1 0 -9.9,-7.1zM1556.4,1500.3a5.0,4.2 39 1 0 7.8,6.3a5.0,4.2 39 1 0 -7.8,-6.3zM1619.8,1449.6a5.4,4.4 95 1 0 -0.9,10.7a5.4,4.4 95 1 0 0.9,-10.7zM1615.1,1452.3a5.7,3.8 93 1 0 -0.6,11.4a5.7,3.8 93 1 0 0.6,-11.4zM1607.0,1493.4a6.1,5.4 77 1 0 2.7,11.8a6.1,5.4 77 1 0 -2.7,-11.8zM1482.5,1487.5a5.6,3.7 135 1 0 -8.0,7.9a5.6,3.7 135 1 0 8.0,-7.9zM1436.8,1451.0a6.6,5.9 21 1 0 12.4,4.8a6.6,5.9 21 1 0 -12.4,-4.8zM1537.7,1428.5a6.6,6.0 82 1 0 1.9,13.1a6.6,6.0 82 1 0 -1.9,-13.1zM1481.7,1475.6a6.0,5.5 11 1 0 11.8,2.3a6.0,5.5 11 1 0 -11.8,-2.3zM1636.7,1593.5a6.2,4.1 69 1 0 4.5,11.5a6.2,4.1 69 1 0 -4.5,-11.5zM1585.0,1416.0a6.1,4.9 5 1 0 12.2,1.2a6.1,4.9 5 1 0 -12.2,-1.2zM1569.6,1540.9a5.2,3.6 52 1 0 6.4,8.2a5.2,3.6 52 1 0 -6.4,-8.2zM1447.1,1464.8a5.6,3.9 118 1 0 -5.2,9.9a5.6,3.9 118 1 0 5.2,-9.9zM1610.7,1463.7a6.4,4.5 177 1 0 -12.8,0.6a6.4,4.5 177 1 0 12.8,-0.6zM1629.8,1405.5a5.7,4.7 134 1 0 -7.9,8.1a5.7,4.7 134 1 0 7.9,-8.1zM1603.5,1445.0a6.8,5.6 122 1 0 -7.2,11.6a6.8,5.6 122 1 0 7.2,-11.6zM1596.8,1579.8a6.5,5.3 87 1 0 0.6,13.0a6.5,5.3 87 1 0 -0.6,-13.0zM1444.9,1409.4a6.4,5.4 9 1 0 12.7,2.1a6.4,5.4 9 1 0 -12.7,-2.1zM1530.6,1584.1a6.7,4.9 179 1 0 -13.4,0.2a6.7,4.9 179 1 0 13.4,-0.2zM1525.8,1471.4a5.9,4.6 65 1 0 5.0,10.6a5.9,4.6 65 1 0 -5.0,-10.6zM1546.4,1541.9a5.4,4.4 176 1 0 -10.8,0.8a5.4,4.4 176 1 0 10.8,-0.8zM1588.7,1581.4a4.9,3.6 80 1 0 1.7,9.7a4.9,3.6 80 1 0 -1.7,-9.7zM1537.3,1427.8a5.0,3.5 132 1 0 -6.7,7.5a5.0,3.5 132 1 0 6.7,-7.5zM1608.5,1504.7a5.7,4.5 88 1 0 0.4,11.3a5.7,4.5 88 1 0 -0.4,-11.3zM1612.6,1478.0a5.9,4.0 0 1 0 11.7,0.1a5.9,4.0 0 1 0 -11.7,-0.1zM1553.0,1544.8a5.3,4.3 155 1 0 -9.7,4.5a5.3,4.3 155 1 0 9.7,-4.5zM1546.7,1430.9a6.5,4.4 174 1 0 -12.9,1.3a6.5,4.4 174 1 0 12.9,-1.3zM1635.0,1515.7a5.9,4.8 71 1 0 3.9,11.2a5.9,4.8 71 1 0 -3.9,-11.2zM1514.6,1484.5a6.6,5.5 125 1 0 -7.6,10.8a6.6,5.5 125 1 0 7.6,-10.8zM1578.0,1586.2a5.0,3.9 57 1 0 5.4,8.3a5.0,3.9 57 1 0 -5.4,-8.3zM1453.5,1518.0a5.2,4.4 125 1 0 -5.9,8.5a5.2,4.4 125 1 0 5.9,-8.5zM1512.9,1571.6a6.2,4.7 89 1 0 0.2,12.4a6.2,4.7 89 1 0 -0.2,-12.4zM1514.1,1494.4a6.2,4.7 67 1 0 4.9,11.5a6.2,4.7 67 1 0 -4.9,-11.5zM1522.0,1434.4a6.4,5.2 174 1 0 -12.8,1.4a6.4,5.2 174 1 0 12.8,-1.4zM1579.3,1581.9a5.9,3.8 39 1 0 9.1,7.4a5.9,3.8 39 1 0 -9.1,-7.4zM1549.1,1457.5a5.0,4.2 82 1 0 1.5,9.9a5.0,4.2 82 1 0 -1.5,-9.9zM1503.3,1555.1a5.1,4.1 53 1 0 6.2,8.2a5.1,4.1 53 1 0 -6.2,-8.2zM1517.0,1512.0a6.0,4.7 51 1 0 7.5,9.3a6.0,4.7 51 1 0 -7.5,-9.3zM1475.3,1556.2a5.0,3.5 93 1 0 -0.6,10.1a5.0,3.5 93 1 0 0.6,-10.1zM1635.6,1558.5a6.1,4.0 87 1 0 0.6,12.1a6.1,4.0 87 1 0 -0.6,-12.1zM1474.1,1570.9a6.0,4.8 108 1 0 -3.7,11.5a6.0,4.8 108 1 0 3.7,-11.5zM1582.5,1554.2a5.1,3.9 4 1 0 10.2,0.8a5.1,3.9 4 1 0 -10.2,-0.8zM1535.2,1541.8a5.6,4.3 170 1 0 -11.0,1.9a5.6,4.3 170 1 0 11.0,-1.9zM1563.6,1534.6a5.8,5.0 26 1 0 10.5,5.2a5.8,5.0 26 1 0 -10.5,-5.2zM1508.8,1597.1a5.3,3.9 68 1 0 3.9,9.9a5.3,3.9 68 1 0 -3.9,-9.9zM1551.1,1528.4a6.8,5.8 25 1 0 12.3,5.8a6.8,5.8 25 1 0 -12.3,-5.8zM1511.2,1570.8a6.2,5.1 7 1 0 12.4,1.6a6.2,5.1 7 1 0 -12.4,-1.6zM1470.5,1425.3a6.4,4.9 60 1 0 6.4,11.0a6.4,4.9 60 1 0 -6.4,-11.0zM1627.4,1575.3a6.5,4.7 99 1 0 -2.1,12.9a6.5,4.7 99 1 0 2.1,-12.9zM1643.9,1478.3a5.0,3.4 160 1 0 -9.4,3.5a5.0,3.4 160 1 0 9.4,-3.5zM1614.0,1596.2a5.2,4.3 60 1 0 5.1,9.0a5.2,4.3 60 1 0 -5.1,-9.0zM1549.8,1436.4a6.2,4.7 124 1 0 -7.0,10.3a6.2,4.7 124 1 0 7.0,-10.3zM1557.6,1491.2a5.5,3.8 99 1 0 -1.7,10.9a5.5,3.8 99 1 0 1.7,-10.9zM1626.2,1402.1a6.1,4.8 122 1 0 -6.6,10.3a6.1,4.8 122 1 0 6.6,-10.3zM1504.5,1592.8a6.3,5.5 122 1 0 -6.7,10.8a6.3,5.5 122 1 0 6.7,-10.8zM1590.2,1564.2a5.5,4.8 77 1 0 2.4,10.8a5.5,4.8 77 1 0 -2.4,-10.8zM1540.9,1519.4a5.7,3.8 28 1 0 10.0,5.4a5.7,3.8 28 1 0 -10.0,-5.4zM1492.3,1420.2a6.7,5.3 60 1 0 6.6,11.6a6.7,5.3 60 1 0 -6.6,-11.6zM1649.4,1550.1a5.3,4.5 178 1 0 -10.7,0.3a5.3,4.5 178 1 0 10.7,-0.3zM1635.7,1490.0a5.9,4.8 87 1 0 0.6,11.7a5.9,4.8 87 1 0 -0.6,-11.7zM1449.2,1472.3a6.7,5.2 32 1 0 11.3,7.2a6.7,5.2 32 1 0 -11.3,-7.2zM1451.3,1534.9a6.6,4.6 124 1 0 -7.3,11.0a6.6,4.6 124 1 0 7.3,-11.0zM1502.4,1418.2a5.3,3.6 74 1 0 3.0,10.1a5.3,3.6 74 1 0 -3.0,-10.1zM1442.9,1574.4a5.3,4.5 3 1 0 10.5,0.5a5.3,4.5 3 1 0 -10.5,-0.5zM1469.0,1448.5a5.8,5.1 37 1 0 9.2,7.0a5.8,5.1 37 1 0 -9.2,-7.0zM1515.7,1561.9a5.1,3.6 20 1 0 9.6,3.6a5.1,3.6 20 1 0 -9.6,-3.6zM1554.6,1458.5a6.2,5.1 123 1 0 -6.7,10.5a6.2,5.1 123 1 0 6.7,-10.5zM1550.9,1573.2a6.5,5.8 142 1 0 -10.2,7.9a6.5,5.8 142 1 0 10.2,-7.9zM1564.3,1586.2a6.8,6.1 108 1 0 -4.2,13.0a6.8,6.1 108 1 0 4.2,-13.0zM1555.9,1408.0a5.3,3.5 123 1 0 -5.8,8.8a5.3,3.5 123 1 0 5.8,-8.8zM1636.9,1402.7a6.6,5.0 169 1 0 -12.9,2.4a6.6,5.0 169 1 0 12.9,-2.4zM1547.4,1437.5a5.2,4.8 125 1 0 -6.0,8.6a5.2,4.8 125 1 0 6.0,-8.6zM1446.9,1583.9a5.2,3.5 66 1 0 4.2,9.5a5.2,3.5 66 1 0 -4.2,-9.5zM1613.9,1437.2a6.2,4.3 66 1 0 5.0,11.3a6.2,4.3 66 1 0 -5.0,-11.3zM1528.4,1577.1a6.3,4.8 164 1 0 -12.0,3.5a6.3,4.8 164 1 0 12.0,-3.5z" fill="#421a08" filter="url(#bb25)"/>
<filter id="bb26" x="-5%" y="-5%" width="110%" height="110%"><feGaussianBlur stdDeviation="0.8"/></filter>
<path d="M1604.0,1537.8a2.9,2.3 121 1 0 -3.1,5.0a2.9,2.3 121 1 0 3.1,-5.0zM1644.9,1450.3a4.5,4.4 26 1 0 8.0,3.9a4.5,4.4 26 1 0 -8.0,-3.9zM1615.5,1577.3a3.9,3.7 109 1 0 -2.6,7.5a3.9,3.7 109 1 0 2.6,-7.5zM1619.7,1516.5a3.2,2.5 72 1 0 1.9,6.1a3.2,2.5 72 1 0 -1.9,-6.1zM1574.8,1520.6a3.4,2.8 141 1 0 -5.3,4.3a3.4,2.8 141 1 0 5.3,-4.3zM1547.7,1575.6a4.4,3.2 106 1 0 -2.5,8.5a4.4,3.2 106 1 0 2.5,-8.5zM1451.9,1575.8a3.0,2.7 82 1 0 0.9,5.9a3.0,2.7 82 1 0 -0.9,-5.9zM1458.3,1437.2a4.5,3.2 48 1 0 6.1,6.7a4.5,3.2 48 1 0 -6.1,-6.7zM1461.4,1418.5a3.4,2.8 159 1 0 -6.4,2.5a3.4,2.8 159 1 0 6.4,-2.5zM1573.1,1564.9a4.6,4.3 157 1 0 -8.4,3.6a4.6,4.3 157 1 0 8.4,-3.6zM1467.1,1440.1a4.6,4.0 1 1 0 9.2,0.2a4.6,4.0 1 1 0 -9.2,-0.2zM1457.5,1546.8a4.1,3.7 34 1 0 6.8,4.6a4.1,3.7 34 1 0 -6.8,-4.6zM1559.9,1518.3a3.5,3.3 33 1 0 5.9,3.9a3.5,3.3 33 1 0 -5.9,-3.9zM1468.7,1584.1a3.9,3.4 160 1 0 -7.3,2.6a3.9,3.4 160 1 0 7.3,-2.6zM1502.4,1418.3a3.6,2.7 20 1 0 6.8,2.5a3.6,2.7 20 1 0 -6.8,-2.5zM1559.1,1419.4a4.1,3.1 11 1 0 8.0,1.6a4.1,3.1 11 1 0 -8.0,-1.6zM1440.2,1599.4a4.3,3.5 50 1 0 5.5,6.5a4.3,3.5 50 1 0 -5.5,-6.5zM1574.7,1532.6a4.2,3.4 72 1 0 2.6,8.1a4.2,3.4 72 1 0 -2.6,-8.1zM1508.9,1563.9a4.1,4.0 51 1 0 5.1,6.3a4.1,4.0 51 1 0 -5.1,-6.3zM1606.2,1453.3a3.7,3.1 7 1 0 7.3,1.0a3.7,3.1 7 1 0 -7.3,-1.0zM1598.9,1426.2a4.3,3.6 65 1 0 3.6,7.7a4.3,3.6 65 1 0 -3.6,-7.7zM1527.4,1544.2a4.2,3.0 94 1 0 -0.6,8.3a4.2,3.0 94 1 0 0.6,-8.3zM1559.1,1515.4a4.6,4.2 23 1 0 8.5,3.6a4.6,4.2 23 1 0 -8.5,-3.6zM1605.0,1408.6a4.6,4.0 125 1 0 -5.3,7.5a4.6,4.0 125 1 0 5.3,-7.5zM1599.5,1534.7a3.1,2.8 70 1 0 2.1,5.8a3.1,2.8 70 1 0 -2.1,-5.8zM1451.1,1567.7a4.9,4.5 84 1 0 1.0,9.7a4.9,4.5 84 1 0 -1.0,-9.7zM1602.4,1406.5a4.1,3.2 119 1 0 -3.9,7.1a4.1,3.2 119 1 0 3.9,-7.1zM1575.0,1418.8a3.2,2.4 7 1 0 6.3,0.8a3.2,2.4 7 1 0 -6.3,-0.8zM1471.8,1599.5a3.1,2.3 102 1 0 -1.3,6.0a3.1,2.3 102 1 0 1.3,-6.0zM1605.5,1553.3a3.8,2.8 113 1 0 -2.9,7.0a3.8,2.8 113 1 0 2.9,-7.0zM1640.3,1446.0a3.9,3.9 124 1 0 -4.4,6.4a3.9,3.9 124 1 0 4.4,-6.4zM1546.2,1489.0a4.3,3.1 163 1 0 -8.3,2.6a4.3,3.1 163 1 0 8.3,-2.6zM1586.4,1574.3a2.9,2.3 137 1 0 -4.3,4.0a2.9,2.3 137 1 0 4.3,-4.0zM1581.0,1485.9a4.3,3.8 65 1 0 3.6,7.7a4.3,3.8 65 1 0 -3.6,-7.7zM1594.9,1471.8a3.8,3.5 161 1 0 -7.3,2.5a3.8,3.5 161 1 0 7.3,-2.5zM1490.5,1458.4a4.5,3.6 92 1 0 -0.2,8.9a4.5,3.6 92 1 0 0.2,-8.9zM1609.4,1472.3a4.5,4.5 9 1 0 8.9,1.4a4.5,4.5 9 1 0 -8.9,-1.4zM1607.8,1400.0a4.5,4.2 139 1 0 -6.9,6.0a4.5,4.2 139 1 0 6.9,-6.0zM1492.2,1402.1a4.4,3.6 103 1 0 -2.0,8.6a4.4,3.6 103 1 0 2.0,-8.6zM1530.7,1438.4a3.0,3.0 159 1 0 -5.7,2.2a3.0,3.0 159 1 0 5.7,-2.2zM1531.2,1592.9a4.5,3.7 57 1 0 4.9,7.5a4.5,3.7 57 1 0 -4.9,-7.5zM1556.9,1412.9a3.0,2.8 125 1 0 -3.5,5.0a3.0,2.8 125 1 0 3.5,-5.0zM1651.7,1404.8a3.5,2.5 154 1 0 -6.4,3.1a3.5,2.5 154 1 0 6.4,-3.1zM1614.7,1486.1a2.9,2.4 8 1 0 5.8,0.8a2.9,2.4 8 1 0 -5.8,-0.8zM1451.8,1561.8a3.7,3.5 84 1 0 0.8,7.4a3.7,3.5 84 1 0 -0.8,-7.4zM1605.1,1412.4a3.3,2.6 172 1 0 -6.6,1.0a3.3,2.6 172 1 0 6.6,-1.0zM1648.1,1445.0a3.9,3.3 130 1 0 -5.0,6.0a3.9,3.3 130 1 0 5.0,-6.0zM1627.1,1545.1a3.1,3.0 32 1 0 5.2,3.3a3.1,3.0 32 1 0 -5.2,-3.3zM1557.0,1533.1a3.5,2.7 18 1 0 6.6,2.2a3.5,2.7 18 1 0 -6.6,-2.2zM1646.6,1421.4a3.8,3.3 137 1 0 -5.6,5.2a3.8,3.3 137 1 0 5.6,-5.2zM1479.7,1487.6a4.3,3.7 85 1 0 0.8,8.7a4.3,3.7 85 1 0 -0.8,-8.7zM1470.8,1470.2a4.0,3.3 116 1 0 -3.5,7.2a4.0,3.3 116 1 0 3.5,-7.2z" fill="#7a3c1c" filter="url(#bb26)" opacity="0.8"/>
</g>
<rect x="1445.5" y="1403.4" width="200" height="197" fill="none" stroke="#000" stroke-width="2.2"/>
<text x="771" y="1378" font-size="12.8" text-anchor="start" fill="#000" style="stroke-width:0.4px">10μM</text>
<line x1="775.3" y1="1382.3" x2="798.9" y2="1382.3" stroke="#000" stroke-width="2.4" />
<text x="996.8" y="1378" font-size="12.8" text-anchor="start" fill="#000" style="stroke-width:0.4px">10μM</text>
<line x1="1000.8" y1="1381.5" x2="1026.6" y2="1381.5" stroke="#000" stroke-width="2.4" />
<text x="1224" y="1374.5" font-size="12.8" text-anchor="start" fill="#000" style="stroke-width:0.4px">10μM</text>
<line x1="1229.5" y1="1378.7" x2="1254" y2="1378.7" stroke="#000" stroke-width="2.4" />
<text x="1458.9" y="1374.5" font-size="12.8" text-anchor="start" fill="#000" style="stroke-width:0.4px">10μM</text>
<line x1="1465" y1="1376" x2="1488" y2="1376" stroke="#000" stroke-width="2.4" />
<text x="777" y="1585" font-size="12.8" text-anchor="start" fill="#000" style="stroke-width:0.4px">10μM</text>
<line x1="782" y1="1590" x2="806" y2="1590" stroke="#000" stroke-width="2.4" />
<text x="992" y="1585" font-size="12.8" text-anchor="start" fill="#000" style="stroke-width:0.4px">10μM</text>
<line x1="996" y1="1590" x2="1020" y2="1590" stroke="#000" stroke-width="2.4" />
<text x="1225" y="1582" font-size="12.8" text-anchor="start" fill="#000" style="stroke-width:0.4px">10μM</text>
<line x1="1230" y1="1590" x2="1254" y2="1590" stroke="#000" stroke-width="2.4" />
<text x="1447" y="1582" font-size="12.8" text-anchor="start" fill="#000" style="stroke-width:0.4px">10μM</text>
<line x1="1452" y1="1590" x2="1476" y2="1590" stroke="#000" stroke-width="2.4" />
<text x="215.2" y="1688.3" font-size="38" text-anchor="start" fill="#000" >G</text>
<line x1="322.8" y1="1825.8" x2="322.8" y2="1857.5" stroke="#000" stroke-width="1.6" />
<line x1="338.1" y1="1814.4" x2="338.1" y2="1857.5" stroke="#b01e1e" stroke-width="1.6" />
<rect x="315.9" y="1857.5" width="13.8" height="151" fill="#000" />
<rect x="329.6" y="1857.5" width="16.8" height="151" fill="#b01e1e" />
<line x1="366.5" y1="1920.9" x2="366.5" y2="1925.4" stroke="#1c1c1c" stroke-width="1.6" />
<line x1="382.7" y1="1725.1" x2="382.7" y2="1755.1" stroke="#b01e1e" stroke-width="1.6" />
<rect x="359.1" y="1925.4" width="14.9" height="83" fill="#1c1c1c" />
<rect x="374" y="1755.1" width="17.4" height="253.3" fill="#b01e1e" />
<line x1="410.3" y1="1888.6" x2="410.3" y2="1896" stroke="#1c1c1c" stroke-width="1.6" />
<line x1="426.3" y1="1774.4" x2="426.3" y2="1797.1" stroke="#b01e1e" stroke-width="1.6" />
<rect x="402.9" y="1896" width="14.9" height="112.5" fill="#1c1c1c" />
<rect x="417.8" y="1797.1" width="17.1" height="211.4" fill="#b01e1e" />
<line x1="454.4" y1="1943.5" x2="454.4" y2="1960.4" stroke="#1c1c1c" stroke-width="1.6" />
<line x1="470.2" y1="1868.6" x2="470.2" y2="1871.2" stroke="#b01e1e" stroke-width="1.6" />
<rect x="446.9" y="1960.4" width="14.9" height="48" fill="#1c1c1c" />
<rect x="461.8" y="1871.2" width="16.8" height="137.2" fill="#b01e1e" />
<line x1="498.4" y1="1949.6" x2="498.4" y2="1963.2" stroke="#1c1c1c" stroke-width="1.6" />
<line x1="514.3" y1="1863.1" x2="514.3" y2="1880.1" stroke="#b01e1e" stroke-width="1.6" />
<rect x="491" y="1963.2" width="14.9" height="45.3" fill="#1c1c1c" />
<rect x="505.9" y="1880.1" width="16.8" height="128.3" fill="#b01e1e" />
<line x1="542.2" y1="1951.1" x2="542.2" y2="1969.6" stroke="#1c1c1c" stroke-width="1.6" />
<line x1="558.1" y1="1826.1" x2="558.1" y2="1854.5" stroke="#b01e1e" stroke-width="1.6" />
<rect x="534.8" y="1969.6" width="14.9" height="38.8" fill="#1c1c1c" />
<rect x="549.6" y="1854.5" width="16.8" height="154" fill="#b01e1e" />
<line x1="586.3" y1="1955.6" x2="586.3" y2="1973.9" stroke="#1c1c1c" stroke-width="1.6" />
<line x1="602.1" y1="1920.9" x2="602.1" y2="1925.7" stroke="#b01e1e" stroke-width="1.6" />
<rect x="578.8" y="1973.9" width="14.9" height="34.6" fill="#1c1c1c" />
<rect x="593.7" y="1925.7" width="16.8" height="82.7" fill="#b01e1e" />
<rect x="313.1" y="1706.5" width="301.7" height="301.9" fill="none" stroke="#000" stroke-width="2.5"/>
<line x1="306.1" y1="2008.4" x2="313.1" y2="2008.4" stroke="#000" stroke-width="2.4" />
<text x="302" y="2016.9" font-size="24.2" text-anchor="end" fill="#000" >0</text>
<line x1="306.1" y1="1933" x2="313.1" y2="1933" stroke="#000" stroke-width="2.4" />
<text x="302" y="1941.5" font-size="24.2" text-anchor="end" fill="#000" >50</text>
<line x1="306.1" y1="1857.5" x2="313.1" y2="1857.5" stroke="#000" stroke-width="2.4" />
<text x="302" y="1866" font-size="24.2" text-anchor="end" fill="#000" >100</text>
<line x1="306.1" y1="1782" x2="313.1" y2="1782" stroke="#000" stroke-width="2.4" />
<text x="302" y="1790.5" font-size="24.2" text-anchor="end" fill="#000" >150</text>
<line x1="306.1" y1="1706.5" x2="313.1" y2="1706.5" stroke="#000" stroke-width="2.4" />
<text x="302" y="1715" font-size="24.2" text-anchor="end" fill="#000" >200</text>
<text x="329.6" y="2031" font-size="23.6" text-anchor="middle" fill="#000" >0</text>
<text x="375.2" y="2031" font-size="23.6" text-anchor="middle" fill="#000" >0.1</text>
<text x="418.9" y="2031" font-size="23.6" text-anchor="middle" fill="#000" >0.2</text>
<text x="462.8" y="2031" font-size="23.6" text-anchor="middle" fill="#000" >0.5</text>
<text x="506.9" y="2031" font-size="23.6" text-anchor="middle" fill="#000" >0.7</text>
<text x="550.6" y="2031" font-size="23.6" text-anchor="middle" fill="#000" >1.0</text>
<text x="594.7" y="2031" font-size="23.6" text-anchor="middle" fill="#000" >2.0</text>
<line x1="368.9" y1="1720.5" x2="383.5" y2="1720.5" stroke="#000" stroke-width="1.3" />
<line x1="368.9" y1="1717.2" x2="368.9" y2="1723.8" stroke="#000" stroke-width="1.6" />
<line x1="383.5" y1="1717.2" x2="383.5" y2="1723.8" stroke="#000" stroke-width="1.6" />
<text x="376.2" y="1722.5" font-size="18" text-anchor="middle" fill="#000" font-weight="bold">**</text>
<line x1="412.4" y1="1765.4" x2="426.5" y2="1765.4" stroke="#000" stroke-width="1.3" />
<line x1="412.4" y1="1762.1" x2="412.4" y2="1768.7" stroke="#000" stroke-width="1.6" />
<line x1="426.5" y1="1762.1" x2="426.5" y2="1768.7" stroke="#000" stroke-width="1.6" />
<text x="419.4" y="1767.4" font-size="18" text-anchor="middle" fill="#000" font-weight="bold">**</text>
<line x1="455.6" y1="1854.7" x2="469.7" y2="1854.7" stroke="#000" stroke-width="1.3" />
<line x1="455.6" y1="1851.4" x2="455.6" y2="1858" stroke="#000" stroke-width="1.6" />
<line x1="469.7" y1="1851.4" x2="469.7" y2="1858" stroke="#000" stroke-width="1.6" />
<text x="462.7" y="1856.7" font-size="18" text-anchor="middle" fill="#000" font-weight="bold">**</text>
<line x1="500.5" y1="1849.3" x2="514.3" y2="1849.3" stroke="#000" stroke-width="1.3" />
<line x1="500.5" y1="1846" x2="500.5" y2="1852.6" stroke="#000" stroke-width="1.6" />
<line x1="514.3" y1="1846" x2="514.3" y2="1852.6" stroke="#000" stroke-width="1.6" />
<text x="507.4" y="1851.3" font-size="18" text-anchor="middle" fill="#000" font-weight="bold">*</text>
<line x1="544.6" y1="1816.8" x2="558.9" y2="1816.8" stroke="#000" stroke-width="1.3" />
<line x1="544.6" y1="1813.5" x2="544.6" y2="1820.1" stroke="#000" stroke-width="1.6" />
<line x1="558.9" y1="1813.5" x2="558.9" y2="1820.1" stroke="#000" stroke-width="1.6" />
<text x="551.8" y="1818.8" font-size="18" text-anchor="middle" fill="#000" font-weight="bold">**</text>
<text x="480.9" y="1689.3" font-size="23.7" text-anchor="middle" fill="#000" >vemurafenib (μM)</text>
<rect x="459.6" y="1719.4" width="18.2" height="14" fill="#000" />
<rect x="459.6" y="1745.5" width="18.2" height="14.6" fill="#b01e1e" />
<text x="486.2" y="1736.5" font-size="23.5" text-anchor="start" fill="#000" >A375-v</text>
<text x="486.2" y="1760.3" font-size="23.4" text-anchor="start" fill="#000" >A375RIV1</text>
<text x="0" y="0" font-size="23.6" text-anchor="middle" transform="translate(244.5,1856) rotate(-90)">colony (% vs untreated cells)</text>
<line x1="694.5" y1="1759.4" x2="694.5" y2="1803.3" stroke="#000" stroke-width="1.6" />
<line x1="710.3" y1="1745.1" x2="710.3" y2="1803.3" stroke="#b01e1e" stroke-width="1.6" />
<rect x="687.1" y="1803.3" width="14.8" height="200.5" fill="#000" />
<rect x="701.9" y="1803.3" width="16.8" height="200.5" fill="#b01e1e" />
<line x1="738.8" y1="1870.4" x2="738.8" y2="1883.9" stroke="#1c1c1c" stroke-width="1.6" />
<line x1="754.4" y1="1800.3" x2="754.4" y2="1809.7" stroke="#b01e1e" stroke-width="1.6" />
<rect x="731.5" y="1883.9" width="14.5" height="119.9" fill="#1c1c1c" />
<rect x="746" y="1809.7" width="16.8" height="194.1" fill="#b01e1e" />
<line x1="782.9" y1="1885.5" x2="782.9" y2="1899.9" stroke="#1c1c1c" stroke-width="1.6" />
<line x1="798.6" y1="1748.1" x2="798.6" y2="1770.8" stroke="#b01e1e" stroke-width="1.6" />
<rect x="775.6" y="1899.9" width="14.5" height="103.9" fill="#1c1c1c" />
<rect x="790.2" y="1770.8" width="16.8" height="233" fill="#b01e1e" />
<line x1="827" y1="1929" x2="827" y2="1951.2" stroke="#1c1c1c" stroke-width="1.6" />
<line x1="842.7" y1="1847.2" x2="842.7" y2="1864.8" stroke="#b01e1e" stroke-width="1.6" />
<rect x="819.7" y="1951.2" width="14.5" height="52.5" fill="#1c1c1c" />
<rect x="834.3" y="1864.8" width="16.8" height="139" fill="#b01e1e" />
<line x1="871.1" y1="1940.4" x2="871.1" y2="1962.5" stroke="#1c1c1c" stroke-width="1.6" />
<line x1="887" y1="1859.8" x2="887" y2="1894.9" stroke="#b01e1e" stroke-width="1.6" />
<rect x="863.9" y="1962.5" width="14.5" height="41.3" fill="#1c1c1c" />
<rect x="878.4" y="1894.9" width="17.1" height="108.9" fill="#b01e1e" />
<line x1="915.5" y1="1926.8" x2="915.5" y2="1956.3" stroke="#1c1c1c" stroke-width="1.6" />
<line x1="931.2" y1="1870.4" x2="931.2" y2="1907.5" stroke="#b01e1e" stroke-width="1.6" />
<rect x="908.3" y="1956.3" width="14.5" height="47.5" fill="#1c1c1c" />
<rect x="922.8" y="1907.5" width="16.8" height="96.2" fill="#b01e1e" />
<line x1="959.7" y1="1941.8" x2="959.7" y2="1962.5" stroke="#1c1c1c" stroke-width="1.6" />
<line x1="975.4" y1="1888.7" x2="975.4" y2="1925" stroke="#b01e1e" stroke-width="1.6" />
<rect x="952.4" y="1962.5" width="14.5" height="41.3" fill="#1c1c1c" />
<rect x="966.9" y="1925" width="16.8" height="78.8" fill="#b01e1e" />
<rect x="684.3" y="1703" width="303.8" height="300.8" fill="none" stroke="#000" stroke-width="2.5"/>
<line x1="677.3" y1="2003.8" x2="684.3" y2="2003.8" stroke="#000" stroke-width="2.4" />
<text x="675.3" y="2012.3" font-size="24.2" text-anchor="end" fill="#000" >0</text>
<line x1="677.3" y1="1903.5" x2="684.3" y2="1903.5" stroke="#000" stroke-width="2.4" />
<text x="675.3" y="1912" font-size="24.2" text-anchor="end" fill="#000" >50</text>
<line x1="677.3" y1="1803.3" x2="684.3" y2="1803.3" stroke="#000" stroke-width="2.4" />
<text x="675.3" y="1811.8" font-size="24.2" text-anchor="end" fill="#000" >100</text>
<line x1="677.3" y1="1703" x2="684.3" y2="1703" stroke="#000" stroke-width="2.4" />
<text x="675.3" y="1711.5" font-size="24.2" text-anchor="end" fill="#000" >150</text>
<text x="698.6" y="2031" font-size="23.6" text-anchor="middle" fill="#000" >0</text>
<text x="742.7" y="2031" font-size="23.6" text-anchor="middle" fill="#000" >1</text>
<text x="789.3" y="2031" font-size="23.6" text-anchor="middle" fill="#000" >2</text>
<text x="836.4" y="2031" font-size="23.6" text-anchor="middle" fill="#000" >5</text>
<text x="876.2" y="2031" font-size="23.6" text-anchor="middle" fill="#000" >10</text>
<text x="922.1" y="2031" font-size="23.6" text-anchor="middle" fill="#000" >20</text>
<text x="969.9" y="2031" font-size="23.6" text-anchor="middle" fill="#000" >50</text>
<line x1="740.4" y1="1791" x2="754.4" y2="1791" stroke="#000" stroke-width="1.3" />
<line x1="740.4" y1="1787.7" x2="740.4" y2="1794.3" stroke="#000" stroke-width="1.6" />
<line x1="754.4" y1="1787.7" x2="754.4" y2="1794.3" stroke="#000" stroke-width="1.6" />
<text x="747.4" y="1793" font-size="18" text-anchor="middle" fill="#000" font-weight="bold">*</text>
<line x1="784.8" y1="1740" x2="799.3" y2="1740" stroke="#000" stroke-width="1.3" />
<line x1="784.8" y1="1736.7" x2="784.8" y2="1743.3" stroke="#000" stroke-width="1.6" />
<line x1="799.3" y1="1736.7" x2="799.3" y2="1743.3" stroke="#000" stroke-width="1.6" />
<text x="792.1" y="1742" font-size="18" text-anchor="middle" fill="#000" font-weight="bold">**</text>
<line x1="828.9" y1="1836.9" x2="843.5" y2="1836.9" stroke="#000" stroke-width="1.3" />
<line x1="828.9" y1="1833.6" x2="828.9" y2="1840.2" stroke="#000" stroke-width="1.6" />
<line x1="843.5" y1="1833.6" x2="843.5" y2="1840.2" stroke="#000" stroke-width="1.6" />
<text x="836.2" y="1838.9" font-size="18" text-anchor="middle" fill="#000" font-weight="bold">*</text>
<text x="849.6" y="1689.7" font-size="23.7" text-anchor="middle" fill="#000" >cobimetinib (nM)</text>
<line x1="1093.5" y1="1930" x2="1093.5" y2="1942.3" stroke="#000" stroke-width="1.6" />
<line x1="1108.4" y1="1931.1" x2="1108.4" y2="1943.4" stroke="#b01e1e" stroke-width="1.6" />
<rect x="1086.7" y="1942.3" width="13.5" height="60" fill="#000" />
<rect x="1100.3" y="1943.4" width="16.3" height="58.8" fill="#b01e1e" />
<line x1="1136.6" y1="1773.7" x2="1136.6" y2="1784.4" stroke="#1c1c1c" stroke-width="1.6" />
<line x1="1152" y1="1765.1" x2="1152" y2="1787.2" stroke="#b01e1e" stroke-width="1.6" />
<rect x="1129.6" y="1784.4" width="14" height="217.8" fill="#1c1c1c" />
<rect x="1143.6" y="1787.2" width="16.8" height="215" fill="#b01e1e" />
<line x1="1181" y1="1823.9" x2="1181" y2="1832.6" stroke="#1c1c1c" stroke-width="1.6" />
<line x1="1196.3" y1="1842.5" x2="1196.3" y2="1850.7" stroke="#b01e1e" stroke-width="1.6" />
<rect x="1173" y="1832.6" width="16.1" height="169.6" fill="#1c1c1c" />
<rect x="1189" y="1850.7" width="14.5" height="151.6" fill="#b01e1e" />
<line x1="1223.2" y1="1980.8" x2="1223.2" y2="1986.4" stroke="#1c1c1c" stroke-width="1.6" />
<line x1="1238.9" y1="1851.3" x2="1238.9" y2="1859.6" stroke="#b01e1e" stroke-width="1.6" />
<rect x="1216.3" y="1986.4" width="13.8" height="15.8" fill="#1c1c1c" />
<rect x="1231.1" y="1859.6" width="15.6" height="142.7" fill="#b01e1e" />
<line x1="1266.5" y1="1979.8" x2="1266.5" y2="1985.9" stroke="#1c1c1c" stroke-width="1.6" />
<line x1="1281.8" y1="1881.6" x2="1281.8" y2="1882.6" stroke="#b01e1e" stroke-width="1.6" />
<rect x="1259.7" y="1985.9" width="13.5" height="16.3" fill="#1c1c1c" />
<rect x="1273.7" y="1882.6" width="16.1" height="119.7" fill="#b01e1e" />
<line x1="1309.9" y1="1980.8" x2="1309.9" y2="1987.7" stroke="#1c1c1c" stroke-width="1.6" />
<line x1="1325" y1="1929" x2="1325" y2="1933.4" stroke="#b01e1e" stroke-width="1.6" />
<rect x="1303.1" y="1987.7" width="13.8" height="14.6" fill="#1c1c1c" />
<rect x="1317.1" y="1933.4" width="15.8" height="68.9" fill="#b01e1e" />
<line x1="1352.9" y1="1981.9" x2="1352.9" y2="1987.4" stroke="#1c1c1c" stroke-width="1.6" />
<line x1="1368.4" y1="1966" x2="1368.4" y2="1971.1" stroke="#b01e1e" stroke-width="1.6" />
<rect x="1346.2" y="1987.4" width="13.5" height="14.8" fill="#1c1c1c" />
<rect x="1360.2" y="1971.1" width="16.3" height="31.1" fill="#b01e1e" />
<rect x="1084.2" y="1705.1" width="296.9" height="297.2" fill="none" stroke="#000" stroke-width="2.5"/>
<line x1="1077.2" y1="2002.2" x2="1084.2" y2="2002.2" stroke="#000" stroke-width="2.4" />
<text x="1069.9" y="2010.7" font-size="24.2" text-anchor="end" fill="#000" >0</text>
<line x1="1077.2" y1="1942.8" x2="1084.2" y2="1942.8" stroke="#000" stroke-width="2.4" />
<text x="1069.9" y="1951.3" font-size="24.2" text-anchor="end" fill="#000" >100</text>
<line x1="1077.2" y1="1883.4" x2="1084.2" y2="1883.4" stroke="#000" stroke-width="2.4" />
<text x="1069.9" y="1891.9" font-size="24.2" text-anchor="end" fill="#000" >200</text>
<line x1="1077.2" y1="1823.9" x2="1084.2" y2="1823.9" stroke="#000" stroke-width="2.4" />
<text x="1069.9" y="1832.4" font-size="24.2" text-anchor="end" fill="#000" >300</text>
<line x1="1077.2" y1="1764.5" x2="1084.2" y2="1764.5" stroke="#000" stroke-width="2.4" />
<text x="1069.9" y="1773" font-size="24.2" text-anchor="end" fill="#000" >400</text>
<line x1="1077.2" y1="1705.1" x2="1084.2" y2="1705.1" stroke="#000" stroke-width="2.4" />
<text x="1069.9" y="1713.6" font-size="24.2" text-anchor="end" fill="#000" >500</text>
<text x="1101.7" y="2023.5" font-size="23.6" text-anchor="middle" fill="#000" >0</text>
<text x="1142.5" y="2023.5" font-size="23.6" text-anchor="middle" fill="#000" >0.05</text>
<text x="1188.3" y="2023.5" font-size="23.6" text-anchor="middle" fill="#000" >0.1</text>
<text x="1231.5" y="2023.5" font-size="23.6" text-anchor="middle" fill="#000" >1</text>
<text x="1274.7" y="2023.5" font-size="23.6" text-anchor="middle" fill="#000" >2</text>
<text x="1318" y="2023.5" font-size="23.6" text-anchor="middle" fill="#000" >4</text>
<text x="1370.4" y="2023.5" font-size="23.6" text-anchor="middle" fill="#000" >10</text>
<line x1="1225.5" y1="1839.7" x2="1240.1" y2="1839.7" stroke="#000" stroke-width="1.3" />
<line x1="1225.5" y1="1836.4" x2="1225.5" y2="1843" stroke="#000" stroke-width="1.6" />
<line x1="1240.1" y1="1836.4" x2="1240.1" y2="1843" stroke="#000" stroke-width="1.6" />
<text x="1232.8" y="1841.7" font-size="18" text-anchor="middle" fill="#000" font-weight="bold">**</text>
<line x1="1268.6" y1="1872.1" x2="1282.7" y2="1872.1" stroke="#000" stroke-width="1.3" />
<line x1="1268.6" y1="1868.8" x2="1268.6" y2="1875.4" stroke="#000" stroke-width="1.6" />
<line x1="1282.7" y1="1868.8" x2="1282.7" y2="1875.4" stroke="#000" stroke-width="1.6" />
<text x="1275.6" y="1874.1" font-size="18" text-anchor="middle" fill="#000" font-weight="bold">**</text>
<line x1="1310.7" y1="1922.1" x2="1324.7" y2="1922.1" stroke="#000" stroke-width="1.3" />
<line x1="1310.7" y1="1918.8" x2="1310.7" y2="1925.4" stroke="#000" stroke-width="1.6" />
<line x1="1324.7" y1="1918.8" x2="1324.7" y2="1925.4" stroke="#000" stroke-width="1.6" />
<text x="1317.7" y="1924.1" font-size="18" text-anchor="middle" fill="#000" font-weight="bold">**</text>
<text x="1227" y="1689.7" font-size="23.7" text-anchor="middle" fill="#000" >trametinib (nM)</text>
<line x1="324.6" y1="2357.9" x2="324.6" y2="2370.6" stroke="#000" stroke-width="1.6" />
<line x1="340" y1="2359.1" x2="340" y2="2371.2" stroke="#b01e1e" stroke-width="1.6" />
<rect x="317.3" y="2370.6" width="14.6" height="60.1" fill="#000" />
<rect x="331.9" y="2371.2" width="16.3" height="59.5" fill="#b01e1e" />
<line x1="368.4" y1="2374.5" x2="368.4" y2="2375" stroke="#1c1c1c" stroke-width="1.6" />
<line x1="383.8" y1="2242.3" x2="383.8" y2="2253.4" stroke="#b01e1e" stroke-width="1.6" />
<rect x="361.4" y="2375" width="14" height="55.6" fill="#1c1c1c" />
<rect x="375.4" y="2253.4" width="16.8" height="177.3" fill="#b01e1e" />
<line x1="411.9" y1="2394.1" x2="411.9" y2="2398.3" stroke="#1c1c1c" stroke-width="1.6" />
<line x1="427.6" y1="2173.1" x2="427.6" y2="2201.1" stroke="#b01e1e" stroke-width="1.6" />
<rect x="404.8" y="2398.3" width="14" height="32.3" fill="#1c1c1c" />
<rect x="418.9" y="2201.1" width="17.4" height="229.5" fill="#b01e1e" />
<line x1="455.5" y1="2413" x2="455.5" y2="2418.6" stroke="#1c1c1c" stroke-width="1.6" />
<line x1="471.1" y1="2344.2" x2="471.1" y2="2352.1" stroke="#b01e1e" stroke-width="1.6" />
<rect x="448.3" y="2418.6" width="14.3" height="12" fill="#1c1c1c" />
<rect x="462.7" y="2352.1" width="16.8" height="78.6" fill="#b01e1e" />
<line x1="499.3" y1="2408.2" x2="499.3" y2="2415.8" stroke="#1c1c1c" stroke-width="1.6" />
<line x1="514.7" y1="2322.2" x2="514.7" y2="2326.2" stroke="#b01e1e" stroke-width="1.6" />
<rect x="492.1" y="2415.8" width="14.3" height="14.9" fill="#1c1c1c" />
<rect x="506.4" y="2326.2" width="16.6" height="104.4" fill="#b01e1e" />
<line x1="542.8" y1="2409.3" x2="542.8" y2="2415.5" stroke="#1c1c1c" stroke-width="1.6" />
<line x1="558.2" y1="2364.2" x2="558.2" y2="2371.2" stroke="#b01e1e" stroke-width="1.6" />
<rect x="535.6" y="2415.5" width="14.3" height="15.2" fill="#1c1c1c" />
<rect x="549.9" y="2371.2" width="16.6" height="59.5" fill="#b01e1e" />
<line x1="586.5" y1="2411" x2="586.5" y2="2416.6" stroke="#1c1c1c" stroke-width="1.6" />
<line x1="602" y1="2368" x2="602" y2="2377.6" stroke="#b01e1e" stroke-width="1.6" />
<rect x="579.4" y="2416.6" width="14.3" height="14" fill="#1c1c1c" />
<rect x="593.7" y="2377.6" width="16.6" height="53.1" fill="#b01e1e" />
<rect x="314.5" y="2131.2" width="300.3" height="299.4" fill="none" stroke="#000" stroke-width="2.5"/>
<line x1="307.5" y1="2430.6" x2="314.5" y2="2430.6" stroke="#000" stroke-width="2.4" />
<text x="300.6" y="2439.1" font-size="24.2" text-anchor="end" fill="#000" >0</text>
<line x1="307.5" y1="2370.7" x2="314.5" y2="2370.7" stroke="#000" stroke-width="2.4" />
<text x="300.6" y="2379.2" font-size="24.2" text-anchor="end" fill="#000" >100</text>
<line x1="307.5" y1="2310.9" x2="314.5" y2="2310.9" stroke="#000" stroke-width="2.4" />
<text x="300.6" y="2319.4" font-size="24.2" text-anchor="end" fill="#000" >200</text>
<line x1="307.5" y1="2251" x2="314.5" y2="2251" stroke="#000" stroke-width="2.4" />
<text x="300.6" y="2259.5" font-size="24.2" text-anchor="end" fill="#000" >300</text>
<line x1="307.5" y1="2191.1" x2="314.5" y2="2191.1" stroke="#000" stroke-width="2.4" />
<text x="300.6" y="2199.6" font-size="24.2" text-anchor="end" fill="#000" >400</text>
<line x1="307.5" y1="2131.2" x2="314.5" y2="2131.2" stroke="#000" stroke-width="2.4" />
<text x="300.6" y="2139.7" font-size="24.2" text-anchor="end" fill="#000" >500</text>
<text x="331.7" y="2455.5" font-size="23.6" text-anchor="middle" fill="#000" >0</text>
<text x="375.8" y="2455.5" font-size="23.6" text-anchor="middle" fill="#000" >1</text>
<text x="416.6" y="2455.5" font-size="23.6" text-anchor="middle" fill="#000" >5</text>
<text x="461.6" y="2455.5" font-size="23.6" text-anchor="middle" fill="#000" >10</text>
<text x="508.5" y="2455.5" font-size="23.6" text-anchor="middle" fill="#000" >20</text>
<text x="551" y="2455.5" font-size="23.6" text-anchor="middle" fill="#000" >40</text>
<text x="600.3" y="2455.5" font-size="23.6" text-anchor="middle" fill="#000" >100</text>
<line x1="366.4" y1="2226.9" x2="380.4" y2="2226.9" stroke="#000" stroke-width="1.3" />
<line x1="366.4" y1="2223.6" x2="366.4" y2="2230.2" stroke="#000" stroke-width="1.6" />
<line x1="380.4" y1="2223.6" x2="380.4" y2="2230.2" stroke="#000" stroke-width="1.6" />
<text x="373.4" y="2228.9" font-size="18" text-anchor="middle" fill="#000" font-weight="bold">**</text>
<line x1="415" y1="2159.8" x2="429.3" y2="2159.8" stroke="#000" stroke-width="1.3" />
<line x1="415" y1="2156.5" x2="415" y2="2163.1" stroke="#000" stroke-width="1.6" />
<line x1="429.3" y1="2156.5" x2="429.3" y2="2163.1" stroke="#000" stroke-width="1.6" />
<text x="422.1" y="2161.8" font-size="18" text-anchor="middle" fill="#000" font-weight="bold">**</text>
<line x1="458.7" y1="2326.5" x2="473.3" y2="2326.5" stroke="#000" stroke-width="1.3" />
<line x1="458.7" y1="2323.2" x2="458.7" y2="2329.8" stroke="#000" stroke-width="1.6" />
<line x1="473.3" y1="2323.2" x2="473.3" y2="2329.8" stroke="#000" stroke-width="1.6" />
<text x="466" y="2328.5" font-size="18" text-anchor="middle" fill="#000" font-weight="bold">*</text>
<line x1="500.5" y1="2307.4" x2="514.6" y2="2307.4" stroke="#000" stroke-width="1.3" />
<line x1="500.5" y1="2304.1" x2="500.5" y2="2310.7" stroke="#000" stroke-width="1.6" />
<line x1="514.6" y1="2304.1" x2="514.6" y2="2310.7" stroke="#000" stroke-width="1.6" />
<text x="507.6" y="2309.4" font-size="18" text-anchor="middle" fill="#000" font-weight="bold">*</text>
<text x="475.8" y="2124.7" font-size="23.7" text-anchor="middle" fill="#000" >dabrafenib (nM)</text>
<text x="0" y="0" font-size="23.6" text-anchor="middle" transform="translate(244,2272) rotate(-90)">colony (% vs untreated cells)</text>
<line x1="700.1" y1="2185.5" x2="700.1" y2="2228.7" stroke="#000" stroke-width="1.6" />
<line x1="715.3" y1="2188.7" x2="715.3" y2="2231.1" stroke="#b01e1e" stroke-width="1.6" />
<rect x="692.2" y="2228.7" width="15.8" height="199.7" fill="#000" />
<rect x="708" y="2231.1" width="14.5" height="197.4" fill="#b01e1e" />
<line x1="742.7" y1="2348.2" x2="742.7" y2="2365.1" stroke="#1c1c1c" stroke-width="1.6" />
<line x1="758.1" y1="2235.1" x2="758.1" y2="2259.4" stroke="#b01e1e" stroke-width="1.6" />
<rect x="735.6" y="2365.1" width="14.3" height="63.3" fill="#1c1c1c" />
<rect x="749.8" y="2259.4" width="16.6" height="169.1" fill="#b01e1e" />
<line x1="786.1" y1="2362.1" x2="786.1" y2="2384.6" stroke="#1c1c1c" stroke-width="1.6" />
<line x1="801.6" y1="2225.3" x2="801.6" y2="2252.6" stroke="#b01e1e" stroke-width="1.6" />
<rect x="778.9" y="2384.6" width="14.3" height="43.8" fill="#1c1c1c" />
<rect x="793.2" y="2252.6" width="16.8" height="175.8" fill="#b01e1e" />
<line x1="829.8" y1="2365.1" x2="829.8" y2="2386.6" stroke="#1c1c1c" stroke-width="1.6" />
<line x1="845.3" y1="2283.1" x2="845.3" y2="2320.9" stroke="#b01e1e" stroke-width="1.6" />
<rect x="822.6" y="2386.6" width="14.5" height="41.8" fill="#1c1c1c" />
<rect x="837.1" y="2320.9" width="16.3" height="107.5" fill="#b01e1e" />
<line x1="873.4" y1="2363.1" x2="873.4" y2="2385.6" stroke="#1c1c1c" stroke-width="1.6" />
<line x1="889" y1="2288.2" x2="889" y2="2324.1" stroke="#b01e1e" stroke-width="1.6" />
<rect x="866.2" y="2385.6" width="14.5" height="42.8" fill="#1c1c1c" />
<rect x="880.7" y="2324.1" width="16.6" height="104.4" fill="#b01e1e" />
<line x1="916.8" y1="2364.1" x2="916.8" y2="2385" stroke="#1c1c1c" stroke-width="1.6" />
<line x1="932.4" y1="2267.7" x2="932.4" y2="2320.1" stroke="#b01e1e" stroke-width="1.6" />
<rect x="909.5" y="2385" width="14.5" height="43.4" fill="#1c1c1c" />
<rect x="924.1" y="2320.1" width="16.6" height="108.3" fill="#b01e1e" />
<line x1="960.4" y1="2367.3" x2="960.4" y2="2388.2" stroke="#1c1c1c" stroke-width="1.6" />
<line x1="975.7" y1="2365.1" x2="975.7" y2="2371.1" stroke="#b01e1e" stroke-width="1.6" />
<rect x="953.2" y="2388.2" width="14.5" height="40.2" fill="#1c1c1c" />
<rect x="967.7" y="2371.1" width="16.1" height="57.4" fill="#b01e1e" />
<rect x="689.6" y="2129.7" width="299" height="298.7" fill="none" stroke="#000" stroke-width="2.5"/>
<line x1="682.6" y1="2428.4" x2="689.6" y2="2428.4" stroke="#000" stroke-width="2.4" />
<text x="676.6" y="2436.9" font-size="24.2" text-anchor="end" fill="#000" >0</text>
<line x1="682.6" y1="2328.9" x2="689.6" y2="2328.9" stroke="#000" stroke-width="2.4" />
<text x="676.6" y="2337.4" font-size="24.2" text-anchor="end" fill="#000" >50</text>
<line x1="682.6" y1="2229.3" x2="689.6" y2="2229.3" stroke="#000" stroke-width="2.4" />
<text x="676.6" y="2237.8" font-size="24.2" text-anchor="end" fill="#000" >100</text>
<line x1="682.6" y1="2129.7" x2="689.6" y2="2129.7" stroke="#000" stroke-width="2.4" />
<text x="676.6" y="2138.2" font-size="24.2" text-anchor="end" fill="#000" >150</text>
<text x="701.2" y="2454.5" font-size="23.6" text-anchor="middle" fill="#000" >0</text>
<text x="746.5" y="2454.5" font-size="23.6" text-anchor="middle" fill="#000" >0.1</text>
<text x="789.8" y="2454.5" font-size="23.6" text-anchor="middle" fill="#000" >0.2</text>
<text x="833.9" y="2454.5" font-size="23.6" text-anchor="middle" fill="#000" >0.5</text>
<text x="878.7" y="2454.5" font-size="23.6" text-anchor="middle" fill="#000" >0.7</text>
<text x="922.1" y="2454.5" font-size="23.6" text-anchor="middle" fill="#000" >1.0</text>
<text x="967.5" y="2454.5" font-size="23.6" text-anchor="middle" fill="#000" >2.0</text>
<line x1="744.7" y1="2222.1" x2="759.3" y2="2222.1" stroke="#000" stroke-width="1.3" />
<line x1="744.7" y1="2218.8" x2="744.7" y2="2225.4" stroke="#000" stroke-width="1.6" />
<line x1="759.3" y1="2218.8" x2="759.3" y2="2225.4" stroke="#000" stroke-width="1.6" />
<text x="752" y="2224.1" font-size="18" text-anchor="middle" fill="#000" font-weight="bold">**</text>
<line x1="787.3" y1="2212.4" x2="801.6" y2="2212.4" stroke="#000" stroke-width="1.3" />
<line x1="787.3" y1="2209.1" x2="787.3" y2="2215.7" stroke="#000" stroke-width="1.6" />
<line x1="801.6" y1="2209.1" x2="801.6" y2="2215.7" stroke="#000" stroke-width="1.6" />
<text x="794.5" y="2214.4" font-size="18" text-anchor="middle" fill="#000" font-weight="bold">**</text>
<line x1="830.7" y1="2268.2" x2="845" y2="2268.2" stroke="#000" stroke-width="1.3" />
<line x1="830.7" y1="2264.9" x2="830.7" y2="2271.5" stroke="#000" stroke-width="1.6" />
<line x1="845" y1="2264.9" x2="845" y2="2271.5" stroke="#000" stroke-width="1.6" />
<text x="837.9" y="2270.2" font-size="18" text-anchor="middle" fill="#000" font-weight="bold">*</text>
<text x="744.2" y="2087.9" font-size="23.7" text-anchor="start" fill="#000" >vemurafenib</text>
<text x="744.2" y="2117.2" font-size="23.7" text-anchor="start" fill="#000" >+ cobimetinib 2nM</text>
<line x1="1099.2" y1="2251.3" x2="1099.2" y2="2282.4" stroke="#000" stroke-width="1.6" />
<line x1="1114.2" y1="2253.9" x2="1114.2" y2="2283.8" stroke="#b01e1e" stroke-width="1.6" />
<rect x="1092.3" y="2282.4" width="13.8" height="142.5" fill="#000" />
<rect x="1106.1" y="2283.8" width="16.1" height="141" fill="#b01e1e" />
<line x1="1141.2" y1="2381.6" x2="1141.2" y2="2395.8" stroke="#1c1c1c" stroke-width="1.6" />
<line x1="1156" y1="2208.6" x2="1156" y2="2282.5" stroke="#b01e1e" stroke-width="1.6" />
<rect x="1134.4" y="2395.8" width="13.5" height="29.1" fill="#1c1c1c" />
<rect x="1148" y="2282.5" width="16.1" height="142.3" fill="#b01e1e" />
<line x1="1182.8" y1="2386.4" x2="1182.8" y2="2395.8" stroke="#1c1c1c" stroke-width="1.6" />
<line x1="1197.6" y1="2275.8" x2="1197.6" y2="2324.4" stroke="#b01e1e" stroke-width="1.6" />
<rect x="1176" y="2395.8" width="13.5" height="29.1" fill="#1c1c1c" />
<rect x="1189.5" y="2324.4" width="16.1" height="100.4" fill="#b01e1e" />
<line x1="1224.2" y1="2378.1" x2="1224.2" y2="2394" stroke="#1c1c1c" stroke-width="1.6" />
<line x1="1238.9" y1="2335.1" x2="1238.9" y2="2351.9" stroke="#b01e1e" stroke-width="1.6" />
<rect x="1217.3" y="2394" width="13.8" height="30.9" fill="#1c1c1c" />
<rect x="1231.1" y="2351.9" width="15.6" height="72.9" fill="#b01e1e" />
<line x1="1265.4" y1="2377.4" x2="1265.4" y2="2392.3" stroke="#1c1c1c" stroke-width="1.6" />
<line x1="1280.1" y1="2340" x2="1280.1" y2="2373.9" stroke="#b01e1e" stroke-width="1.6" />
<rect x="1258.7" y="2392.3" width="13.5" height="32.6" fill="#1c1c1c" />
<rect x="1272.2" y="2373.9" width="15.8" height="51" fill="#b01e1e" />
<line x1="1307.1" y1="2376.4" x2="1307.1" y2="2392.3" stroke="#1c1c1c" stroke-width="1.6" />
<line x1="1321.8" y1="2382" x2="1321.8" y2="2394.8" stroke="#b01e1e" stroke-width="1.6" />
<rect x="1300.3" y="2392.3" width="13.8" height="32.6" fill="#1c1c1c" />
<rect x="1314" y="2394.8" width="15.6" height="30.1" fill="#b01e1e" />
<line x1="1348.6" y1="2372.3" x2="1348.6" y2="2392.3" stroke="#1c1c1c" stroke-width="1.6" />
<line x1="1363.1" y1="2382" x2="1363.1" y2="2390.1" stroke="#b01e1e" stroke-width="1.6" />
<rect x="1341.8" y="2392.3" width="13.5" height="32.6" fill="#1c1c1c" />
<rect x="1355.4" y="2390.1" width="15.6" height="34.8" fill="#b01e1e" />
<rect x="1089.8" y="2139.9" width="285.2" height="284.9" fill="none" stroke="#000" stroke-width="2.5"/>
<line x1="1082.8" y1="2424.9" x2="1089.8" y2="2424.9" stroke="#000" stroke-width="2.4" />
<text x="1069.9" y="2433.4" font-size="24.2" text-anchor="end" fill="#000" >0</text>
<line x1="1082.8" y1="2353.6" x2="1089.8" y2="2353.6" stroke="#000" stroke-width="2.4" />
<text x="1069.9" y="2362.1" font-size="24.2" text-anchor="end" fill="#000" >50</text>
<line x1="1082.8" y1="2282.4" x2="1089.8" y2="2282.4" stroke="#000" stroke-width="2.4" />
<text x="1069.9" y="2290.9" font-size="24.2" text-anchor="end" fill="#000" >100</text>
<line x1="1082.8" y1="2211.2" x2="1089.8" y2="2211.2" stroke="#000" stroke-width="2.4" />
<text x="1069.9" y="2219.7" font-size="24.2" text-anchor="end" fill="#000" >150</text>
<line x1="1082.8" y1="2139.9" x2="1089.8" y2="2139.9" stroke="#000" stroke-width="2.4" />
<text x="1069.9" y="2148.4" font-size="24.2" text-anchor="end" fill="#000" >200</text>
<text x="1095" y="2454.5" font-size="23.6" text-anchor="middle" fill="#000" >0</text>
<text x="1140" y="2454.5" font-size="23.6" text-anchor="middle" fill="#000" >1</text>
<text x="1180.6" y="2454.5" font-size="23.6" text-anchor="middle" fill="#000" >5</text>
<text x="1225.7" y="2454.5" font-size="23.6" text-anchor="middle" fill="#000" >10</text>
<text x="1272.1" y="2454.5" font-size="23.6" text-anchor="middle" fill="#000" >20</text>
<text x="1314.9" y="2454.5" font-size="23.6" text-anchor="middle" fill="#000" >40</text>
<text x="1364.6" y="2454.5" font-size="23.6" text-anchor="middle" fill="#000" >100</text>
<line x1="1142.1" y1="2191.7" x2="1156.4" y2="2191.7" stroke="#000" stroke-width="1.3" />
<line x1="1142.1" y1="2188.4" x2="1142.1" y2="2195" stroke="#000" stroke-width="1.6" />
<line x1="1156.4" y1="2188.4" x2="1156.4" y2="2195" stroke="#000" stroke-width="1.6" />
<text x="1149.2" y="2193.7" font-size="18" text-anchor="middle" fill="#000" font-weight="bold">*</text>
<line x1="1183.7" y1="2263.1" x2="1197.7" y2="2263.1" stroke="#000" stroke-width="1.3" />
<line x1="1183.7" y1="2259.8" x2="1183.7" y2="2266.4" stroke="#000" stroke-width="1.6" />
<line x1="1197.7" y1="2259.8" x2="1197.7" y2="2266.4" stroke="#000" stroke-width="1.6" />
<text x="1190.7" y="2265.1" font-size="18" text-anchor="middle" fill="#000" font-weight="bold">*</text>
<text x="1150" y="2087.9" font-size="23.7" text-anchor="start" fill="#000" >dabrafenib (nM)</text>
<text x="1150.5" y="2117.2" font-size="23.7" text-anchor="start" fill="#000" >+ trametinib 4nM</text>
</svg></body></html>
